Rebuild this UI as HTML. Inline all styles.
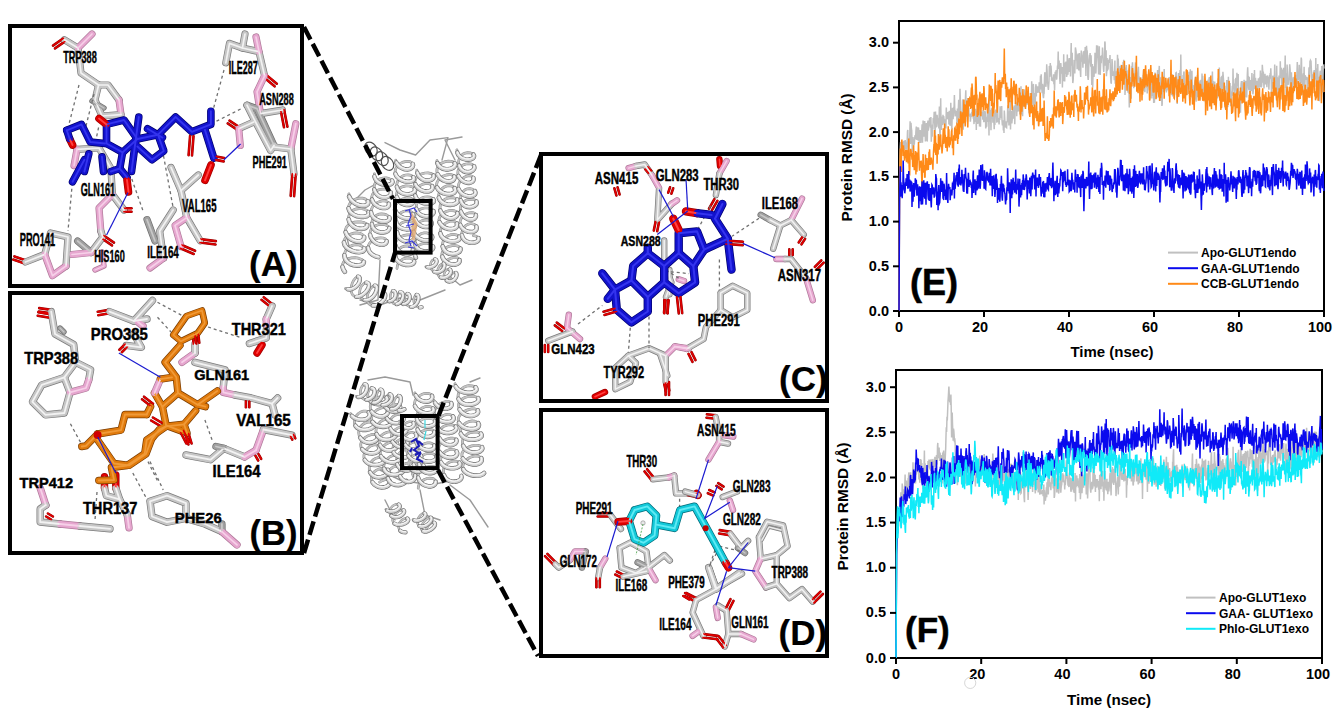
<!DOCTYPE html>
<html><head><meta charset="utf-8"><style>
html,body{margin:0;padding:0;background:#fff;width:1333px;height:714px;overflow:hidden}
svg{display:block}
</style></head><body>
<svg width="1333" height="714" viewBox="0 0 1333 714">
<rect width="1333" height="714" fill="#fff"/>
<rect x="899" y="21" width="425" height="290" fill="none" stroke="#000" stroke-width="2"/>
<polyline fill="none" stroke="#c0c0c0" stroke-width="1.5" stroke-linejoin="miter" points="899.0,311.0 899.6,179.9 900.3,147.1 900.6,142.1 900.9,144.6 901.3,158.5 901.6,143.3 901.9,143.0 902.2,150.8 902.6,143.2 902.9,142.8 903.2,142.9 903.5,144.9 903.9,140.8 904.2,150.1 904.5,147.4 904.8,149.0 905.2,140.1 905.5,142.3 905.8,145.3 906.1,149.8 906.5,146.2 906.8,142.9 907.1,144.1 907.5,131.0 907.8,130.0 908.1,160.5 908.4,161.1 908.8,146.8 909.1,145.1 909.4,139.3 909.7,137.6 910.1,121.2 910.4,143.8 910.7,143.1 911.0,122.7 911.4,129.0 911.7,130.3 912.0,140.2 912.3,152.0 912.7,139.6 913.0,136.9 913.3,147.1 913.6,145.0 914.0,139.2 914.3,144.8 914.6,139.0 915.0,135.8 915.3,135.3 915.6,139.5 915.9,131.3 916.3,126.6 916.6,129.9 916.9,140.1 917.2,129.6 917.6,137.0 917.9,127.2 918.2,140.8 918.5,127.5 918.9,131.8 919.2,142.9 919.5,137.8 919.8,133.2 920.2,130.1 920.5,139.6 920.8,142.9 921.2,132.7 921.5,135.5 921.8,130.2 922.1,124.4 922.5,142.8 922.8,131.4 923.1,120.4 923.4,130.1 923.8,136.7 924.1,125.1 924.4,126.3 924.7,121.0 925.1,129.9 925.4,141.4 925.7,132.7 926.0,133.2 926.4,123.0 926.7,125.1 927.0,140.7 927.3,140.8 927.7,123.4 928.0,120.6 928.3,130.7 928.7,127.8 929.0,123.1 929.3,121.7 929.6,117.7 930.0,121.8 930.3,125.5 930.6,127.7 930.9,117.1 931.3,141.8 931.6,130.3 931.9,125.8 932.2,136.7 932.6,124.6 932.9,129.6 933.2,118.1 933.5,123.3 933.9,117.9 934.2,111.8 934.5,117.1 934.9,128.7 935.2,136.7 935.5,111.4 935.8,120.5 936.2,127.4 936.5,122.0 936.8,123.3 937.1,114.8 937.5,119.3 937.8,120.5 938.1,126.6 938.4,118.2 938.8,128.4 939.1,116.7 939.4,106.5 939.7,129.1 940.1,142.4 940.4,120.0 940.7,98.2 941.0,122.1 941.4,130.0 941.7,116.5 942.0,125.0 942.4,124.2 942.7,122.6 943.0,114.7 943.3,120.5 943.7,116.1 944.0,118.7 944.3,124.8 944.6,121.9 945.0,126.3 945.3,119.3 945.6,126.9 945.9,128.4 946.3,107.5 946.6,114.7 946.9,116.4 947.2,112.0 947.6,118.6 947.9,118.5 948.2,113.0 948.6,112.7 948.9,124.5 949.2,110.8 949.5,119.1 949.9,124.9 950.2,125.0 950.5,120.7 950.8,102.7 951.2,121.4 951.5,114.9 951.8,132.2 952.1,118.7 952.5,107.7 952.8,114.3 953.1,119.2 953.4,113.1 953.8,107.6 954.1,106.4 954.4,95.1 954.7,106.9 955.1,116.4 955.4,114.8 955.7,113.8 956.1,112.0 956.4,112.5 956.7,110.9 957.0,125.7 957.4,108.5 957.7,115.8 958.0,122.5 958.3,109.0 958.7,99.9 959.0,104.4 959.3,108.1 959.6,118.1 960.0,88.8 960.3,98.0 960.6,116.9 960.9,118.6 961.3,111.7 961.6,123.5 961.9,112.0 962.3,114.3 962.6,100.7 962.9,99.5 963.2,129.8 963.6,114.6 963.9,124.6 964.2,104.5 964.5,107.4 964.9,105.0 965.2,117.8 965.5,97.0 965.8,90.3 966.2,114.3 966.5,108.4 966.8,115.7 967.1,112.2 967.5,121.7 967.8,98.0 968.1,115.8 968.4,114.6 968.8,107.8 969.1,115.7 969.4,114.3 969.8,116.7 970.1,113.8 970.4,121.7 970.7,117.7 971.1,114.8 971.4,115.2 971.7,112.1 972.0,114.3 972.4,106.2 972.7,113.1 973.0,113.4 973.3,117.9 973.7,117.9 974.0,124.1 974.3,110.9 974.6,121.4 975.0,120.8 975.3,111.6 975.6,108.9 976.0,115.0 976.3,130.0 976.6,113.5 976.9,110.8 977.3,124.1 977.6,109.3 977.9,117.9 978.2,123.6 978.6,115.0 978.9,115.1 979.2,112.0 979.5,126.4 979.9,101.6 980.2,115.5 980.5,126.8 980.8,111.8 981.2,116.1 981.5,111.6 981.8,116.1 982.1,114.9 982.5,112.2 982.8,119.8 983.1,109.9 983.5,117.0 983.8,122.1 984.1,115.6 984.4,111.0 984.8,115.5 985.1,121.9 985.4,111.3 985.7,128.4 986.1,126.7 986.4,117.4 986.7,126.8 987.0,117.6 987.4,116.1 987.7,107.8 988.0,120.9 988.3,121.8 988.7,114.1 989.0,135.4 989.3,94.6 989.7,116.1 990.0,121.7 990.3,110.0 990.6,114.6 991.0,130.2 991.3,114.2 991.6,108.3 991.9,117.8 992.3,118.8 992.6,112.7 992.9,122.8 993.2,114.2 993.6,114.1 993.9,121.4 994.2,129.2 994.5,121.6 994.9,125.1 995.2,110.4 995.5,113.9 995.8,109.6 996.2,113.9 996.5,114.0 996.8,122.7 997.2,112.9 997.5,101.2 997.8,115.8 998.1,121.8 998.5,119.7 998.8,122.0 999.1,124.4 999.4,118.1 999.8,120.1 1000.1,106.3 1000.4,114.9 1000.7,114.4 1001.1,109.1 1001.4,118.2 1001.7,106.1 1002.0,120.3 1002.4,125.4 1002.7,123.0 1003.0,120.4 1003.4,130.5 1003.7,121.7 1004.0,133.1 1004.3,110.6 1004.7,117.3 1005.0,123.7 1005.3,127.5 1005.6,123.8 1006.0,121.3 1006.3,127.3 1006.6,127.6 1006.9,121.4 1007.3,122.4 1007.6,110.3 1007.9,105.4 1008.2,113.3 1008.6,111.3 1008.9,125.6 1009.2,112.6 1009.5,114.6 1009.9,110.7 1010.2,100.2 1010.5,129.6 1010.9,115.7 1011.2,123.3 1011.5,110.9 1011.8,123.5 1012.2,119.6 1012.5,112.6 1012.8,107.3 1013.1,110.2 1013.5,117.9 1013.8,117.7 1014.1,105.4 1014.4,109.6 1014.8,124.3 1015.1,106.8 1015.4,105.8 1015.7,101.5 1016.1,110.3 1016.4,102.6 1016.7,116.2 1017.1,105.8 1017.4,111.8 1017.7,103.5 1018.0,98.4 1018.4,111.4 1018.7,108.8 1019.0,107.2 1019.3,97.0 1019.7,98.2 1020.0,114.4 1020.3,104.2 1020.6,99.1 1021.0,86.2 1021.3,114.3 1021.6,111.7 1021.9,95.3 1022.3,113.3 1022.6,116.3 1022.9,102.6 1023.2,94.8 1023.6,106.7 1023.9,99.4 1024.2,100.9 1024.6,89.4 1024.9,98.9 1025.2,92.9 1025.5,106.9 1025.9,104.2 1026.2,102.6 1026.5,91.7 1026.8,93.5 1027.2,104.7 1027.5,95.4 1027.8,92.2 1028.1,98.5 1028.5,101.1 1028.8,101.0 1029.1,113.2 1029.4,100.4 1029.8,96.6 1030.1,104.6 1030.4,93.1 1030.8,107.5 1031.1,104.1 1031.4,102.4 1031.7,81.3 1032.1,105.7 1032.4,93.6 1032.7,87.2 1033.0,90.1 1033.4,83.9 1033.7,100.3 1034.0,114.8 1034.3,92.9 1034.7,103.6 1035.0,98.8 1035.3,104.5 1035.6,87.2 1036.0,84.2 1036.3,96.4 1036.6,85.8 1036.9,89.4 1037.3,92.3 1037.6,91.1 1037.9,92.8 1038.3,86.2 1038.6,86.9 1038.9,92.4 1039.2,82.2 1039.6,93.0 1039.9,88.0 1040.2,85.4 1040.5,75.7 1040.9,89.6 1041.2,74.2 1041.5,83.2 1041.8,88.3 1042.2,93.3 1042.5,83.9 1042.8,85.8 1043.1,95.7 1043.5,98.1 1043.8,93.8 1044.1,93.5 1044.5,78.5 1044.8,72.2 1045.1,74.6 1045.4,79.3 1045.8,86.8 1046.1,84.4 1046.4,76.7 1046.7,64.3 1047.1,71.1 1047.4,82.5 1047.7,82.5 1048.0,86.6 1048.4,89.9 1048.7,85.6 1049.0,81.1 1049.3,66.1 1049.7,77.0 1050.0,68.7 1050.3,63.0 1050.7,75.4 1051.0,65.6 1051.3,70.4 1051.6,80.8 1052.0,77.5 1052.3,78.5 1052.6,80.6 1052.9,80.7 1053.3,77.6 1053.6,74.3 1053.9,84.2 1054.2,79.2 1054.6,90.3 1054.9,78.0 1055.2,71.8 1055.5,73.8 1055.9,73.1 1056.2,70.2 1056.5,79.7 1056.8,78.3 1057.2,71.5 1057.5,65.5 1057.8,68.9 1058.2,51.6 1058.5,69.0 1058.8,64.1 1059.1,60.5 1059.5,71.0 1059.8,79.1 1060.1,83.9 1060.4,73.8 1060.8,63.1 1061.1,67.2 1061.4,68.9 1061.7,73.7 1062.1,66.9 1062.4,87.4 1062.7,72.6 1063.0,70.4 1063.4,81.3 1063.7,54.3 1064.0,77.0 1064.4,79.9 1064.7,81.4 1065.0,62.4 1065.3,74.0 1065.7,63.8 1066.0,61.7 1066.3,63.7 1066.6,77.0 1067.0,74.4 1067.3,54.5 1067.6,74.0 1067.9,74.8 1068.3,69.2 1068.6,59.6 1068.9,61.6 1069.2,58.0 1069.6,72.0 1069.9,58.8 1070.2,58.6 1070.5,76.4 1070.9,54.8 1071.2,43.1 1071.5,65.5 1071.9,64.2 1072.2,52.7 1072.5,73.7 1072.8,83.1 1073.2,79.7 1073.5,72.7 1073.8,71.0 1074.1,60.7 1074.5,60.8 1074.8,73.4 1075.1,61.5 1075.4,47.5 1075.8,49.6 1076.1,51.8 1076.4,60.4 1076.7,54.5 1077.1,69.2 1077.4,58.5 1077.7,62.7 1078.1,53.6 1078.4,56.8 1078.7,70.5 1079.0,63.8 1079.4,53.0 1079.7,69.7 1080.0,69.1 1080.3,70.7 1080.7,77.0 1081.0,58.2 1081.3,50.5 1081.6,52.8 1082.0,57.9 1082.3,61.6 1082.6,60.0 1082.9,67.7 1083.3,56.0 1083.6,51.8 1083.9,51.6 1084.2,63.7 1084.6,61.6 1084.9,63.0 1085.2,47.1 1085.6,56.4 1085.9,75.9 1086.2,61.7 1086.5,45.8 1086.9,51.7 1087.2,51.5 1087.5,58.4 1087.8,76.8 1088.2,80.0 1088.5,76.1 1088.8,65.7 1089.1,59.5 1089.5,54.7 1089.8,62.0 1090.1,53.0 1090.4,61.0 1090.8,66.7 1091.1,55.2 1091.4,67.0 1091.8,85.1 1092.1,75.8 1092.4,64.0 1092.7,87.4 1093.1,70.7 1093.4,66.4 1093.7,74.5 1094.0,77.0 1094.4,69.2 1094.7,68.0 1095.0,52.7 1095.3,56.3 1095.7,73.5 1096.0,71.8 1096.3,58.5 1096.6,45.3 1097.0,54.6 1097.3,57.6 1097.6,45.6 1097.9,58.3 1098.3,63.9 1098.6,74.5 1098.9,69.7 1099.3,46.2 1099.6,70.3 1099.9,64.5 1100.2,74.9 1100.6,64.7 1100.9,55.9 1101.2,63.2 1101.5,57.0 1101.9,55.5 1102.2,57.5 1102.5,47.5 1102.8,52.8 1103.2,63.2 1103.5,69.0 1103.8,71.9 1104.1,61.7 1104.5,65.8 1104.8,41.5 1105.1,42.9 1105.5,60.4 1105.8,65.7 1106.1,50.3 1106.4,76.2 1106.8,70.9 1107.1,57.9 1107.4,70.2 1107.7,69.7 1108.1,68.6 1108.4,60.0 1108.7,62.2 1109.0,60.6 1109.4,58.7 1109.7,62.9 1110.0,55.1 1110.3,68.5 1110.7,77.7 1111.0,82.9 1111.3,83.0 1111.6,74.2 1112.0,59.1 1112.3,62.5 1112.6,70.0 1113.0,75.9 1113.3,73.1 1113.6,71.5 1113.9,72.6 1114.3,80.2 1114.6,74.3 1114.9,60.6 1115.2,83.8 1115.6,73.7 1115.9,87.0 1116.2,71.3 1116.5,75.3 1116.9,87.5 1117.2,72.6 1117.5,54.7 1117.8,64.6 1118.2,58.5 1118.5,67.4 1118.8,87.1 1119.2,70.2 1119.5,73.6 1119.8,83.3 1120.1,67.2 1120.5,67.5 1120.8,74.5 1121.1,64.8 1121.4,77.0 1121.8,67.6 1122.1,78.6 1122.4,69.2 1122.7,80.6 1123.1,62.1 1123.4,67.9 1123.7,59.7 1124.0,76.5 1124.4,78.0 1124.7,67.6 1125.0,95.0 1125.3,88.0 1125.7,69.0 1126.0,69.1 1126.3,65.0 1126.7,74.8 1127.0,70.2 1127.3,80.0 1127.6,87.9 1128.0,92.7 1128.3,84.6 1128.6,82.6 1128.9,83.0 1129.3,107.5 1129.6,100.9 1129.9,87.2 1130.2,77.1 1130.6,82.0 1130.9,85.8 1131.2,98.8 1131.5,66.2 1131.9,84.2 1132.2,65.7 1132.5,62.3 1132.9,72.2 1133.2,81.7 1133.5,78.3 1133.8,88.2 1134.2,79.0 1134.5,78.9 1134.8,74.5 1135.1,70.0 1135.5,62.4 1135.8,78.2 1136.1,70.3 1136.4,83.6 1136.8,87.8 1137.1,86.7 1137.4,89.4 1137.7,73.9 1138.1,70.5 1138.4,66.8 1138.7,76.7 1139.0,76.8 1139.4,83.9 1139.7,90.5 1140.0,78.9 1140.4,77.6 1140.7,88.7 1141.0,77.5 1141.3,94.1 1141.7,85.3 1142.0,86.9 1142.3,86.5 1142.6,91.1 1143.0,75.3 1143.3,74.7 1143.6,69.4 1143.9,76.9 1144.3,90.7 1144.6,86.6 1144.9,92.3 1145.2,80.2 1145.6,71.0 1145.9,76.1 1146.2,85.1 1146.6,85.5 1146.9,80.9 1147.2,93.5 1147.5,83.5 1147.9,80.6 1148.2,86.1 1148.5,86.5 1148.8,81.8 1149.2,88.9 1149.5,90.7 1149.8,77.9 1150.1,79.4 1150.5,67.7 1150.8,87.0 1151.1,98.5 1151.4,78.8 1151.8,73.8 1152.1,86.7 1152.4,96.1 1152.7,86.6 1153.1,98.5 1153.4,89.8 1153.7,103.0 1154.1,90.2 1154.4,102.7 1154.7,90.2 1155.0,72.5 1155.4,82.9 1155.7,77.0 1156.0,87.2 1156.3,91.9 1156.7,98.2 1157.0,78.7 1157.3,83.0 1157.6,70.1 1158.0,90.2 1158.3,87.3 1158.6,84.1 1158.9,72.3 1159.3,65.9 1159.6,84.9 1159.9,93.7 1160.3,101.0 1160.6,77.3 1160.9,83.2 1161.2,89.4 1161.6,86.0 1161.9,106.0 1162.2,104.1 1162.5,81.6 1162.9,80.5 1163.2,82.2 1163.5,92.3 1163.8,81.6 1164.2,69.1 1164.5,90.9 1164.8,86.1 1165.1,88.7 1165.5,82.7 1165.8,84.2 1166.1,85.9 1166.4,92.4 1166.8,86.9 1167.1,90.5 1167.4,87.6 1167.8,86.2 1168.1,79.9 1168.4,88.6 1168.7,88.7 1169.1,77.1 1169.4,85.0 1169.7,87.3 1170.0,78.6 1170.4,81.3 1170.7,83.6 1171.0,83.1 1171.3,95.1 1171.7,84.0 1172.0,74.0 1172.3,77.8 1172.6,96.5 1173.0,85.9 1173.3,93.1 1173.6,89.3 1174.0,85.4 1174.3,95.5 1174.6,77.0 1174.9,84.0 1175.3,78.7 1175.6,78.7 1175.9,72.8 1176.2,72.6 1176.6,94.7 1176.9,87.7 1177.2,104.0 1177.5,94.1 1177.9,82.0 1178.2,77.3 1178.5,73.1 1178.8,85.9 1179.2,83.3 1179.5,84.5 1179.8,75.1 1180.1,70.1 1180.5,85.1 1180.8,54.4 1181.1,78.3 1181.5,87.3 1181.8,81.5 1182.1,78.8 1182.4,79.9 1182.8,90.1 1183.1,75.0 1183.4,83.1 1183.7,72.8 1184.1,71.4 1184.4,93.3 1184.7,96.3 1185.0,97.3 1185.4,87.1 1185.7,86.2 1186.0,84.2 1186.3,92.8 1186.7,84.6 1187.0,74.5 1187.3,94.7 1187.7,90.3 1188.0,85.6 1188.3,87.5 1188.6,88.6 1189.0,72.6 1189.3,72.6 1189.6,76.3 1189.9,90.6 1190.3,69.2 1190.6,79.5 1190.9,89.9 1191.2,90.6 1191.6,92.0 1191.9,70.7 1192.2,81.3 1192.5,85.2 1192.9,104.6 1193.2,85.4 1193.5,95.6 1193.8,98.8 1194.2,85.1 1194.5,94.0 1194.8,82.1 1195.2,76.8 1195.5,99.7 1195.8,91.7 1196.1,101.6 1196.5,91.6 1196.8,81.0 1197.1,97.3 1197.4,75.0 1197.8,87.0 1198.1,97.3 1198.4,91.0 1198.7,81.9 1199.1,97.6 1199.4,90.1 1199.7,99.6 1200.0,80.6 1200.4,84.6 1200.7,90.4 1201.0,79.7 1201.4,96.3 1201.7,93.1 1202.0,73.6 1202.3,85.2 1202.7,75.7 1203.0,83.0 1203.3,92.3 1203.6,90.9 1204.0,87.8 1204.3,91.1 1204.6,95.4 1204.9,96.1 1205.3,102.1 1205.6,90.3 1205.9,85.1 1206.2,80.8 1206.6,100.9 1206.9,84.3 1207.2,87.0 1207.5,99.4 1207.9,89.8 1208.2,81.4 1208.5,81.8 1208.9,80.2 1209.2,77.9 1209.5,77.8 1209.8,85.5 1210.2,104.4 1210.5,98.2 1210.8,87.3 1211.1,91.5 1211.5,82.9 1211.8,79.8 1212.1,85.3 1212.4,71.4 1212.8,91.7 1213.1,80.9 1213.4,89.9 1213.7,94.7 1214.1,84.5 1214.4,92.0 1214.7,81.6 1215.1,95.8 1215.4,89.4 1215.7,95.1 1216.0,91.4 1216.4,91.7 1216.7,98.0 1217.0,84.8 1217.3,97.3 1217.7,98.2 1218.0,82.9 1218.3,78.3 1218.6,79.8 1219.0,82.8 1219.3,67.5 1219.6,92.6 1219.9,95.0 1220.3,97.7 1220.6,82.7 1220.9,84.0 1221.2,77.5 1221.6,77.0 1221.9,86.8 1222.2,94.2 1222.6,97.5 1222.9,71.7 1223.2,75.6 1223.5,79.7 1223.9,88.4 1224.2,89.4 1224.5,90.9 1224.8,91.1 1225.2,108.4 1225.5,93.3 1225.8,92.2 1226.1,86.3 1226.5,85.5 1226.8,80.0 1227.1,85.8 1227.4,80.5 1227.8,107.1 1228.1,101.6 1228.4,76.7 1228.8,95.0 1229.1,91.8 1229.4,82.7 1229.7,93.7 1230.1,83.1 1230.4,98.3 1230.7,106.2 1231.0,103.3 1231.4,105.2 1231.7,92.1 1232.0,91.4 1232.3,85.8 1232.7,95.7 1233.0,68.5 1233.3,83.6 1233.6,87.0 1234.0,83.6 1234.3,88.6 1234.6,93.1 1234.9,88.2 1235.3,80.1 1235.6,80.2 1235.9,77.9 1236.3,89.8 1236.6,94.6 1236.9,72.7 1237.2,85.8 1237.6,83.1 1237.9,80.3 1238.2,73.9 1238.5,95.4 1238.9,93.5 1239.2,92.6 1239.5,91.2 1239.8,108.4 1240.2,93.3 1240.5,112.8 1240.8,91.1 1241.1,83.6 1241.5,81.2 1241.8,95.5 1242.1,81.1 1242.5,92.5 1242.8,98.4 1243.1,97.7 1243.4,96.4 1243.8,87.5 1244.1,79.8 1244.4,102.2 1244.7,94.8 1245.1,80.8 1245.4,83.1 1245.7,81.1 1246.0,97.2 1246.4,80.8 1246.7,97.6 1247.0,87.1 1247.3,74.7 1247.7,67.2 1248.0,76.7 1248.3,75.9 1248.6,88.0 1249.0,90.0 1249.3,76.7 1249.6,83.0 1250.0,85.6 1250.3,96.9 1250.6,86.7 1250.9,80.0 1251.3,90.2 1251.6,90.3 1251.9,73.0 1252.2,80.2 1252.6,85.9 1252.9,94.3 1253.2,92.0 1253.5,88.3 1253.9,73.9 1254.2,86.7 1254.5,69.9 1254.8,88.2 1255.2,88.0 1255.5,77.9 1255.8,84.4 1256.2,90.8 1256.5,86.6 1256.8,80.7 1257.1,97.1 1257.5,89.0 1257.8,85.7 1258.1,87.3 1258.4,78.2 1258.8,86.7 1259.1,87.1 1259.4,83.8 1259.7,77.2 1260.1,83.3 1260.4,70.4 1260.7,87.3 1261.0,73.2 1261.4,87.4 1261.7,85.2 1262.0,80.2 1262.3,64.8 1262.7,70.6 1263.0,82.8 1263.3,71.6 1263.7,81.3 1264.0,88.5 1264.3,80.0 1264.6,80.7 1265.0,73.7 1265.3,84.4 1265.6,79.3 1265.9,75.8 1266.3,77.9 1266.6,80.9 1266.9,87.2 1267.2,75.4 1267.6,78.7 1267.9,76.5 1268.2,83.0 1268.5,81.5 1268.9,89.8 1269.2,82.5 1269.5,75.0 1269.9,78.7 1270.2,73.1 1270.5,76.3 1270.8,68.3 1271.2,79.1 1271.5,93.8 1271.8,80.2 1272.1,81.7 1272.5,88.8 1272.8,77.0 1273.1,77.2 1273.4,75.7 1273.8,81.7 1274.1,78.8 1274.4,77.5 1274.7,64.5 1275.1,81.7 1275.4,80.3 1275.7,76.8 1276.0,93.2 1276.4,96.3 1276.7,65.7 1277.0,90.6 1277.4,77.4 1277.7,85.8 1278.0,87.2 1278.3,97.6 1278.7,91.2 1279.0,75.5 1279.3,89.6 1279.6,76.6 1280.0,75.6 1280.3,61.2 1280.6,78.2 1280.9,68.0 1281.3,68.5 1281.6,78.3 1281.9,92.3 1282.2,69.4 1282.6,87.5 1282.9,84.7 1283.2,72.7 1283.6,67.8 1283.9,82.8 1284.2,79.8 1284.5,81.0 1284.9,69.3 1285.2,55.4 1285.5,87.9 1285.8,73.2 1286.2,100.9 1286.5,84.0 1286.8,89.1 1287.1,64.6 1287.5,73.6 1287.8,83.4 1288.1,83.9 1288.4,84.6 1288.8,78.4 1289.1,79.8 1289.4,73.3 1289.7,64.4 1290.1,69.1 1290.4,86.3 1290.7,93.9 1291.1,88.6 1291.4,72.3 1291.7,79.7 1292.0,84.3 1292.4,78.8 1292.7,90.3 1293.0,90.9 1293.3,77.3 1293.7,80.7 1294.0,82.8 1294.3,76.9 1294.6,82.9 1295.0,85.3 1295.3,84.0 1295.6,74.8 1295.9,77.1 1296.3,88.1 1296.6,83.4 1296.9,74.3 1297.3,61.9 1297.6,83.8 1297.9,77.0 1298.2,80.3 1298.6,72.1 1298.9,73.1 1299.2,64.9 1299.5,70.8 1299.9,81.1 1300.2,83.6 1300.5,76.4 1300.8,74.7 1301.2,57.6 1301.5,59.3 1301.8,83.4 1302.1,76.8 1302.5,89.1 1302.8,94.9 1303.1,76.4 1303.4,73.4 1303.8,85.8 1304.1,66.7 1304.4,83.6 1304.8,89.5 1305.1,75.8 1305.4,76.0 1305.7,79.2 1306.1,79.2 1306.4,76.8 1306.7,79.2 1307.0,80.1 1307.4,94.6 1307.7,93.7 1308.0,77.2 1308.3,84.0 1308.7,75.3 1309.0,67.4 1309.3,78.7 1309.6,76.2 1310.0,60.6 1310.3,68.2 1310.6,60.6 1311.0,61.3 1311.3,67.9 1311.6,76.8 1311.9,85.0 1312.3,89.4 1312.6,77.2 1312.9,74.3 1313.2,78.9 1313.6,71.5 1313.9,81.8 1314.2,70.1 1314.5,76.0 1314.9,78.2 1315.2,78.4 1315.5,79.3 1315.8,58.0 1316.2,86.7 1316.5,79.1 1316.8,68.3 1317.1,70.0 1317.5,78.9 1317.8,64.1 1318.1,83.8 1318.5,90.7 1318.8,76.8 1319.1,90.1 1319.4,101.2 1319.8,76.8 1320.1,71.7 1320.4,70.7 1320.7,80.6 1321.1,77.5 1321.4,86.2 1321.7,66.0 1322.0,68.8 1322.4,69.9 1322.7,92.5 1323.0,75.3 1323.3,65.3 1323.7,65.1 1324.0,68.6"/>
<polyline fill="none" stroke="#ff8a18" stroke-width="1.5" stroke-linejoin="miter" points="899.0,311.0 899.6,181.0 900.3,148.5 900.6,154.2 900.9,154.9 901.3,171.9 901.6,141.5 901.9,139.5 902.2,151.3 902.6,145.4 902.9,148.1 903.2,155.9 903.5,145.4 903.9,153.6 904.2,156.0 904.5,160.6 904.8,151.7 905.2,154.2 905.5,149.7 905.8,158.2 906.1,154.5 906.5,162.2 906.8,150.0 907.1,152.5 907.5,152.2 907.8,151.6 908.1,163.4 908.4,151.8 908.8,138.6 909.1,165.8 909.4,173.6 909.7,173.9 910.1,154.9 910.4,156.1 910.7,148.9 911.0,150.2 911.4,154.9 911.7,155.6 912.0,159.7 912.3,152.4 912.7,167.1 913.0,165.2 913.3,159.4 913.6,145.3 914.0,163.1 914.3,170.2 914.6,168.0 915.0,155.0 915.3,161.8 915.6,150.9 915.9,174.6 916.3,156.0 916.6,152.3 916.9,171.7 917.2,163.8 917.6,153.3 917.9,160.1 918.2,154.5 918.5,142.0 918.9,156.3 919.2,164.6 919.5,170.8 919.8,160.9 920.2,165.6 920.5,166.7 920.8,166.6 921.2,160.5 921.5,173.3 921.8,180.5 922.1,189.8 922.5,162.5 922.8,165.1 923.1,154.1 923.4,164.0 923.8,172.7 924.1,165.0 924.4,167.8 924.7,177.8 925.1,176.9 925.4,154.5 925.7,160.1 926.0,160.6 926.4,166.0 926.7,170.4 927.0,158.1 927.3,162.8 927.7,169.0 928.0,165.0 928.3,170.0 928.7,161.8 929.0,151.7 929.3,164.9 929.6,149.2 930.0,162.1 930.3,158.2 930.6,165.0 930.9,161.3 931.3,157.7 931.6,160.4 931.9,162.9 932.2,162.9 932.6,163.7 932.9,169.7 933.2,160.1 933.5,151.8 933.9,145.2 934.2,145.3 934.5,130.1 934.9,143.5 935.2,152.8 935.5,135.6 935.8,154.9 936.2,142.8 936.5,155.2 936.8,147.1 937.1,163.8 937.5,144.0 937.8,147.4 938.1,154.5 938.4,134.1 938.8,136.2 939.1,142.2 939.4,149.8 939.7,145.6 940.1,145.1 940.4,137.3 940.7,134.4 941.0,145.3 941.4,146.7 941.7,146.7 942.0,153.4 942.4,148.8 942.7,143.4 943.0,135.6 943.3,128.3 943.7,143.9 944.0,136.6 944.3,142.8 944.6,123.6 945.0,136.2 945.3,134.7 945.6,146.1 945.9,147.8 946.3,139.8 946.6,142.5 946.9,137.1 947.2,151.4 947.6,136.6 947.9,145.6 948.2,126.3 948.6,137.9 948.9,129.3 949.2,147.5 949.5,137.0 949.9,145.1 950.2,143.8 950.5,139.2 950.8,140.7 951.2,136.2 951.5,131.1 951.8,130.5 952.1,136.3 952.5,148.2 952.8,146.5 953.1,140.9 953.4,155.3 953.8,135.2 954.1,138.2 954.4,138.7 954.7,128.4 955.1,127.6 955.4,130.5 955.7,140.8 956.1,132.1 956.4,129.1 956.7,137.9 957.0,123.8 957.4,124.2 957.7,144.1 958.0,131.4 958.3,139.1 958.7,120.8 959.0,118.4 959.3,132.9 959.6,134.3 960.0,126.0 960.3,126.2 960.6,111.3 960.9,113.4 961.3,121.9 961.6,116.4 961.9,136.0 962.3,121.1 962.6,112.3 962.9,118.2 963.2,123.5 963.6,113.8 963.9,99.5 964.2,109.7 964.5,122.7 964.9,104.3 965.2,126.5 965.5,112.0 965.8,116.8 966.2,105.0 966.5,116.2 966.8,100.6 967.1,104.6 967.5,121.8 967.8,127.5 968.1,114.9 968.4,98.0 968.8,102.8 969.1,104.0 969.4,106.3 969.8,98.3 970.1,98.8 970.4,99.2 970.7,109.1 971.1,93.3 971.4,87.6 971.7,108.1 972.0,83.6 972.4,90.4 972.7,102.0 973.0,116.5 973.3,99.0 973.7,95.4 974.0,103.9 974.3,115.8 974.6,94.8 975.0,103.5 975.3,104.7 975.6,77.7 976.0,76.8 976.3,86.2 976.6,100.0 976.9,94.4 977.3,117.0 977.6,103.0 977.9,106.5 978.2,111.7 978.6,115.4 978.9,98.9 979.2,98.3 979.5,97.6 979.9,91.7 980.2,104.1 980.5,110.3 980.8,116.3 981.2,105.9 981.5,94.2 981.8,98.7 982.1,93.3 982.5,106.9 982.8,104.3 983.1,106.1 983.5,110.5 983.8,86.0 984.1,88.1 984.4,101.8 984.8,105.2 985.1,100.2 985.4,110.3 985.7,97.3 986.1,108.2 986.4,103.3 986.7,107.4 987.0,103.9 987.4,110.0 987.7,113.4 988.0,109.2 988.3,105.8 988.7,101.7 989.0,97.7 989.3,84.6 989.7,87.2 990.0,96.5 990.3,90.8 990.6,100.9 991.0,85.8 991.3,89.4 991.6,105.9 991.9,92.6 992.3,88.7 992.6,116.5 992.9,107.4 993.2,102.8 993.6,113.5 993.9,109.0 994.2,106.8 994.5,94.2 994.9,92.7 995.2,73.1 995.5,93.0 995.8,85.1 996.2,91.9 996.5,91.9 996.8,103.6 997.2,112.6 997.5,105.4 997.8,90.9 998.1,80.5 998.5,85.8 998.8,88.0 999.1,99.4 999.4,82.6 999.8,79.9 1000.1,94.4 1000.4,93.9 1000.7,101.1 1001.1,81.9 1001.4,84.7 1001.7,87.8 1002.0,82.1 1002.4,77.4 1002.7,79.8 1003.0,83.8 1003.4,82.3 1003.7,84.0 1004.0,66.1 1004.3,48.5 1004.7,78.7 1005.0,74.3 1005.3,74.4 1005.6,89.0 1006.0,85.5 1006.3,97.2 1006.6,82.5 1006.9,94.3 1007.3,92.0 1007.6,86.9 1007.9,95.0 1008.2,108.3 1008.6,101.4 1008.9,89.2 1009.2,93.2 1009.5,91.7 1009.9,102.2 1010.2,94.9 1010.5,88.4 1010.9,92.5 1011.2,78.3 1011.5,92.2 1011.8,102.6 1012.2,110.1 1012.5,89.3 1012.8,94.1 1013.1,86.7 1013.5,89.5 1013.8,80.7 1014.1,81.5 1014.4,95.3 1014.8,93.5 1015.1,86.5 1015.4,103.9 1015.7,86.3 1016.1,84.0 1016.4,85.4 1016.7,95.6 1017.1,94.1 1017.4,105.5 1017.7,98.8 1018.0,102.5 1018.4,98.0 1018.7,101.8 1019.0,96.4 1019.3,87.8 1019.7,106.2 1020.0,92.6 1020.3,113.2 1020.6,119.9 1021.0,104.9 1021.3,100.2 1021.6,95.5 1021.9,111.6 1022.3,102.7 1022.6,99.1 1022.9,89.0 1023.2,97.7 1023.6,94.8 1023.9,106.6 1024.2,103.1 1024.6,104.5 1024.9,95.5 1025.2,107.2 1025.5,109.0 1025.9,98.0 1026.2,85.4 1026.5,93.9 1026.8,97.0 1027.2,103.3 1027.5,93.4 1027.8,95.7 1028.1,86.7 1028.5,96.2 1028.8,109.4 1029.1,109.8 1029.4,113.6 1029.8,117.0 1030.1,97.4 1030.4,96.5 1030.8,113.4 1031.1,93.0 1031.4,100.8 1031.7,112.9 1032.1,105.1 1032.4,107.2 1032.7,113.8 1033.0,125.3 1033.4,112.1 1033.7,107.0 1034.0,129.6 1034.3,109.7 1034.7,104.5 1035.0,112.4 1035.3,109.8 1035.6,112.7 1036.0,118.2 1036.3,116.0 1036.6,101.6 1036.9,121.3 1037.3,112.6 1037.6,111.1 1037.9,118.3 1038.3,118.2 1038.6,126.3 1038.9,124.1 1039.2,116.7 1039.6,112.7 1039.9,122.1 1040.2,92.4 1040.5,115.1 1040.9,115.5 1041.2,118.9 1041.5,121.5 1041.8,108.6 1042.2,120.3 1042.5,108.8 1042.8,107.9 1043.1,126.0 1043.5,113.8 1043.8,125.0 1044.1,100.4 1044.5,120.2 1044.8,130.1 1045.1,141.0 1045.4,139.0 1045.8,133.0 1046.1,135.4 1046.4,138.2 1046.7,134.9 1047.1,130.5 1047.4,116.2 1047.7,138.9 1048.0,134.5 1048.4,136.2 1048.7,140.9 1049.0,139.5 1049.3,135.8 1049.7,121.1 1050.0,124.5 1050.3,127.8 1050.7,118.7 1051.0,118.7 1051.3,122.4 1051.6,118.0 1052.0,126.4 1052.3,116.1 1052.6,114.4 1052.9,120.8 1053.3,128.6 1053.6,107.6 1053.9,113.6 1054.2,90.4 1054.6,114.6 1054.9,107.9 1055.2,116.3 1055.5,112.3 1055.9,106.2 1056.2,117.6 1056.5,114.3 1056.8,110.9 1057.2,110.0 1057.5,105.4 1057.8,100.3 1058.2,100.1 1058.5,104.4 1058.8,110.0 1059.1,117.4 1059.5,115.6 1059.8,113.0 1060.1,102.0 1060.4,107.4 1060.8,116.0 1061.1,102.7 1061.4,111.1 1061.7,112.9 1062.1,108.9 1062.4,102.1 1062.7,124.1 1063.0,118.9 1063.4,106.9 1063.7,108.3 1064.0,112.7 1064.4,111.2 1064.7,94.9 1065.0,105.9 1065.3,99.1 1065.7,96.6 1066.0,106.2 1066.3,101.2 1066.6,107.3 1067.0,110.1 1067.3,115.0 1067.6,99.7 1067.9,106.3 1068.3,109.2 1068.6,114.6 1068.9,91.8 1069.2,94.8 1069.6,102.7 1069.9,109.3 1070.2,117.8 1070.5,104.9 1070.9,101.6 1071.2,114.7 1071.5,96.9 1071.9,95.5 1072.2,109.4 1072.5,109.5 1072.8,108.5 1073.2,103.3 1073.5,104.5 1073.8,117.1 1074.1,94.6 1074.5,98.4 1074.8,91.6 1075.1,89.9 1075.4,101.5 1075.8,99.8 1076.1,96.1 1076.4,94.9 1076.7,102.2 1077.1,107.7 1077.4,103.7 1077.7,109.5 1078.1,108.9 1078.4,120.9 1078.7,106.4 1079.0,111.9 1079.4,109.4 1079.7,104.6 1080.0,100.3 1080.3,86.3 1080.7,96.6 1081.0,112.4 1081.3,103.6 1081.6,107.4 1082.0,100.1 1082.3,107.2 1082.6,109.1 1082.9,107.9 1083.3,108.5 1083.6,118.5 1083.9,111.4 1084.2,104.3 1084.6,92.5 1084.9,101.7 1085.2,104.7 1085.6,97.5 1085.9,96.1 1086.2,86.9 1086.5,93.0 1086.9,99.4 1087.2,89.8 1087.5,85.8 1087.8,101.2 1088.2,99.9 1088.5,114.6 1088.8,107.4 1089.1,109.8 1089.5,104.9 1089.8,105.8 1090.1,103.5 1090.4,102.3 1090.8,97.2 1091.1,98.0 1091.4,104.7 1091.8,112.4 1092.1,93.6 1092.4,87.4 1092.7,101.2 1093.1,96.3 1093.4,112.2 1093.7,116.5 1094.0,107.0 1094.4,90.3 1094.7,106.8 1095.0,109.2 1095.3,89.7 1095.7,113.6 1096.0,98.7 1096.3,96.3 1096.6,101.4 1097.0,99.4 1097.3,79.0 1097.6,104.6 1097.9,104.4 1098.3,103.7 1098.6,107.2 1098.9,113.4 1099.3,90.9 1099.6,96.5 1099.9,114.2 1100.2,109.9 1100.6,99.8 1100.9,97.3 1101.2,111.8 1101.5,104.3 1101.9,99.6 1102.2,97.3 1102.5,96.7 1102.8,114.8 1103.2,89.2 1103.5,96.2 1103.8,84.8 1104.1,73.3 1104.5,95.3 1104.8,109.6 1105.1,95.9 1105.5,101.1 1105.8,104.6 1106.1,110.3 1106.4,89.3 1106.8,101.6 1107.1,112.5 1107.4,107.4 1107.7,112.0 1108.1,102.3 1108.4,104.6 1108.7,110.5 1109.0,98.3 1109.4,105.5 1109.7,96.1 1110.0,89.3 1110.3,100.9 1110.7,106.2 1111.0,100.5 1111.3,93.4 1111.6,98.6 1112.0,98.0 1112.3,98.5 1112.6,95.3 1113.0,91.2 1113.3,100.5 1113.6,100.3 1113.9,95.3 1114.3,99.3 1114.6,93.0 1114.9,87.5 1115.2,90.1 1115.6,94.9 1115.9,96.9 1116.2,75.9 1116.5,77.2 1116.9,93.3 1117.2,94.4 1117.5,71.8 1117.8,68.4 1118.2,78.3 1118.5,71.7 1118.8,91.1 1119.2,83.1 1119.5,74.4 1119.8,92.9 1120.1,88.4 1120.5,74.6 1120.8,68.3 1121.1,80.9 1121.4,76.9 1121.8,65.1 1122.1,78.5 1122.4,89.7 1122.7,82.1 1123.1,82.9 1123.4,69.2 1123.7,75.2 1124.0,84.7 1124.4,60.8 1124.7,78.6 1125.0,75.1 1125.3,72.6 1125.7,71.1 1126.0,75.8 1126.3,73.6 1126.7,78.5 1127.0,90.8 1127.3,84.1 1127.6,82.3 1128.0,81.7 1128.3,79.0 1128.6,84.6 1128.9,70.0 1129.3,64.4 1129.6,94.0 1129.9,83.3 1130.2,86.5 1130.6,102.9 1130.9,82.3 1131.2,85.6 1131.5,84.5 1131.9,86.5 1132.2,72.8 1132.5,68.1 1132.9,74.9 1133.2,73.2 1133.5,79.4 1133.8,78.9 1134.2,86.1 1134.5,81.5 1134.8,86.6 1135.1,78.9 1135.5,73.3 1135.8,76.2 1136.1,69.8 1136.4,55.8 1136.8,91.8 1137.1,83.4 1137.4,86.1 1137.7,85.9 1138.1,93.3 1138.4,83.6 1138.7,83.7 1139.0,86.9 1139.4,84.6 1139.7,86.8 1140.0,101.8 1140.4,77.5 1140.7,82.8 1141.0,89.4 1141.3,80.8 1141.7,86.6 1142.0,100.5 1142.3,78.9 1142.6,94.6 1143.0,86.6 1143.3,81.8 1143.6,70.6 1143.9,69.1 1144.3,77.2 1144.6,86.9 1144.9,86.5 1145.2,74.0 1145.6,65.2 1145.9,73.3 1146.2,85.1 1146.6,74.3 1146.9,83.2 1147.2,85.7 1147.5,85.3 1147.9,78.1 1148.2,78.9 1148.5,73.3 1148.8,69.4 1149.2,74.9 1149.5,99.6 1149.8,100.6 1150.1,85.7 1150.5,83.8 1150.8,65.1 1151.1,78.5 1151.4,82.8 1151.8,75.0 1152.1,72.0 1152.4,82.0 1152.7,78.7 1153.1,91.1 1153.4,92.7 1153.7,75.2 1154.1,92.6 1154.4,77.9 1154.7,76.2 1155.0,75.1 1155.4,73.7 1155.7,76.3 1156.0,99.2 1156.3,95.6 1156.7,91.5 1157.0,78.1 1157.3,91.5 1157.6,91.5 1158.0,88.7 1158.3,74.3 1158.6,93.4 1158.9,97.5 1159.3,82.3 1159.6,101.1 1159.9,85.7 1160.3,88.4 1160.6,98.3 1160.9,91.3 1161.2,94.4 1161.6,85.6 1161.9,81.9 1162.2,71.8 1162.5,81.6 1162.9,83.2 1163.2,89.2 1163.5,86.2 1163.8,76.7 1164.2,98.8 1164.5,83.2 1164.8,89.1 1165.1,85.7 1165.5,82.8 1165.8,77.8 1166.1,81.6 1166.4,87.8 1166.8,83.6 1167.1,85.1 1167.4,87.3 1167.8,84.5 1168.1,78.4 1168.4,83.0 1168.7,84.0 1169.1,96.2 1169.4,89.7 1169.7,102.4 1170.0,84.4 1170.4,93.6 1170.7,77.6 1171.0,59.7 1171.3,83.2 1171.7,74.9 1172.0,80.5 1172.3,89.8 1172.6,94.5 1173.0,84.2 1173.3,74.9 1173.6,81.1 1174.0,98.1 1174.3,98.5 1174.6,92.0 1174.9,77.4 1175.3,82.6 1175.6,83.6 1175.9,76.6 1176.2,86.6 1176.6,88.2 1176.9,89.4 1177.2,102.8 1177.5,87.8 1177.9,84.6 1178.2,79.2 1178.5,95.7 1178.8,96.8 1179.2,82.7 1179.5,84.3 1179.8,76.1 1180.1,92.5 1180.5,87.9 1180.8,94.0 1181.1,87.5 1181.5,92.4 1181.8,85.3 1182.1,79.1 1182.4,80.9 1182.8,101.8 1183.1,84.6 1183.4,84.3 1183.7,96.6 1184.1,98.4 1184.4,91.6 1184.7,85.3 1185.0,92.1 1185.4,103.5 1185.7,90.8 1186.0,88.6 1186.3,69.4 1186.7,95.3 1187.0,70.5 1187.3,70.8 1187.7,82.7 1188.0,74.7 1188.3,85.5 1188.6,81.0 1189.0,94.0 1189.3,90.6 1189.6,98.8 1189.9,105.5 1190.3,96.6 1190.6,97.6 1190.9,87.7 1191.2,79.6 1191.6,89.4 1191.9,90.1 1192.2,89.2 1192.5,104.4 1192.9,92.3 1193.2,91.4 1193.5,91.7 1193.8,100.5 1194.2,110.0 1194.5,98.2 1194.8,90.6 1195.2,80.4 1195.5,79.6 1195.8,76.8 1196.1,85.0 1196.5,80.7 1196.8,90.8 1197.1,86.6 1197.4,83.1 1197.8,67.8 1198.1,84.1 1198.4,100.7 1198.7,83.2 1199.1,96.6 1199.4,94.0 1199.7,95.4 1200.0,100.8 1200.4,83.8 1200.7,85.6 1201.0,96.1 1201.4,93.2 1201.7,96.6 1202.0,88.9 1202.3,95.2 1202.7,100.0 1203.0,100.2 1203.3,98.7 1203.6,92.3 1204.0,100.7 1204.3,96.1 1204.6,90.6 1204.9,73.7 1205.3,81.7 1205.6,115.3 1205.9,103.4 1206.2,99.6 1206.6,92.8 1206.9,80.9 1207.2,84.8 1207.5,110.8 1207.9,95.9 1208.2,93.9 1208.5,90.9 1208.9,82.5 1209.2,100.5 1209.5,87.1 1209.8,106.4 1210.2,97.3 1210.5,92.3 1210.8,75.5 1211.1,95.9 1211.5,109.2 1211.8,93.0 1212.1,100.1 1212.4,83.6 1212.8,98.2 1213.1,103.3 1213.4,87.2 1213.7,92.8 1214.1,86.7 1214.4,105.2 1214.7,84.5 1215.1,97.8 1215.4,89.6 1215.7,102.6 1216.0,110.4 1216.4,101.8 1216.7,96.1 1217.0,83.3 1217.3,90.2 1217.7,88.9 1218.0,89.1 1218.3,69.1 1218.6,96.4 1219.0,86.3 1219.3,95.3 1219.6,94.3 1219.9,100.7 1220.3,88.3 1220.6,105.1 1220.9,109.9 1221.2,102.0 1221.6,107.9 1221.9,94.1 1222.2,89.0 1222.6,101.5 1222.9,92.0 1223.2,101.6 1223.5,99.0 1223.9,97.9 1224.2,82.4 1224.5,94.0 1224.8,104.4 1225.2,107.1 1225.5,90.4 1225.8,109.9 1226.1,104.9 1226.5,103.0 1226.8,119.6 1227.1,107.5 1227.4,92.5 1227.8,95.1 1228.1,105.1 1228.4,94.6 1228.8,93.4 1229.1,80.8 1229.4,100.4 1229.7,102.5 1230.1,99.5 1230.4,100.3 1230.7,98.7 1231.0,99.9 1231.4,105.1 1231.7,113.9 1232.0,107.6 1232.3,112.9 1232.7,111.5 1233.0,107.1 1233.3,97.4 1233.6,92.2 1234.0,106.5 1234.3,99.1 1234.6,93.2 1234.9,98.8 1235.3,113.3 1235.6,121.3 1235.9,99.1 1236.3,92.6 1236.6,96.3 1236.9,108.2 1237.2,90.7 1237.6,88.3 1237.9,98.1 1238.2,102.1 1238.5,117.4 1238.9,99.0 1239.2,113.8 1239.5,98.7 1239.8,94.5 1240.2,98.7 1240.5,87.5 1240.8,100.4 1241.1,96.1 1241.5,93.3 1241.8,97.1 1242.1,103.5 1242.5,91.6 1242.8,95.3 1243.1,101.2 1243.4,102.5 1243.8,100.4 1244.1,82.2 1244.4,95.5 1244.7,101.7 1245.1,110.0 1245.4,113.3 1245.7,119.7 1246.0,103.8 1246.4,101.6 1246.7,109.7 1247.0,115.5 1247.3,107.4 1247.7,107.0 1248.0,113.6 1248.3,101.8 1248.6,100.1 1249.0,101.3 1249.3,94.8 1249.6,104.9 1250.0,90.9 1250.3,106.9 1250.6,98.4 1250.9,95.2 1251.3,101.8 1251.6,98.4 1251.9,111.0 1252.2,116.0 1252.6,106.5 1252.9,108.5 1253.2,98.1 1253.5,100.2 1253.9,95.9 1254.2,97.2 1254.5,98.5 1254.8,99.7 1255.2,103.9 1255.5,105.7 1255.8,85.6 1256.2,111.7 1256.5,105.4 1256.8,94.0 1257.1,95.9 1257.5,88.3 1257.8,93.5 1258.1,109.6 1258.4,106.0 1258.8,113.9 1259.1,96.3 1259.4,88.1 1259.7,101.6 1260.1,96.9 1260.4,103.5 1260.7,113.4 1261.0,107.7 1261.4,115.5 1261.7,109.0 1262.0,100.9 1262.3,94.5 1262.7,88.2 1263.0,99.8 1263.3,98.0 1263.7,95.9 1264.0,94.2 1264.3,121.6 1264.6,111.4 1265.0,95.8 1265.3,107.5 1265.6,99.1 1265.9,92.1 1266.3,112.7 1266.6,103.7 1266.9,97.9 1267.2,98.2 1267.6,110.8 1267.9,98.5 1268.2,102.7 1268.5,92.4 1268.9,92.9 1269.2,101.0 1269.5,96.9 1269.9,103.0 1270.2,104.4 1270.5,112.0 1270.8,102.7 1271.2,91.8 1271.5,94.6 1271.8,96.4 1272.1,101.7 1272.5,102.1 1272.8,91.7 1273.1,107.4 1273.4,82.0 1273.8,93.1 1274.1,77.4 1274.4,81.6 1274.7,95.6 1275.1,89.5 1275.4,91.9 1275.7,90.7 1276.0,87.6 1276.4,97.7 1276.7,100.8 1277.0,99.8 1277.4,107.2 1277.7,99.9 1278.0,94.0 1278.3,92.2 1278.7,92.2 1279.0,96.9 1279.3,88.3 1279.6,109.4 1280.0,101.0 1280.3,98.2 1280.6,87.4 1280.9,86.5 1281.3,85.1 1281.6,91.1 1281.9,85.0 1282.2,99.5 1282.6,94.2 1282.9,110.9 1283.2,83.6 1283.6,77.8 1283.9,94.3 1284.2,100.4 1284.5,112.2 1284.9,110.5 1285.2,96.5 1285.5,95.2 1285.8,105.7 1286.2,100.3 1286.5,100.3 1286.8,90.9 1287.1,86.6 1287.5,93.1 1287.8,92.0 1288.1,92.6 1288.4,109.9 1288.8,95.5 1289.1,93.9 1289.4,86.8 1289.7,106.2 1290.1,89.7 1290.4,97.1 1290.7,91.4 1291.1,82.3 1291.4,102.0 1291.7,105.5 1292.0,87.5 1292.4,100.5 1292.7,102.2 1293.0,89.8 1293.3,93.2 1293.7,86.0 1294.0,88.1 1294.3,91.3 1294.6,83.8 1295.0,72.0 1295.3,87.8 1295.6,78.7 1295.9,79.3 1296.3,87.8 1296.6,87.0 1296.9,98.3 1297.3,98.4 1297.6,91.1 1297.9,91.9 1298.2,81.0 1298.6,99.6 1298.9,96.0 1299.2,97.9 1299.5,94.3 1299.9,82.6 1300.2,99.1 1300.5,86.3 1300.8,94.9 1301.2,94.8 1301.5,83.9 1301.8,91.7 1302.1,85.8 1302.5,88.9 1302.8,91.9 1303.1,94.2 1303.4,106.0 1303.8,100.9 1304.1,92.0 1304.4,89.5 1304.8,102.7 1305.1,85.5 1305.4,84.7 1305.7,99.9 1306.1,101.5 1306.4,89.2 1306.7,104.7 1307.0,100.2 1307.4,93.3 1307.7,92.2 1308.0,91.3 1308.3,87.4 1308.7,96.1 1309.0,95.7 1309.3,74.7 1309.6,97.8 1310.0,95.7 1310.3,90.6 1310.6,95.5 1311.0,81.3 1311.3,87.2 1311.6,83.0 1311.9,109.6 1312.3,85.0 1312.6,79.1 1312.9,93.3 1313.2,79.9 1313.6,85.0 1313.9,80.8 1314.2,72.5 1314.5,84.4 1314.9,96.5 1315.2,91.3 1315.5,100.3 1315.8,98.7 1316.2,97.9 1316.5,97.2 1316.8,81.6 1317.1,80.4 1317.5,94.3 1317.8,81.0 1318.1,100.8 1318.5,97.3 1318.8,92.1 1319.1,79.9 1319.4,80.6 1319.8,83.0 1320.1,76.5 1320.4,79.7 1320.7,75.1 1321.1,91.6 1321.4,103.2 1321.7,95.5 1322.0,83.4 1322.4,85.0 1322.7,80.2 1323.0,80.4 1323.3,82.0 1323.7,79.9 1324.0,92.0"/>
<polyline fill="none" stroke="#0a0aee" stroke-width="1.5" stroke-linejoin="miter" points="899.0,311.0 899.6,195.2 900.3,166.2 900.6,196.7 900.9,182.4 901.3,186.3 901.6,186.6 901.9,185.0 902.2,198.2 902.6,188.4 902.9,190.7 903.2,160.5 903.5,176.0 903.9,184.3 904.2,186.0 904.5,189.5 904.8,193.3 905.2,189.5 905.5,182.3 905.8,186.0 906.1,178.2 906.5,184.9 906.8,185.1 907.1,174.1 907.5,178.9 907.8,187.9 908.1,187.9 908.4,182.6 908.8,171.0 909.1,184.5 909.4,187.8 909.7,179.5 910.1,191.5 910.4,190.2 910.7,181.2 911.0,181.3 911.4,185.0 911.7,181.8 912.0,206.9 912.3,184.8 912.7,194.0 913.0,201.7 913.3,189.3 913.6,183.1 914.0,190.2 914.3,196.7 914.6,190.2 915.0,189.3 915.3,178.3 915.6,180.6 915.9,185.3 916.3,179.8 916.6,188.2 916.9,195.8 917.2,186.6 917.6,184.3 917.9,189.8 918.2,195.4 918.5,189.4 918.9,208.2 919.2,189.4 919.5,186.2 919.8,201.3 920.2,192.6 920.5,198.0 920.8,186.7 921.2,204.6 921.5,200.8 921.8,187.9 922.1,181.4 922.5,204.4 922.8,197.9 923.1,190.2 923.4,195.3 923.8,180.3 924.1,197.2 924.4,190.1 924.7,198.7 925.1,182.7 925.4,189.4 925.7,193.7 926.0,204.8 926.4,182.4 926.7,183.8 927.0,184.1 927.3,181.4 927.7,186.7 928.0,195.3 928.3,198.8 928.7,199.7 929.0,183.9 929.3,200.9 929.6,198.8 930.0,196.3 930.3,191.7 930.6,188.0 930.9,200.7 931.3,207.4 931.6,196.4 931.9,184.7 932.2,185.2 932.6,189.4 932.9,194.4 933.2,191.2 933.5,194.4 933.9,187.4 934.2,197.7 934.5,193.4 934.9,194.2 935.2,189.6 935.5,190.9 935.8,174.0 936.2,177.6 936.5,178.6 936.8,205.1 937.1,199.2 937.5,199.7 937.8,191.5 938.1,210.3 938.4,189.5 938.8,185.1 939.1,201.6 939.4,203.4 939.7,202.6 940.1,196.2 940.4,190.2 940.7,178.3 941.0,192.0 941.4,188.4 941.7,191.9 942.0,180.7 942.4,185.3 942.7,181.6 943.0,198.7 943.3,196.2 943.7,200.1 944.0,183.7 944.3,185.7 944.6,193.2 945.0,196.0 945.3,189.6 945.6,196.7 945.9,200.0 946.3,190.2 946.6,172.9 946.9,188.5 947.2,194.5 947.6,200.4 947.9,203.0 948.2,189.7 948.6,183.8 948.9,188.4 949.2,187.0 949.5,188.1 949.9,188.0 950.2,200.2 950.5,195.2 950.8,189.6 951.2,194.6 951.5,193.5 951.8,195.5 952.1,192.3 952.5,182.6 952.8,189.3 953.1,189.0 953.4,181.6 953.8,180.8 954.1,172.7 954.4,198.5 954.7,183.0 955.1,188.9 955.4,185.6 955.7,179.5 956.1,176.0 956.4,175.2 956.7,181.5 957.0,172.1 957.4,183.6 957.7,185.3 958.0,178.6 958.3,186.8 958.7,168.6 959.0,172.3 959.3,164.5 959.6,178.7 960.0,184.8 960.3,182.1 960.6,177.0 960.9,185.4 961.3,180.2 961.6,181.7 961.9,169.8 962.3,183.5 962.6,174.2 962.9,184.3 963.2,189.2 963.6,188.5 963.9,191.9 964.2,182.9 964.5,174.1 964.9,178.3 965.2,175.9 965.5,167.9 965.8,176.0 966.2,178.5 966.5,182.7 966.8,193.6 967.1,178.8 967.5,193.7 967.8,179.6 968.1,181.0 968.4,172.9 968.8,179.7 969.1,187.0 969.4,180.1 969.8,185.2 970.1,183.6 970.4,181.6 970.7,182.4 971.1,183.0 971.4,187.9 971.7,184.4 972.0,197.9 972.4,186.6 972.7,191.5 973.0,175.6 973.3,170.5 973.7,193.1 974.0,183.2 974.3,182.7 974.6,189.4 975.0,179.4 975.3,184.3 975.6,195.1 976.0,186.8 976.3,183.8 976.6,181.1 976.9,190.4 977.3,179.0 977.6,175.3 977.9,188.3 978.2,187.9 978.6,183.6 978.9,186.1 979.2,169.6 979.5,176.8 979.9,187.7 980.2,188.7 980.5,183.6 980.8,164.9 981.2,178.5 981.5,179.7 981.8,177.1 982.1,180.6 982.5,164.2 982.8,181.0 983.1,175.7 983.5,178.7 983.8,176.1 984.1,188.8 984.4,170.3 984.8,179.7 985.1,181.0 985.4,188.7 985.7,189.1 986.1,179.8 986.4,174.4 986.7,174.9 987.0,171.8 987.4,174.7 987.7,180.7 988.0,176.3 988.3,177.1 988.7,182.5 989.0,177.9 989.3,172.7 989.7,179.2 990.0,185.4 990.3,179.0 990.6,168.8 991.0,182.0 991.3,184.5 991.6,185.6 991.9,175.9 992.3,196.2 992.6,185.1 992.9,176.3 993.2,189.0 993.6,175.3 993.9,179.0 994.2,188.1 994.5,184.9 994.9,197.0 995.2,193.0 995.5,174.4 995.8,190.0 996.2,173.7 996.5,184.0 996.8,178.7 997.2,184.5 997.5,203.0 997.8,195.4 998.1,187.9 998.5,196.1 998.8,199.7 999.1,188.0 999.4,192.7 999.8,201.7 1000.1,196.6 1000.4,184.0 1000.7,190.8 1001.1,182.2 1001.4,175.8 1001.7,185.3 1002.0,196.4 1002.4,200.6 1002.7,192.3 1003.0,183.6 1003.4,186.0 1003.7,184.7 1004.0,191.8 1004.3,188.2 1004.7,193.1 1005.0,193.3 1005.3,200.6 1005.6,204.4 1006.0,197.2 1006.3,200.0 1006.6,199.6 1006.9,187.3 1007.3,190.0 1007.6,168.2 1007.9,177.5 1008.2,191.3 1008.6,184.2 1008.9,185.5 1009.2,193.5 1009.5,182.2 1009.9,193.2 1010.2,212.9 1010.5,189.2 1010.9,193.7 1011.2,179.2 1011.5,191.3 1011.8,198.2 1012.2,179.7 1012.5,194.4 1012.8,188.6 1013.1,177.8 1013.5,185.0 1013.8,188.2 1014.1,187.6 1014.4,181.9 1014.8,192.6 1015.1,184.8 1015.4,183.0 1015.7,169.5 1016.1,185.8 1016.4,194.2 1016.7,184.0 1017.1,189.8 1017.4,186.1 1017.7,186.3 1018.0,178.6 1018.4,190.1 1018.7,188.8 1019.0,206.6 1019.3,198.7 1019.7,178.7 1020.0,190.1 1020.3,193.0 1020.6,197.5 1021.0,185.3 1021.3,185.2 1021.6,195.2 1021.9,183.9 1022.3,184.0 1022.6,180.4 1022.9,189.7 1023.2,174.4 1023.6,180.4 1023.9,185.7 1024.2,190.0 1024.6,188.9 1024.9,180.5 1025.2,186.6 1025.5,178.2 1025.9,179.7 1026.2,174.3 1026.5,176.9 1026.8,184.0 1027.2,199.5 1027.5,187.0 1027.8,180.2 1028.1,183.1 1028.5,180.9 1028.8,188.0 1029.1,189.1 1029.4,193.5 1029.8,177.5 1030.1,182.4 1030.4,188.5 1030.8,196.2 1031.1,189.4 1031.4,175.8 1031.7,179.7 1032.1,189.5 1032.4,175.9 1032.7,172.6 1033.0,175.0 1033.4,177.0 1033.7,174.8 1034.0,178.8 1034.3,178.1 1034.7,189.4 1035.0,175.3 1035.3,181.2 1035.6,169.4 1036.0,196.5 1036.3,182.9 1036.6,177.5 1036.9,185.9 1037.3,182.1 1037.6,179.0 1037.9,179.5 1038.3,187.8 1038.6,187.0 1038.9,178.1 1039.2,174.0 1039.6,181.7 1039.9,183.8 1040.2,183.4 1040.5,177.1 1040.9,191.0 1041.2,196.5 1041.5,187.1 1041.8,193.8 1042.2,191.6 1042.5,186.1 1042.8,181.8 1043.1,192.2 1043.5,180.9 1043.8,197.2 1044.1,184.0 1044.5,196.5 1044.8,197.3 1045.1,183.3 1045.4,187.6 1045.8,191.5 1046.1,189.9 1046.4,182.7 1046.7,184.8 1047.1,185.1 1047.4,177.1 1047.7,188.3 1048.0,189.2 1048.4,189.8 1048.7,177.4 1049.0,175.7 1049.3,173.0 1049.7,182.1 1050.0,185.3 1050.3,178.6 1050.7,186.1 1051.0,179.0 1051.3,177.9 1051.6,188.2 1052.0,186.2 1052.3,186.0 1052.6,172.2 1052.9,162.4 1053.3,179.8 1053.6,183.3 1053.9,201.2 1054.2,187.2 1054.6,185.3 1054.9,192.7 1055.2,180.8 1055.5,195.2 1055.9,188.8 1056.2,184.6 1056.5,193.8 1056.8,180.5 1057.2,175.7 1057.5,192.5 1057.8,196.9 1058.2,183.1 1058.5,184.3 1058.8,193.4 1059.1,188.8 1059.5,186.3 1059.8,185.9 1060.1,178.6 1060.4,180.1 1060.8,170.2 1061.1,170.6 1061.4,175.9 1061.7,174.2 1062.1,172.0 1062.4,176.0 1062.7,191.3 1063.0,179.6 1063.4,182.6 1063.7,171.8 1064.0,180.4 1064.4,179.4 1064.7,180.5 1065.0,170.8 1065.3,179.5 1065.7,185.0 1066.0,182.1 1066.3,186.9 1066.6,183.6 1067.0,184.0 1067.3,182.0 1067.6,169.3 1067.9,183.4 1068.3,183.6 1068.6,185.4 1068.9,179.4 1069.2,191.6 1069.6,191.0 1069.9,186.0 1070.2,180.4 1070.5,183.4 1070.9,187.5 1071.2,191.2 1071.5,181.9 1071.9,172.7 1072.2,178.6 1072.5,181.1 1072.8,179.8 1073.2,189.7 1073.5,187.5 1073.8,186.6 1074.1,182.2 1074.5,183.5 1074.8,192.6 1075.1,177.5 1075.4,169.5 1075.8,182.0 1076.1,180.2 1076.4,180.7 1076.7,177.0 1077.1,192.8 1077.4,173.9 1077.7,184.5 1078.1,174.3 1078.4,180.5 1078.7,185.6 1079.0,185.0 1079.4,177.1 1079.7,188.2 1080.0,187.3 1080.3,187.9 1080.7,197.1 1081.0,177.1 1081.3,177.4 1081.6,181.9 1082.0,174.2 1082.3,188.0 1082.6,184.9 1082.9,170.8 1083.3,172.8 1083.6,197.0 1083.9,211.2 1084.2,197.8 1084.6,178.8 1084.9,185.5 1085.2,185.2 1085.6,179.0 1085.9,188.5 1086.2,182.7 1086.5,177.0 1086.9,177.9 1087.2,178.7 1087.5,186.3 1087.8,179.9 1088.2,185.2 1088.5,173.7 1088.8,161.5 1089.1,182.9 1089.5,198.9 1089.8,189.9 1090.1,181.7 1090.4,174.6 1090.8,172.6 1091.1,185.9 1091.4,189.3 1091.8,174.9 1092.1,188.7 1092.4,176.0 1092.7,182.6 1093.1,176.8 1093.4,175.8 1093.7,175.0 1094.0,174.5 1094.4,187.7 1094.7,181.5 1095.0,182.0 1095.3,180.0 1095.7,172.6 1096.0,181.9 1096.3,187.4 1096.6,188.9 1097.0,186.2 1097.3,177.6 1097.6,187.1 1097.9,174.8 1098.3,178.2 1098.6,182.8 1098.9,192.1 1099.3,182.8 1099.6,177.1 1099.9,193.9 1100.2,176.2 1100.6,168.3 1100.9,176.1 1101.2,176.8 1101.5,162.8 1101.9,168.0 1102.2,185.1 1102.5,182.8 1102.8,183.3 1103.2,183.3 1103.5,199.7 1103.8,180.7 1104.1,186.2 1104.5,181.7 1104.8,182.7 1105.1,175.5 1105.5,182.3 1105.8,187.7 1106.1,179.2 1106.4,170.6 1106.8,181.2 1107.1,171.4 1107.4,177.1 1107.7,184.4 1108.1,171.0 1108.4,184.9 1108.7,174.8 1109.0,183.5 1109.4,178.6 1109.7,189.9 1110.0,189.7 1110.3,175.6 1110.7,178.5 1111.0,180.4 1111.3,184.3 1111.6,178.8 1112.0,191.0 1112.3,192.0 1112.6,185.1 1113.0,188.3 1113.3,188.1 1113.6,183.4 1113.9,182.7 1114.3,183.1 1114.6,169.2 1114.9,170.5 1115.2,169.2 1115.6,178.2 1115.9,183.9 1116.2,192.4 1116.5,186.3 1116.9,197.6 1117.2,189.2 1117.5,177.2 1117.8,167.8 1118.2,170.2 1118.5,184.4 1118.8,177.9 1119.2,185.7 1119.5,175.7 1119.8,180.1 1120.1,174.0 1120.5,159.7 1120.8,168.3 1121.1,160.0 1121.4,173.9 1121.8,181.1 1122.1,170.5 1122.4,165.0 1122.7,180.5 1123.1,179.6 1123.4,190.6 1123.7,184.1 1124.0,174.5 1124.4,179.2 1124.7,184.0 1125.0,191.3 1125.3,180.0 1125.7,174.0 1126.0,173.9 1126.3,176.4 1126.7,188.3 1127.0,168.8 1127.3,177.4 1127.6,180.1 1128.0,174.3 1128.3,194.2 1128.6,183.7 1128.9,181.5 1129.3,177.2 1129.6,168.9 1129.9,173.3 1130.2,191.4 1130.6,184.8 1130.9,179.1 1131.2,178.1 1131.5,188.4 1131.9,193.8 1132.2,178.7 1132.5,176.5 1132.9,178.6 1133.2,191.7 1133.5,169.0 1133.8,198.0 1134.2,186.4 1134.5,165.3 1134.8,176.6 1135.1,176.6 1135.5,187.0 1135.8,170.7 1136.1,186.3 1136.4,178.7 1136.8,177.7 1137.1,186.2 1137.4,173.9 1137.7,187.9 1138.1,185.9 1138.4,180.6 1138.7,182.0 1139.0,175.9 1139.4,170.9 1139.7,178.7 1140.0,182.4 1140.4,183.1 1140.7,182.2 1141.0,173.2 1141.3,178.5 1141.7,175.2 1142.0,178.1 1142.3,184.3 1142.6,173.2 1143.0,184.5 1143.3,179.6 1143.6,167.3 1143.9,183.3 1144.3,179.6 1144.6,190.0 1144.9,184.6 1145.2,190.5 1145.6,183.6 1145.9,183.2 1146.2,178.1 1146.6,166.0 1146.9,172.6 1147.2,171.4 1147.5,176.4 1147.9,179.0 1148.2,184.0 1148.5,192.4 1148.8,180.6 1149.2,166.1 1149.5,171.0 1149.8,179.7 1150.1,165.6 1150.5,177.5 1150.8,181.8 1151.1,187.3 1151.4,186.8 1151.8,181.3 1152.1,163.3 1152.4,175.1 1152.7,184.1 1153.1,183.2 1153.4,180.1 1153.7,190.4 1154.1,179.3 1154.4,172.3 1154.7,173.3 1155.0,171.5 1155.4,185.1 1155.7,191.5 1156.0,171.0 1156.3,167.3 1156.7,185.9 1157.0,177.6 1157.3,176.8 1157.6,172.8 1158.0,174.3 1158.3,179.9 1158.6,176.2 1158.9,175.5 1159.3,176.9 1159.6,190.6 1159.9,202.5 1160.3,189.1 1160.6,192.0 1160.9,178.8 1161.2,172.0 1161.6,173.7 1161.9,178.8 1162.2,176.8 1162.5,168.2 1162.9,180.1 1163.2,170.8 1163.5,170.1 1163.8,173.2 1164.2,165.2 1164.5,179.3 1164.8,170.5 1165.1,182.1 1165.5,183.9 1165.8,186.4 1166.1,175.9 1166.4,183.6 1166.8,178.1 1167.1,185.6 1167.4,171.1 1167.8,161.8 1168.1,171.4 1168.4,163.3 1168.7,169.3 1169.1,158.9 1169.4,171.6 1169.7,187.2 1170.0,168.4 1170.4,175.7 1170.7,184.2 1171.0,183.6 1171.3,190.6 1171.7,181.5 1172.0,186.0 1172.3,168.1 1172.6,169.8 1173.0,187.4 1173.3,190.7 1173.6,184.5 1174.0,193.0 1174.3,181.7 1174.6,178.4 1174.9,183.0 1175.3,182.4 1175.6,174.7 1175.9,166.0 1176.2,163.4 1176.6,173.7 1176.9,170.3 1177.2,181.3 1177.5,175.7 1177.9,184.5 1178.2,174.3 1178.5,186.5 1178.8,187.6 1179.2,180.9 1179.5,175.1 1179.8,188.5 1180.1,185.3 1180.5,179.7 1180.8,177.6 1181.1,185.1 1181.5,180.2 1181.8,181.8 1182.1,169.9 1182.4,173.3 1182.8,188.2 1183.1,198.5 1183.4,184.1 1183.7,172.6 1184.1,177.3 1184.4,173.4 1184.7,182.6 1185.0,191.5 1185.4,178.2 1185.7,179.8 1186.0,176.0 1186.3,190.4 1186.7,182.5 1187.0,186.6 1187.3,177.2 1187.7,185.2 1188.0,187.5 1188.3,188.0 1188.6,174.5 1189.0,180.4 1189.3,187.8 1189.6,191.7 1189.9,193.0 1190.3,174.8 1190.6,194.7 1190.9,192.6 1191.2,181.1 1191.6,174.4 1191.9,182.6 1192.2,177.9 1192.5,177.0 1192.9,175.2 1193.2,181.8 1193.5,171.6 1193.8,179.9 1194.2,172.1 1194.5,189.8 1194.8,179.2 1195.2,192.9 1195.5,198.2 1195.8,184.8 1196.1,191.4 1196.5,183.7 1196.8,192.9 1197.1,175.4 1197.4,182.8 1197.8,193.0 1198.1,185.9 1198.4,178.8 1198.7,189.2 1199.1,182.3 1199.4,169.2 1199.7,174.6 1200.0,182.4 1200.4,188.5 1200.7,181.5 1201.0,195.2 1201.4,209.9 1201.7,195.9 1202.0,195.5 1202.3,174.4 1202.7,181.0 1203.0,191.0 1203.3,194.7 1203.6,183.3 1204.0,190.3 1204.3,190.2 1204.6,186.5 1204.9,184.2 1205.3,183.5 1205.6,183.2 1205.9,174.3 1206.2,169.0 1206.6,192.5 1206.9,167.1 1207.2,178.8 1207.5,173.4 1207.9,186.7 1208.2,182.2 1208.5,181.8 1208.9,182.4 1209.2,177.1 1209.5,177.4 1209.8,189.5 1210.2,186.0 1210.5,178.8 1210.8,177.3 1211.1,184.4 1211.5,185.8 1211.8,185.2 1212.1,192.0 1212.4,195.1 1212.8,174.6 1213.1,184.1 1213.4,182.8 1213.7,188.6 1214.1,174.9 1214.4,168.1 1214.7,181.0 1215.1,178.8 1215.4,187.6 1215.7,171.1 1216.0,173.2 1216.4,186.7 1216.7,174.6 1217.0,178.2 1217.3,178.6 1217.7,179.1 1218.0,186.8 1218.3,187.8 1218.6,179.4 1219.0,182.2 1219.3,189.6 1219.6,169.3 1219.9,180.8 1220.3,186.3 1220.6,188.7 1220.9,178.9 1221.2,174.4 1221.6,178.6 1221.9,175.0 1222.2,191.7 1222.6,187.4 1222.9,187.1 1223.2,183.5 1223.5,179.0 1223.9,196.5 1224.2,162.7 1224.5,183.7 1224.8,180.0 1225.2,175.5 1225.5,174.2 1225.8,178.3 1226.1,202.7 1226.5,195.3 1226.8,179.7 1227.1,188.3 1227.4,191.4 1227.8,201.8 1228.1,177.9 1228.4,177.2 1228.8,187.4 1229.1,184.3 1229.4,183.3 1229.7,190.5 1230.1,186.1 1230.4,181.1 1230.7,177.6 1231.0,171.4 1231.4,179.0 1231.7,184.5 1232.0,179.5 1232.3,185.9 1232.7,192.0 1233.0,175.8 1233.3,183.1 1233.6,181.1 1234.0,176.7 1234.3,188.6 1234.6,178.6 1234.9,177.5 1235.3,181.2 1235.6,178.5 1235.9,186.3 1236.3,199.0 1236.6,187.9 1236.9,189.7 1237.2,177.0 1237.6,178.2 1237.9,184.4 1238.2,181.7 1238.5,171.3 1238.9,170.3 1239.2,175.7 1239.5,176.5 1239.8,182.0 1240.2,182.2 1240.5,176.9 1240.8,180.8 1241.1,178.7 1241.5,188.6 1241.8,195.1 1242.1,197.0 1242.5,188.1 1242.8,172.7 1243.1,170.0 1243.4,185.4 1243.8,193.4 1244.1,177.9 1244.4,176.5 1244.7,189.7 1245.1,175.0 1245.4,177.8 1245.7,170.0 1246.0,175.3 1246.4,172.5 1246.7,176.0 1247.0,186.3 1247.3,183.5 1247.7,186.1 1248.0,175.5 1248.3,186.4 1248.6,193.1 1249.0,178.3 1249.3,171.1 1249.6,167.1 1250.0,168.7 1250.3,188.3 1250.6,187.2 1250.9,185.8 1251.3,181.5 1251.6,196.2 1251.9,184.0 1252.2,178.8 1252.6,186.6 1252.9,180.6 1253.2,171.1 1253.5,177.2 1253.9,171.2 1254.2,170.0 1254.5,174.1 1254.8,175.3 1255.2,181.2 1255.5,170.7 1255.8,180.7 1256.2,184.9 1256.5,175.5 1256.8,183.7 1257.1,177.3 1257.5,170.9 1257.8,176.5 1258.1,177.7 1258.4,172.0 1258.8,171.7 1259.1,188.6 1259.4,191.1 1259.7,172.2 1260.1,174.4 1260.4,193.2 1260.7,192.4 1261.0,182.1 1261.4,186.9 1261.7,177.3 1262.0,177.8 1262.3,174.8 1262.7,186.3 1263.0,175.9 1263.3,163.4 1263.7,180.6 1264.0,169.3 1264.3,168.9 1264.6,171.3 1265.0,177.1 1265.3,186.6 1265.6,186.9 1265.9,174.8 1266.3,170.1 1266.6,167.1 1266.9,168.3 1267.2,169.0 1267.6,179.0 1267.9,187.2 1268.2,178.8 1268.5,174.5 1268.9,176.4 1269.2,188.8 1269.5,184.4 1269.9,190.4 1270.2,179.9 1270.5,186.1 1270.8,181.0 1271.2,176.1 1271.5,176.3 1271.8,167.1 1272.1,183.1 1272.5,195.1 1272.8,174.9 1273.1,166.4 1273.4,164.1 1273.8,171.9 1274.1,172.0 1274.4,175.1 1274.7,186.3 1275.1,183.7 1275.4,175.2 1275.7,180.9 1276.0,163.9 1276.4,185.2 1276.7,182.3 1277.0,170.1 1277.4,179.8 1277.7,186.0 1278.0,189.3 1278.3,185.3 1278.7,167.8 1279.0,171.5 1279.3,171.6 1279.6,179.3 1280.0,171.1 1280.3,174.5 1280.6,182.9 1280.9,181.5 1281.3,176.3 1281.6,167.8 1281.9,174.8 1282.2,172.5 1282.6,160.6 1282.9,178.6 1283.2,186.4 1283.6,171.9 1283.9,172.3 1284.2,176.4 1284.5,174.8 1284.9,178.8 1285.2,173.6 1285.5,178.6 1285.8,171.5 1286.2,184.3 1286.5,184.9 1286.8,178.2 1287.1,180.9 1287.5,172.9 1287.8,176.4 1288.1,181.0 1288.4,176.6 1288.8,181.0 1289.1,189.8 1289.4,188.8 1289.7,186.2 1290.1,183.1 1290.4,178.1 1290.7,170.9 1291.1,171.7 1291.4,162.9 1291.7,164.4 1292.0,175.7 1292.4,164.9 1292.7,165.7 1293.0,178.0 1293.3,175.5 1293.7,169.0 1294.0,173.8 1294.3,169.2 1294.6,172.7 1295.0,171.3 1295.3,178.6 1295.6,175.3 1295.9,180.0 1296.3,173.4 1296.6,189.4 1296.9,178.4 1297.3,168.9 1297.6,171.5 1297.9,176.7 1298.2,173.8 1298.6,183.4 1298.9,185.7 1299.2,182.8 1299.5,180.5 1299.9,171.7 1300.2,183.3 1300.5,172.2 1300.8,188.5 1301.2,186.8 1301.5,180.9 1301.8,170.5 1302.1,181.1 1302.5,195.1 1302.8,179.6 1303.1,179.1 1303.4,186.8 1303.8,188.5 1304.1,186.4 1304.4,180.0 1304.8,174.2 1305.1,188.7 1305.4,164.4 1305.7,175.6 1306.1,180.9 1306.4,174.5 1306.7,177.1 1307.0,161.3 1307.4,166.6 1307.7,178.7 1308.0,182.0 1308.3,183.6 1308.7,182.9 1309.0,175.2 1309.3,183.1 1309.6,168.4 1310.0,177.3 1310.3,180.0 1310.6,172.6 1311.0,192.5 1311.3,189.7 1311.6,177.7 1311.9,179.1 1312.3,179.6 1312.6,176.7 1312.9,183.4 1313.2,182.0 1313.6,190.4 1313.9,196.4 1314.2,174.6 1314.5,185.5 1314.9,186.7 1315.2,171.3 1315.5,170.0 1315.8,181.5 1316.2,184.4 1316.5,181.8 1316.8,187.7 1317.1,178.0 1317.5,178.6 1317.8,178.9 1318.1,174.4 1318.5,173.5 1318.8,165.0 1319.1,165.4 1319.4,189.4 1319.8,176.1 1320.1,187.7 1320.4,192.9 1320.7,178.4 1321.1,185.3 1321.4,184.2 1321.7,173.7 1322.0,183.9 1322.4,188.2 1322.7,180.2 1323.0,171.6 1323.3,174.7 1323.7,190.9 1324.0,188.3"/>
<line x1="893" y1="311.0" x2="899" y2="311.0" stroke="#000" stroke-width="2"/>
<text x="889" y="315.5" font-size="14.5" font-weight="bold" text-anchor="end" font-family='"Liberation Sans", sans-serif'>0.0</text>
<line x1="893" y1="266.3" x2="899" y2="266.3" stroke="#000" stroke-width="2"/>
<text x="889" y="270.8" font-size="14.5" font-weight="bold" text-anchor="end" font-family='"Liberation Sans", sans-serif'>0.5</text>
<line x1="893" y1="221.6" x2="899" y2="221.6" stroke="#000" stroke-width="2"/>
<text x="889" y="226.1" font-size="14.5" font-weight="bold" text-anchor="end" font-family='"Liberation Sans", sans-serif'>1.0</text>
<line x1="893" y1="176.8" x2="899" y2="176.8" stroke="#000" stroke-width="2"/>
<text x="889" y="181.3" font-size="14.5" font-weight="bold" text-anchor="end" font-family='"Liberation Sans", sans-serif'>1.5</text>
<line x1="893" y1="132.1" x2="899" y2="132.1" stroke="#000" stroke-width="2"/>
<text x="889" y="136.6" font-size="14.5" font-weight="bold" text-anchor="end" font-family='"Liberation Sans", sans-serif'>2.0</text>
<line x1="893" y1="87.4" x2="899" y2="87.4" stroke="#000" stroke-width="2"/>
<text x="889" y="91.9" font-size="14.5" font-weight="bold" text-anchor="end" font-family='"Liberation Sans", sans-serif'>2.5</text>
<line x1="893" y1="42.7" x2="899" y2="42.7" stroke="#000" stroke-width="2"/>
<text x="889" y="47.2" font-size="14.5" font-weight="bold" text-anchor="end" font-family='"Liberation Sans", sans-serif'>3.0</text>
<line x1="899.0" y1="311" x2="899.0" y2="317" stroke="#000" stroke-width="2"/>
<text x="899.0" y="332" font-size="14.5" font-weight="bold" text-anchor="middle" font-family='"Liberation Sans", sans-serif'>0</text>
<line x1="984.0" y1="311" x2="984.0" y2="317" stroke="#000" stroke-width="2"/>
<text x="980.0" y="332" font-size="14.5" font-weight="bold" text-anchor="middle" font-family='"Liberation Sans", sans-serif'>20</text>
<line x1="1069.0" y1="311" x2="1069.0" y2="317" stroke="#000" stroke-width="2"/>
<text x="1065.0" y="332" font-size="14.5" font-weight="bold" text-anchor="middle" font-family='"Liberation Sans", sans-serif'>40</text>
<line x1="1154.0" y1="311" x2="1154.0" y2="317" stroke="#000" stroke-width="2"/>
<text x="1150.0" y="332" font-size="14.5" font-weight="bold" text-anchor="middle" font-family='"Liberation Sans", sans-serif'>60</text>
<line x1="1239.0" y1="311" x2="1239.0" y2="317" stroke="#000" stroke-width="2"/>
<text x="1235.0" y="332" font-size="14.5" font-weight="bold" text-anchor="middle" font-family='"Liberation Sans", sans-serif'>80</text>
<line x1="1324.0" y1="311" x2="1324.0" y2="317" stroke="#000" stroke-width="2"/>
<text x="1320.0" y="332" font-size="14.5" font-weight="bold" text-anchor="middle" font-family='"Liberation Sans", sans-serif'>100</text>
<text x="0" y="0" transform="translate(852,157.4) rotate(-90)" font-size="15.4" font-weight="bold" text-anchor="middle" font-family='"Liberation Sans", sans-serif'>Protein RMSD (Å)</text>
<text x="1112" y="357.3" font-size="15" font-weight="bold" text-anchor="middle" font-family='"Liberation Sans", sans-serif'>Time (nsec)</text>
<text x="910" y="295" font-size="36" font-weight="bold" stroke="#000" stroke-width="0.5" font-family='"Liberation Sans", sans-serif'>(E)</text>
<line x1="1168" y1="252.6" x2="1198" y2="252.6" stroke="#c0c0c0" stroke-width="2"/>
<text x="1201" y="257.1" font-size="12" font-weight="bold" font-family='"Liberation Sans", sans-serif'>Apo-GLUT1endo</text>
<line x1="1168" y1="268.2" x2="1198" y2="268.2" stroke="#0a0aee" stroke-width="2"/>
<text x="1201" y="272.7" font-size="12" font-weight="bold" font-family='"Liberation Sans", sans-serif'>GAA-GLUT1endo</text>
<line x1="1168" y1="283.8" x2="1198" y2="283.8" stroke="#ff8a18" stroke-width="2"/>
<text x="1201" y="288.3" font-size="12" font-weight="bold" font-family='"Liberation Sans", sans-serif'>CCB-GLUT1endo</text>
<rect x="896" y="370" width="426" height="288" fill="none" stroke="#000" stroke-width="2"/>
<polyline fill="none" stroke="#c0c0c0" stroke-width="1.5" stroke-linejoin="miter" points="896.0,658.0 896.6,553.7 897.3,527.6 897.6,523.6 897.9,507.2 898.3,509.6 898.6,526.6 898.9,517.1 899.2,518.3 899.6,511.4 899.9,521.9 900.2,509.2 900.5,504.8 900.9,492.2 901.2,497.5 901.5,496.1 901.9,509.9 902.2,483.4 902.5,507.5 902.8,489.2 903.2,494.4 903.5,498.6 903.8,496.8 904.1,495.2 904.5,485.5 904.8,486.7 905.1,474.6 905.5,496.7 905.8,488.0 906.1,492.4 906.4,480.4 906.8,499.3 907.1,490.2 907.4,483.4 907.7,494.4 908.1,478.0 908.4,479.8 908.7,473.7 909.0,472.3 909.4,486.5 909.7,488.4 910.0,484.1 910.4,475.4 910.7,472.2 911.0,483.1 911.3,484.8 911.7,486.4 912.0,484.9 912.3,481.6 912.6,479.7 913.0,462.2 913.3,477.2 913.6,479.1 914.0,473.5 914.3,482.7 914.6,480.3 914.9,476.5 915.3,469.4 915.6,483.4 915.9,466.1 916.2,474.7 916.6,472.6 916.9,466.6 917.2,466.3 917.5,463.1 917.9,469.0 918.2,471.8 918.5,469.9 918.9,479.4 919.2,464.7 919.5,476.2 919.8,482.7 920.2,458.9 920.5,469.6 920.8,480.2 921.1,459.5 921.5,471.0 921.8,463.1 922.1,475.5 922.5,474.1 922.8,484.7 923.1,488.9 923.4,482.8 923.8,474.3 924.1,465.3 924.4,450.6 924.7,473.3 925.1,463.2 925.4,473.0 925.7,471.9 926.1,481.7 926.4,484.0 926.7,479.2 927.0,481.0 927.4,472.3 927.7,475.4 928.0,461.1 928.3,465.9 928.7,466.9 929.0,459.6 929.3,462.4 929.6,467.3 930.0,468.9 930.3,469.3 930.6,460.1 931.0,459.9 931.3,462.9 931.6,460.2 931.9,469.7 932.3,463.8 932.6,476.9 932.9,458.9 933.2,463.9 933.6,464.3 933.9,461.0 934.2,464.7 934.6,467.4 934.9,456.8 935.2,462.3 935.5,471.4 935.9,463.1 936.2,477.4 936.5,455.0 936.8,463.3 937.2,463.5 937.5,446.5 937.8,442.9 938.1,457.5 938.5,457.0 938.8,453.2 939.1,447.6 939.5,459.9 939.8,460.8 940.1,452.6 940.4,457.7 940.8,455.1 941.1,455.4 941.4,468.7 941.7,469.7 942.1,483.5 942.4,468.6 942.7,452.4 943.1,467.0 943.4,452.5 943.7,450.6 944.0,458.0 944.4,459.4 944.7,458.9 945.0,465.4 945.3,456.6 945.7,447.9 946.0,436.1 946.3,427.2 946.6,432.1 947.0,416.7 947.3,420.5 947.6,412.1 948.0,401.3 948.3,397.0 948.6,392.1 948.9,386.6 949.3,395.6 949.6,401.3 949.9,401.8 950.2,395.7 950.6,404.9 950.9,394.4 951.2,407.3 951.6,437.6 951.9,428.3 952.2,412.5 952.5,423.8 952.9,432.7 953.2,440.8 953.5,428.6 953.8,430.6 954.2,436.2 954.5,442.1 954.8,438.4 955.2,444.9 955.5,464.8 955.8,455.6 956.1,458.1 956.5,461.4 956.8,456.1 957.1,460.9 957.4,485.3 957.8,457.5 958.1,455.1 958.4,463.9 958.7,468.5 959.1,465.6 959.4,476.9 959.7,468.1 960.1,470.2 960.4,471.7 960.7,476.5 961.0,475.8 961.4,462.1 961.7,456.9 962.0,462.1 962.3,467.6 962.7,475.4 963.0,465.2 963.3,455.9 963.7,478.3 964.0,462.6 964.3,484.3 964.6,475.8 965.0,468.1 965.3,479.7 965.6,483.8 965.9,471.8 966.3,463.6 966.6,472.0 966.9,460.2 967.2,473.5 967.6,457.5 967.9,466.1 968.2,467.4 968.6,464.9 968.9,466.5 969.2,455.3 969.5,449.8 969.9,461.2 970.2,469.6 970.5,479.4 970.8,478.7 971.2,472.7 971.5,472.2 971.8,471.6 972.2,471.2 972.5,467.3 972.8,480.6 973.1,481.4 973.5,465.3 973.8,463.5 974.1,473.6 974.4,462.1 974.8,474.4 975.1,474.3 975.4,486.4 975.7,469.0 976.1,471.2 976.4,463.6 976.7,464.5 977.1,469.4 977.4,470.2 977.7,462.5 978.0,471.0 978.4,473.1 978.7,472.0 979.0,466.1 979.3,463.8 979.7,455.6 980.0,468.9 980.3,462.0 980.7,474.9 981.0,468.6 981.3,470.7 981.6,458.9 982.0,464.6 982.3,474.2 982.6,468.8 982.9,469.2 983.3,474.4 983.6,475.6 983.9,480.9 984.2,454.0 984.6,467.4 984.9,464.3 985.2,480.0 985.6,483.4 985.9,477.1 986.2,475.6 986.5,467.9 986.9,479.9 987.2,471.1 987.5,461.5 987.8,477.8 988.2,467.9 988.5,479.8 988.8,472.9 989.2,471.0 989.5,460.1 989.8,476.0 990.1,473.5 990.5,466.2 990.8,481.4 991.1,476.3 991.4,481.7 991.8,481.8 992.1,471.3 992.4,468.6 992.8,453.6 993.1,459.1 993.4,461.2 993.7,472.9 994.1,476.9 994.4,474.6 994.7,492.6 995.0,467.0 995.4,478.5 995.7,484.4 996.0,481.4 996.3,470.5 996.7,465.0 997.0,476.1 997.3,472.7 997.7,475.7 998.0,483.7 998.3,476.8 998.6,476.3 999.0,488.2 999.3,471.0 999.6,487.2 999.9,477.5 1000.3,485.0 1000.6,485.1 1000.9,484.3 1001.3,473.4 1001.6,485.7 1001.9,480.7 1002.2,466.2 1002.6,479.8 1002.9,478.1 1003.2,472.4 1003.5,480.5 1003.9,474.4 1004.2,481.6 1004.5,473.0 1004.8,475.7 1005.2,484.1 1005.5,468.2 1005.8,475.8 1006.2,479.1 1006.5,484.8 1006.8,482.8 1007.1,479.4 1007.5,476.5 1007.8,468.7 1008.1,485.3 1008.4,482.0 1008.8,469.3 1009.1,473.9 1009.4,473.4 1009.8,464.1 1010.1,471.4 1010.4,472.3 1010.7,476.4 1011.1,463.6 1011.4,465.9 1011.7,480.0 1012.0,473.8 1012.4,485.3 1012.7,471.0 1013.0,470.6 1013.3,476.9 1013.7,480.3 1014.0,491.9 1014.3,475.2 1014.7,477.7 1015.0,479.9 1015.3,472.5 1015.6,481.3 1016.0,482.9 1016.3,484.1 1016.6,489.5 1016.9,462.0 1017.3,475.1 1017.6,479.6 1017.9,471.1 1018.3,500.0 1018.6,483.4 1018.9,478.9 1019.2,485.3 1019.6,476.0 1019.9,492.7 1020.2,481.3 1020.5,471.8 1020.9,493.3 1021.2,492.9 1021.5,482.9 1021.9,479.5 1022.2,483.6 1022.5,476.9 1022.8,476.3 1023.2,488.4 1023.5,481.9 1023.8,489.4 1024.1,497.6 1024.5,502.3 1024.8,477.3 1025.1,480.1 1025.4,465.0 1025.8,487.5 1026.1,484.8 1026.4,478.9 1026.8,481.2 1027.1,477.0 1027.4,478.7 1027.7,485.1 1028.1,499.9 1028.4,493.1 1028.7,471.0 1029.0,472.9 1029.4,468.8 1029.7,482.8 1030.0,483.4 1030.4,488.9 1030.7,480.6 1031.0,481.1 1031.3,478.4 1031.7,467.7 1032.0,485.1 1032.3,477.4 1032.6,492.0 1033.0,476.5 1033.3,484.6 1033.6,483.9 1033.9,482.2 1034.3,470.3 1034.6,480.3 1034.9,486.5 1035.3,493.4 1035.6,484.0 1035.9,490.5 1036.2,489.5 1036.6,485.7 1036.9,479.5 1037.2,488.7 1037.5,480.5 1037.9,470.1 1038.2,492.6 1038.5,476.5 1038.9,466.5 1039.2,485.1 1039.5,480.6 1039.8,494.8 1040.2,485.4 1040.5,488.2 1040.8,484.2 1041.1,492.6 1041.5,494.1 1041.8,491.8 1042.1,493.3 1042.4,493.1 1042.8,490.0 1043.1,496.3 1043.4,490.6 1043.8,484.5 1044.1,504.5 1044.4,490.4 1044.7,494.2 1045.1,498.2 1045.4,500.8 1045.7,497.7 1046.0,496.0 1046.4,487.3 1046.7,497.3 1047.0,482.2 1047.4,492.6 1047.7,483.6 1048.0,478.2 1048.3,494.5 1048.7,480.9 1049.0,468.8 1049.3,485.8 1049.6,482.0 1050.0,486.4 1050.3,485.7 1050.6,487.5 1050.9,490.2 1051.3,481.4 1051.6,477.9 1051.9,483.7 1052.3,473.4 1052.6,474.0 1052.9,477.0 1053.2,488.6 1053.6,471.3 1053.9,471.4 1054.2,497.9 1054.5,496.5 1054.9,491.2 1055.2,479.0 1055.5,473.5 1055.9,483.8 1056.2,482.3 1056.5,478.3 1056.8,492.4 1057.2,481.6 1057.5,485.7 1057.8,482.9 1058.1,483.9 1058.5,492.8 1058.8,493.5 1059.1,485.7 1059.5,483.0 1059.8,485.3 1060.1,475.7 1060.4,484.1 1060.8,492.7 1061.1,488.1 1061.4,485.6 1061.7,484.6 1062.1,474.4 1062.4,476.8 1062.7,473.2 1063.0,475.5 1063.4,482.1 1063.7,474.5 1064.0,482.4 1064.4,480.5 1064.7,489.5 1065.0,483.3 1065.3,484.9 1065.7,479.9 1066.0,467.6 1066.3,460.2 1066.6,468.7 1067.0,478.8 1067.3,474.8 1067.6,478.4 1068.0,485.7 1068.3,483.3 1068.6,484.2 1068.9,487.1 1069.3,472.6 1069.6,483.7 1069.9,486.1 1070.2,477.6 1070.6,486.1 1070.9,491.7 1071.2,490.9 1071.5,480.4 1071.9,478.6 1072.2,478.8 1072.5,484.7 1072.9,489.6 1073.2,476.8 1073.5,491.7 1073.8,485.9 1074.2,493.0 1074.5,487.8 1074.8,484.5 1075.1,473.1 1075.5,501.6 1075.8,476.3 1076.1,487.2 1076.5,480.9 1076.8,475.4 1077.1,486.0 1077.4,483.5 1077.8,478.4 1078.1,481.9 1078.4,487.4 1078.7,481.7 1079.1,480.9 1079.4,493.0 1079.7,474.1 1080.0,478.1 1080.4,499.3 1080.7,492.4 1081.0,471.2 1081.4,466.9 1081.7,475.9 1082.0,493.1 1082.3,486.3 1082.7,474.7 1083.0,476.9 1083.3,483.0 1083.6,487.6 1084.0,476.8 1084.3,482.0 1084.6,479.2 1085.0,477.2 1085.3,467.9 1085.6,476.7 1085.9,478.4 1086.3,494.5 1086.6,476.3 1086.9,473.4 1087.2,479.6 1087.6,498.5 1087.9,490.1 1088.2,483.1 1088.6,465.9 1088.9,473.1 1089.2,473.4 1089.5,473.2 1089.9,469.2 1090.2,487.2 1090.5,489.5 1090.8,492.6 1091.2,486.5 1091.5,485.6 1091.8,481.8 1092.1,489.5 1092.5,482.9 1092.8,488.5 1093.1,467.1 1093.5,482.1 1093.8,462.2 1094.1,464.3 1094.4,486.5 1094.8,475.5 1095.1,475.5 1095.4,491.9 1095.7,479.6 1096.1,481.8 1096.4,479.0 1096.7,487.6 1097.1,483.6 1097.4,479.0 1097.7,482.4 1098.0,486.5 1098.4,484.1 1098.7,489.8 1099.0,481.1 1099.3,501.2 1099.7,475.0 1100.0,479.5 1100.3,477.5 1100.6,474.1 1101.0,489.3 1101.3,466.1 1101.6,486.4 1102.0,479.3 1102.3,478.6 1102.6,470.9 1102.9,479.1 1103.3,491.9 1103.6,481.8 1103.9,500.7 1104.2,488.0 1104.6,486.9 1104.9,471.1 1105.2,481.3 1105.6,485.1 1105.9,488.4 1106.2,490.0 1106.5,488.1 1106.9,478.8 1107.2,491.2 1107.5,485.8 1107.8,494.1 1108.2,486.2 1108.5,481.7 1108.8,491.3 1109.1,488.6 1109.5,482.6 1109.8,475.9 1110.1,472.7 1110.5,480.0 1110.8,488.5 1111.1,495.4 1111.4,478.5 1111.8,469.5 1112.1,475.0 1112.4,467.1 1112.7,480.5 1113.1,483.3 1113.4,468.8 1113.7,484.9 1114.1,476.4 1114.4,475.9 1114.7,477.4 1115.0,465.6 1115.4,482.6 1115.7,483.3 1116.0,496.1 1116.3,491.2 1116.7,485.8 1117.0,483.3 1117.3,481.2 1117.6,476.7 1118.0,482.9 1118.3,494.5 1118.6,480.8 1119.0,475.3 1119.3,485.9 1119.6,485.6 1119.9,465.8 1120.3,466.4 1120.6,466.0 1120.9,469.0 1121.2,473.7 1121.6,479.8 1121.9,472.9 1122.2,477.0 1122.6,479.8 1122.9,477.1 1123.2,476.8 1123.5,469.2 1123.9,481.4 1124.2,457.8 1124.5,478.7 1124.8,479.4 1125.2,468.9 1125.5,479.9 1125.8,479.8 1126.2,475.7 1126.5,497.7 1126.8,484.1 1127.1,484.2 1127.5,478.5 1127.8,471.3 1128.1,468.3 1128.4,460.8 1128.8,459.2 1129.1,461.9 1129.4,470.7 1129.7,464.5 1130.1,478.5 1130.4,475.1 1130.7,462.4 1131.1,464.2 1131.4,481.5 1131.7,479.6 1132.0,467.6 1132.4,466.8 1132.7,463.1 1133.0,484.1 1133.3,485.5 1133.7,478.0 1134.0,481.7 1134.3,475.3 1134.7,473.4 1135.0,470.3 1135.3,473.2 1135.6,468.6 1136.0,465.7 1136.3,469.8 1136.6,481.5 1136.9,465.0 1137.3,469.1 1137.6,468.6 1137.9,470.4 1138.2,484.6 1138.6,471.2 1138.9,477.4 1139.2,483.3 1139.6,465.5 1139.9,473.3 1140.2,470.7 1140.5,465.4 1140.9,458.4 1141.2,483.2 1141.5,481.1 1141.8,469.6 1142.2,477.1 1142.5,499.0 1142.8,478.2 1143.2,472.4 1143.5,466.6 1143.8,469.4 1144.1,475.3 1144.5,471.8 1144.8,472.8 1145.1,476.7 1145.4,471.8 1145.8,469.8 1146.1,479.8 1146.4,466.6 1146.7,464.8 1147.1,464.7 1147.4,491.9 1147.7,476.7 1148.1,474.7 1148.4,481.0 1148.7,470.4 1149.0,483.8 1149.4,466.0 1149.7,468.1 1150.0,475.5 1150.3,462.5 1150.7,466.7 1151.0,468.7 1151.3,481.8 1151.7,471.0 1152.0,461.5 1152.3,461.5 1152.6,479.9 1153.0,463.9 1153.3,458.2 1153.6,462.7 1153.9,473.3 1154.3,484.6 1154.6,482.8 1154.9,479.9 1155.3,472.6 1155.6,468.6 1155.9,477.6 1156.2,486.8 1156.6,479.7 1156.9,485.0 1157.2,465.8 1157.5,480.8 1157.9,471.4 1158.2,466.4 1158.5,479.1 1158.8,467.0 1159.2,472.8 1159.5,479.3 1159.8,482.1 1160.2,474.7 1160.5,465.4 1160.8,486.1 1161.1,471.8 1161.5,474.2 1161.8,479.5 1162.1,475.8 1162.4,474.1 1162.8,474.1 1163.1,467.3 1163.4,478.9 1163.8,459.6 1164.1,463.1 1164.4,475.4 1164.7,488.8 1165.1,477.4 1165.4,477.5 1165.7,468.6 1166.0,466.6 1166.4,456.8 1166.7,470.2 1167.0,466.4 1167.3,474.8 1167.7,476.5 1168.0,462.2 1168.3,471.5 1168.7,473.6 1169.0,476.0 1169.3,471.3 1169.6,468.0 1170.0,472.7 1170.3,481.8 1170.6,472.6 1170.9,479.3 1171.3,477.3 1171.6,472.4 1171.9,470.9 1172.3,490.4 1172.6,464.1 1172.9,464.6 1173.2,455.9 1173.6,449.2 1173.9,474.3 1174.2,477.7 1174.5,472.3 1174.9,465.6 1175.2,475.1 1175.5,476.0 1175.8,465.5 1176.2,478.1 1176.5,472.7 1176.8,464.7 1177.2,473.1 1177.5,467.2 1177.8,472.7 1178.1,485.4 1178.5,480.6 1178.8,476.8 1179.1,476.9 1179.4,474.2 1179.8,470.6 1180.1,470.6 1180.4,471.5 1180.8,476.5 1181.1,476.1 1181.4,477.3 1181.7,479.2 1182.1,464.6 1182.4,486.2 1182.7,475.2 1183.0,486.9 1183.4,481.9 1183.7,469.9 1184.0,475.3 1184.3,463.7 1184.7,479.0 1185.0,477.8 1185.3,480.1 1185.7,475.8 1186.0,477.3 1186.3,478.2 1186.6,474.9 1187.0,466.2 1187.3,471.5 1187.6,473.6 1187.9,476.8 1188.3,480.9 1188.6,487.6 1188.9,486.3 1189.3,477.7 1189.6,490.6 1189.9,474.1 1190.2,478.2 1190.6,483.3 1190.9,481.6 1191.2,471.9 1191.5,471.7 1191.9,472.4 1192.2,461.0 1192.5,453.6 1192.9,479.5 1193.2,469.3 1193.5,479.3 1193.8,486.4 1194.2,481.5 1194.5,468.3 1194.8,475.0 1195.1,477.8 1195.5,463.9 1195.8,467.1 1196.1,472.3 1196.4,458.9 1196.8,465.6 1197.1,476.5 1197.4,481.9 1197.8,478.0 1198.1,472.4 1198.4,464.9 1198.7,463.7 1199.1,468.9 1199.4,480.1 1199.7,466.6 1200.0,469.7 1200.4,479.5 1200.7,483.0 1201.0,472.7 1201.4,469.1 1201.7,464.6 1202.0,479.1 1202.3,458.5 1202.7,482.1 1203.0,474.3 1203.3,461.6 1203.6,460.7 1204.0,475.9 1204.3,467.6 1204.6,460.6 1204.9,462.7 1205.3,476.4 1205.6,459.4 1205.9,480.5 1206.3,472.9 1206.6,479.6 1206.9,476.2 1207.2,474.6 1207.6,467.8 1207.9,479.7 1208.2,471.2 1208.5,460.7 1208.9,467.4 1209.2,465.5 1209.5,465.8 1209.9,474.9 1210.2,474.3 1210.5,470.8 1210.8,466.6 1211.2,453.5 1211.5,453.2 1211.8,469.3 1212.1,473.0 1212.5,478.4 1212.8,489.8 1213.1,464.5 1213.4,464.2 1213.8,483.2 1214.1,472.8 1214.4,452.0 1214.8,461.2 1215.1,463.3 1215.4,466.0 1215.7,474.2 1216.1,479.3 1216.4,477.9 1216.7,469.9 1217.0,470.8 1217.4,463.7 1217.7,453.7 1218.0,460.1 1218.4,459.7 1218.7,468.8 1219.0,478.3 1219.3,453.8 1219.7,458.8 1220.0,456.4 1220.3,467.8 1220.6,480.9 1221.0,460.7 1221.3,482.5 1221.6,472.5 1222.0,472.8 1222.3,467.0 1222.6,460.9 1222.9,459.2 1223.3,481.5 1223.6,463.0 1223.9,480.8 1224.2,465.2 1224.6,469.8 1224.9,476.4 1225.2,473.3 1225.5,478.6 1225.9,469.7 1226.2,460.0 1226.5,458.6 1226.9,464.1 1227.2,457.2 1227.5,460.0 1227.8,447.8 1228.2,457.5 1228.5,468.5 1228.8,468.8 1229.1,472.5 1229.5,469.7 1229.8,467.8 1230.1,460.9 1230.5,458.3 1230.8,463.3 1231.1,461.6 1231.4,470.2 1231.8,470.8 1232.1,485.8 1232.4,476.4 1232.7,471.8 1233.1,446.7 1233.4,471.0 1233.7,465.9 1234.0,467.7 1234.4,477.8 1234.7,465.9 1235.0,464.9 1235.4,476.0 1235.7,485.5 1236.0,470.2 1236.3,477.0 1236.7,462.2 1237.0,465.8 1237.3,460.4 1237.6,465.5 1238.0,452.3 1238.3,455.6 1238.6,449.8 1239.0,459.3 1239.3,470.4 1239.6,476.3 1239.9,470.5 1240.3,462.8 1240.6,468.0 1240.9,445.2 1241.2,459.1 1241.6,458.4 1241.9,461.0 1242.2,472.1 1242.5,456.7 1242.9,456.0 1243.2,454.1 1243.5,467.6 1243.9,463.4 1244.2,462.8 1244.5,453.1 1244.8,470.6 1245.2,458.8 1245.5,451.1 1245.8,462.3 1246.1,468.1 1246.5,452.8 1246.8,457.4 1247.1,451.5 1247.5,452.9 1247.8,450.7 1248.1,459.9 1248.4,477.3 1248.8,460.3 1249.1,466.0 1249.4,457.2 1249.7,463.9 1250.1,448.7 1250.4,459.5 1250.7,453.7 1251.0,450.0 1251.4,458.3 1251.7,457.2 1252.0,459.5 1252.4,467.2 1252.7,450.2 1253.0,464.7 1253.3,473.4 1253.7,467.2 1254.0,460.6 1254.3,459.4 1254.6,462.3 1255.0,463.8 1255.3,477.4 1255.6,459.1 1256.0,445.7 1256.3,461.7 1256.6,474.1 1256.9,457.1 1257.3,460.0 1257.6,490.7 1257.9,472.9 1258.2,473.9 1258.6,471.9 1258.9,446.5 1259.2,447.9 1259.6,457.2 1259.9,458.1 1260.2,446.0 1260.5,463.9 1260.9,453.9 1261.2,462.2 1261.5,452.5 1261.8,454.9 1262.2,463.1 1262.5,450.8 1262.8,451.8 1263.1,441.7 1263.5,456.9 1263.8,456.3 1264.1,462.7 1264.5,449.1 1264.8,461.3 1265.1,458.5 1265.4,447.2 1265.8,450.5 1266.1,453.2 1266.4,454.0 1266.7,453.6 1267.1,451.0 1267.4,457.8 1267.7,472.8 1268.1,450.2 1268.4,463.5 1268.7,443.8 1269.0,451.1 1269.4,430.0 1269.7,440.5 1270.0,449.1 1270.3,447.2 1270.7,465.1 1271.0,457.0 1271.3,459.3 1271.6,456.8 1272.0,472.5 1272.3,477.6 1272.6,455.7 1273.0,455.5 1273.3,459.4 1273.6,457.5 1273.9,461.4 1274.3,461.0 1274.6,451.6 1274.9,456.6 1275.2,450.3 1275.6,459.9 1275.9,471.0 1276.2,464.6 1276.6,458.9 1276.9,465.2 1277.2,460.9 1277.5,460.7 1277.9,449.3 1278.2,447.0 1278.5,444.4 1278.8,458.5 1279.2,453.2 1279.5,444.3 1279.8,450.8 1280.1,454.4 1280.5,460.8 1280.8,449.6 1281.1,452.0 1281.5,446.0 1281.8,453.6 1282.1,437.8 1282.4,450.4 1282.8,463.1 1283.1,454.8 1283.4,450.5 1283.7,443.0 1284.1,455.0 1284.4,458.5 1284.7,457.2 1285.1,457.8 1285.4,471.6 1285.7,452.5 1286.0,443.4 1286.4,457.1 1286.7,462.2 1287.0,456.7 1287.3,460.6 1287.7,448.8 1288.0,457.0 1288.3,449.2 1288.7,461.9 1289.0,466.4 1289.3,468.5 1289.6,468.0 1290.0,453.1 1290.3,446.0 1290.6,449.8 1290.9,450.1 1291.3,469.3 1291.6,447.7 1291.9,460.9 1292.2,444.0 1292.6,430.9 1292.9,446.3 1293.2,445.6 1293.6,445.4 1293.9,460.6 1294.2,462.9 1294.5,459.9 1294.9,452.5 1295.2,445.1 1295.5,449.0 1295.8,442.1 1296.2,453.0 1296.5,462.9 1296.8,453.9 1297.2,452.2 1297.5,462.6 1297.8,445.7 1298.1,457.2 1298.5,458.1 1298.8,450.8 1299.1,459.2 1299.4,447.9 1299.8,446.8 1300.1,445.9 1300.4,449.3 1300.7,453.8 1301.1,457.1 1301.4,449.5 1301.7,439.1 1302.1,441.0 1302.4,444.7 1302.7,440.6 1303.0,436.9 1303.4,456.3 1303.7,451.5 1304.0,440.3 1304.3,452.2 1304.7,453.6 1305.0,445.4 1305.3,449.9 1305.7,439.7 1306.0,449.0 1306.3,444.1 1306.6,427.8 1307.0,434.3 1307.3,455.7 1307.6,458.5 1307.9,458.8 1308.3,451.3 1308.6,460.1 1308.9,446.8 1309.2,434.2 1309.6,432.3 1309.9,450.1 1310.2,450.7 1310.6,451.0 1310.9,455.1 1311.2,436.3 1311.5,450.3 1311.9,457.1 1312.2,447.2 1312.5,444.9 1312.8,434.9 1313.2,432.3 1313.5,445.1 1313.8,463.3 1314.2,446.0 1314.5,440.6 1314.8,431.5 1315.1,455.6 1315.5,458.4 1315.8,437.7 1316.1,431.9 1316.4,433.0 1316.8,443.6 1317.1,435.9 1317.4,448.5 1317.7,457.0 1318.1,449.8 1318.4,446.7 1318.7,440.3 1319.1,436.5 1319.4,457.9 1319.7,447.1 1320.0,442.8 1320.4,455.4 1320.7,450.7 1321.0,447.0 1321.3,442.9 1321.7,452.1 1322.0,452.4"/>
<polyline fill="none" stroke="#0a0aee" stroke-width="1.5" stroke-linejoin="miter" points="896.0,658.0 896.6,554.8 897.3,529.0 897.6,533.5 897.9,525.2 898.3,516.8 898.6,508.2 898.9,513.2 899.2,518.8 899.6,521.2 899.9,508.6 900.2,497.6 900.5,504.7 900.9,517.5 901.2,517.6 901.5,496.4 901.9,501.3 902.2,517.0 902.5,506.9 902.8,512.0 903.2,508.2 903.5,505.1 903.8,505.3 904.1,494.3 904.5,495.5 904.8,499.6 905.1,492.1 905.5,486.4 905.8,504.1 906.1,497.0 906.4,500.5 906.8,494.4 907.1,501.2 907.4,492.0 907.7,489.7 908.1,490.7 908.4,496.3 908.7,492.0 909.0,496.0 909.4,498.5 909.7,486.1 910.0,493.1 910.4,476.1 910.7,475.0 911.0,495.8 911.3,482.4 911.7,489.5 912.0,481.7 912.3,479.2 912.6,494.2 913.0,483.4 913.3,480.4 913.6,469.4 914.0,483.2 914.3,470.9 914.6,481.9 914.9,478.0 915.3,480.6 915.6,462.5 915.9,464.5 916.2,449.6 916.6,459.6 916.9,460.0 917.2,459.6 917.5,471.2 917.9,470.0 918.2,458.6 918.5,469.9 918.9,468.2 919.2,469.6 919.5,465.1 919.8,471.9 920.2,472.1 920.5,469.2 920.8,469.7 921.1,477.7 921.5,465.9 921.8,480.6 922.1,483.6 922.5,485.2 922.8,467.9 923.1,474.3 923.4,480.9 923.8,484.1 924.1,472.7 924.4,481.7 924.7,485.9 925.1,472.1 925.4,483.2 925.7,479.2 926.1,475.9 926.4,478.7 926.7,476.5 927.0,465.0 927.4,477.1 927.7,486.2 928.0,493.2 928.3,482.2 928.7,480.8 929.0,475.7 929.3,480.4 929.6,481.8 930.0,484.3 930.3,483.3 930.6,477.5 931.0,480.3 931.3,477.1 931.6,461.9 931.9,469.4 932.3,487.5 932.6,465.7 932.9,471.2 933.2,482.7 933.6,470.9 933.9,474.9 934.2,480.9 934.6,482.4 934.9,485.6 935.2,478.1 935.5,468.0 935.9,476.5 936.2,472.6 936.5,460.0 936.8,481.4 937.2,475.0 937.5,477.8 937.8,484.4 938.1,485.7 938.5,478.0 938.8,472.4 939.1,478.6 939.5,475.4 939.8,469.3 940.1,471.0 940.4,466.9 940.8,469.0 941.1,469.3 941.4,458.6 941.7,465.5 942.1,471.0 942.4,467.7 942.7,479.8 943.1,478.1 943.4,468.7 943.7,467.5 944.0,459.9 944.4,470.1 944.7,484.3 945.0,460.7 945.3,461.5 945.7,478.8 946.0,463.7 946.3,470.5 946.6,486.8 947.0,479.8 947.3,478.6 947.6,461.4 948.0,475.9 948.3,475.0 948.6,474.8 948.9,475.4 949.3,479.6 949.6,471.5 949.9,462.5 950.2,463.7 950.6,476.1 950.9,480.8 951.2,471.7 951.6,475.9 951.9,476.1 952.2,484.3 952.5,457.4 952.9,458.7 953.2,473.9 953.5,462.5 953.8,456.0 954.2,483.9 954.5,476.1 954.8,472.7 955.2,463.4 955.5,467.1 955.8,468.7 956.1,467.5 956.5,451.8 956.8,445.3 957.1,464.9 957.4,472.8 957.8,445.8 958.1,468.1 958.4,470.3 958.7,465.8 959.1,460.9 959.4,455.2 959.7,458.7 960.1,469.6 960.4,461.4 960.7,461.5 961.0,448.6 961.4,460.5 961.7,474.0 962.0,475.1 962.3,455.6 962.7,466.6 963.0,481.8 963.3,473.6 963.7,467.0 964.0,455.9 964.3,470.7 964.6,461.1 965.0,457.7 965.3,468.8 965.6,467.6 965.9,451.7 966.3,448.2 966.6,454.3 966.9,460.0 967.2,455.1 967.6,464.1 967.9,466.0 968.2,472.6 968.6,467.5 968.9,466.9 969.2,444.1 969.5,462.1 969.9,455.0 970.2,452.8 970.5,464.3 970.8,456.5 971.2,481.2 971.5,469.3 971.8,460.4 972.2,484.1 972.5,480.2 972.8,461.7 973.1,467.5 973.5,475.7 973.8,472.1 974.1,472.6 974.4,462.7 974.8,462.4 975.1,468.2 975.4,472.8 975.7,469.1 976.1,457.3 976.4,462.1 976.7,461.1 977.1,467.2 977.4,477.8 977.7,475.9 978.0,464.6 978.4,466.2 978.7,474.7 979.0,482.5 979.3,470.8 979.7,471.5 980.0,471.8 980.3,471.8 980.7,466.9 981.0,465.7 981.3,460.1 981.6,458.9 982.0,455.3 982.3,458.6 982.6,468.4 982.9,468.6 983.3,464.2 983.6,469.4 983.9,463.9 984.2,457.6 984.6,471.6 984.9,482.7 985.2,461.9 985.6,465.9 985.9,461.4 986.2,476.5 986.5,455.8 986.9,458.5 987.2,466.0 987.5,469.6 987.8,466.8 988.2,468.2 988.5,469.4 988.8,476.4 989.2,459.1 989.5,465.1 989.8,465.6 990.1,465.6 990.5,485.0 990.8,466.8 991.1,469.1 991.4,469.3 991.8,466.4 992.1,473.9 992.4,461.3 992.8,470.3 993.1,474.2 993.4,474.8 993.7,466.8 994.1,460.0 994.4,469.0 994.7,478.4 995.0,460.3 995.4,472.6 995.7,457.7 996.0,463.8 996.3,470.4 996.7,471.5 997.0,463.0 997.3,457.4 997.7,464.6 998.0,457.3 998.3,446.3 998.6,461.8 999.0,473.1 999.3,475.1 999.6,478.2 999.9,473.0 1000.3,472.3 1000.6,476.8 1000.9,463.2 1001.3,484.7 1001.6,479.7 1001.9,451.9 1002.2,452.7 1002.6,456.9 1002.9,458.5 1003.2,448.5 1003.5,455.8 1003.9,461.3 1004.2,473.0 1004.5,466.8 1004.8,470.5 1005.2,471.2 1005.5,471.4 1005.8,466.2 1006.2,467.1 1006.5,457.8 1006.8,472.9 1007.1,467.5 1007.5,450.0 1007.8,460.1 1008.1,453.4 1008.4,452.3 1008.8,450.5 1009.1,454.7 1009.4,472.6 1009.8,468.2 1010.1,468.0 1010.4,477.3 1010.7,471.0 1011.1,475.6 1011.4,480.1 1011.7,466.3 1012.0,464.9 1012.4,469.6 1012.7,472.9 1013.0,470.5 1013.3,468.7 1013.7,468.4 1014.0,465.5 1014.3,467.8 1014.7,461.8 1015.0,459.2 1015.3,459.9 1015.6,468.2 1016.0,469.9 1016.3,462.0 1016.6,465.0 1016.9,464.5 1017.3,483.9 1017.6,490.4 1017.9,467.9 1018.3,462.3 1018.6,452.4 1018.9,455.3 1019.2,460.0 1019.6,462.8 1019.9,475.0 1020.2,459.7 1020.5,467.7 1020.9,460.9 1021.2,461.6 1021.5,461.2 1021.9,456.1 1022.2,465.9 1022.5,467.5 1022.8,471.6 1023.2,468.9 1023.5,451.9 1023.8,463.8 1024.1,454.5 1024.5,455.1 1024.8,456.1 1025.1,455.8 1025.4,470.2 1025.8,462.9 1026.1,451.4 1026.4,466.8 1026.8,465.5 1027.1,470.3 1027.4,463.6 1027.7,473.1 1028.1,454.1 1028.4,465.2 1028.7,477.3 1029.0,453.9 1029.4,454.6 1029.7,458.4 1030.0,459.3 1030.4,466.7 1030.7,467.5 1031.0,460.2 1031.3,456.9 1031.7,456.0 1032.0,461.6 1032.3,468.4 1032.6,468.0 1033.0,457.6 1033.3,452.4 1033.6,465.3 1033.9,469.7 1034.3,457.1 1034.6,458.2 1034.9,458.7 1035.3,474.9 1035.6,471.5 1035.9,471.9 1036.2,466.3 1036.6,480.0 1036.9,459.9 1037.2,462.7 1037.5,462.4 1037.9,475.2 1038.2,469.3 1038.5,457.0 1038.9,477.1 1039.2,467.2 1039.5,461.7 1039.8,471.4 1040.2,461.9 1040.5,468.7 1040.8,458.1 1041.1,461.0 1041.5,464.2 1041.8,450.9 1042.1,457.0 1042.4,454.8 1042.8,474.1 1043.1,474.7 1043.4,463.1 1043.8,459.7 1044.1,466.6 1044.4,461.7 1044.7,475.1 1045.1,468.4 1045.4,477.4 1045.7,467.6 1046.0,471.5 1046.4,473.6 1046.7,468.4 1047.0,452.9 1047.4,471.3 1047.7,472.5 1048.0,459.4 1048.3,467.8 1048.7,452.3 1049.0,460.5 1049.3,463.4 1049.6,461.9 1050.0,450.3 1050.3,455.9 1050.6,458.2 1050.9,460.7 1051.3,475.6 1051.6,473.8 1051.9,454.3 1052.3,454.5 1052.6,456.9 1052.9,456.3 1053.2,465.4 1053.6,460.4 1053.9,468.9 1054.2,460.6 1054.5,467.1 1054.9,464.6 1055.2,458.5 1055.5,463.0 1055.9,456.2 1056.2,455.8 1056.5,456.3 1056.8,448.6 1057.2,468.8 1057.5,474.6 1057.8,458.3 1058.1,450.4 1058.5,438.7 1058.8,444.6 1059.1,444.4 1059.5,456.8 1059.8,445.8 1060.1,442.5 1060.4,454.3 1060.8,454.8 1061.1,447.6 1061.4,441.4 1061.7,464.5 1062.1,445.1 1062.4,439.1 1062.7,441.1 1063.0,438.1 1063.4,436.0 1063.7,447.2 1064.0,438.8 1064.4,442.1 1064.7,448.6 1065.0,441.1 1065.3,429.2 1065.7,449.7 1066.0,456.5 1066.3,458.3 1066.6,430.0 1067.0,440.7 1067.3,442.0 1067.6,448.2 1068.0,451.1 1068.3,460.5 1068.6,445.5 1068.9,441.2 1069.3,458.0 1069.6,454.9 1069.9,451.8 1070.2,445.4 1070.6,441.8 1070.9,434.0 1071.2,430.2 1071.5,431.8 1071.9,430.1 1072.2,449.7 1072.5,449.8 1072.9,436.5 1073.2,440.0 1073.5,443.2 1073.8,459.9 1074.2,463.3 1074.5,443.6 1074.8,441.9 1075.1,446.7 1075.5,448.9 1075.8,460.0 1076.1,446.2 1076.5,437.6 1076.8,430.7 1077.1,441.7 1077.4,446.6 1077.8,455.0 1078.1,438.8 1078.4,431.0 1078.7,447.6 1079.1,444.7 1079.4,445.6 1079.7,451.3 1080.0,468.1 1080.4,455.4 1080.7,444.6 1081.0,458.3 1081.4,457.1 1081.7,476.3 1082.0,444.9 1082.3,443.4 1082.7,446.7 1083.0,450.2 1083.3,454.0 1083.6,450.7 1084.0,451.8 1084.3,451.7 1084.6,450.0 1085.0,448.5 1085.3,436.9 1085.6,457.9 1085.9,449.7 1086.3,454.7 1086.6,460.2 1086.9,471.5 1087.2,450.7 1087.6,458.3 1087.9,458.3 1088.2,448.5 1088.6,458.3 1088.9,451.8 1089.2,450.9 1089.5,443.6 1089.9,440.0 1090.2,453.9 1090.5,443.1 1090.8,448.4 1091.2,447.9 1091.5,450.3 1091.8,442.9 1092.1,456.8 1092.5,448.4 1092.8,439.0 1093.1,448.1 1093.5,431.9 1093.8,449.7 1094.1,446.5 1094.4,451.2 1094.8,453.3 1095.1,457.7 1095.4,454.1 1095.7,449.2 1096.1,453.9 1096.4,441.5 1096.7,433.3 1097.1,455.3 1097.4,442.0 1097.7,443.6 1098.0,443.5 1098.4,425.8 1098.7,431.2 1099.0,439.4 1099.3,442.5 1099.7,461.8 1100.0,443.2 1100.3,450.5 1100.6,444.9 1101.0,444.0 1101.3,436.8 1101.6,426.4 1102.0,432.0 1102.3,431.0 1102.6,442.6 1102.9,439.9 1103.3,436.7 1103.6,453.3 1103.9,429.7 1104.2,445.6 1104.6,454.0 1104.9,432.8 1105.2,423.5 1105.6,443.6 1105.9,447.7 1106.2,419.1 1106.5,435.6 1106.9,456.4 1107.2,450.5 1107.5,428.2 1107.8,433.2 1108.2,433.6 1108.5,429.8 1108.8,433.1 1109.1,441.9 1109.5,454.2 1109.8,441.0 1110.1,450.1 1110.5,444.0 1110.8,428.0 1111.1,433.7 1111.4,439.0 1111.8,440.2 1112.1,435.3 1112.4,432.5 1112.7,449.6 1113.1,441.9 1113.4,427.9 1113.7,432.0 1114.1,445.1 1114.4,447.7 1114.7,459.3 1115.0,452.2 1115.4,431.3 1115.7,439.4 1116.0,447.7 1116.3,447.5 1116.7,443.8 1117.0,442.8 1117.3,444.5 1117.6,448.3 1118.0,438.0 1118.3,428.3 1118.6,442.6 1119.0,446.0 1119.3,433.1 1119.6,450.9 1119.9,448.5 1120.3,446.1 1120.6,441.2 1120.9,443.5 1121.2,448.9 1121.6,440.8 1121.9,450.7 1122.2,457.5 1122.6,461.5 1122.9,440.4 1123.2,454.9 1123.5,441.2 1123.9,436.0 1124.2,433.6 1124.5,440.8 1124.8,445.6 1125.2,441.7 1125.5,446.2 1125.8,452.8 1126.2,434.2 1126.5,446.7 1126.8,428.4 1127.1,434.0 1127.5,443.1 1127.8,438.3 1128.1,430.8 1128.4,449.7 1128.8,450.8 1129.1,452.1 1129.4,442.7 1129.7,438.5 1130.1,440.4 1130.4,446.9 1130.7,446.9 1131.1,433.2 1131.4,430.2 1131.7,437.3 1132.0,450.5 1132.4,438.3 1132.7,437.9 1133.0,438.0 1133.3,426.3 1133.7,430.5 1134.0,445.8 1134.3,449.5 1134.7,431.7 1135.0,436.5 1135.3,432.3 1135.6,439.1 1136.0,447.4 1136.3,439.3 1136.6,427.0 1136.9,433.5 1137.3,446.7 1137.6,443.5 1137.9,444.1 1138.2,438.8 1138.6,430.7 1138.9,421.0 1139.2,432.3 1139.6,440.3 1139.9,438.2 1140.2,438.1 1140.5,441.5 1140.9,438.8 1141.2,438.2 1141.5,447.4 1141.8,435.9 1142.2,440.2 1142.5,446.2 1142.8,435.9 1143.2,441.0 1143.5,424.6 1143.8,430.5 1144.1,435.1 1144.5,442.8 1144.8,441.9 1145.1,431.7 1145.4,441.3 1145.8,432.2 1146.1,452.6 1146.4,439.4 1146.7,431.1 1147.1,432.8 1147.4,435.9 1147.7,428.6 1148.1,441.5 1148.4,445.7 1148.7,438.1 1149.0,427.4 1149.4,430.8 1149.7,436.6 1150.0,434.0 1150.3,432.2 1150.7,445.1 1151.0,460.8 1151.3,450.4 1151.7,451.5 1152.0,444.4 1152.3,447.6 1152.6,445.6 1153.0,434.8 1153.3,434.7 1153.6,435.5 1153.9,422.3 1154.3,435.8 1154.6,438.4 1154.9,426.0 1155.3,441.7 1155.6,449.7 1155.9,428.2 1156.2,430.5 1156.6,428.9 1156.9,428.2 1157.2,425.8 1157.5,436.1 1157.9,435.4 1158.2,443.5 1158.5,435.5 1158.8,432.6 1159.2,437.3 1159.5,429.5 1159.8,409.3 1160.2,436.9 1160.5,427.9 1160.8,424.7 1161.1,422.8 1161.5,437.2 1161.8,424.8 1162.1,425.9 1162.4,432.3 1162.8,435.6 1163.1,431.7 1163.4,425.1 1163.8,423.8 1164.1,412.2 1164.4,430.3 1164.7,427.0 1165.1,434.4 1165.4,426.6 1165.7,429.7 1166.0,436.3 1166.4,443.7 1166.7,441.0 1167.0,432.3 1167.3,420.2 1167.7,422.7 1168.0,439.0 1168.3,437.4 1168.7,432.8 1169.0,433.0 1169.3,431.5 1169.6,425.5 1170.0,428.6 1170.3,436.6 1170.6,448.4 1170.9,438.8 1171.3,447.0 1171.6,437.0 1171.9,430.8 1172.3,442.4 1172.6,435.8 1172.9,435.8 1173.2,418.0 1173.6,425.2 1173.9,445.7 1174.2,432.3 1174.5,429.3 1174.9,433.4 1175.2,435.9 1175.5,428.8 1175.8,426.6 1176.2,427.9 1176.5,439.6 1176.8,436.6 1177.2,446.3 1177.5,448.3 1177.8,441.4 1178.1,443.6 1178.5,439.1 1178.8,415.0 1179.1,424.8 1179.4,438.2 1179.8,451.8 1180.1,444.7 1180.4,447.7 1180.8,454.6 1181.1,433.1 1181.4,437.3 1181.7,431.1 1182.1,408.4 1182.4,425.2 1182.7,430.6 1183.0,430.1 1183.4,434.9 1183.7,440.5 1184.0,437.1 1184.3,425.4 1184.7,433.7 1185.0,444.5 1185.3,446.3 1185.7,445.0 1186.0,436.3 1186.3,430.4 1186.6,428.9 1187.0,422.9 1187.3,432.4 1187.6,426.5 1187.9,429.0 1188.3,426.5 1188.6,446.1 1188.9,426.4 1189.3,443.6 1189.6,444.5 1189.9,429.6 1190.2,435.1 1190.6,419.3 1190.9,428.1 1191.2,439.7 1191.5,433.1 1191.9,435.9 1192.2,421.1 1192.5,416.7 1192.9,422.7 1193.2,433.3 1193.5,432.0 1193.8,424.0 1194.2,436.7 1194.5,440.0 1194.8,427.9 1195.1,426.0 1195.5,433.3 1195.8,435.6 1196.1,449.7 1196.4,428.5 1196.8,433.6 1197.1,445.5 1197.4,446.2 1197.8,444.7 1198.1,423.8 1198.4,426.8 1198.7,443.8 1199.1,422.9 1199.4,421.9 1199.7,440.8 1200.0,458.5 1200.4,434.2 1200.7,440.7 1201.0,438.8 1201.4,441.6 1201.7,428.3 1202.0,423.3 1202.3,427.6 1202.7,436.4 1203.0,435.5 1203.3,432.6 1203.6,449.5 1204.0,431.4 1204.3,439.5 1204.6,437.1 1204.9,437.6 1205.3,431.8 1205.6,429.2 1205.9,419.6 1206.3,437.7 1206.6,446.8 1206.9,440.9 1207.2,445.8 1207.6,435.2 1207.9,445.9 1208.2,441.3 1208.5,433.8 1208.9,431.5 1209.2,437.5 1209.5,429.6 1209.9,428.7 1210.2,452.4 1210.5,442.1 1210.8,441.1 1211.2,444.8 1211.5,448.6 1211.8,444.2 1212.1,440.6 1212.5,440.7 1212.8,432.2 1213.1,433.2 1213.4,446.2 1213.8,450.9 1214.1,439.5 1214.4,449.1 1214.8,444.7 1215.1,441.4 1215.4,436.3 1215.7,438.9 1216.1,432.0 1216.4,445.3 1216.7,439.4 1217.0,448.4 1217.4,443.8 1217.7,442.9 1218.0,450.9 1218.4,466.1 1218.7,441.4 1219.0,439.8 1219.3,441.0 1219.7,447.9 1220.0,446.5 1220.3,439.7 1220.6,441.3 1221.0,432.5 1221.3,438.5 1221.6,447.3 1222.0,437.9 1222.3,445.3 1222.6,440.3 1222.9,455.0 1223.3,446.9 1223.6,437.5 1223.9,444.6 1224.2,441.3 1224.6,435.4 1224.9,437.9 1225.2,424.8 1225.5,437.6 1225.9,440.0 1226.2,440.3 1226.5,454.7 1226.9,454.6 1227.2,438.0 1227.5,440.5 1227.8,427.3 1228.2,435.6 1228.5,438.2 1228.8,429.2 1229.1,432.7 1229.5,422.9 1229.8,441.5 1230.1,434.0 1230.5,430.1 1230.8,429.9 1231.1,425.0 1231.4,424.6 1231.8,432.2 1232.1,438.6 1232.4,427.8 1232.7,432.4 1233.1,426.1 1233.4,421.2 1233.7,428.9 1234.0,439.4 1234.4,436.7 1234.7,427.6 1235.0,433.2 1235.4,423.2 1235.7,429.6 1236.0,430.2 1236.3,436.2 1236.7,433.4 1237.0,423.2 1237.3,432.2 1237.6,434.5 1238.0,438.8 1238.3,427.6 1238.6,443.2 1239.0,440.3 1239.3,427.3 1239.6,420.1 1239.9,431.5 1240.3,425.0 1240.6,447.0 1240.9,430.8 1241.2,430.6 1241.6,442.7 1241.9,450.2 1242.2,442.1 1242.5,434.1 1242.9,431.3 1243.2,432.8 1243.5,428.0 1243.9,427.5 1244.2,444.0 1244.5,440.3 1244.8,440.5 1245.2,428.5 1245.5,437.6 1245.8,428.1 1246.1,433.1 1246.5,416.5 1246.8,431.6 1247.1,435.0 1247.5,436.9 1247.8,435.4 1248.1,417.0 1248.4,435.8 1248.8,443.5 1249.1,440.2 1249.4,432.6 1249.7,444.0 1250.1,432.8 1250.4,430.3 1250.7,437.2 1251.0,439.7 1251.4,444.8 1251.7,442.0 1252.0,445.6 1252.4,430.4 1252.7,423.7 1253.0,437.3 1253.3,438.9 1253.7,454.1 1254.0,447.2 1254.3,438.6 1254.6,437.2 1255.0,438.1 1255.3,432.7 1255.6,437.4 1256.0,442.5 1256.3,428.1 1256.6,452.6 1256.9,452.8 1257.3,449.6 1257.6,448.8 1257.9,449.1 1258.2,444.9 1258.6,447.6 1258.9,443.1 1259.2,436.7 1259.6,439.6 1259.9,439.4 1260.2,447.8 1260.5,451.5 1260.9,445.6 1261.2,434.5 1261.5,436.0 1261.8,430.7 1262.2,430.1 1262.5,428.8 1262.8,443.8 1263.1,431.2 1263.5,431.9 1263.8,421.5 1264.1,430.7 1264.5,435.0 1264.8,439.6 1265.1,438.4 1265.4,452.4 1265.8,444.8 1266.1,441.1 1266.4,432.0 1266.7,442.7 1267.1,439.1 1267.4,424.8 1267.7,439.8 1268.1,432.6 1268.4,441.6 1268.7,440.4 1269.0,435.6 1269.4,431.1 1269.7,440.7 1270.0,447.3 1270.3,428.8 1270.7,434.6 1271.0,431.2 1271.3,429.4 1271.6,430.1 1272.0,438.3 1272.3,439.3 1272.6,450.7 1273.0,439.8 1273.3,442.1 1273.6,439.1 1273.9,423.5 1274.3,428.8 1274.6,435.1 1274.9,447.7 1275.2,434.4 1275.6,424.7 1275.9,440.7 1276.2,434.9 1276.6,440.7 1276.9,439.3 1277.2,440.6 1277.5,450.6 1277.9,444.4 1278.2,451.5 1278.5,429.7 1278.8,426.9 1279.2,433.9 1279.5,433.8 1279.8,435.6 1280.1,435.0 1280.5,435.0 1280.8,438.4 1281.1,438.7 1281.5,448.1 1281.8,447.8 1282.1,444.7 1282.4,437.6 1282.8,440.4 1283.1,423.3 1283.4,435.5 1283.7,439.9 1284.1,434.9 1284.4,429.0 1284.7,421.2 1285.1,426.1 1285.4,439.6 1285.7,439.8 1286.0,430.3 1286.4,434.2 1286.7,431.0 1287.0,437.1 1287.3,425.5 1287.7,423.9 1288.0,426.1 1288.3,434.2 1288.7,450.1 1289.0,452.0 1289.3,439.5 1289.6,433.9 1290.0,460.3 1290.3,447.9 1290.6,432.3 1290.9,429.9 1291.3,440.7 1291.6,434.6 1291.9,437.8 1292.2,440.6 1292.6,431.0 1292.9,428.4 1293.2,440.8 1293.6,447.2 1293.9,451.7 1294.2,453.7 1294.5,432.9 1294.9,423.5 1295.2,434.1 1295.5,430.3 1295.8,442.9 1296.2,441.3 1296.5,433.3 1296.8,436.0 1297.2,439.5 1297.5,453.0 1297.8,454.8 1298.1,447.2 1298.5,446.5 1298.8,442.6 1299.1,446.1 1299.4,443.7 1299.8,441.0 1300.1,436.9 1300.4,439.4 1300.7,444.8 1301.1,444.0 1301.4,434.6 1301.7,440.8 1302.1,448.2 1302.4,450.3 1302.7,440.8 1303.0,436.2 1303.4,429.9 1303.7,440.2 1304.0,429.6 1304.3,440.3 1304.7,442.0 1305.0,445.0 1305.3,437.2 1305.7,431.2 1306.0,437.9 1306.3,443.2 1306.6,452.6 1307.0,441.8 1307.3,442.8 1307.6,442.0 1307.9,445.0 1308.3,447.6 1308.6,444.8 1308.9,437.2 1309.2,431.4 1309.6,437.3 1309.9,436.2 1310.2,439.9 1310.6,440.2 1310.9,449.8 1311.2,434.8 1311.5,433.2 1311.9,426.1 1312.2,440.3 1312.5,438.0 1312.8,445.5 1313.2,438.4 1313.5,439.4 1313.8,433.4 1314.2,438.2 1314.5,433.2 1314.8,440.7 1315.1,434.1 1315.5,439.3 1315.8,441.6 1316.1,438.1 1316.4,435.0 1316.8,447.9 1317.1,451.9 1317.4,439.7 1317.7,438.5 1318.1,453.3 1318.4,454.5 1318.7,447.5 1319.1,437.3 1319.4,435.6 1319.7,428.9 1320.0,425.9 1320.4,415.9 1320.7,442.7 1321.0,438.6 1321.3,429.0 1321.7,444.4 1322.0,449.4"/>
<polyline fill="none" stroke="#10eaf8" stroke-width="1.5" stroke-linejoin="miter" points="896.0,658.0 896.6,543.0 897.3,514.3 897.6,506.2 897.9,538.3 898.3,527.0 898.6,514.8 898.9,508.9 899.2,512.8 899.6,506.9 899.9,514.8 900.2,514.5 900.5,517.2 900.9,527.6 901.2,528.2 901.5,518.4 901.9,523.4 902.2,509.8 902.5,506.0 902.8,500.9 903.2,513.9 903.5,505.7 903.8,521.6 904.1,524.7 904.5,518.2 904.8,514.8 905.1,528.6 905.5,532.9 905.8,517.3 906.1,522.8 906.4,507.6 906.8,510.1 907.1,511.2 907.4,512.1 907.7,506.7 908.1,513.4 908.4,505.1 908.7,515.6 909.0,515.5 909.4,518.7 909.7,509.0 910.0,510.7 910.4,517.9 910.7,496.7 911.0,509.8 911.3,510.7 911.7,506.6 912.0,494.5 912.3,506.1 912.6,501.9 913.0,505.3 913.3,518.2 913.6,503.2 914.0,497.3 914.3,505.5 914.6,505.4 914.9,516.8 915.3,519.4 915.6,510.8 915.9,500.3 916.2,505.9 916.6,501.0 916.9,494.1 917.2,498.9 917.5,495.9 917.9,488.0 918.2,506.9 918.5,495.6 918.9,513.2 919.2,498.9 919.5,496.8 919.8,501.9 920.2,507.0 920.5,499.9 920.8,500.5 921.1,496.3 921.5,502.9 921.8,492.8 922.1,502.6 922.5,499.1 922.8,498.7 923.1,485.3 923.4,503.6 923.8,499.4 924.1,485.6 924.4,496.5 924.7,503.6 925.1,493.1 925.4,494.9 925.7,486.2 926.1,497.7 926.4,491.6 926.7,486.1 927.0,481.7 927.4,497.3 927.7,481.0 928.0,495.1 928.3,503.3 928.7,500.7 929.0,491.1 929.3,492.3 929.6,486.3 930.0,484.2 930.3,484.9 930.6,489.4 931.0,474.0 931.3,501.8 931.6,504.8 931.9,495.6 932.3,499.0 932.6,510.0 932.9,498.6 933.2,495.2 933.6,507.6 933.9,484.3 934.2,474.8 934.6,472.8 934.9,485.9 935.2,483.7 935.5,493.0 935.9,484.7 936.2,489.4 936.5,481.8 936.8,485.6 937.2,475.5 937.5,474.4 937.8,470.7 938.1,492.1 938.5,498.9 938.8,482.9 939.1,486.7 939.5,479.9 939.8,478.9 940.1,479.5 940.4,473.8 940.8,475.2 941.1,476.1 941.4,487.1 941.7,469.1 942.1,477.2 942.4,471.4 942.7,476.1 943.1,469.7 943.4,476.9 943.7,478.2 944.0,479.1 944.4,485.9 944.7,486.5 945.0,483.2 945.3,482.1 945.7,488.7 946.0,463.8 946.3,484.0 946.6,483.6 947.0,461.7 947.3,480.7 947.6,474.2 948.0,473.3 948.3,479.9 948.6,491.2 948.9,494.9 949.3,483.6 949.6,477.3 949.9,496.0 950.2,482.4 950.6,485.3 950.9,473.8 951.2,476.5 951.6,484.9 951.9,483.9 952.2,479.9 952.5,468.6 952.9,452.2 953.2,469.3 953.5,475.4 953.8,472.3 954.2,476.7 954.5,472.5 954.8,473.3 955.2,476.5 955.5,483.5 955.8,477.6 956.1,470.2 956.5,474.9 956.8,464.6 957.1,466.5 957.4,475.4 957.8,462.7 958.1,482.2 958.4,468.8 958.7,460.0 959.1,474.4 959.4,476.7 959.7,469.0 960.1,463.1 960.4,469.4 960.7,472.5 961.0,467.8 961.4,471.8 961.7,484.4 962.0,479.4 962.3,476.7 962.7,487.7 963.0,475.4 963.3,481.3 963.7,471.0 964.0,486.0 964.3,485.2 964.6,489.2 965.0,468.5 965.3,463.3 965.6,460.5 965.9,459.6 966.3,463.9 966.6,465.0 966.9,485.7 967.2,474.8 967.6,478.6 967.9,478.1 968.2,485.1 968.6,466.6 968.9,471.1 969.2,485.2 969.5,472.9 969.9,474.5 970.2,482.5 970.5,478.7 970.8,481.6 971.2,494.3 971.5,491.4 971.8,474.6 972.2,471.5 972.5,470.8 972.8,480.9 973.1,476.6 973.5,466.9 973.8,455.1 974.1,459.7 974.4,459.2 974.8,440.7 975.1,446.3 975.4,455.1 975.7,464.8 976.1,470.7 976.4,457.4 976.7,460.7 977.1,473.3 977.4,483.4 977.7,462.8 978.0,458.5 978.4,460.2 978.7,463.5 979.0,485.8 979.3,486.7 979.7,472.1 980.0,475.2 980.3,471.6 980.7,476.8 981.0,479.1 981.3,470.2 981.6,475.7 982.0,474.1 982.3,471.8 982.6,471.6 982.9,464.3 983.3,461.0 983.6,482.0 983.9,478.7 984.2,481.0 984.6,470.7 984.9,482.7 985.2,471.2 985.6,469.1 985.9,469.7 986.2,482.3 986.5,479.6 986.9,485.9 987.2,476.0 987.5,469.2 987.8,487.3 988.2,486.5 988.5,481.2 988.8,482.9 989.2,467.5 989.5,476.8 989.8,476.1 990.1,486.9 990.5,468.7 990.8,475.2 991.1,472.2 991.4,477.0 991.8,495.9 992.1,496.6 992.4,494.5 992.8,480.2 993.1,484.5 993.4,478.3 993.7,478.1 994.1,478.5 994.4,473.4 994.7,478.1 995.0,493.9 995.4,490.4 995.7,471.1 996.0,488.1 996.3,473.2 996.7,467.4 997.0,483.9 997.3,480.7 997.7,493.9 998.0,480.1 998.3,489.1 998.6,495.7 999.0,490.3 999.3,489.6 999.6,490.6 999.9,484.8 1000.3,486.4 1000.6,490.9 1000.9,479.4 1001.3,465.0 1001.6,480.2 1001.9,490.3 1002.2,495.2 1002.6,484.0 1002.9,487.7 1003.2,486.4 1003.5,501.9 1003.9,498.8 1004.2,498.2 1004.5,481.3 1004.8,486.5 1005.2,505.3 1005.5,486.4 1005.8,476.4 1006.2,472.5 1006.5,503.8 1006.8,488.2 1007.1,479.0 1007.5,478.2 1007.8,484.6 1008.1,498.4 1008.4,491.0 1008.8,488.1 1009.1,480.2 1009.4,477.6 1009.8,483.9 1010.1,476.7 1010.4,489.9 1010.7,490.1 1011.1,484.9 1011.4,478.7 1011.7,484.1 1012.0,473.1 1012.4,476.7 1012.7,488.3 1013.0,482.9 1013.3,489.1 1013.7,491.2 1014.0,495.3 1014.3,473.8 1014.7,472.2 1015.0,491.6 1015.3,474.9 1015.6,471.8 1016.0,481.4 1016.3,476.8 1016.6,461.8 1016.9,473.4 1017.3,475.2 1017.6,469.9 1017.9,485.6 1018.3,491.2 1018.6,493.7 1018.9,483.7 1019.2,473.5 1019.6,484.6 1019.9,491.3 1020.2,480.3 1020.5,481.9 1020.9,474.5 1021.2,478.3 1021.5,479.5 1021.9,478.9 1022.2,477.7 1022.5,485.2 1022.8,488.2 1023.2,467.4 1023.5,450.2 1023.8,461.4 1024.1,485.9 1024.5,478.8 1024.8,467.8 1025.1,487.3 1025.4,483.1 1025.8,481.4 1026.1,484.9 1026.4,485.1 1026.8,470.4 1027.1,478.3 1027.4,478.5 1027.7,463.0 1028.1,479.4 1028.4,491.9 1028.7,474.7 1029.0,459.5 1029.4,470.0 1029.7,471.8 1030.0,484.8 1030.4,485.2 1030.7,466.3 1031.0,463.1 1031.3,467.6 1031.7,478.4 1032.0,485.4 1032.3,486.0 1032.6,487.1 1033.0,473.2 1033.3,480.8 1033.6,480.4 1033.9,470.8 1034.3,468.6 1034.6,472.9 1034.9,470.6 1035.3,473.8 1035.6,489.9 1035.9,479.2 1036.2,479.2 1036.6,478.6 1036.9,473.7 1037.2,478.8 1037.5,465.9 1037.9,473.7 1038.2,472.9 1038.5,471.3 1038.9,474.9 1039.2,469.2 1039.5,466.9 1039.8,467.2 1040.2,477.9 1040.5,482.1 1040.8,480.8 1041.1,475.6 1041.5,489.1 1041.8,484.3 1042.1,485.5 1042.4,482.0 1042.8,483.1 1043.1,469.5 1043.4,469.0 1043.8,464.8 1044.1,479.1 1044.4,480.9 1044.7,477.5 1045.1,461.1 1045.4,456.7 1045.7,473.7 1046.0,468.0 1046.4,454.4 1046.7,476.0 1047.0,474.7 1047.4,462.4 1047.7,463.8 1048.0,477.7 1048.3,461.1 1048.7,461.1 1049.0,463.3 1049.3,479.0 1049.6,474.3 1050.0,461.3 1050.3,464.5 1050.6,462.8 1050.9,470.7 1051.3,458.4 1051.6,469.2 1051.9,462.5 1052.3,465.5 1052.6,476.3 1052.9,459.5 1053.2,477.0 1053.6,477.1 1053.9,470.1 1054.2,480.5 1054.5,486.1 1054.9,474.1 1055.2,473.4 1055.5,472.0 1055.9,465.3 1056.2,449.7 1056.5,466.9 1056.8,448.4 1057.2,461.1 1057.5,466.9 1057.8,488.9 1058.1,485.0 1058.5,469.8 1058.8,463.5 1059.1,472.9 1059.5,466.2 1059.8,459.7 1060.1,469.6 1060.4,480.3 1060.8,477.8 1061.1,471.7 1061.4,465.5 1061.7,459.9 1062.1,471.9 1062.4,467.2 1062.7,468.2 1063.0,466.1 1063.4,457.0 1063.7,453.1 1064.0,466.0 1064.4,470.2 1064.7,471.8 1065.0,470.8 1065.3,469.5 1065.7,467.2 1066.0,469.1 1066.3,474.0 1066.6,475.9 1067.0,466.6 1067.3,445.4 1067.6,454.9 1068.0,456.5 1068.3,459.3 1068.6,463.9 1068.9,447.9 1069.3,462.2 1069.6,470.9 1069.9,475.1 1070.2,464.9 1070.6,471.6 1070.9,472.3 1071.2,472.4 1071.5,475.9 1071.9,465.0 1072.2,476.8 1072.5,448.3 1072.9,481.1 1073.2,478.4 1073.5,466.1 1073.8,460.2 1074.2,464.7 1074.5,460.7 1074.8,460.6 1075.1,460.8 1075.5,457.2 1075.8,458.9 1076.1,462.0 1076.5,463.0 1076.8,455.1 1077.1,461.5 1077.4,457.0 1077.8,447.9 1078.1,455.0 1078.4,450.2 1078.7,461.9 1079.1,459.2 1079.4,456.6 1079.7,458.1 1080.0,456.4 1080.4,448.6 1080.7,460.2 1081.0,465.9 1081.4,459.4 1081.7,471.8 1082.0,463.5 1082.3,451.8 1082.7,458.4 1083.0,455.6 1083.3,456.1 1083.6,449.7 1084.0,453.6 1084.3,456.9 1084.6,485.6 1085.0,470.5 1085.3,457.0 1085.6,460.3 1085.9,465.9 1086.3,454.2 1086.6,465.4 1086.9,463.9 1087.2,455.4 1087.6,462.7 1087.9,459.1 1088.2,459.7 1088.6,469.3 1088.9,466.4 1089.2,464.4 1089.5,466.2 1089.9,452.9 1090.2,458.4 1090.5,464.7 1090.8,472.2 1091.2,465.6 1091.5,451.1 1091.8,460.3 1092.1,454.2 1092.5,455.1 1092.8,463.0 1093.1,468.4 1093.5,457.9 1093.8,472.9 1094.1,458.8 1094.4,469.2 1094.8,455.6 1095.1,462.1 1095.4,461.3 1095.7,452.0 1096.1,465.9 1096.4,461.1 1096.7,462.8 1097.1,456.7 1097.4,453.5 1097.7,456.1 1098.0,457.3 1098.4,462.5 1098.7,455.8 1099.0,460.7 1099.3,459.1 1099.7,458.2 1100.0,470.2 1100.3,471.4 1100.6,461.0 1101.0,460.3 1101.3,450.0 1101.6,476.6 1102.0,462.3 1102.3,451.8 1102.6,457.1 1102.9,452.9 1103.3,457.9 1103.6,459.7 1103.9,452.6 1104.2,468.2 1104.6,479.5 1104.9,460.9 1105.2,459.1 1105.6,458.7 1105.9,457.2 1106.2,454.2 1106.5,462.0 1106.9,456.6 1107.2,456.5 1107.5,467.9 1107.8,462.9 1108.2,458.4 1108.5,465.6 1108.8,453.0 1109.1,460.4 1109.5,453.6 1109.8,446.8 1110.1,468.3 1110.5,472.5 1110.8,458.5 1111.1,461.2 1111.4,456.3 1111.8,445.6 1112.1,460.4 1112.4,453.5 1112.7,460.7 1113.1,465.6 1113.4,458.0 1113.7,457.9 1114.1,451.4 1114.4,455.9 1114.7,452.6 1115.0,454.6 1115.4,472.7 1115.7,466.7 1116.0,464.9 1116.3,455.0 1116.7,467.8 1117.0,461.3 1117.3,464.5 1117.6,476.4 1118.0,466.3 1118.3,457.6 1118.6,463.4 1119.0,454.7 1119.3,456.8 1119.6,458.0 1119.9,464.8 1120.3,463.8 1120.6,458.7 1120.9,460.9 1121.2,471.4 1121.6,465.8 1121.9,459.9 1122.2,452.8 1122.6,453.3 1122.9,467.8 1123.2,458.3 1123.5,474.1 1123.9,470.6 1124.2,471.0 1124.5,452.8 1124.8,454.9 1125.2,458.5 1125.5,466.7 1125.8,454.1 1126.2,462.7 1126.5,459.3 1126.8,453.5 1127.1,463.1 1127.5,459.0 1127.8,477.9 1128.1,462.4 1128.4,476.6 1128.8,463.5 1129.1,461.3 1129.4,459.3 1129.7,444.3 1130.1,478.6 1130.4,463.9 1130.7,467.1 1131.1,458.9 1131.4,460.4 1131.7,462.6 1132.0,468.0 1132.4,471.1 1132.7,463.6 1133.0,476.5 1133.3,459.4 1133.7,468.3 1134.0,462.4 1134.3,474.1 1134.7,464.1 1135.0,467.1 1135.3,460.1 1135.6,454.8 1136.0,467.6 1136.3,465.7 1136.6,464.3 1136.9,454.5 1137.3,473.8 1137.6,463.8 1137.9,466.3 1138.2,476.3 1138.6,472.1 1138.9,473.8 1139.2,460.3 1139.6,473.2 1139.9,461.0 1140.2,469.7 1140.5,463.0 1140.9,480.3 1141.2,477.3 1141.5,469.3 1141.8,475.9 1142.2,482.7 1142.5,472.1 1142.8,463.5 1143.2,467.6 1143.5,470.4 1143.8,466.4 1144.1,472.0 1144.5,462.9 1144.8,459.3 1145.1,477.3 1145.4,463.5 1145.8,463.1 1146.1,466.2 1146.4,463.9 1146.7,457.5 1147.1,452.1 1147.4,453.3 1147.7,468.4 1148.1,459.7 1148.4,481.5 1148.7,466.7 1149.0,464.6 1149.4,462.0 1149.7,476.3 1150.0,461.5 1150.3,459.1 1150.7,467.1 1151.0,482.1 1151.3,472.1 1151.7,479.0 1152.0,486.4 1152.3,481.7 1152.6,456.3 1153.0,480.3 1153.3,477.4 1153.6,472.6 1153.9,465.5 1154.3,479.2 1154.6,482.6 1154.9,468.7 1155.3,470.2 1155.6,463.1 1155.9,480.3 1156.2,476.3 1156.6,467.3 1156.9,471.4 1157.2,482.4 1157.5,475.3 1157.9,489.5 1158.2,484.3 1158.5,470.9 1158.8,466.6 1159.2,469.5 1159.5,468.0 1159.8,485.0 1160.2,482.6 1160.5,468.7 1160.8,455.4 1161.1,466.6 1161.5,480.3 1161.8,484.1 1162.1,468.0 1162.4,465.0 1162.8,482.4 1163.1,476.2 1163.4,464.8 1163.8,461.9 1164.1,476.4 1164.4,477.3 1164.7,472.6 1165.1,483.7 1165.4,490.8 1165.7,485.1 1166.0,468.9 1166.4,465.8 1166.7,469.9 1167.0,484.0 1167.3,493.9 1167.7,489.2 1168.0,479.6 1168.3,469.5 1168.7,482.2 1169.0,477.9 1169.3,491.6 1169.6,497.7 1170.0,482.7 1170.3,488.3 1170.6,488.7 1170.9,498.6 1171.3,476.8 1171.6,492.1 1171.9,481.7 1172.3,491.2 1172.6,484.9 1172.9,469.8 1173.2,474.7 1173.6,476.9 1173.9,471.3 1174.2,472.8 1174.5,466.3 1174.9,487.2 1175.2,470.2 1175.5,476.1 1175.8,486.3 1176.2,475.9 1176.5,473.7 1176.8,477.5 1177.2,471.6 1177.5,487.2 1177.8,493.9 1178.1,487.1 1178.5,472.1 1178.8,472.7 1179.1,477.0 1179.4,483.1 1179.8,479.6 1180.1,469.5 1180.4,480.5 1180.8,483.5 1181.1,476.1 1181.4,472.6 1181.7,475.7 1182.1,466.2 1182.4,473.5 1182.7,484.6 1183.0,497.0 1183.4,473.4 1183.7,478.1 1184.0,475.3 1184.3,473.6 1184.7,466.0 1185.0,466.5 1185.3,467.0 1185.7,472.6 1186.0,478.0 1186.3,475.4 1186.6,483.3 1187.0,475.9 1187.3,468.5 1187.6,469.4 1187.9,474.1 1188.3,483.4 1188.6,485.8 1188.9,485.1 1189.3,482.4 1189.6,475.1 1189.9,472.9 1190.2,471.6 1190.6,467.9 1190.9,482.6 1191.2,480.3 1191.5,473.9 1191.9,470.2 1192.2,480.9 1192.5,483.7 1192.9,469.9 1193.2,470.1 1193.5,472.1 1193.8,478.3 1194.2,485.2 1194.5,479.8 1194.8,475.9 1195.1,473.5 1195.5,470.3 1195.8,475.5 1196.1,468.1 1196.4,479.0 1196.8,476.7 1197.1,478.6 1197.4,494.1 1197.8,494.6 1198.1,489.0 1198.4,482.8 1198.7,480.4 1199.1,472.9 1199.4,481.8 1199.7,487.1 1200.0,483.9 1200.4,495.8 1200.7,491.2 1201.0,497.0 1201.4,490.5 1201.7,495.2 1202.0,494.5 1202.3,476.2 1202.7,478.0 1203.0,467.6 1203.3,483.0 1203.6,489.5 1204.0,495.7 1204.3,491.0 1204.6,502.9 1204.9,491.0 1205.3,492.7 1205.6,498.7 1205.9,503.4 1206.3,497.1 1206.6,491.1 1206.9,486.3 1207.2,497.3 1207.6,487.2 1207.9,481.6 1208.2,465.0 1208.5,475.1 1208.9,473.1 1209.2,485.3 1209.5,482.6 1209.9,487.6 1210.2,489.6 1210.5,479.6 1210.8,482.8 1211.2,470.3 1211.5,478.9 1211.8,477.5 1212.1,490.0 1212.5,491.5 1212.8,478.8 1213.1,486.3 1213.4,472.8 1213.8,486.0 1214.1,489.8 1214.4,468.7 1214.8,492.0 1215.1,488.5 1215.4,479.6 1215.7,476.7 1216.1,489.5 1216.4,466.8 1216.7,481.6 1217.0,496.8 1217.4,478.2 1217.7,484.5 1218.0,481.7 1218.4,475.4 1218.7,487.0 1219.0,488.3 1219.3,483.8 1219.7,475.2 1220.0,489.9 1220.3,471.8 1220.6,475.8 1221.0,488.4 1221.3,482.4 1221.6,476.6 1222.0,469.9 1222.3,471.1 1222.6,469.3 1222.9,478.7 1223.3,474.2 1223.6,499.7 1223.9,477.1 1224.2,479.7 1224.6,467.4 1224.9,481.5 1225.2,484.1 1225.5,480.5 1225.9,473.5 1226.2,475.5 1226.5,470.4 1226.9,476.8 1227.2,470.5 1227.5,455.0 1227.8,463.4 1228.2,470.3 1228.5,488.4 1228.8,476.4 1229.1,469.7 1229.5,478.0 1229.8,470.3 1230.1,493.9 1230.5,487.8 1230.8,488.2 1231.1,476.7 1231.4,484.4 1231.8,487.4 1232.1,468.9 1232.4,487.3 1232.7,476.4 1233.1,469.0 1233.4,477.9 1233.7,485.1 1234.0,481.2 1234.4,483.2 1234.7,485.4 1235.0,477.8 1235.4,478.0 1235.7,453.0 1236.0,461.1 1236.3,471.8 1236.7,471.5 1237.0,462.5 1237.3,464.3 1237.6,473.6 1238.0,482.5 1238.3,464.5 1238.6,474.1 1239.0,474.5 1239.3,465.7 1239.6,472.8 1239.9,465.8 1240.3,476.6 1240.6,475.5 1240.9,478.3 1241.2,460.9 1241.6,484.6 1241.9,480.6 1242.2,485.1 1242.5,485.0 1242.9,489.4 1243.2,486.9 1243.5,470.2 1243.9,464.2 1244.2,479.3 1244.5,487.6 1244.8,483.9 1245.2,466.2 1245.5,475.3 1245.8,493.9 1246.1,475.0 1246.5,477.9 1246.8,472.8 1247.1,473.2 1247.5,486.8 1247.8,471.8 1248.1,470.9 1248.4,481.3 1248.8,496.6 1249.1,491.6 1249.4,490.2 1249.7,475.4 1250.1,481.8 1250.4,482.2 1250.7,478.6 1251.0,481.5 1251.4,475.6 1251.7,474.7 1252.0,469.5 1252.4,485.4 1252.7,476.9 1253.0,479.7 1253.3,461.5 1253.7,462.0 1254.0,477.0 1254.3,469.9 1254.6,489.6 1255.0,489.0 1255.3,482.6 1255.6,476.8 1256.0,486.2 1256.3,479.5 1256.6,468.2 1256.9,488.0 1257.3,490.9 1257.6,496.1 1257.9,473.2 1258.2,485.1 1258.6,482.5 1258.9,485.8 1259.2,480.3 1259.6,480.8 1259.9,476.8 1260.2,475.8 1260.5,464.3 1260.9,481.4 1261.2,476.8 1261.5,477.7 1261.8,484.4 1262.2,472.2 1262.5,461.4 1262.8,481.8 1263.1,458.8 1263.5,473.5 1263.8,476.6 1264.1,497.3 1264.5,481.3 1264.8,478.8 1265.1,479.1 1265.4,471.9 1265.8,476.6 1266.1,473.5 1266.4,480.8 1266.7,486.3 1267.1,477.8 1267.4,471.9 1267.7,469.5 1268.1,473.4 1268.4,481.1 1268.7,476.7 1269.0,478.0 1269.4,486.1 1269.7,475.6 1270.0,476.9 1270.3,484.5 1270.7,480.0 1271.0,471.7 1271.3,462.4 1271.6,486.3 1272.0,480.7 1272.3,472.0 1272.6,465.0 1273.0,469.3 1273.3,481.5 1273.6,480.3 1273.9,476.3 1274.3,481.2 1274.6,484.6 1274.9,487.1 1275.2,457.3 1275.6,469.8 1275.9,475.0 1276.2,468.8 1276.6,472.3 1276.9,474.7 1277.2,472.2 1277.5,479.4 1277.9,478.3 1278.2,467.5 1278.5,467.1 1278.8,480.4 1279.2,463.2 1279.5,473.8 1279.8,485.8 1280.1,470.4 1280.5,466.9 1280.8,468.6 1281.1,479.1 1281.5,464.4 1281.8,466.0 1282.1,467.5 1282.4,468.8 1282.8,467.9 1283.1,452.9 1283.4,470.5 1283.7,468.5 1284.1,461.3 1284.4,462.0 1284.7,474.4 1285.1,472.2 1285.4,473.6 1285.7,482.3 1286.0,474.4 1286.4,463.2 1286.7,465.7 1287.0,459.6 1287.3,463.3 1287.7,473.2 1288.0,465.8 1288.3,481.8 1288.7,462.1 1289.0,470.0 1289.3,455.8 1289.6,476.1 1290.0,477.9 1290.3,474.1 1290.6,471.7 1290.9,481.5 1291.3,481.4 1291.6,467.4 1291.9,474.1 1292.2,462.3 1292.6,453.2 1292.9,475.5 1293.2,472.3 1293.6,454.6 1293.9,455.2 1294.2,474.5 1294.5,465.6 1294.9,453.0 1295.2,480.0 1295.5,466.7 1295.8,457.5 1296.2,467.6 1296.5,471.2 1296.8,460.9 1297.2,476.9 1297.5,463.7 1297.8,454.9 1298.1,461.6 1298.5,476.4 1298.8,455.0 1299.1,462.3 1299.4,459.3 1299.8,470.0 1300.1,466.2 1300.4,455.8 1300.7,473.8 1301.1,476.7 1301.4,483.3 1301.7,464.7 1302.1,459.9 1302.4,469.0 1302.7,461.6 1303.0,462.1 1303.4,446.8 1303.7,467.8 1304.0,461.4 1304.3,465.1 1304.7,447.8 1305.0,454.3 1305.3,468.9 1305.7,459.4 1306.0,461.6 1306.3,468.3 1306.6,459.1 1307.0,458.8 1307.3,469.0 1307.6,465.7 1307.9,451.9 1308.3,449.5 1308.6,457.8 1308.9,461.4 1309.2,457.2 1309.6,459.1 1309.9,468.1 1310.2,455.6 1310.6,463.7 1310.9,447.6 1311.2,450.3 1311.5,449.8 1311.9,457.7 1312.2,455.7 1312.5,461.0 1312.8,460.7 1313.2,465.5 1313.5,447.0 1313.8,462.5 1314.2,443.8 1314.5,446.5 1314.8,460.1 1315.1,445.7 1315.5,449.0 1315.8,459.3 1316.1,453.4 1316.4,456.4 1316.8,460.4 1317.1,455.7 1317.4,451.7 1317.7,455.3 1318.1,453.7 1318.4,446.6 1318.7,451.9 1319.1,455.1 1319.4,463.0 1319.7,455.1 1320.0,456.2 1320.4,454.3 1320.7,445.6 1321.0,442.7 1321.3,448.4 1321.7,454.5 1322.0,450.2"/>
<line x1="890" y1="658.0" x2="896" y2="658.0" stroke="#000" stroke-width="2"/>
<text x="886" y="662.5" font-size="14.5" font-weight="bold" text-anchor="end" font-family='"Liberation Sans", sans-serif'>0.0</text>
<line x1="890" y1="612.9" x2="896" y2="612.9" stroke="#000" stroke-width="2"/>
<text x="886" y="617.4" font-size="14.5" font-weight="bold" text-anchor="end" font-family='"Liberation Sans", sans-serif'>0.5</text>
<line x1="890" y1="567.7" x2="896" y2="567.7" stroke="#000" stroke-width="2"/>
<text x="886" y="572.2" font-size="14.5" font-weight="bold" text-anchor="end" font-family='"Liberation Sans", sans-serif'>1.0</text>
<line x1="890" y1="522.6" x2="896" y2="522.6" stroke="#000" stroke-width="2"/>
<text x="886" y="527.1" font-size="14.5" font-weight="bold" text-anchor="end" font-family='"Liberation Sans", sans-serif'>1.5</text>
<line x1="890" y1="477.5" x2="896" y2="477.5" stroke="#000" stroke-width="2"/>
<text x="886" y="482.0" font-size="14.5" font-weight="bold" text-anchor="end" font-family='"Liberation Sans", sans-serif'>2.0</text>
<line x1="890" y1="432.3" x2="896" y2="432.3" stroke="#000" stroke-width="2"/>
<text x="886" y="436.8" font-size="14.5" font-weight="bold" text-anchor="end" font-family='"Liberation Sans", sans-serif'>2.5</text>
<line x1="890" y1="387.2" x2="896" y2="387.2" stroke="#000" stroke-width="2"/>
<text x="886" y="391.7" font-size="14.5" font-weight="bold" text-anchor="end" font-family='"Liberation Sans", sans-serif'>3.0</text>
<line x1="896.0" y1="658" x2="896.0" y2="664" stroke="#000" stroke-width="2"/>
<text x="896.0" y="679" font-size="14.5" font-weight="bold" text-anchor="middle" font-family='"Liberation Sans", sans-serif'>0</text>
<line x1="981.2" y1="658" x2="981.2" y2="664" stroke="#000" stroke-width="2"/>
<text x="977.2" y="679" font-size="14.5" font-weight="bold" text-anchor="middle" font-family='"Liberation Sans", sans-serif'>20</text>
<line x1="1066.4" y1="658" x2="1066.4" y2="664" stroke="#000" stroke-width="2"/>
<text x="1062.4" y="679" font-size="14.5" font-weight="bold" text-anchor="middle" font-family='"Liberation Sans", sans-serif'>40</text>
<line x1="1151.6" y1="658" x2="1151.6" y2="664" stroke="#000" stroke-width="2"/>
<text x="1147.6" y="679" font-size="14.5" font-weight="bold" text-anchor="middle" font-family='"Liberation Sans", sans-serif'>60</text>
<line x1="1236.8" y1="658" x2="1236.8" y2="664" stroke="#000" stroke-width="2"/>
<text x="1232.8" y="679" font-size="14.5" font-weight="bold" text-anchor="middle" font-family='"Liberation Sans", sans-serif'>80</text>
<line x1="1322.0" y1="658" x2="1322.0" y2="664" stroke="#000" stroke-width="2"/>
<text x="1318.0" y="679" font-size="14.5" font-weight="bold" text-anchor="middle" font-family='"Liberation Sans", sans-serif'>100</text>
<text x="0" y="0" transform="translate(848,506.4) rotate(-90)" font-size="15.4" font-weight="bold" text-anchor="middle" font-family='"Liberation Sans", sans-serif'>Protein RMSD (Å)</text>
<text x="1109" y="704.8" font-size="15.2" font-weight="bold" text-anchor="middle" font-family='"Liberation Sans", sans-serif'>Time (nsec)</text>
<text x="905" y="642" font-size="35" font-weight="bold" stroke="#000" stroke-width="0.5" font-family='"Liberation Sans", sans-serif'>(F)</text>
<line x1="1186" y1="597.6" x2="1215.5" y2="597.6" stroke="#c0c0c0" stroke-width="2"/>
<text x="1219" y="602.1" font-size="12" font-weight="bold" font-family='"Liberation Sans", sans-serif'>Apo-GLUT1exo</text>
<line x1="1186" y1="613.2" x2="1215.5" y2="613.2" stroke="#0a0aee" stroke-width="2"/>
<text x="1219" y="617.7" font-size="12" font-weight="bold" font-family='"Liberation Sans", sans-serif'>GAA- GLUT1exo</text>
<line x1="1186" y1="628.8" x2="1215.5" y2="628.8" stroke="#10eaf8" stroke-width="2"/>
<text x="1219" y="633.3" font-size="12" font-weight="bold" font-family='"Liberation Sans", sans-serif'>Phlo-GLUT1exo</text>
<circle cx="970.2" cy="682.9" r="5.6" fill="none" stroke="#d8d8d8" stroke-width="1"/>
<g fill="none" stroke-linecap="round" stroke-linejoin="round"><path d="M385.0,142.6 L400.0,150.0 L415.6,155.0 L430.0,140.0 L448.0,137.6 L442.0,160.0" stroke="#9a9a9a" stroke-width="1.4"/><path d="M350.0,205.0 L365.0,190.0 L383.0,180.0" stroke="#9a9a9a" stroke-width="1.4"/><path d="M360.0,300.0 L380.0,305.0 L400.0,298.0 L420.0,300.0 L445.0,290.0" stroke="#9a9a9a" stroke-width="1.4"/><path d="M455.0,160.0 L445.0,140.0 L462.0,137.0" stroke="#9a9a9a" stroke-width="1.4"/><path d="M380.0,260.0 L378.0,300.0 L360.0,305.0" stroke="#9a9a9a" stroke-width="1.4"/><path d="M448.0,275.0 L460.0,285.0 L472.0,280.0" stroke="#9a9a9a" stroke-width="1.4"/><path d="M345.0,230.0 L350.0,250.0" stroke="#9a9a9a" stroke-width="1.4"/><path d="M348.9,194.0 L349.2,196.7 M367.9,201.3 L366.7,199.9 L364.9,198.8 L362.6,198.2 L359.9,198.1 L357.0,198.6 L354.2,199.7 L351.7,201.4 L349.9,203.5 L348.8,205.9 L348.6,208.4 M368.6,212.2 L367.2,210.7 L364.9,209.4 L362.1,208.7 L359.1,208.5 L356.0,209.0 L353.3,210.1 L351.1,211.9 L349.5,214.1 L348.7,216.7 L348.7,219.4 M367.1,225.1 L366.2,223.8 L364.2,222.7 L361.4,222.0 L358.0,221.8 L354.5,222.2 L351.1,223.3 L348.4,224.9 L346.4,227.1 L345.5,229.6 L345.7,232.3 M364.1,237.0 L363.4,235.5 L361.9,234.2 L359.7,233.3 L356.9,233.0 L353.9,233.2 L350.8,234.1 L348.0,235.6 L345.7,237.6 L344.3,239.9 L344.0,242.5 M364.1,248.3 L363.0,246.9 L361.1,245.7 L358.7,244.9 L355.9,244.7 L353.0,245.1 L350.3,246.2 L347.9,247.8 L346.1,250.0 L344.9,252.5 L344.4,255.3 M363.8,261.9 L362.9,260.5 L361.1,259.2 L358.3,258.2 L355.1,257.7 L351.6,257.8 L348.4,258.6 L345.7,260.0 L343.7,261.9 L342.6,264.3 L342.5,266.9" stroke="#8a8a8a" stroke-width="2.8"/><path d="M374.4,173.8 L374.4,176.5 M392.1,180.6 L390.7,179.4 L388.6,178.4 L385.9,177.9 L383.0,178.0 L380.2,178.7 L377.8,180.1 L375.9,182.0 L374.6,184.3 L374.1,186.9 L374.3,189.6 M390.8,192.5 L390.0,191.1 L388.2,189.9 L385.7,189.2 L382.7,189.1 L379.5,189.5 L376.6,190.7 L374.1,192.4 L372.4,194.5 L371.7,197.0 L372.0,199.6 M388.8,203.8 L388.0,202.5 L386.6,201.5 L384.5,201.0 L382.1,201.0 L379.4,201.6 L376.8,202.9 L374.3,204.7 L372.5,207.0 L371.3,209.6 L371.1,212.4 M389.4,217.4 L388.3,216.0 L386.5,214.8 L384.1,214.1 L381.5,213.8 L378.9,214.2 L376.5,215.3 L374.5,216.9 L372.9,219.0 L372.0,221.4 L371.9,224.0 M389.3,228.1 L388.5,226.7 L386.8,225.5 L384.4,224.6 L381.4,224.4 L378.3,224.7 L375.3,225.8 L372.8,227.4 L371.0,229.6 L370.1,232.1 L370.1,234.8 M386.7,241.2 L386.3,239.9 L385.1,238.7 L383.1,238.0 L380.7,237.8 L377.8,238.1 L374.9,239.1 L372.2,240.7 L370.0,242.7 L368.6,245.2 L368.1,247.8" stroke="#8a8a8a" stroke-width="2.7"/><path d="M395.7,160.2 L396.4,162.7 M412.8,163.9 L411.8,162.6 L410.1,161.7 L407.9,161.3 L405.2,161.6 L402.4,162.4 L399.7,163.9 L397.4,166.0 L395.8,168.4 L395.1,171.1 L395.4,173.8 M413.4,177.2 L412.1,176.0 L410.2,175.1 L408.0,174.8 L405.5,175.0 L403.0,175.8 L400.8,177.3 L398.9,179.2 L397.5,181.6 L396.8,184.2 L396.9,186.8 M414.8,189.0 L413.6,187.6 L411.6,186.6 L408.9,186.0 L405.9,185.9 L403.0,186.6 L400.3,187.8 L398.3,189.7 L397.0,191.9 L396.5,194.4 L396.8,197.0 M413.5,200.6 L412.8,199.3 L411.3,198.4 L409.0,197.9 L406.2,198.0 L403.2,198.8 L400.3,200.1 L397.8,202.1 L395.9,204.5 L395.0,207.1 L395.1,209.9 M413.0,214.1 L412.1,212.7 L410.6,211.6 L408.6,210.9 L406.3,210.8 L403.8,211.3 L401.4,212.4 L399.2,214.1 L397.4,216.3 L396.3,218.7 L396.0,221.3 M414.8,224.7 L413.8,223.3 L412.0,222.2 L409.5,221.5 L406.8,221.4 L404.0,221.9 L401.5,223.0 L399.4,224.8 L397.9,227.0 L397.1,229.6 L397.1,232.3 M414.4,238.0 L413.9,236.7 L412.4,235.6 L410.2,234.9 L407.3,234.8 L404.2,235.3 L401.2,236.4 L398.5,238.1 L396.6,240.3 L395.5,242.7 L395.5,245.4 M412.9,249.9 L412.4,248.4 L411.3,247.1 L409.5,246.2 L407.2,245.8 L404.6,246.1 L401.9,247.0 L399.4,248.6 L397.3,250.6 L395.8,253.0 L395.3,255.6 M414.2,261.4 L413.5,260.0 L412.0,258.9 L409.9,258.1 L407.5,257.9 L404.9,258.3 L402.5,259.3 L400.3,261.0 L398.6,263.1 L397.4,265.6 L397.0,268.4" stroke="#8a8a8a" stroke-width="2.7"/><path d="M416.8,170.1 L417.3,172.8 M433.6,175.6 L432.6,174.3 L430.6,173.3 L428.0,172.9 L425.0,173.0 L421.9,173.8 L419.0,175.1 L416.8,177.0 L415.3,179.3 L414.8,181.9 L415.4,184.4 M432.2,186.1 L431.2,184.8 L429.5,183.8 L427.4,183.4 L424.9,183.6 L422.2,184.4 L419.7,185.8 L417.5,187.8 L415.9,190.3 L415.1,192.9 L415.2,195.6 M433.3,199.3 L431.9,198.1 L429.9,197.2 L427.3,196.8 L424.7,197.0 L422.1,197.8 L419.8,199.3 L418.0,201.3 L416.8,203.7 L416.2,206.3 L416.4,208.9 M433.5,211.1 L432.4,209.7 L430.4,208.6 L427.7,208.0 L424.6,208.0 L421.5,208.7 L418.7,210.0 L416.5,211.8 L415.1,214.1 L414.7,216.7 L415.1,219.3 M431.6,222.4 L430.8,221.2 L429.2,220.3 L427.0,219.9 L424.4,220.1 L421.5,220.9 L418.7,222.4 L416.3,224.4 L414.6,226.8 L413.7,229.5 L413.8,232.2 M431.8,235.8 L430.6,234.5 L428.8,233.5 L426.6,232.9 L424.1,232.9 L421.6,233.5 L419.3,234.8 L417.4,236.6 L415.9,238.8 L415.1,241.3 L415.1,243.9 M433.0,246.4 L431.8,245.1 L429.8,244.0 L427.1,243.4 L424.1,243.5 L421.1,244.1 L418.5,245.5 L416.4,247.4 L415.1,249.7 L414.6,252.4 L414.9,255.1" stroke="#8a8a8a" stroke-width="2.7"/><path d="M437.0,160.7 L437.4,163.2 M454.8,163.3 L453.4,162.1 L451.1,161.3 L448.3,161.1 L445.3,161.6 L442.3,162.7 L439.8,164.3 L438.0,166.5 L437.0,169.1 L436.9,171.8 L437.7,174.4 M454.2,176.6 L453.2,175.4 L451.5,174.7 L449.1,174.5 L446.3,175.0 L443.4,176.0 L440.7,177.7 L438.5,179.9 L437.0,182.4 L436.5,185.0 L437.1,187.6 M454.8,188.3 L453.6,187.0 L451.8,186.1 L449.6,185.7 L447.2,185.9 L444.7,186.8 L442.5,188.2 L440.6,190.3 L439.3,192.7 L438.7,195.2 L438.9,197.8 M457.3,199.7 L455.9,198.5 L453.7,197.8 L451.1,197.6 L448.2,198.0 L445.5,199.0 L443.1,200.6 L441.3,202.8 L440.2,205.3 L440.0,208.0 L440.4,210.7 M457.4,213.1 L456.5,211.8 L454.7,210.9 L452.2,210.5 L449.3,210.7 L446.2,211.5 L443.4,213.0 L441.1,214.9 L439.6,217.2 L439.0,219.8 L439.5,222.3 M456.9,223.7 L456.0,222.4 L454.4,221.5 L452.4,221.0 L450.0,221.2 L447.4,222.1 L445.0,223.6 L442.8,225.6 L441.2,228.0 L440.3,230.7 L440.4,233.5 M459.3,236.8 L458.0,235.6 L456.1,234.8 L453.7,234.4 L451.1,234.6 L448.5,235.5 L446.2,236.9 L444.4,238.9 L443.2,241.2 L442.6,243.8 L442.7,246.5 M460.5,248.6 L459.6,247.2 L457.8,246.1 L455.2,245.5 L452.2,245.6 L449.1,246.3 L446.3,247.6 L444.0,249.4 L442.5,251.7 L441.9,254.2 L442.3,256.8 M459.5,260.1 L458.9,258.9 L457.5,257.9 L455.5,257.5 L453.0,257.7 L450.2,258.5 L447.5,259.9 L445.1,261.9 L443.2,264.4 L442.2,267.1 L442.1,269.8" stroke="#8a8a8a" stroke-width="2.8"/><path d="M456.9,149.9 L457.3,152.6 M473.5,154.6 L472.1,153.5 L470.1,152.8 L467.7,152.6 L465.3,153.1 L463.0,154.1 L461.0,155.8 L459.6,157.9 L458.8,160.4 L458.6,163.0 L459.1,165.6 M474.1,166.2 L473.0,164.9 L471.2,164.0 L468.8,163.7 L466.0,164.0 L463.3,164.9 L460.9,166.4 L459.1,168.4 L458.0,170.8 L457.8,173.4 L458.4,176.0 M473.4,177.9 L472.5,176.7 L471.0,175.9 L469.1,175.7 L466.8,176.1 L464.4,177.2 L462.1,178.8 L460.2,181.0 L458.9,183.6 L458.3,186.3 L458.6,189.0 M474.9,191.1 L473.7,189.9 L471.9,189.0 L469.8,188.6 L467.6,188.8 L465.4,189.6 L463.5,191.0 L461.9,193.0 L460.9,195.3 L460.5,197.8 L460.7,200.4 M476.5,201.6 L475.4,200.3 L473.5,199.5 L471.1,199.1 L468.4,199.4 L465.8,200.3 L463.5,201.8 L461.7,203.9 L460.7,206.3 L460.4,209.0 L460.9,211.7 M475.9,215.0 L475.1,213.7 L473.7,212.9 L471.7,212.6 L469.3,212.8 L466.7,213.7 L464.2,215.2 L462.1,217.2 L460.6,219.6 L460.0,222.3 L460.3,224.9 M476.4,226.6 L475.4,225.2 L473.9,224.2 L472.0,223.7 L469.9,223.7 L467.7,224.4 L465.6,225.7 L463.9,227.6 L462.6,229.9 L461.9,232.5 L461.9,235.1 M478.5,238.1 L477.4,236.9 L475.6,236.0 L473.3,235.6" stroke="#8a8a8a" stroke-width="2.7"/><path d="M345.4,288.6 L347.6,289.3 M358.0,276.6 L356.6,277.1 L355.1,278.5 L353.5,280.6 L352.2,283.3 L351.3,286.4 L351.0,289.5 L351.4,292.3 L352.4,294.6 L354.1,296.1 L356.2,296.8 M366.3,282.6 L364.7,283.1 L363.1,284.3 L361.6,286.0 L360.4,288.2 L359.8,290.7 L359.6,293.2 L360.1,295.6 L361.1,297.7 L362.7,299.2 L364.6,300.1 M374.7,285.6 L373.1,286.3 L371.3,287.8 L369.6,290.1 L368.2,292.9 L367.3,295.9 L367.1,298.9 L367.5,301.5 L368.7,303.6 L370.5,305.0 L372.7,305.7" stroke="#8a8a8a" stroke-width="2.6"/><path d="M387.5,301.3 L389.3,301.4 M392.9,291.0 L392.0,291.6 L391.1,292.7 L390.5,294.3 L390.3,296.2 L390.5,298.3 L391.0,300.3 L392.0,302.0 L393.3,303.4 L394.9,304.1 L396.6,304.2 M400.0,292.2 L399.0,292.9 L398.1,294.0 L397.4,295.5 L397.1,297.2 L397.2,299.0 L397.7,300.7 L398.7,302.2 L400.0,303.3 L401.6,304.0 L403.3,304.1 M407.3,293.9 L406.4,294.2 L405.5,295.2 L404.9,296.5 L404.7,298.3 L404.8,300.3 L405.3,302.3 L406.2,304.2 L407.6,305.6 L409.2,306.6 L411.0,307.0 M416.5,294.9 L415.5,295.4 L414.7,296.5 L414.0,298.0 L413.7,299.8 L413.8,301.6 L414.3,303.5 L415.2,305.1 L416.5,306.3 L418.1,307.1 L419.9,307.5" stroke="#8a8a8a" stroke-width="2.4"/><path d="M425.7,266.7 L427.3,267.3 M435.0,259.3 L434.0,259.4 L432.9,260.0 L431.8,261.0 L431.0,262.4 L430.5,264.0 L430.5,265.8 L430.8,267.7 L431.6,269.4 L432.7,270.8 L434.2,271.8 M443.5,263.7 L442.4,263.7 L441.2,264.4 L439.9,265.5 L438.8,267.2 L437.9,269.1 L437.5,271.2 L437.5,273.2 L438.1,275.1 L439.1,276.5 L440.6,277.5 M449.6,269.4 L448.5,269.2 L447.3,269.5 L446.1,270.3 L445.1,271.5 L444.4,272.9 L444.0,274.6 L444.0,276.4 L444.5,278.0 L445.4,279.5 L446.6,280.6 M455.9,272.8 L454.9,272.4 L453.7,272.7 L452.4,273.5 L451.2,274.8 L450.1,276.6 L449.4,278.6 L449.2,280.7" stroke="#8a8a8a" stroke-width="2.4"/><path d="M348.9,194.0 L349.2,196.7 M367.9,201.3 L366.7,199.9 L364.9,198.8 L362.6,198.2 L359.9,198.1 L357.0,198.6 L354.2,199.7 L351.7,201.4 L349.9,203.5 L348.8,205.9 L348.6,208.4 M368.6,212.2 L367.2,210.7 L364.9,209.4 L362.1,208.7 L359.1,208.5 L356.0,209.0 L353.3,210.1 L351.1,211.9 L349.5,214.1 L348.7,216.7 L348.7,219.4 M367.1,225.1 L366.2,223.8 L364.2,222.7 L361.4,222.0 L358.0,221.8 L354.5,222.2 L351.1,223.3 L348.4,224.9 L346.4,227.1 L345.5,229.6 L345.7,232.3 M364.1,237.0 L363.4,235.5 L361.9,234.2 L359.7,233.3 L356.9,233.0 L353.9,233.2 L350.8,234.1 L348.0,235.6 L345.7,237.6 L344.3,239.9 L344.0,242.5 M364.1,248.3 L363.0,246.9 L361.1,245.7 L358.7,244.9 L355.9,244.7 L353.0,245.1 L350.3,246.2 L347.9,247.8 L346.1,250.0 L344.9,252.5 L344.4,255.3 M363.8,261.9 L362.9,260.5 L361.1,259.2 L358.3,258.2 L355.1,257.7 L351.6,257.8 L348.4,258.6 L345.7,260.0 L343.7,261.9 L342.6,264.3 L342.5,266.9" stroke="#c4c4c4" stroke-width="1.9"/><path d="M374.4,173.8 L374.4,176.5 M392.1,180.6 L390.7,179.4 L388.6,178.4 L385.9,177.9 L383.0,178.0 L380.2,178.7 L377.8,180.1 L375.9,182.0 L374.6,184.3 L374.1,186.9 L374.3,189.6 M390.8,192.5 L390.0,191.1 L388.2,189.9 L385.7,189.2 L382.7,189.1 L379.5,189.5 L376.6,190.7 L374.1,192.4 L372.4,194.5 L371.7,197.0 L372.0,199.6 M388.8,203.8 L388.0,202.5 L386.6,201.5 L384.5,201.0 L382.1,201.0 L379.4,201.6 L376.8,202.9 L374.3,204.7 L372.5,207.0 L371.3,209.6 L371.1,212.4 M389.4,217.4 L388.3,216.0 L386.5,214.8 L384.1,214.1 L381.5,213.8 L378.9,214.2 L376.5,215.3 L374.5,216.9 L372.9,219.0 L372.0,221.4 L371.9,224.0 M389.3,228.1 L388.5,226.7 L386.8,225.5 L384.4,224.6 L381.4,224.4 L378.3,224.7 L375.3,225.8 L372.8,227.4 L371.0,229.6 L370.1,232.1 L370.1,234.8 M386.7,241.2 L386.3,239.9 L385.1,238.7 L383.1,238.0 L380.7,237.8 L377.8,238.1 L374.9,239.1 L372.2,240.7 L370.0,242.7 L368.6,245.2 L368.1,247.8" stroke="#c4c4c4" stroke-width="1.8"/><path d="M395.7,160.2 L396.4,162.7 M412.8,163.9 L411.8,162.6 L410.1,161.7 L407.9,161.3 L405.2,161.6 L402.4,162.4 L399.7,163.9 L397.4,166.0 L395.8,168.4 L395.1,171.1 L395.4,173.8 M413.4,177.2 L412.1,176.0 L410.2,175.1 L408.0,174.8 L405.5,175.0 L403.0,175.8 L400.8,177.3 L398.9,179.2 L397.5,181.6 L396.8,184.2 L396.9,186.8 M414.8,189.0 L413.6,187.6 L411.6,186.6 L408.9,186.0 L405.9,185.9 L403.0,186.6 L400.3,187.8 L398.3,189.7 L397.0,191.9 L396.5,194.4 L396.8,197.0 M413.5,200.6 L412.8,199.3 L411.3,198.4 L409.0,197.9 L406.2,198.0 L403.2,198.8 L400.3,200.1 L397.8,202.1 L395.9,204.5 L395.0,207.1 L395.1,209.9 M413.0,214.1 L412.1,212.7 L410.6,211.6 L408.6,210.9 L406.3,210.8 L403.8,211.3 L401.4,212.4 L399.2,214.1 L397.4,216.3 L396.3,218.7 L396.0,221.3 M414.8,224.7 L413.8,223.3 L412.0,222.2 L409.5,221.5 L406.8,221.4 L404.0,221.9 L401.5,223.0 L399.4,224.8 L397.9,227.0 L397.1,229.6 L397.1,232.3 M414.4,238.0 L413.9,236.7 L412.4,235.6 L410.2,234.9 L407.3,234.8 L404.2,235.3 L401.2,236.4 L398.5,238.1 L396.6,240.3 L395.5,242.7 L395.5,245.4 M412.9,249.9 L412.4,248.4 L411.3,247.1 L409.5,246.2 L407.2,245.8 L404.6,246.1 L401.9,247.0 L399.4,248.6 L397.3,250.6 L395.8,253.0 L395.3,255.6 M414.2,261.4 L413.5,260.0 L412.0,258.9 L409.9,258.1 L407.5,257.9 L404.9,258.3 L402.5,259.3 L400.3,261.0 L398.6,263.1 L397.4,265.6 L397.0,268.4" stroke="#c4c4c4" stroke-width="1.8"/><path d="M416.8,170.1 L417.3,172.8 M433.6,175.6 L432.6,174.3 L430.6,173.3 L428.0,172.9 L425.0,173.0 L421.9,173.8 L419.0,175.1 L416.8,177.0 L415.3,179.3 L414.8,181.9 L415.4,184.4 M432.2,186.1 L431.2,184.8 L429.5,183.8 L427.4,183.4 L424.9,183.6 L422.2,184.4 L419.7,185.8 L417.5,187.8 L415.9,190.3 L415.1,192.9 L415.2,195.6 M433.3,199.3 L431.9,198.1 L429.9,197.2 L427.3,196.8 L424.7,197.0 L422.1,197.8 L419.8,199.3 L418.0,201.3 L416.8,203.7 L416.2,206.3 L416.4,208.9 M433.5,211.1 L432.4,209.7 L430.4,208.6 L427.7,208.0 L424.6,208.0 L421.5,208.7 L418.7,210.0 L416.5,211.8 L415.1,214.1 L414.7,216.7 L415.1,219.3 M431.6,222.4 L430.8,221.2 L429.2,220.3 L427.0,219.9 L424.4,220.1 L421.5,220.9 L418.7,222.4 L416.3,224.4 L414.6,226.8 L413.7,229.5 L413.8,232.2 M431.8,235.8 L430.6,234.5 L428.8,233.5 L426.6,232.9 L424.1,232.9 L421.6,233.5 L419.3,234.8 L417.4,236.6 L415.9,238.8 L415.1,241.3 L415.1,243.9 M433.0,246.4 L431.8,245.1 L429.8,244.0 L427.1,243.4 L424.1,243.5 L421.1,244.1 L418.5,245.5 L416.4,247.4 L415.1,249.7 L414.6,252.4 L414.9,255.1" stroke="#c4c4c4" stroke-width="1.8"/><path d="M437.0,160.7 L437.4,163.2 M454.8,163.3 L453.4,162.1 L451.1,161.3 L448.3,161.1 L445.3,161.6 L442.3,162.7 L439.8,164.3 L438.0,166.5 L437.0,169.1 L436.9,171.8 L437.7,174.4 M454.2,176.6 L453.2,175.4 L451.5,174.7 L449.1,174.5 L446.3,175.0 L443.4,176.0 L440.7,177.7 L438.5,179.9 L437.0,182.4 L436.5,185.0 L437.1,187.6 M454.8,188.3 L453.6,187.0 L451.8,186.1 L449.6,185.7 L447.2,185.9 L444.7,186.8 L442.5,188.2 L440.6,190.3 L439.3,192.7 L438.7,195.2 L438.9,197.8 M457.3,199.7 L455.9,198.5 L453.7,197.8 L451.1,197.6 L448.2,198.0 L445.5,199.0 L443.1,200.6 L441.3,202.8 L440.2,205.3 L440.0,208.0 L440.4,210.7 M457.4,213.1 L456.5,211.8 L454.7,210.9 L452.2,210.5 L449.3,210.7 L446.2,211.5 L443.4,213.0 L441.1,214.9 L439.6,217.2 L439.0,219.8 L439.5,222.3 M456.9,223.7 L456.0,222.4 L454.4,221.5 L452.4,221.0 L450.0,221.2 L447.4,222.1 L445.0,223.6 L442.8,225.6 L441.2,228.0 L440.3,230.7 L440.4,233.5 M459.3,236.8 L458.0,235.6 L456.1,234.8 L453.7,234.4 L451.1,234.6 L448.5,235.5 L446.2,236.9 L444.4,238.9 L443.2,241.2 L442.6,243.8 L442.7,246.5 M460.5,248.6 L459.6,247.2 L457.8,246.1 L455.2,245.5 L452.2,245.6 L449.1,246.3 L446.3,247.6 L444.0,249.4 L442.5,251.7 L441.9,254.2 L442.3,256.8 M459.5,260.1 L458.9,258.9 L457.5,257.9 L455.5,257.5 L453.0,257.7 L450.2,258.5 L447.5,259.9 L445.1,261.9 L443.2,264.4 L442.2,267.1 L442.1,269.8" stroke="#c4c4c4" stroke-width="1.9"/><path d="M456.9,149.9 L457.3,152.6 M473.5,154.6 L472.1,153.5 L470.1,152.8 L467.7,152.6 L465.3,153.1 L463.0,154.1 L461.0,155.8 L459.6,157.9 L458.8,160.4 L458.6,163.0 L459.1,165.6 M474.1,166.2 L473.0,164.9 L471.2,164.0 L468.8,163.7 L466.0,164.0 L463.3,164.9 L460.9,166.4 L459.1,168.4 L458.0,170.8 L457.8,173.4 L458.4,176.0 M473.4,177.9 L472.5,176.7 L471.0,175.9 L469.1,175.7 L466.8,176.1 L464.4,177.2 L462.1,178.8 L460.2,181.0 L458.9,183.6 L458.3,186.3 L458.6,189.0 M474.9,191.1 L473.7,189.9 L471.9,189.0 L469.8,188.6 L467.6,188.8 L465.4,189.6 L463.5,191.0 L461.9,193.0 L460.9,195.3 L460.5,197.8 L460.7,200.4 M476.5,201.6 L475.4,200.3 L473.5,199.5 L471.1,199.1 L468.4,199.4 L465.8,200.3 L463.5,201.8 L461.7,203.9 L460.7,206.3 L460.4,209.0 L460.9,211.7 M475.9,215.0 L475.1,213.7 L473.7,212.9 L471.7,212.6 L469.3,212.8 L466.7,213.7 L464.2,215.2 L462.1,217.2 L460.6,219.6 L460.0,222.3 L460.3,224.9 M476.4,226.6 L475.4,225.2 L473.9,224.2 L472.0,223.7 L469.9,223.7 L467.7,224.4 L465.6,225.7 L463.9,227.6 L462.6,229.9 L461.9,232.5 L461.9,235.1 M478.5,238.1 L477.4,236.9 L475.6,236.0 L473.3,235.6" stroke="#c4c4c4" stroke-width="1.8"/><path d="M345.4,288.6 L347.6,289.3 M358.0,276.6 L356.6,277.1 L355.1,278.5 L353.5,280.6 L352.2,283.3 L351.3,286.4 L351.0,289.5 L351.4,292.3 L352.4,294.6 L354.1,296.1 L356.2,296.8 M366.3,282.6 L364.7,283.1 L363.1,284.3 L361.6,286.0 L360.4,288.2 L359.8,290.7 L359.6,293.2 L360.1,295.6 L361.1,297.7 L362.7,299.2 L364.6,300.1 M374.7,285.6 L373.1,286.3 L371.3,287.8 L369.6,290.1 L368.2,292.9 L367.3,295.9 L367.1,298.9 L367.5,301.5 L368.7,303.6 L370.5,305.0 L372.7,305.7" stroke="#c4c4c4" stroke-width="1.7"/><path d="M387.5,301.3 L389.3,301.4 M392.9,291.0 L392.0,291.6 L391.1,292.7 L390.5,294.3 L390.3,296.2 L390.5,298.3 L391.0,300.3 L392.0,302.0 L393.3,303.4 L394.9,304.1 L396.6,304.2 M400.0,292.2 L399.0,292.9 L398.1,294.0 L397.4,295.5 L397.1,297.2 L397.2,299.0 L397.7,300.7 L398.7,302.2 L400.0,303.3 L401.6,304.0 L403.3,304.1 M407.3,293.9 L406.4,294.2 L405.5,295.2 L404.9,296.5 L404.7,298.3 L404.8,300.3 L405.3,302.3 L406.2,304.2 L407.6,305.6 L409.2,306.6 L411.0,307.0 M416.5,294.9 L415.5,295.4 L414.7,296.5 L414.0,298.0 L413.7,299.8 L413.8,301.6 L414.3,303.5 L415.2,305.1 L416.5,306.3 L418.1,307.1 L419.9,307.5" stroke="#c4c4c4" stroke-width="1.5"/><path d="M425.7,266.7 L427.3,267.3 M435.0,259.3 L434.0,259.4 L432.9,260.0 L431.8,261.0 L431.0,262.4 L430.5,264.0 L430.5,265.8 L430.8,267.7 L431.6,269.4 L432.7,270.8 L434.2,271.8 M443.5,263.7 L442.4,263.7 L441.2,264.4 L439.9,265.5 L438.8,267.2 L437.9,269.1 L437.5,271.2 L437.5,273.2 L438.1,275.1 L439.1,276.5 L440.6,277.5 M449.6,269.4 L448.5,269.2 L447.3,269.5 L446.1,270.3 L445.1,271.5 L444.4,272.9 L444.0,274.6 L444.0,276.4 L444.5,278.0 L445.4,279.5 L446.6,280.6 M455.9,272.8 L454.9,272.4 L453.7,272.7 L452.4,273.5 L451.2,274.8 L450.1,276.6 L449.4,278.6 L449.2,280.7" stroke="#c4c4c4" stroke-width="1.5"/><path d="M349.2,196.7 L350.6,199.4 L352.9,201.8 L355.7,203.8 L358.8,205.1 L361.8,205.8 L364.5,205.8 L366.5,205.2 L367.8,204.2 L368.2,202.8 L367.9,201.3 M348.6,208.4 L349.5,210.9 L351.4,213.1 L354.0,214.9 L357.2,216.2 L360.6,216.8 L363.8,216.8 L366.5,216.2 L368.2,215.1 L369.0,213.7 L368.6,212.2 M348.7,219.4 L349.5,222.1 L351.1,224.4 L353.2,226.4 L355.8,227.9 L358.6,228.7 L361.4,228.9 L363.9,228.5 L365.9,227.7 L367.0,226.5 L367.1,225.1 M345.7,232.3 L346.8,235.0 L348.7,237.3 L351.2,239.3 L354.0,240.7 L356.9,241.4 L359.5,241.5 L361.6,241.0 L363.2,239.9 L364.0,238.5 L364.1,237.0 M344.0,242.5 L344.7,245.1 L346.5,247.5 L349.2,249.5 L352.4,251.0 L355.8,251.9 L359.0,252.2 L361.6,251.8 L363.4,251.0 L364.3,249.7 L364.1,248.3 M344.4,255.3 L344.9,258.0 L346.1,260.5 L348.2,262.6 L350.8,264.2 L353.8,265.2 L356.9,265.6 L359.8,265.3 L362.1,264.6 L363.4,263.4 L363.8,261.9 M342.5,266.9 L343.3,269.4 L344.8,271.8" stroke="#707070" stroke-width="4.7"/><path d="M349.2,196.7 L350.6,199.4 L352.9,201.8 L355.7,203.8 L358.8,205.1 L361.8,205.8 L364.5,205.8 L366.5,205.2 L367.8,204.2 L368.2,202.8 L367.9,201.3 M348.6,208.4 L349.5,210.9 L351.4,213.1 L354.0,214.9 L357.2,216.2 L360.6,216.8 L363.8,216.8 L366.5,216.2 L368.2,215.1 L369.0,213.7 L368.6,212.2 M348.7,219.4 L349.5,222.1 L351.1,224.4 L353.2,226.4 L355.8,227.9 L358.6,228.7 L361.4,228.9 L363.9,228.5 L365.9,227.7 L367.0,226.5 L367.1,225.1 M345.7,232.3 L346.8,235.0 L348.7,237.3 L351.2,239.3 L354.0,240.7 L356.9,241.4 L359.5,241.5 L361.6,241.0 L363.2,239.9 L364.0,238.5 L364.1,237.0 M344.0,242.5 L344.7,245.1 L346.5,247.5 L349.2,249.5 L352.4,251.0 L355.8,251.9 L359.0,252.2 L361.6,251.8 L363.4,251.0 L364.3,249.7 L364.1,248.3 M344.4,255.3 L344.9,258.0 L346.1,260.5 L348.2,262.6 L350.8,264.2 L353.8,265.2 L356.9,265.6 L359.8,265.3 L362.1,264.6 L363.4,263.4 L363.8,261.9 M342.5,266.9 L343.3,269.4 L344.8,271.8" stroke="#d0d0d0" stroke-width="3.4"/><path d="M349.2,196.7 L350.6,199.4 L352.9,201.8 L355.7,203.8 L358.8,205.1 L361.8,205.8 L364.5,205.8 L366.5,205.2 L367.8,204.2 L368.2,202.8 L367.9,201.3 M348.6,208.4 L349.5,210.9 L351.4,213.1 L354.0,214.9 L357.2,216.2 L360.6,216.8 L363.8,216.8 L366.5,216.2 L368.2,215.1 L369.0,213.7 L368.6,212.2 M348.7,219.4 L349.5,222.1 L351.1,224.4 L353.2,226.4 L355.8,227.9 L358.6,228.7 L361.4,228.9 L363.9,228.5 L365.9,227.7 L367.0,226.5 L367.1,225.1 M345.7,232.3 L346.8,235.0 L348.7,237.3 L351.2,239.3 L354.0,240.7 L356.9,241.4 L359.5,241.5 L361.6,241.0 L363.2,239.9 L364.0,238.5 L364.1,237.0 M344.0,242.5 L344.7,245.1 L346.5,247.5 L349.2,249.5 L352.4,251.0 L355.8,251.9 L359.0,252.2 L361.6,251.8 L363.4,251.0 L364.3,249.7 L364.1,248.3 M344.4,255.3 L344.9,258.0 L346.1,260.5 L348.2,262.6 L350.8,264.2 L353.8,265.2 L356.9,265.6 L359.8,265.3 L362.1,264.6 L363.4,263.4 L363.8,261.9 M342.5,266.9 L343.3,269.4 L344.8,271.8" stroke="#f4f4f4" stroke-width="1.5" transform="translate(0,-0.7)"/><path d="M374.4,176.5 L375.3,179.0 L377.0,181.3 L379.4,183.1 L382.3,184.3 L385.3,184.9 L388.1,184.9 L390.5,184.3 L392.0,183.3 L392.6,182.0 L392.1,180.6 M374.3,189.6 L375.3,192.1 L376.8,194.3 L378.8,196.0 L381.2,197.1 L383.7,197.6 L386.1,197.4 L388.3,196.7 L389.9,195.5 L390.8,194.1 L390.8,192.5 M372.0,199.6 L373.1,202.2 L375.0,204.4 L377.5,206.3 L380.1,207.5 L382.8,208.1 L385.1,208.1 L387.0,207.6 L388.3,206.5 L388.9,205.2 L388.8,203.8 M371.1,212.4 L371.8,215.0 L373.4,217.4 L375.9,219.4 L378.8,220.8 L381.9,221.6 L384.8,221.7 L387.2,221.2 L388.8,220.2 L389.6,218.9 L389.4,217.4 M371.9,224.0 L372.4,226.4 L373.6,228.7 L375.5,230.5 L377.9,231.8 L380.6,232.5 L383.3,232.5 L385.8,232.0 L387.8,231.0 L389.0,229.6 L389.3,228.1 M370.1,234.8 L370.9,237.5 L372.5,240.0 L374.5,242.1 L376.9,243.6 L379.4,244.5 L381.7,244.8 L383.8,244.5 L385.4,243.7 L386.4,242.5 L386.7,241.2 M368.1,247.8 L368.7,250.4 L370.2,252.8 L372.5,254.8 L375.4,256.3 L378.4,257.2" stroke="#707070" stroke-width="4.5"/><path d="M374.4,176.5 L375.3,179.0 L377.0,181.3 L379.4,183.1 L382.3,184.3 L385.3,184.9 L388.1,184.9 L390.5,184.3 L392.0,183.3 L392.6,182.0 L392.1,180.6 M374.3,189.6 L375.3,192.1 L376.8,194.3 L378.8,196.0 L381.2,197.1 L383.7,197.6 L386.1,197.4 L388.3,196.7 L389.9,195.5 L390.8,194.1 L390.8,192.5 M372.0,199.6 L373.1,202.2 L375.0,204.4 L377.5,206.3 L380.1,207.5 L382.8,208.1 L385.1,208.1 L387.0,207.6 L388.3,206.5 L388.9,205.2 L388.8,203.8 M371.1,212.4 L371.8,215.0 L373.4,217.4 L375.9,219.4 L378.8,220.8 L381.9,221.6 L384.8,221.7 L387.2,221.2 L388.8,220.2 L389.6,218.9 L389.4,217.4 M371.9,224.0 L372.4,226.4 L373.6,228.7 L375.5,230.5 L377.9,231.8 L380.6,232.5 L383.3,232.5 L385.8,232.0 L387.8,231.0 L389.0,229.6 L389.3,228.1 M370.1,234.8 L370.9,237.5 L372.5,240.0 L374.5,242.1 L376.9,243.6 L379.4,244.5 L381.7,244.8 L383.8,244.5 L385.4,243.7 L386.4,242.5 L386.7,241.2 M368.1,247.8 L368.7,250.4 L370.2,252.8 L372.5,254.8 L375.4,256.3 L378.4,257.2" stroke="#d0d0d0" stroke-width="3.2"/><path d="M374.4,176.5 L375.3,179.0 L377.0,181.3 L379.4,183.1 L382.3,184.3 L385.3,184.9 L388.1,184.9 L390.5,184.3 L392.0,183.3 L392.6,182.0 L392.1,180.6 M374.3,189.6 L375.3,192.1 L376.8,194.3 L378.8,196.0 L381.2,197.1 L383.7,197.6 L386.1,197.4 L388.3,196.7 L389.9,195.5 L390.8,194.1 L390.8,192.5 M372.0,199.6 L373.1,202.2 L375.0,204.4 L377.5,206.3 L380.1,207.5 L382.8,208.1 L385.1,208.1 L387.0,207.6 L388.3,206.5 L388.9,205.2 L388.8,203.8 M371.1,212.4 L371.8,215.0 L373.4,217.4 L375.9,219.4 L378.8,220.8 L381.9,221.6 L384.8,221.7 L387.2,221.2 L388.8,220.2 L389.6,218.9 L389.4,217.4 M371.9,224.0 L372.4,226.4 L373.6,228.7 L375.5,230.5 L377.9,231.8 L380.6,232.5 L383.3,232.5 L385.8,232.0 L387.8,231.0 L389.0,229.6 L389.3,228.1 M370.1,234.8 L370.9,237.5 L372.5,240.0 L374.5,242.1 L376.9,243.6 L379.4,244.5 L381.7,244.8 L383.8,244.5 L385.4,243.7 L386.4,242.5 L386.7,241.2 M368.1,247.8 L368.7,250.4 L370.2,252.8 L372.5,254.8 L375.4,256.3 L378.4,257.2" stroke="#f4f4f4" stroke-width="1.4" transform="translate(0,-0.7)"/><path d="M396.4,162.7 L397.9,165.0 L399.9,167.0 L402.4,168.4 L404.9,169.3 L407.4,169.5 L409.6,169.1 L411.3,168.2 L412.5,166.9 L413.0,165.4 L412.8,163.9 M395.4,173.8 L396.6,176.3 L398.8,178.5 L401.5,180.2 L404.6,181.3 L407.6,181.8 L410.3,181.6 L412.3,181.0 L413.6,179.9 L413.9,178.6 L413.4,177.2 M396.9,186.8 L397.7,189.3 L399.3,191.4 L401.6,193.0 L404.3,194.0 L407.2,194.4 L410.0,194.1 L412.5,193.3 L414.2,192.1 L415.0,190.6 L414.8,189.0 M396.8,197.0 L397.9,199.5 L399.6,201.7 L401.7,203.4 L404.1,204.5 L406.6,205.1 L408.9,205.0 L411.0,204.3 L412.5,203.3 L413.4,202.0 L413.5,200.6 M395.1,209.9 L396.2,212.5 L398.2,214.8 L400.7,216.7 L403.6,217.9 L406.5,218.5 L409.1,218.5 L411.2,217.9 L412.5,216.9 L413.2,215.5 L413.0,214.1 M396.0,221.3 L396.6,223.7 L398.1,225.9 L400.4,227.7 L403.2,228.9 L406.3,229.4 L409.3,229.3 L411.9,228.7 L413.8,227.6 L414.8,226.2 L414.8,224.7 M397.1,232.3 L397.8,235.0 L399.1,237.4 L401.0,239.4 L403.3,240.8 L405.8,241.6 L408.4,241.8 L410.7,241.4 L412.7,240.5 L413.9,239.3 L414.4,238.0 M395.5,245.4 L396.3,248.0 L398.0,250.3 L400.3,252.2 L402.8,253.5 L405.5,254.3 L408.0,254.3 L410.1,253.8 L411.7,252.8 L412.7,251.4 L412.9,249.9 M395.3,255.6 L395.7,258.2 L397.1,260.5 L399.3,262.5 L402.2,264.0 L405.3,264.9 L408.3,265.1 L411.0,264.8 L412.9,263.9 L414.0,262.7 L414.2,261.4" stroke="#707070" stroke-width="4.5"/><path d="M396.4,162.7 L397.9,165.0 L399.9,167.0 L402.4,168.4 L404.9,169.3 L407.4,169.5 L409.6,169.1 L411.3,168.2 L412.5,166.9 L413.0,165.4 L412.8,163.9 M395.4,173.8 L396.6,176.3 L398.8,178.5 L401.5,180.2 L404.6,181.3 L407.6,181.8 L410.3,181.6 L412.3,181.0 L413.6,179.9 L413.9,178.6 L413.4,177.2 M396.9,186.8 L397.7,189.3 L399.3,191.4 L401.6,193.0 L404.3,194.0 L407.2,194.4 L410.0,194.1 L412.5,193.3 L414.2,192.1 L415.0,190.6 L414.8,189.0 M396.8,197.0 L397.9,199.5 L399.6,201.7 L401.7,203.4 L404.1,204.5 L406.6,205.1 L408.9,205.0 L411.0,204.3 L412.5,203.3 L413.4,202.0 L413.5,200.6 M395.1,209.9 L396.2,212.5 L398.2,214.8 L400.7,216.7 L403.6,217.9 L406.5,218.5 L409.1,218.5 L411.2,217.9 L412.5,216.9 L413.2,215.5 L413.0,214.1 M396.0,221.3 L396.6,223.7 L398.1,225.9 L400.4,227.7 L403.2,228.9 L406.3,229.4 L409.3,229.3 L411.9,228.7 L413.8,227.6 L414.8,226.2 L414.8,224.7 M397.1,232.3 L397.8,235.0 L399.1,237.4 L401.0,239.4 L403.3,240.8 L405.8,241.6 L408.4,241.8 L410.7,241.4 L412.7,240.5 L413.9,239.3 L414.4,238.0 M395.5,245.4 L396.3,248.0 L398.0,250.3 L400.3,252.2 L402.8,253.5 L405.5,254.3 L408.0,254.3 L410.1,253.8 L411.7,252.8 L412.7,251.4 L412.9,249.9 M395.3,255.6 L395.7,258.2 L397.1,260.5 L399.3,262.5 L402.2,264.0 L405.3,264.9 L408.3,265.1 L411.0,264.8 L412.9,263.9 L414.0,262.7 L414.2,261.4" stroke="#d0d0d0" stroke-width="3.2"/><path d="M396.4,162.7 L397.9,165.0 L399.9,167.0 L402.4,168.4 L404.9,169.3 L407.4,169.5 L409.6,169.1 L411.3,168.2 L412.5,166.9 L413.0,165.4 L412.8,163.9 M395.4,173.8 L396.6,176.3 L398.8,178.5 L401.5,180.2 L404.6,181.3 L407.6,181.8 L410.3,181.6 L412.3,181.0 L413.6,179.9 L413.9,178.6 L413.4,177.2 M396.9,186.8 L397.7,189.3 L399.3,191.4 L401.6,193.0 L404.3,194.0 L407.2,194.4 L410.0,194.1 L412.5,193.3 L414.2,192.1 L415.0,190.6 L414.8,189.0 M396.8,197.0 L397.9,199.5 L399.6,201.7 L401.7,203.4 L404.1,204.5 L406.6,205.1 L408.9,205.0 L411.0,204.3 L412.5,203.3 L413.4,202.0 L413.5,200.6 M395.1,209.9 L396.2,212.5 L398.2,214.8 L400.7,216.7 L403.6,217.9 L406.5,218.5 L409.1,218.5 L411.2,217.9 L412.5,216.9 L413.2,215.5 L413.0,214.1 M396.0,221.3 L396.6,223.7 L398.1,225.9 L400.4,227.7 L403.2,228.9 L406.3,229.4 L409.3,229.3 L411.9,228.7 L413.8,227.6 L414.8,226.2 L414.8,224.7 M397.1,232.3 L397.8,235.0 L399.1,237.4 L401.0,239.4 L403.3,240.8 L405.8,241.6 L408.4,241.8 L410.7,241.4 L412.7,240.5 L413.9,239.3 L414.4,238.0 M395.5,245.4 L396.3,248.0 L398.0,250.3 L400.3,252.2 L402.8,253.5 L405.5,254.3 L408.0,254.3 L410.1,253.8 L411.7,252.8 L412.7,251.4 L412.9,249.9 M395.3,255.6 L395.7,258.2 L397.1,260.5 L399.3,262.5 L402.2,264.0 L405.3,264.9 L408.3,265.1 L411.0,264.8 L412.9,263.9 L414.0,262.7 L414.2,261.4" stroke="#f4f4f4" stroke-width="1.4" transform="translate(0,-0.7)"/><path d="M417.3,172.8 L418.4,175.4 L420.2,177.6 L422.3,179.2 L424.7,180.3 L427.2,180.6 L429.6,180.4 L431.6,179.6 L433.1,178.5 L433.8,177.0 L433.6,175.6 M415.4,184.4 L416.8,186.8 L419.0,188.8 L421.6,190.4 L424.4,191.3 L427.0,191.6 L429.3,191.2 L431.1,190.4 L432.2,189.1 L432.6,187.6 L432.2,186.1 M415.2,195.6 L416.3,198.2 L418.2,200.4 L420.9,202.2 L423.9,203.3 L427.0,203.8 L429.9,203.7 L432.1,203.0 L433.5,202.0 L433.9,200.7 L433.3,199.3 M416.4,208.9 L417.3,211.4 L418.9,213.5 L421.0,215.1 L423.6,216.1 L426.3,216.5 L428.9,216.2 L431.2,215.4 L432.8,214.1 L433.7,212.6 L433.5,211.1 M415.1,219.3 L416.4,221.7 L418.3,223.9 L420.7,225.6 L423.2,226.7 L425.7,227.1 L428.0,227.0 L429.8,226.3 L431.1,225.2 L431.7,223.8 L431.6,222.4 M413.8,232.2 L414.9,234.8 L417.0,237.1 L419.6,238.9 L422.7,240.1 L425.7,240.6 L428.4,240.5 L430.5,239.8 L431.8,238.7 L432.3,237.3 L431.8,235.8 M415.1,243.9 L415.9,246.3 L417.4,248.4 L419.6,250.0 L422.3,251.1 L425.3,251.5 L428.1,251.3 L430.6,250.6 L432.4,249.4 L433.2,247.9 L433.0,246.4 M414.9,255.1 L415.9,257.7" stroke="#707070" stroke-width="4.5"/><path d="M417.3,172.8 L418.4,175.4 L420.2,177.6 L422.3,179.2 L424.7,180.3 L427.2,180.6 L429.6,180.4 L431.6,179.6 L433.1,178.5 L433.8,177.0 L433.6,175.6 M415.4,184.4 L416.8,186.8 L419.0,188.8 L421.6,190.4 L424.4,191.3 L427.0,191.6 L429.3,191.2 L431.1,190.4 L432.2,189.1 L432.6,187.6 L432.2,186.1 M415.2,195.6 L416.3,198.2 L418.2,200.4 L420.9,202.2 L423.9,203.3 L427.0,203.8 L429.9,203.7 L432.1,203.0 L433.5,202.0 L433.9,200.7 L433.3,199.3 M416.4,208.9 L417.3,211.4 L418.9,213.5 L421.0,215.1 L423.6,216.1 L426.3,216.5 L428.9,216.2 L431.2,215.4 L432.8,214.1 L433.7,212.6 L433.5,211.1 M415.1,219.3 L416.4,221.7 L418.3,223.9 L420.7,225.6 L423.2,226.7 L425.7,227.1 L428.0,227.0 L429.8,226.3 L431.1,225.2 L431.7,223.8 L431.6,222.4 M413.8,232.2 L414.9,234.8 L417.0,237.1 L419.6,238.9 L422.7,240.1 L425.7,240.6 L428.4,240.5 L430.5,239.8 L431.8,238.7 L432.3,237.3 L431.8,235.8 M415.1,243.9 L415.9,246.3 L417.4,248.4 L419.6,250.0 L422.3,251.1 L425.3,251.5 L428.1,251.3 L430.6,250.6 L432.4,249.4 L433.2,247.9 L433.0,246.4 M414.9,255.1 L415.9,257.7" stroke="#d0d0d0" stroke-width="3.2"/><path d="M417.3,172.8 L418.4,175.4 L420.2,177.6 L422.3,179.2 L424.7,180.3 L427.2,180.6 L429.6,180.4 L431.6,179.6 L433.1,178.5 L433.8,177.0 L433.6,175.6 M415.4,184.4 L416.8,186.8 L419.0,188.8 L421.6,190.4 L424.4,191.3 L427.0,191.6 L429.3,191.2 L431.1,190.4 L432.2,189.1 L432.6,187.6 L432.2,186.1 M415.2,195.6 L416.3,198.2 L418.2,200.4 L420.9,202.2 L423.9,203.3 L427.0,203.8 L429.9,203.7 L432.1,203.0 L433.5,202.0 L433.9,200.7 L433.3,199.3 M416.4,208.9 L417.3,211.4 L418.9,213.5 L421.0,215.1 L423.6,216.1 L426.3,216.5 L428.9,216.2 L431.2,215.4 L432.8,214.1 L433.7,212.6 L433.5,211.1 M415.1,219.3 L416.4,221.7 L418.3,223.9 L420.7,225.6 L423.2,226.7 L425.7,227.1 L428.0,227.0 L429.8,226.3 L431.1,225.2 L431.7,223.8 L431.6,222.4 M413.8,232.2 L414.9,234.8 L417.0,237.1 L419.6,238.9 L422.7,240.1 L425.7,240.6 L428.4,240.5 L430.5,239.8 L431.8,238.7 L432.3,237.3 L431.8,235.8 M415.1,243.9 L415.9,246.3 L417.4,248.4 L419.6,250.0 L422.3,251.1 L425.3,251.5 L428.1,251.3 L430.6,250.6 L432.4,249.4 L433.2,247.9 L433.0,246.4 M414.9,255.1 L415.9,257.7" stroke="#f4f4f4" stroke-width="1.4" transform="translate(0,-0.7)"/><path d="M437.4,163.2 L438.6,165.5 L440.4,167.3 L442.8,168.6 L445.6,169.3 L448.4,169.3 L451.1,168.7 L453.3,167.6 L454.7,166.2 L455.3,164.7 L454.8,163.3 M437.7,174.4 L439.2,176.9 L441.2,178.9 L443.6,180.4 L446.2,181.3 L448.6,181.6 L450.9,181.3 L452.7,180.5 L453.9,179.3 L454.4,177.9 L454.2,176.6 M437.1,187.6 L438.6,190.0 L440.9,191.9 L443.7,193.3 L446.7,194.1 L449.7,194.2 L452.2,193.7 L454.1,192.7 L455.1,191.4 L455.4,189.8 L454.8,188.3 M438.9,197.8 L439.9,200.2 L441.8,202.2 L444.3,203.7 L447.2,204.6 L450.3,204.8 L453.2,204.5 L455.5,203.6 L457.1,202.4 L457.7,201.0 L457.3,199.7 M440.4,210.7 L441.6,213.2 L443.4,215.4 L445.6,217.0 L448.0,218.0 L450.6,218.4 L453.0,218.1 L455.1,217.2 L456.6,216.0 L457.5,214.6 L457.4,213.1 M439.5,222.3 L440.9,224.6 L443.0,226.6 L445.6,228.1 L448.5,229.0 L451.2,229.2 L453.6,228.8 L455.5,228.0 L456.7,226.7 L457.2,225.2 L456.9,223.7 M440.4,233.5 L441.3,236.0 L443.2,238.2 L445.8,239.9 L448.9,241.0 L452.1,241.5 L455.0,241.3 L457.4,240.6 L459.0,239.5 L459.6,238.2 L459.3,236.8 M442.7,246.5 L443.6,249.0 L445.1,251.1 L447.2,252.7 L449.7,253.7 L452.5,254.1 L455.2,253.8 L457.6,252.9 L459.4,251.7 L460.4,250.1 L460.5,248.6 M442.3,256.8 L443.5,259.3 L445.4,261.4 L447.7,263.1 L450.3,264.2 L452.9,264.7 L455.2,264.6 L457.2,263.9 L458.7,262.9 L459.5,261.5 L459.5,260.1" stroke="#707070" stroke-width="4.7"/><path d="M437.4,163.2 L438.6,165.5 L440.4,167.3 L442.8,168.6 L445.6,169.3 L448.4,169.3 L451.1,168.7 L453.3,167.6 L454.7,166.2 L455.3,164.7 L454.8,163.3 M437.7,174.4 L439.2,176.9 L441.2,178.9 L443.6,180.4 L446.2,181.3 L448.6,181.6 L450.9,181.3 L452.7,180.5 L453.9,179.3 L454.4,177.9 L454.2,176.6 M437.1,187.6 L438.6,190.0 L440.9,191.9 L443.7,193.3 L446.7,194.1 L449.7,194.2 L452.2,193.7 L454.1,192.7 L455.1,191.4 L455.4,189.8 L454.8,188.3 M438.9,197.8 L439.9,200.2 L441.8,202.2 L444.3,203.7 L447.2,204.6 L450.3,204.8 L453.2,204.5 L455.5,203.6 L457.1,202.4 L457.7,201.0 L457.3,199.7 M440.4,210.7 L441.6,213.2 L443.4,215.4 L445.6,217.0 L448.0,218.0 L450.6,218.4 L453.0,218.1 L455.1,217.2 L456.6,216.0 L457.5,214.6 L457.4,213.1 M439.5,222.3 L440.9,224.6 L443.0,226.6 L445.6,228.1 L448.5,229.0 L451.2,229.2 L453.6,228.8 L455.5,228.0 L456.7,226.7 L457.2,225.2 L456.9,223.7 M440.4,233.5 L441.3,236.0 L443.2,238.2 L445.8,239.9 L448.9,241.0 L452.1,241.5 L455.0,241.3 L457.4,240.6 L459.0,239.5 L459.6,238.2 L459.3,236.8 M442.7,246.5 L443.6,249.0 L445.1,251.1 L447.2,252.7 L449.7,253.7 L452.5,254.1 L455.2,253.8 L457.6,252.9 L459.4,251.7 L460.4,250.1 L460.5,248.6 M442.3,256.8 L443.5,259.3 L445.4,261.4 L447.7,263.1 L450.3,264.2 L452.9,264.7 L455.2,264.6 L457.2,263.9 L458.7,262.9 L459.5,261.5 L459.5,260.1" stroke="#d0d0d0" stroke-width="3.4"/><path d="M437.4,163.2 L438.6,165.5 L440.4,167.3 L442.8,168.6 L445.6,169.3 L448.4,169.3 L451.1,168.7 L453.3,167.6 L454.7,166.2 L455.3,164.7 L454.8,163.3 M437.7,174.4 L439.2,176.9 L441.2,178.9 L443.6,180.4 L446.2,181.3 L448.6,181.6 L450.9,181.3 L452.7,180.5 L453.9,179.3 L454.4,177.9 L454.2,176.6 M437.1,187.6 L438.6,190.0 L440.9,191.9 L443.7,193.3 L446.7,194.1 L449.7,194.2 L452.2,193.7 L454.1,192.7 L455.1,191.4 L455.4,189.8 L454.8,188.3 M438.9,197.8 L439.9,200.2 L441.8,202.2 L444.3,203.7 L447.2,204.6 L450.3,204.8 L453.2,204.5 L455.5,203.6 L457.1,202.4 L457.7,201.0 L457.3,199.7 M440.4,210.7 L441.6,213.2 L443.4,215.4 L445.6,217.0 L448.0,218.0 L450.6,218.4 L453.0,218.1 L455.1,217.2 L456.6,216.0 L457.5,214.6 L457.4,213.1 M439.5,222.3 L440.9,224.6 L443.0,226.6 L445.6,228.1 L448.5,229.0 L451.2,229.2 L453.6,228.8 L455.5,228.0 L456.7,226.7 L457.2,225.2 L456.9,223.7 M440.4,233.5 L441.3,236.0 L443.2,238.2 L445.8,239.9 L448.9,241.0 L452.1,241.5 L455.0,241.3 L457.4,240.6 L459.0,239.5 L459.6,238.2 L459.3,236.8 M442.7,246.5 L443.6,249.0 L445.1,251.1 L447.2,252.7 L449.7,253.7 L452.5,254.1 L455.2,253.8 L457.6,252.9 L459.4,251.7 L460.4,250.1 L460.5,248.6 M442.3,256.8 L443.5,259.3 L445.4,261.4 L447.7,263.1 L450.3,264.2 L452.9,264.7 L455.2,264.6 L457.2,263.9 L458.7,262.9 L459.5,261.5 L459.5,260.1" stroke="#f4f4f4" stroke-width="1.5" transform="translate(0,-0.7)"/><path d="M457.3,152.6 L458.4,155.0 L460.3,157.1 L462.7,158.6 L465.5,159.4 L468.2,159.7 L470.7,159.3 L472.7,158.5 L473.8,157.3 L474.1,155.9 L473.5,154.6 M459.1,165.6 L460.2,168.0 L461.8,169.9 L463.8,171.3 L466.0,172.1 L468.4,172.2 L470.6,171.7 L472.5,170.7 L473.8,169.3 L474.4,167.8 L474.1,166.2 M458.4,176.0 L459.8,178.3 L461.8,180.3 L464.1,181.8 L466.5,182.7 L468.8,183.0 L470.7,182.6 L472.3,181.8 L473.3,180.6 L473.6,179.2 L473.4,177.9 M458.6,189.0 L459.8,191.5 L461.7,193.6 L464.2,195.2 L467.0,196.1 L469.8,196.4 L472.2,196.1 L474.1,195.3 L475.2,194.0 L475.5,192.6 L474.9,191.1 M460.7,200.4 L461.6,202.7 L463.1,204.7 L465.1,206.2 L467.5,207.0 L470.0,207.2 L472.5,206.8 L474.6,205.9 L476.1,204.6 L476.7,203.1 L476.5,201.6 M460.9,211.7 L462.1,214.2 L463.8,216.4 L465.9,218.1 L468.1,219.2 L470.3,219.6 L472.4,219.5 L474.1,218.8 L475.3,217.7 L475.9,216.3 L475.9,215.0 M460.3,224.9 L461.5,227.3 L463.4,229.4 L465.8,230.9 L468.5,231.8 L471.1,232.1 L473.4,231.8 L475.2,230.9 L476.3,229.7 L476.7,228.2 L476.4,226.6 M461.9,235.1 L462.7,237.6 L464.2,239.7 L466.3,241.4 L468.9,242.4 L471.6,242.8 L474.3,242.6 L476.5,241.9 L478.0,240.8 L478.7,239.4 L478.5,238.1" stroke="#707070" stroke-width="4.5"/><path d="M457.3,152.6 L458.4,155.0 L460.3,157.1 L462.7,158.6 L465.5,159.4 L468.2,159.7 L470.7,159.3 L472.7,158.5 L473.8,157.3 L474.1,155.9 L473.5,154.6 M459.1,165.6 L460.2,168.0 L461.8,169.9 L463.8,171.3 L466.0,172.1 L468.4,172.2 L470.6,171.7 L472.5,170.7 L473.8,169.3 L474.4,167.8 L474.1,166.2 M458.4,176.0 L459.8,178.3 L461.8,180.3 L464.1,181.8 L466.5,182.7 L468.8,183.0 L470.7,182.6 L472.3,181.8 L473.3,180.6 L473.6,179.2 L473.4,177.9 M458.6,189.0 L459.8,191.5 L461.7,193.6 L464.2,195.2 L467.0,196.1 L469.8,196.4 L472.2,196.1 L474.1,195.3 L475.2,194.0 L475.5,192.6 L474.9,191.1 M460.7,200.4 L461.6,202.7 L463.1,204.7 L465.1,206.2 L467.5,207.0 L470.0,207.2 L472.5,206.8 L474.6,205.9 L476.1,204.6 L476.7,203.1 L476.5,201.6 M460.9,211.7 L462.1,214.2 L463.8,216.4 L465.9,218.1 L468.1,219.2 L470.3,219.6 L472.4,219.5 L474.1,218.8 L475.3,217.7 L475.9,216.3 L475.9,215.0 M460.3,224.9 L461.5,227.3 L463.4,229.4 L465.8,230.9 L468.5,231.8 L471.1,232.1 L473.4,231.8 L475.2,230.9 L476.3,229.7 L476.7,228.2 L476.4,226.6 M461.9,235.1 L462.7,237.6 L464.2,239.7 L466.3,241.4 L468.9,242.4 L471.6,242.8 L474.3,242.6 L476.5,241.9 L478.0,240.8 L478.7,239.4 L478.5,238.1" stroke="#d0d0d0" stroke-width="3.2"/><path d="M457.3,152.6 L458.4,155.0 L460.3,157.1 L462.7,158.6 L465.5,159.4 L468.2,159.7 L470.7,159.3 L472.7,158.5 L473.8,157.3 L474.1,155.9 L473.5,154.6 M459.1,165.6 L460.2,168.0 L461.8,169.9 L463.8,171.3 L466.0,172.1 L468.4,172.2 L470.6,171.7 L472.5,170.7 L473.8,169.3 L474.4,167.8 L474.1,166.2 M458.4,176.0 L459.8,178.3 L461.8,180.3 L464.1,181.8 L466.5,182.7 L468.8,183.0 L470.7,182.6 L472.3,181.8 L473.3,180.6 L473.6,179.2 L473.4,177.9 M458.6,189.0 L459.8,191.5 L461.7,193.6 L464.2,195.2 L467.0,196.1 L469.8,196.4 L472.2,196.1 L474.1,195.3 L475.2,194.0 L475.5,192.6 L474.9,191.1 M460.7,200.4 L461.6,202.7 L463.1,204.7 L465.1,206.2 L467.5,207.0 L470.0,207.2 L472.5,206.8 L474.6,205.9 L476.1,204.6 L476.7,203.1 L476.5,201.6 M460.9,211.7 L462.1,214.2 L463.8,216.4 L465.9,218.1 L468.1,219.2 L470.3,219.6 L472.4,219.5 L474.1,218.8 L475.3,217.7 L475.9,216.3 L475.9,215.0 M460.3,224.9 L461.5,227.3 L463.4,229.4 L465.8,230.9 L468.5,231.8 L471.1,232.1 L473.4,231.8 L475.2,230.9 L476.3,229.7 L476.7,228.2 L476.4,226.6 M461.9,235.1 L462.7,237.6 L464.2,239.7 L466.3,241.4 L468.9,242.4 L471.6,242.8 L474.3,242.6 L476.5,241.9 L478.0,240.8 L478.7,239.4 L478.5,238.1" stroke="#f4f4f4" stroke-width="1.4" transform="translate(0,-0.7)"/><path d="M347.6,289.3 L350.0,289.5 L352.4,288.9 L354.7,287.7 L356.7,286.0 L358.3,284.0 L359.4,281.8 L359.8,279.8 L359.8,278.1 L359.1,277.0 L358.0,276.6 M356.2,296.8 L358.8,296.6 L361.4,295.5 L363.9,293.8 L366.1,291.7 L367.7,289.3 L368.7,287.1 L369.0,285.1 L368.6,283.6 L367.7,282.8 L366.3,282.6 M364.6,300.1 L366.8,300.2 L369.1,299.6 L371.4,298.1 L373.5,296.1 L375.1,293.8 L376.2,291.2 L376.8,288.9 L376.6,287.1 L375.9,285.9 L374.7,285.6 M372.7,305.7 L375.3,305.5 L377.9,304.7 L380.3,303.3 L382.4,301.5 L384.0,299.5 L385.0,297.5 L385.3,295.7 L385.1,294.3 L384.3,293.4" stroke="#707070" stroke-width="4.3"/><path d="M347.6,289.3 L350.0,289.5 L352.4,288.9 L354.7,287.7 L356.7,286.0 L358.3,284.0 L359.4,281.8 L359.8,279.8 L359.8,278.1 L359.1,277.0 L358.0,276.6 M356.2,296.8 L358.8,296.6 L361.4,295.5 L363.9,293.8 L366.1,291.7 L367.7,289.3 L368.7,287.1 L369.0,285.1 L368.6,283.6 L367.7,282.8 L366.3,282.6 M364.6,300.1 L366.8,300.2 L369.1,299.6 L371.4,298.1 L373.5,296.1 L375.1,293.8 L376.2,291.2 L376.8,288.9 L376.6,287.1 L375.9,285.9 L374.7,285.6 M372.7,305.7 L375.3,305.5 L377.9,304.7 L380.3,303.3 L382.4,301.5 L384.0,299.5 L385.0,297.5 L385.3,295.7 L385.1,294.3 L384.3,293.4" stroke="#d0d0d0" stroke-width="3.0"/><path d="M347.6,289.3 L350.0,289.5 L352.4,288.9 L354.7,287.7 L356.7,286.0 L358.3,284.0 L359.4,281.8 L359.8,279.8 L359.8,278.1 L359.1,277.0 L358.0,276.6 M356.2,296.8 L358.8,296.6 L361.4,295.5 L363.9,293.8 L366.1,291.7 L367.7,289.3 L368.7,287.1 L369.0,285.1 L368.6,283.6 L367.7,282.8 L366.3,282.6 M364.6,300.1 L366.8,300.2 L369.1,299.6 L371.4,298.1 L373.5,296.1 L375.1,293.8 L376.2,291.2 L376.8,288.9 L376.6,287.1 L375.9,285.9 L374.7,285.6 M372.7,305.7 L375.3,305.5 L377.9,304.7 L380.3,303.3 L382.4,301.5 L384.0,299.5 L385.0,297.5 L385.3,295.7 L385.1,294.3 L384.3,293.4" stroke="#f4f4f4" stroke-width="1.4" transform="translate(0,-0.7)"/><path d="M389.3,301.4 L391.1,301.0 L392.7,300.1 L394.0,298.9 L395.0,297.4 L395.5,295.7 L395.6,294.1 L395.3,292.7 L394.7,291.7 L393.9,291.1 L392.9,291.0 M396.6,304.2 L398.4,303.7 L400.0,302.5 L401.3,300.9 L402.3,299.1 L402.9,297.1 L403.0,295.3 L402.7,293.7 L402.0,292.7 L401.1,292.2 L400.0,292.2 M403.3,304.1 L405.1,303.8 L406.6,303.1 L408.0,301.9 L409.0,300.5 L409.6,298.9 L409.8,297.4 L409.6,295.9 L409.1,294.8 L408.3,294.1 L407.3,293.9 M411.0,307.0 L412.8,306.7 L414.5,305.8 L416.1,304.3 L417.3,302.5 L418.2,300.6 L418.5,298.6 L418.5,297.0 L418.1,295.7 L417.4,295.0 L416.5,294.9 M419.9,307.5 L421.7,307.3" stroke="#707070" stroke-width="4.1"/><path d="M389.3,301.4 L391.1,301.0 L392.7,300.1 L394.0,298.9 L395.0,297.4 L395.5,295.7 L395.6,294.1 L395.3,292.7 L394.7,291.7 L393.9,291.1 L392.9,291.0 M396.6,304.2 L398.4,303.7 L400.0,302.5 L401.3,300.9 L402.3,299.1 L402.9,297.1 L403.0,295.3 L402.7,293.7 L402.0,292.7 L401.1,292.2 L400.0,292.2 M403.3,304.1 L405.1,303.8 L406.6,303.1 L408.0,301.9 L409.0,300.5 L409.6,298.9 L409.8,297.4 L409.6,295.9 L409.1,294.8 L408.3,294.1 L407.3,293.9 M411.0,307.0 L412.8,306.7 L414.5,305.8 L416.1,304.3 L417.3,302.5 L418.2,300.6 L418.5,298.6 L418.5,297.0 L418.1,295.7 L417.4,295.0 L416.5,294.9 M419.9,307.5 L421.7,307.3" stroke="#d0d0d0" stroke-width="2.8"/><path d="M389.3,301.4 L391.1,301.0 L392.7,300.1 L394.0,298.9 L395.0,297.4 L395.5,295.7 L395.6,294.1 L395.3,292.7 L394.7,291.7 L393.9,291.1 L392.9,291.0 M396.6,304.2 L398.4,303.7 L400.0,302.5 L401.3,300.9 L402.3,299.1 L402.9,297.1 L403.0,295.3 L402.7,293.7 L402.0,292.7 L401.1,292.2 L400.0,292.2 M403.3,304.1 L405.1,303.8 L406.6,303.1 L408.0,301.9 L409.0,300.5 L409.6,298.9 L409.8,297.4 L409.6,295.9 L409.1,294.8 L408.3,294.1 L407.3,293.9 M411.0,307.0 L412.8,306.7 L414.5,305.8 L416.1,304.3 L417.3,302.5 L418.2,300.6 L418.5,298.6 L418.5,297.0 L418.1,295.7 L417.4,295.0 L416.5,294.9 M419.9,307.5 L421.7,307.3" stroke="#f4f4f4" stroke-width="1.3" transform="translate(0,-0.7)"/><path d="M427.3,267.3 L429.2,267.5 L431.1,267.2 L432.9,266.4 L434.5,265.4 L435.7,264.1 L436.4,262.7 L436.7,261.5 L436.5,260.4 L435.9,259.6 L435.0,259.3 M434.2,271.8 L436.0,272.4 L437.8,272.4 L439.6,271.9 L441.3,270.9 L442.8,269.6 L443.8,268.1 L444.4,266.6 L444.5,265.2 L444.2,264.2 L443.5,263.7 M440.6,277.5 L442.4,277.9 L444.3,277.8 L446.2,277.2 L447.9,276.2 L449.4,275.0 L450.3,273.6 L450.9,272.2 L450.9,270.9 L450.4,270.0 L449.6,269.4 M446.6,280.6 L448.2,281.4 L449.8,281.6 L451.6,281.3 L453.2,280.5 L454.6,279.4 L455.7,277.9 L456.4,276.4 L456.7,274.9 L456.5,273.6 L455.9,272.8" stroke="#707070" stroke-width="4.1"/><path d="M427.3,267.3 L429.2,267.5 L431.1,267.2 L432.9,266.4 L434.5,265.4 L435.7,264.1 L436.4,262.7 L436.7,261.5 L436.5,260.4 L435.9,259.6 L435.0,259.3 M434.2,271.8 L436.0,272.4 L437.8,272.4 L439.6,271.9 L441.3,270.9 L442.8,269.6 L443.8,268.1 L444.4,266.6 L444.5,265.2 L444.2,264.2 L443.5,263.7 M440.6,277.5 L442.4,277.9 L444.3,277.8 L446.2,277.2 L447.9,276.2 L449.4,275.0 L450.3,273.6 L450.9,272.2 L450.9,270.9 L450.4,270.0 L449.6,269.4 M446.6,280.6 L448.2,281.4 L449.8,281.6 L451.6,281.3 L453.2,280.5 L454.6,279.4 L455.7,277.9 L456.4,276.4 L456.7,274.9 L456.5,273.6 L455.9,272.8" stroke="#d0d0d0" stroke-width="2.8"/><path d="M427.3,267.3 L429.2,267.5 L431.1,267.2 L432.9,266.4 L434.5,265.4 L435.7,264.1 L436.4,262.7 L436.7,261.5 L436.5,260.4 L435.9,259.6 L435.0,259.3 M434.2,271.8 L436.0,272.4 L437.8,272.4 L439.6,271.9 L441.3,270.9 L442.8,269.6 L443.8,268.1 L444.4,266.6 L444.5,265.2 L444.2,264.2 L443.5,263.7 M440.6,277.5 L442.4,277.9 L444.3,277.8 L446.2,277.2 L447.9,276.2 L449.4,275.0 L450.3,273.6 L450.9,272.2 L450.9,270.9 L450.4,270.0 L449.6,269.4 M446.6,280.6 L448.2,281.4 L449.8,281.6 L451.6,281.3 L453.2,280.5 L454.6,279.4 L455.7,277.9 L456.4,276.4 L456.7,274.9 L456.5,273.6 L455.9,272.8" stroke="#f4f4f4" stroke-width="1.3" transform="translate(0,-0.7)"/></g><g fill="none" stroke="#505050" stroke-width="1.2"><ellipse cx="371.0" cy="149.0" rx="5.5" ry="7.5" transform="rotate(-35 371.0 149.0)"/><ellipse cx="376.5" cy="153.8" rx="5.5" ry="7.5" transform="rotate(-35 376.5 153.8)"/><ellipse cx="382.0" cy="158.6" rx="5.5" ry="7.5" transform="rotate(-35 382.0 158.6)"/><ellipse cx="387.5" cy="163.4" rx="5.5" ry="7.5" transform="rotate(-35 387.5 163.4)"/></g><g fill="none" stroke-linecap="round" stroke-linejoin="round"><path d="M450.0,485.0 L470.0,500.0 L488.0,527.0" stroke="#9a9a9a" stroke-width="1.4"/><path d="M380.0,470.0 L400.0,480.0 L430.0,485.0 L455.0,480.0" stroke="#9a9a9a" stroke-width="1.4"/><path d="M420.0,490.0 L425.0,515.0 L440.0,520.0" stroke="#9a9a9a" stroke-width="1.4"/><path d="M470.0,382.0 L480.0,378.0" stroke="#9a9a9a" stroke-width="1.4"/><path d="M385.0,500.0 L395.0,520.0" stroke="#9a9a9a" stroke-width="1.4"/><path d="M368.0,380.0 L385.0,377.0 L410.0,382.0 L413.0,395.0" stroke="#9a9a9a" stroke-width="1.4"/><path d="M350.6,413.6 L351.9,416.0 M368.7,412.4 L367.2,411.4 L365.2,411.0 L363.0,411.2 L360.7,412.0 L358.5,413.5 L356.6,415.5 L355.2,417.9 L354.5,420.6 L354.5,423.2 L355.4,425.7 M373.5,422.8 L371.8,422.1 L369.5,421.9 L366.9,422.4 L364.3,423.4 L362.0,425.1 L360.2,427.2 L359.1,429.7 L358.7,432.5 L359.1,435.2 L360.2,437.7 M377.3,435.8 L375.9,434.8 L373.7,434.4 L371.1,434.7 L368.2,435.7 L365.4,437.3 L363.0,439.4 L361.4,441.8 L360.7,444.4 L360.9,446.9 L362.1,449.2 M378.8,446.4 L377.6,445.3 L375.8,444.8 L373.6,444.9 L371.3,445.7 L368.9,447.2 L366.7,449.3 L365.0,451.9 L364.0,454.7 L363.9,457.5 L364.7,460.0 M383.5,458.7 L382.0,457.8 L379.9,457.5 L377.6,457.7 L375.2,458.6 L373.0,460.0 L371.2,462.0 L369.9,464.4 L369.3,467.0 L369.3,469.7 L370.0,472.2 M387.9,469.8 L386.5,468.7 L384.3,468.2 L381.6,468.3 L378.7,469.1 L375.9,470.5 L373.6,472.4 L372.0,474.8 L371.3,477.3 L371.4,479.9 L372.5,482.3 M389.6,481.1 L388.6,480.1 L387.0,479.6 L384.8,479.7 L382.2,480.6 L379.6,482.1" stroke="#8a8a8a" stroke-width="2.7"/><path d="M368.0,396.3 L368.9,398.9 M386.6,397.7 L385.0,396.8 L382.6,396.6 L379.9,396.9 L377.0,397.9 L374.3,399.5 L372.1,401.5 L370.7,404.0 L370.2,406.6 L370.5,409.2 L371.6,411.6 M388.0,409.5 L386.8,408.3 L384.9,407.7 L382.5,407.7 L379.8,408.5 L377.1,409.8 L374.6,411.8 L372.8,414.2 L371.7,416.8 L371.6,419.4 L372.4,421.9 M390.4,420.8 L389.1,419.8 L387.3,419.3 L385.1,419.4 L382.9,420.2 L380.6,421.5 L378.7,423.5 L377.1,425.9 L376.2,428.6 L375.9,431.4 L376.5,434.1 M395.3,433.4 L393.8,432.4 L391.7,431.8 L389.0,431.8 L386.3,432.5 L383.7,433.7 L381.5,435.4 L380.0,437.6 L379.2,440.0 L379.2,442.6 L380.0,445.0 M397.2,443.9 L396.2,442.7 L394.4,442.0 L392.0,442.0 L389.2,442.6 L386.3,443.9 L383.7,445.8 L381.6,448.2 L380.4,450.8 L380.2,453.6 L380.9,456.2 M399.1,457.1 L398.1,456.0 L396.6,455.3 L394.6,455.2 L392.3,455.7 L390.0,456.8 L387.7,458.6 L385.7,460.9 L384.4,463.5 L383.7,466.2 L384.0,468.8 M403.3,468.4 L402.1,467.1 L400.1,466.3 L397.8,466.0 L395.2,466.3 L392.8,467.3 L390.7,468.8 L389.0,470.8 L388.0,473.2 L387.6,475.8 L387.9,478.4" stroke="#8a8a8a" stroke-width="2.7"/><path d="M383.5,403.6 L384.7,406.2 M399.7,405.9 L398.5,404.9 L396.9,404.3 L394.9,404.4 L392.7,405.1 L390.6,406.4 L388.6,408.3 L387.1,410.7 L386.2,413.3 L386.1,415.9 L386.9,418.4 M402.9,416.3 L401.3,415.2 L399.4,414.7 L397.1,414.7 L394.9,415.3 L392.9,416.6 L391.3,418.4 L390.1,420.7 L389.6,423.3 L389.7,425.9 L390.4,428.5 M406.1,428.4 L404.8,427.5 L402.8,427.1 L400.3,427.3 L397.7,428.1 L395.2,429.6 L393.2,431.5 L391.8,433.9 L391.3,436.6 L391.5,439.2 L392.5,441.8 M407.3,441.0 L406.2,439.8 L404.6,439.1 L402.5,439.0 L400.1,439.5 L397.7,440.8 L395.6,442.6 L393.9,444.8 L392.9,447.4 L392.7,450.0 L393.5,452.4 M409.5,451.6 L408.2,450.6 L406.5,450.0 L404.5,450.0 L402.4,450.6 L400.5,451.9 L398.8,453.8 L397.5,456.2 L396.7,458.8 L396.6,461.6 L397.2,464.3 M413.7,464.6 L412.3,463.6 L410.3,463.0 L407.8,463.0 L405.3,463.6 L403.0,464.9 L401.1,466.6 L399.7,468.8 L399.1,471.3 L399.3,473.8 L400.1,476.3 M415.1,475.4 L414.0,474.1 L412.3,473.4" stroke="#8a8a8a" stroke-width="2.6"/><path d="M399.6,420.9 L400.6,423.2 M413.4,422.8 L412.3,421.9 L410.7,421.6 L408.8,421.8 L406.6,422.7 L404.6,424.1 L402.8,426.0 L401.5,428.3 L400.9,430.8 L401.1,433.3 L402.1,435.6 M415.6,433.7 L414.3,432.8 L412.7,432.3 L410.9,432.3 L409.1,432.9 L407.4,434.1 L406.0,435.8 L405.0,437.8 L404.6,440.2 L404.7,442.5 L405.4,444.8 M419.2,443.0 L417.8,442.1 L415.9,441.8 L413.8,442.1 L411.5,442.9 L409.5,444.3 L408.0,446.2 L407.0,448.5 L406.7,450.9 L407.2,453.4 L408.2,455.7 M420.9,455.3 L419.9,454.5 L418.4,454.0 L416.5,454.2 L414.4,455.0 L412.4,456.3 L410.7,458.2 L409.4,460.4 L408.7,462.9 L408.9,465.3 L409.8,467.5 M423.4,465.3 L422.1,464.3 L420.4,463.8 L418.6,463.9 L416.7,464.5 L415.1,465.7 L413.7,467.4 L412.8,469.5 L412.4,471.8 L412.5,474.2 L413.3,476.5" stroke="#8a8a8a" stroke-width="2.4"/><path d="M414.9,392.9 L415.7,395.4 M432.0,395.8 L431.0,394.5 L429.3,393.6 L427.0,393.3 L424.3,393.6 L421.5,394.6 L418.8,396.1 L416.6,398.2 L415.1,400.7 L414.5,403.3 L414.9,406.0 M432.9,408.5 L431.6,407.3 L429.8,406.6 L427.5,406.3 L425.1,406.7 L422.7,407.7 L420.5,409.2 L418.6,411.3 L417.3,413.8 L416.7,416.5 L416.9,419.2 M435.0,421.0 L433.7,419.6 L431.6,418.6 L428.9,418.1 L426.0,418.3 L423.1,419.0 L420.6,420.4 L418.6,422.3 L417.4,424.5 L417.1,427.1 L417.5,429.6 M434.3,431.9 L433.6,430.7 L431.9,429.8 L429.6,429.4 L426.8,429.6 L423.8,430.5 L420.9,432.0 L418.4,434.0 L416.8,436.5 L416.0,439.2 L416.3,441.9 M434.2,445.6 L433.3,444.3 L431.7,443.4 L429.7,442.8 L427.4,442.9 L424.9,443.5 L422.5,444.8 L420.3,446.7 L418.6,448.9 L417.6,451.4 L417.5,454.0 M436.3,456.5 L435.3,455.1 L433.4,454.0 L431.0,453.3 L428.3,453.3 L425.6,453.9 L423.1,455.1 L421.1,456.9 L419.8,459.2 L419.1,461.8 L419.1,464.4 M436.7,469.1 L436.1,467.8 L434.6,466.9 L432.2,466.3 L429.4,466.4 L426.3,467.0 L423.3,468.3 L420.8,470.2 L419.0,472.5 L418.1,475.1 L418.2,477.7 M435.7,481.8 L435.2,480.3 L434.0,479.1 L432.1,478.3 L429.8,478.1 L427.1,478.5 L424.4,479.5 L421.9,481.1 L419.9,483.2 L418.6,485.7 L418.2,488.2" stroke="#8a8a8a" stroke-width="2.7"/><path d="M434.0,400.4 L435.0,402.8 M451.3,403.1 L450.2,402.1 L448.4,401.5 L446.0,401.5 L443.3,402.2 L440.5,403.5 L438.0,405.5 L435.9,407.9 L434.7,410.5 L434.4,413.3 L435.2,416.0 M452.9,416.4 L451.5,415.2 L449.5,414.5 L447.2,414.4 L444.8,414.9 L442.5,416.0 L440.4,417.7 L438.7,419.8 L437.7,422.3 L437.4,424.9 L437.8,427.4 M455.7,426.6 L454.1,425.5 L451.8,424.9 L449.0,424.8 L446.1,425.4 L443.4,426.6 L441.2,428.4 L439.6,430.7 L438.8,433.2 L438.8,435.9 L439.7,438.6 M456.3,439.8 L455.2,438.7 L453.2,438.2 L450.7,438.1 L447.7,438.8 L444.7,440.0 L442.1,441.9 L440.0,444.2 L438.9,446.7 L438.7,449.4 L439.5,451.9 M456.6,451.5 L455.4,450.3 L453.6,449.5 L451.4,449.3 L449.0,449.7 L446.5,450.7 L444.2,452.4 L442.3,454.6 L441.1,457.1 L440.6,459.7 L441.0,462.3 M459.4,462.7 L457.9,461.7 L455.7,461.1 L453.1,461.1 L450.4,461.7 L448.0,463.0 L445.9,464.8 L444.4,467.1 L443.5,469.7 L443.4,472.4 L444.0,475.1" stroke="#8a8a8a" stroke-width="2.7"/><path d="M455.0,383.8 L455.7,386.5 M475.6,387.4 L473.9,386.4 L471.7,385.8 L469.0,385.7 L466.3,386.2 L463.7,387.3 L461.4,389.1 L459.6,391.2 L458.4,393.7 L458.0,396.4 L458.5,398.9 M478.1,398.2 L476.3,397.0 L473.8,396.3 L470.6,396.2 L467.3,396.7 L464.1,397.8 L461.5,399.5 L459.6,401.7 L458.7,404.3 L458.7,406.9 L459.6,409.5 M477.8,410.5 L476.6,409.5 L474.5,408.9 L471.7,408.9 L468.5,409.6 L465.2,410.9 L462.2,412.7 L459.9,415.1 L458.5,417.7 L458.2,420.5 L459.0,423.1 M478.2,423.2 L476.7,422.0 L474.7,421.2 L472.2,421.0 L469.6,421.4 L466.8,422.5 L464.3,424.1 L462.3,426.2 L460.9,428.7 L460.4,431.3 L460.8,433.8 M480.9,433.7 L479.2,432.6 L476.6,432.0 L473.7,432.0 L470.6,432.5 L467.7,433.8 L465.3,435.6 L463.6,437.9 L462.6,440.5 L462.5,443.2 L463.2,445.9 M482.0,447.2 L480.6,446.1 L478.2,445.4 L475.2,445.3 L471.8,445.9 L468.5,447.1 L465.5,448.8 L463.3,451.0 L462.0,453.5 L461.9,456.1 L462.8,458.6 M481.3,458.2 L480.0,457.0 L478.1,456.2 L475.6,455.9 L472.8,456.4 L469.8,457.5 L467.1,459.2 L464.8,461.4 L463.3,464.0 L462.7,466.7 L463.2,469.3" stroke="#8a8a8a" stroke-width="2.8"/><path d="M356.1,396.6 L358.1,397.1 M364.5,384.3 L363.3,385.0 L362.1,386.4 L361.1,388.3 L360.5,390.6 L360.3,393.0 L360.7,395.3 L361.5,397.2 L362.9,398.7 L364.6,399.6 L366.5,399.9 M371.7,388.3 L370.5,388.7 L369.4,389.6 L368.5,391.0 L367.9,392.9 L367.7,395.0 L368.0,397.1 L368.8,399.2 L370.0,400.9 L371.6,402.2 L373.4,402.8 M380.4,389.6 L379.2,390.2 L378.0,391.4 L377.1,393.2 L376.4,395.4 L376.2,397.7 L376.5,400.0 L377.4,402.0 L378.7,403.6 L380.5,404.7 L382.5,405.2 M389.8,394.3 L388.7,394.5 L387.7,395.3 L386.8,396.6 L386.2,398.5 L385.9,400.6 L386.1,402.9 L386.8,405.1 L387.9,407.0 L389.5,408.5 L391.3,409.2 M398.7,395.9 L397.4,396.2 L396.1,397.3 L395.0,398.8 L394.1,400.8 L393.7,403.0 L393.8,405.2 L394.4,407.2 L395.5,408.8 L397.0,410.0 L398.8,410.6" stroke="#8a8a8a" stroke-width="2.6"/><path d="M385.8,509.3 L387.1,510.6 M398.7,504.5 L397.4,504.2 L395.9,504.3 L394.3,505.0 L392.7,506.0 L391.3,507.5 L390.3,509.2 L389.8,511.0 L389.7,512.9 L390.3,514.5 L391.3,515.9 M403.5,510.2 L402.2,510.0 L400.5,510.3 L398.6,511.2 L396.7,512.6 L394.9,514.4 L393.5,516.4 L392.7,518.5 L392.6,520.5 L393.2,522.2 L394.4,523.6 M407.3,518.5 L406.1,518.3 L404.5,518.6 L402.9,519.3 L401.4,520.5 L400.0,522.0 L399.0,523.7 L398.5,525.6 L398.6,527.5 L399.1,529.3 L400.2,530.7" stroke="#8a8a8a" stroke-width="2.4"/><path d="M412.9,519.6 L414.3,520.4 M424.5,513.3 L423.4,513.3 L422.1,513.9 L420.8,514.9 L419.5,516.3 L418.4,518.0 L417.7,519.9 L417.4,521.8 L417.6,523.6 L418.3,525.1 L419.4,526.1 M430.6,517.6 L429.5,517.7 L427.9,518.3 L426.2,519.5 L424.5,521.1 L423.0,523.1 L421.9,525.2 L421.3,527.2 L421.3,529.0 L421.9,530.4 L423.1,531.3 M434.1,522.7 L432.9,522.7 L431.5,523.1 L430.0,524.1 L428.6,525.4 L427.4,526.9 L426.6,528.7 L426.2,530.5 L426.4,532.2" stroke="#8a8a8a" stroke-width="2.4"/><path d="M350.6,413.6 L351.9,416.0 M368.7,412.4 L367.2,411.4 L365.2,411.0 L363.0,411.2 L360.7,412.0 L358.5,413.5 L356.6,415.5 L355.2,417.9 L354.5,420.6 L354.5,423.2 L355.4,425.7 M373.5,422.8 L371.8,422.1 L369.5,421.9 L366.9,422.4 L364.3,423.4 L362.0,425.1 L360.2,427.2 L359.1,429.7 L358.7,432.5 L359.1,435.2 L360.2,437.7 M377.3,435.8 L375.9,434.8 L373.7,434.4 L371.1,434.7 L368.2,435.7 L365.4,437.3 L363.0,439.4 L361.4,441.8 L360.7,444.4 L360.9,446.9 L362.1,449.2 M378.8,446.4 L377.6,445.3 L375.8,444.8 L373.6,444.9 L371.3,445.7 L368.9,447.2 L366.7,449.3 L365.0,451.9 L364.0,454.7 L363.9,457.5 L364.7,460.0 M383.5,458.7 L382.0,457.8 L379.9,457.5 L377.6,457.7 L375.2,458.6 L373.0,460.0 L371.2,462.0 L369.9,464.4 L369.3,467.0 L369.3,469.7 L370.0,472.2 M387.9,469.8 L386.5,468.7 L384.3,468.2 L381.6,468.3 L378.7,469.1 L375.9,470.5 L373.6,472.4 L372.0,474.8 L371.3,477.3 L371.4,479.9 L372.5,482.3 M389.6,481.1 L388.6,480.1 L387.0,479.6 L384.8,479.7 L382.2,480.6 L379.6,482.1" stroke="#c4c4c4" stroke-width="1.8"/><path d="M368.0,396.3 L368.9,398.9 M386.6,397.7 L385.0,396.8 L382.6,396.6 L379.9,396.9 L377.0,397.9 L374.3,399.5 L372.1,401.5 L370.7,404.0 L370.2,406.6 L370.5,409.2 L371.6,411.6 M388.0,409.5 L386.8,408.3 L384.9,407.7 L382.5,407.7 L379.8,408.5 L377.1,409.8 L374.6,411.8 L372.8,414.2 L371.7,416.8 L371.6,419.4 L372.4,421.9 M390.4,420.8 L389.1,419.8 L387.3,419.3 L385.1,419.4 L382.9,420.2 L380.6,421.5 L378.7,423.5 L377.1,425.9 L376.2,428.6 L375.9,431.4 L376.5,434.1 M395.3,433.4 L393.8,432.4 L391.7,431.8 L389.0,431.8 L386.3,432.5 L383.7,433.7 L381.5,435.4 L380.0,437.6 L379.2,440.0 L379.2,442.6 L380.0,445.0 M397.2,443.9 L396.2,442.7 L394.4,442.0 L392.0,442.0 L389.2,442.6 L386.3,443.9 L383.7,445.8 L381.6,448.2 L380.4,450.8 L380.2,453.6 L380.9,456.2 M399.1,457.1 L398.1,456.0 L396.6,455.3 L394.6,455.2 L392.3,455.7 L390.0,456.8 L387.7,458.6 L385.7,460.9 L384.4,463.5 L383.7,466.2 L384.0,468.8 M403.3,468.4 L402.1,467.1 L400.1,466.3 L397.8,466.0 L395.2,466.3 L392.8,467.3 L390.7,468.8 L389.0,470.8 L388.0,473.2 L387.6,475.8 L387.9,478.4" stroke="#c4c4c4" stroke-width="1.8"/><path d="M383.5,403.6 L384.7,406.2 M399.7,405.9 L398.5,404.9 L396.9,404.3 L394.9,404.4 L392.7,405.1 L390.6,406.4 L388.6,408.3 L387.1,410.7 L386.2,413.3 L386.1,415.9 L386.9,418.4 M402.9,416.3 L401.3,415.2 L399.4,414.7 L397.1,414.7 L394.9,415.3 L392.9,416.6 L391.3,418.4 L390.1,420.7 L389.6,423.3 L389.7,425.9 L390.4,428.5 M406.1,428.4 L404.8,427.5 L402.8,427.1 L400.3,427.3 L397.7,428.1 L395.2,429.6 L393.2,431.5 L391.8,433.9 L391.3,436.6 L391.5,439.2 L392.5,441.8 M407.3,441.0 L406.2,439.8 L404.6,439.1 L402.5,439.0 L400.1,439.5 L397.7,440.8 L395.6,442.6 L393.9,444.8 L392.9,447.4 L392.7,450.0 L393.5,452.4 M409.5,451.6 L408.2,450.6 L406.5,450.0 L404.5,450.0 L402.4,450.6 L400.5,451.9 L398.8,453.8 L397.5,456.2 L396.7,458.8 L396.6,461.6 L397.2,464.3 M413.7,464.6 L412.3,463.6 L410.3,463.0 L407.8,463.0 L405.3,463.6 L403.0,464.9 L401.1,466.6 L399.7,468.8 L399.1,471.3 L399.3,473.8 L400.1,476.3 M415.1,475.4 L414.0,474.1 L412.3,473.4" stroke="#c4c4c4" stroke-width="1.7"/><path d="M399.6,420.9 L400.6,423.2 M413.4,422.8 L412.3,421.9 L410.7,421.6 L408.8,421.8 L406.6,422.7 L404.6,424.1 L402.8,426.0 L401.5,428.3 L400.9,430.8 L401.1,433.3 L402.1,435.6 M415.6,433.7 L414.3,432.8 L412.7,432.3 L410.9,432.3 L409.1,432.9 L407.4,434.1 L406.0,435.8 L405.0,437.8 L404.6,440.2 L404.7,442.5 L405.4,444.8 M419.2,443.0 L417.8,442.1 L415.9,441.8 L413.8,442.1 L411.5,442.9 L409.5,444.3 L408.0,446.2 L407.0,448.5 L406.7,450.9 L407.2,453.4 L408.2,455.7 M420.9,455.3 L419.9,454.5 L418.4,454.0 L416.5,454.2 L414.4,455.0 L412.4,456.3 L410.7,458.2 L409.4,460.4 L408.7,462.9 L408.9,465.3 L409.8,467.5 M423.4,465.3 L422.1,464.3 L420.4,463.8 L418.6,463.9 L416.7,464.5 L415.1,465.7 L413.7,467.4 L412.8,469.5 L412.4,471.8 L412.5,474.2 L413.3,476.5" stroke="#c4c4c4" stroke-width="1.5"/><path d="M414.9,392.9 L415.7,395.4 M432.0,395.8 L431.0,394.5 L429.3,393.6 L427.0,393.3 L424.3,393.6 L421.5,394.6 L418.8,396.1 L416.6,398.2 L415.1,400.7 L414.5,403.3 L414.9,406.0 M432.9,408.5 L431.6,407.3 L429.8,406.6 L427.5,406.3 L425.1,406.7 L422.7,407.7 L420.5,409.2 L418.6,411.3 L417.3,413.8 L416.7,416.5 L416.9,419.2 M435.0,421.0 L433.7,419.6 L431.6,418.6 L428.9,418.1 L426.0,418.3 L423.1,419.0 L420.6,420.4 L418.6,422.3 L417.4,424.5 L417.1,427.1 L417.5,429.6 M434.3,431.9 L433.6,430.7 L431.9,429.8 L429.6,429.4 L426.8,429.6 L423.8,430.5 L420.9,432.0 L418.4,434.0 L416.8,436.5 L416.0,439.2 L416.3,441.9 M434.2,445.6 L433.3,444.3 L431.7,443.4 L429.7,442.8 L427.4,442.9 L424.9,443.5 L422.5,444.8 L420.3,446.7 L418.6,448.9 L417.6,451.4 L417.5,454.0 M436.3,456.5 L435.3,455.1 L433.4,454.0 L431.0,453.3 L428.3,453.3 L425.6,453.9 L423.1,455.1 L421.1,456.9 L419.8,459.2 L419.1,461.8 L419.1,464.4 M436.7,469.1 L436.1,467.8 L434.6,466.9 L432.2,466.3 L429.4,466.4 L426.3,467.0 L423.3,468.3 L420.8,470.2 L419.0,472.5 L418.1,475.1 L418.2,477.7 M435.7,481.8 L435.2,480.3 L434.0,479.1 L432.1,478.3 L429.8,478.1 L427.1,478.5 L424.4,479.5 L421.9,481.1 L419.9,483.2 L418.6,485.7 L418.2,488.2" stroke="#c4c4c4" stroke-width="1.8"/><path d="M434.0,400.4 L435.0,402.8 M451.3,403.1 L450.2,402.1 L448.4,401.5 L446.0,401.5 L443.3,402.2 L440.5,403.5 L438.0,405.5 L435.9,407.9 L434.7,410.5 L434.4,413.3 L435.2,416.0 M452.9,416.4 L451.5,415.2 L449.5,414.5 L447.2,414.4 L444.8,414.9 L442.5,416.0 L440.4,417.7 L438.7,419.8 L437.7,422.3 L437.4,424.9 L437.8,427.4 M455.7,426.6 L454.1,425.5 L451.8,424.9 L449.0,424.8 L446.1,425.4 L443.4,426.6 L441.2,428.4 L439.6,430.7 L438.8,433.2 L438.8,435.9 L439.7,438.6 M456.3,439.8 L455.2,438.7 L453.2,438.2 L450.7,438.1 L447.7,438.8 L444.7,440.0 L442.1,441.9 L440.0,444.2 L438.9,446.7 L438.7,449.4 L439.5,451.9 M456.6,451.5 L455.4,450.3 L453.6,449.5 L451.4,449.3 L449.0,449.7 L446.5,450.7 L444.2,452.4 L442.3,454.6 L441.1,457.1 L440.6,459.7 L441.0,462.3 M459.4,462.7 L457.9,461.7 L455.7,461.1 L453.1,461.1 L450.4,461.7 L448.0,463.0 L445.9,464.8 L444.4,467.1 L443.5,469.7 L443.4,472.4 L444.0,475.1" stroke="#c4c4c4" stroke-width="1.8"/><path d="M455.0,383.8 L455.7,386.5 M475.6,387.4 L473.9,386.4 L471.7,385.8 L469.0,385.7 L466.3,386.2 L463.7,387.3 L461.4,389.1 L459.6,391.2 L458.4,393.7 L458.0,396.4 L458.5,398.9 M478.1,398.2 L476.3,397.0 L473.8,396.3 L470.6,396.2 L467.3,396.7 L464.1,397.8 L461.5,399.5 L459.6,401.7 L458.7,404.3 L458.7,406.9 L459.6,409.5 M477.8,410.5 L476.6,409.5 L474.5,408.9 L471.7,408.9 L468.5,409.6 L465.2,410.9 L462.2,412.7 L459.9,415.1 L458.5,417.7 L458.2,420.5 L459.0,423.1 M478.2,423.2 L476.7,422.0 L474.7,421.2 L472.2,421.0 L469.6,421.4 L466.8,422.5 L464.3,424.1 L462.3,426.2 L460.9,428.7 L460.4,431.3 L460.8,433.8 M480.9,433.7 L479.2,432.6 L476.6,432.0 L473.7,432.0 L470.6,432.5 L467.7,433.8 L465.3,435.6 L463.6,437.9 L462.6,440.5 L462.5,443.2 L463.2,445.9 M482.0,447.2 L480.6,446.1 L478.2,445.4 L475.2,445.3 L471.8,445.9 L468.5,447.1 L465.5,448.8 L463.3,451.0 L462.0,453.5 L461.9,456.1 L462.8,458.6 M481.3,458.2 L480.0,457.0 L478.1,456.2 L475.6,455.9 L472.8,456.4 L469.8,457.5 L467.1,459.2 L464.8,461.4 L463.3,464.0 L462.7,466.7 L463.2,469.3" stroke="#c4c4c4" stroke-width="1.9"/><path d="M356.1,396.6 L358.1,397.1 M364.5,384.3 L363.3,385.0 L362.1,386.4 L361.1,388.3 L360.5,390.6 L360.3,393.0 L360.7,395.3 L361.5,397.2 L362.9,398.7 L364.6,399.6 L366.5,399.9 M371.7,388.3 L370.5,388.7 L369.4,389.6 L368.5,391.0 L367.9,392.9 L367.7,395.0 L368.0,397.1 L368.8,399.2 L370.0,400.9 L371.6,402.2 L373.4,402.8 M380.4,389.6 L379.2,390.2 L378.0,391.4 L377.1,393.2 L376.4,395.4 L376.2,397.7 L376.5,400.0 L377.4,402.0 L378.7,403.6 L380.5,404.7 L382.5,405.2 M389.8,394.3 L388.7,394.5 L387.7,395.3 L386.8,396.6 L386.2,398.5 L385.9,400.6 L386.1,402.9 L386.8,405.1 L387.9,407.0 L389.5,408.5 L391.3,409.2 M398.7,395.9 L397.4,396.2 L396.1,397.3 L395.0,398.8 L394.1,400.8 L393.7,403.0 L393.8,405.2 L394.4,407.2 L395.5,408.8 L397.0,410.0 L398.8,410.6" stroke="#c4c4c4" stroke-width="1.7"/><path d="M385.8,509.3 L387.1,510.6 M398.7,504.5 L397.4,504.2 L395.9,504.3 L394.3,505.0 L392.7,506.0 L391.3,507.5 L390.3,509.2 L389.8,511.0 L389.7,512.9 L390.3,514.5 L391.3,515.9 M403.5,510.2 L402.2,510.0 L400.5,510.3 L398.6,511.2 L396.7,512.6 L394.9,514.4 L393.5,516.4 L392.7,518.5 L392.6,520.5 L393.2,522.2 L394.4,523.6 M407.3,518.5 L406.1,518.3 L404.5,518.6 L402.9,519.3 L401.4,520.5 L400.0,522.0 L399.0,523.7 L398.5,525.6 L398.6,527.5 L399.1,529.3 L400.2,530.7" stroke="#c4c4c4" stroke-width="1.5"/><path d="M412.9,519.6 L414.3,520.4 M424.5,513.3 L423.4,513.3 L422.1,513.9 L420.8,514.9 L419.5,516.3 L418.4,518.0 L417.7,519.9 L417.4,521.8 L417.6,523.6 L418.3,525.1 L419.4,526.1 M430.6,517.6 L429.5,517.7 L427.9,518.3 L426.2,519.5 L424.5,521.1 L423.0,523.1 L421.9,525.2 L421.3,527.2 L421.3,529.0 L421.9,530.4 L423.1,531.3 M434.1,522.7 L432.9,522.7 L431.5,523.1 L430.0,524.1 L428.6,525.4 L427.4,526.9 L426.6,528.7 L426.2,530.5 L426.4,532.2" stroke="#c4c4c4" stroke-width="1.5"/><path d="M351.9,416.0 L354.0,417.8 L356.8,419.1 L359.8,419.8 L362.8,419.8 L365.6,419.3 L367.7,418.2 L369.1,416.8 L369.8,415.3 L369.6,413.7 L368.7,412.4 M355.4,425.7 L357.1,427.7 L359.5,429.1 L362.4,429.9 L365.6,430.0 L368.7,429.4 L371.3,428.4 L373.3,427.0 L374.4,425.5 L374.4,424.0 L373.5,422.8 M360.2,437.7 L361.9,439.9 L364.1,441.5 L366.6,442.5 L369.3,442.9 L371.9,442.5 L374.3,441.6 L376.2,440.3 L377.4,438.7 L377.8,437.1 L377.3,435.8 M362.1,449.2 L364.1,451.2 L366.6,452.5 L369.4,453.3 L372.2,453.5 L374.8,453.1 L376.9,452.2 L378.4,450.9 L379.3,449.3 L379.4,447.8 L378.8,446.4 M364.7,460.0 L366.5,462.2 L369.0,463.8 L372.0,464.8 L375.3,465.1 L378.4,464.7 L381.1,463.9 L383.1,462.7 L384.2,461.3 L384.3,459.9 L383.5,458.7 M370.0,472.2 L371.5,474.4 L373.5,476.1 L376.0,477.1 L378.8,477.4 L381.7,477.0 L384.3,476.1 L386.4,474.6 L387.9,473.0 L388.4,471.3 L387.9,469.8 M372.5,482.3 L374.2,484.4 L376.5,486.0 L379.1,487.1 L381.7,487.5 L384.3,487.3 L386.5,486.6 L388.2,485.5 L389.4,484.0 L389.9,482.5 L389.6,481.1" stroke="#707070" stroke-width="4.5"/><path d="M351.9,416.0 L354.0,417.8 L356.8,419.1 L359.8,419.8 L362.8,419.8 L365.6,419.3 L367.7,418.2 L369.1,416.8 L369.8,415.3 L369.6,413.7 L368.7,412.4 M355.4,425.7 L357.1,427.7 L359.5,429.1 L362.4,429.9 L365.6,430.0 L368.7,429.4 L371.3,428.4 L373.3,427.0 L374.4,425.5 L374.4,424.0 L373.5,422.8 M360.2,437.7 L361.9,439.9 L364.1,441.5 L366.6,442.5 L369.3,442.9 L371.9,442.5 L374.3,441.6 L376.2,440.3 L377.4,438.7 L377.8,437.1 L377.3,435.8 M362.1,449.2 L364.1,451.2 L366.6,452.5 L369.4,453.3 L372.2,453.5 L374.8,453.1 L376.9,452.2 L378.4,450.9 L379.3,449.3 L379.4,447.8 L378.8,446.4 M364.7,460.0 L366.5,462.2 L369.0,463.8 L372.0,464.8 L375.3,465.1 L378.4,464.7 L381.1,463.9 L383.1,462.7 L384.2,461.3 L384.3,459.9 L383.5,458.7 M370.0,472.2 L371.5,474.4 L373.5,476.1 L376.0,477.1 L378.8,477.4 L381.7,477.0 L384.3,476.1 L386.4,474.6 L387.9,473.0 L388.4,471.3 L387.9,469.8 M372.5,482.3 L374.2,484.4 L376.5,486.0 L379.1,487.1 L381.7,487.5 L384.3,487.3 L386.5,486.6 L388.2,485.5 L389.4,484.0 L389.9,482.5 L389.6,481.1" stroke="#d0d0d0" stroke-width="3.2"/><path d="M351.9,416.0 L354.0,417.8 L356.8,419.1 L359.8,419.8 L362.8,419.8 L365.6,419.3 L367.7,418.2 L369.1,416.8 L369.8,415.3 L369.6,413.7 L368.7,412.4 M355.4,425.7 L357.1,427.7 L359.5,429.1 L362.4,429.9 L365.6,430.0 L368.7,429.4 L371.3,428.4 L373.3,427.0 L374.4,425.5 L374.4,424.0 L373.5,422.8 M360.2,437.7 L361.9,439.9 L364.1,441.5 L366.6,442.5 L369.3,442.9 L371.9,442.5 L374.3,441.6 L376.2,440.3 L377.4,438.7 L377.8,437.1 L377.3,435.8 M362.1,449.2 L364.1,451.2 L366.6,452.5 L369.4,453.3 L372.2,453.5 L374.8,453.1 L376.9,452.2 L378.4,450.9 L379.3,449.3 L379.4,447.8 L378.8,446.4 M364.7,460.0 L366.5,462.2 L369.0,463.8 L372.0,464.8 L375.3,465.1 L378.4,464.7 L381.1,463.9 L383.1,462.7 L384.2,461.3 L384.3,459.9 L383.5,458.7 M370.0,472.2 L371.5,474.4 L373.5,476.1 L376.0,477.1 L378.8,477.4 L381.7,477.0 L384.3,476.1 L386.4,474.6 L387.9,473.0 L388.4,471.3 L387.9,469.8 M372.5,482.3 L374.2,484.4 L376.5,486.0 L379.1,487.1 L381.7,487.5 L384.3,487.3 L386.5,486.6 L388.2,485.5 L389.4,484.0 L389.9,482.5 L389.6,481.1" stroke="#f4f4f4" stroke-width="1.4" transform="translate(0,-0.7)"/><path d="M368.9,398.9 L370.4,401.1 L372.6,402.8 L375.2,403.8 L378.1,404.2 L381.0,403.9 L383.6,403.0 L385.7,401.8 L386.9,400.3 L387.2,398.9 L386.6,397.7 M371.6,411.6 L373.4,413.7 L375.7,415.2 L378.3,416.2 L380.9,416.6 L383.3,416.3 L385.4,415.4 L387.1,414.1 L388.1,412.6 L388.4,411.0 L388.0,409.5 M372.4,421.9 L374.3,424.0 L376.8,425.6 L379.8,426.5 L382.9,426.9 L385.9,426.7 L388.3,425.9 L390.0,424.8 L391.0,423.4 L391.1,422.0 L390.4,420.8 M376.5,434.1 L377.9,436.5 L380.0,438.3 L382.7,439.5 L385.7,440.0 L388.8,439.8 L391.7,439.0 L393.9,437.8 L395.4,436.4 L395.8,434.8 L395.3,433.4 M380.0,445.0 L381.4,447.2 L383.3,448.9 L385.7,450.1 L388.2,450.6 L390.8,450.5 L393.2,449.8 L395.2,448.6 L396.6,447.1 L397.4,445.5 L397.2,443.9 M380.9,456.2 L382.5,458.5 L384.9,460.4 L387.7,461.7 L390.6,462.4 L393.4,462.5 L395.8,462.0 L397.7,461.1 L398.9,459.9 L399.4,458.5 L399.1,457.1 M384.0,468.8 L385.2,471.2 L387.2,473.1 L389.9,474.3 L393.0,474.9 L396.2,474.8 L399.2,474.1 L401.5,472.9 L403.1,471.4 L403.7,469.9 L403.3,468.4 M387.9,478.4 L389.0,480.8 L390.7,482.8 L392.9,484.2 L395.5,485.0 L398.3,485.2 L401.0,484.7 L403.4,483.7 L405.3,482.4 L406.4,480.9" stroke="#707070" stroke-width="4.5"/><path d="M368.9,398.9 L370.4,401.1 L372.6,402.8 L375.2,403.8 L378.1,404.2 L381.0,403.9 L383.6,403.0 L385.7,401.8 L386.9,400.3 L387.2,398.9 L386.6,397.7 M371.6,411.6 L373.4,413.7 L375.7,415.2 L378.3,416.2 L380.9,416.6 L383.3,416.3 L385.4,415.4 L387.1,414.1 L388.1,412.6 L388.4,411.0 L388.0,409.5 M372.4,421.9 L374.3,424.0 L376.8,425.6 L379.8,426.5 L382.9,426.9 L385.9,426.7 L388.3,425.9 L390.0,424.8 L391.0,423.4 L391.1,422.0 L390.4,420.8 M376.5,434.1 L377.9,436.5 L380.0,438.3 L382.7,439.5 L385.7,440.0 L388.8,439.8 L391.7,439.0 L393.9,437.8 L395.4,436.4 L395.8,434.8 L395.3,433.4 M380.0,445.0 L381.4,447.2 L383.3,448.9 L385.7,450.1 L388.2,450.6 L390.8,450.5 L393.2,449.8 L395.2,448.6 L396.6,447.1 L397.4,445.5 L397.2,443.9 M380.9,456.2 L382.5,458.5 L384.9,460.4 L387.7,461.7 L390.6,462.4 L393.4,462.5 L395.8,462.0 L397.7,461.1 L398.9,459.9 L399.4,458.5 L399.1,457.1 M384.0,468.8 L385.2,471.2 L387.2,473.1 L389.9,474.3 L393.0,474.9 L396.2,474.8 L399.2,474.1 L401.5,472.9 L403.1,471.4 L403.7,469.9 L403.3,468.4 M387.9,478.4 L389.0,480.8 L390.7,482.8 L392.9,484.2 L395.5,485.0 L398.3,485.2 L401.0,484.7 L403.4,483.7 L405.3,482.4 L406.4,480.9" stroke="#d0d0d0" stroke-width="3.2"/><path d="M368.9,398.9 L370.4,401.1 L372.6,402.8 L375.2,403.8 L378.1,404.2 L381.0,403.9 L383.6,403.0 L385.7,401.8 L386.9,400.3 L387.2,398.9 L386.6,397.7 M371.6,411.6 L373.4,413.7 L375.7,415.2 L378.3,416.2 L380.9,416.6 L383.3,416.3 L385.4,415.4 L387.1,414.1 L388.1,412.6 L388.4,411.0 L388.0,409.5 M372.4,421.9 L374.3,424.0 L376.8,425.6 L379.8,426.5 L382.9,426.9 L385.9,426.7 L388.3,425.9 L390.0,424.8 L391.0,423.4 L391.1,422.0 L390.4,420.8 M376.5,434.1 L377.9,436.5 L380.0,438.3 L382.7,439.5 L385.7,440.0 L388.8,439.8 L391.7,439.0 L393.9,437.8 L395.4,436.4 L395.8,434.8 L395.3,433.4 M380.0,445.0 L381.4,447.2 L383.3,448.9 L385.7,450.1 L388.2,450.6 L390.8,450.5 L393.2,449.8 L395.2,448.6 L396.6,447.1 L397.4,445.5 L397.2,443.9 M380.9,456.2 L382.5,458.5 L384.9,460.4 L387.7,461.7 L390.6,462.4 L393.4,462.5 L395.8,462.0 L397.7,461.1 L398.9,459.9 L399.4,458.5 L399.1,457.1 M384.0,468.8 L385.2,471.2 L387.2,473.1 L389.9,474.3 L393.0,474.9 L396.2,474.8 L399.2,474.1 L401.5,472.9 L403.1,471.4 L403.7,469.9 L403.3,468.4 M387.9,478.4 L389.0,480.8 L390.7,482.8 L392.9,484.2 L395.5,485.0 L398.3,485.2 L401.0,484.7 L403.4,483.7 L405.3,482.4 L406.4,480.9" stroke="#f4f4f4" stroke-width="1.4" transform="translate(0,-0.7)"/><path d="M384.7,406.2 L386.5,408.4 L388.8,410.1 L391.4,411.3 L394.0,411.8 L396.3,411.7 L398.2,411.0 L399.5,410.0 L400.2,408.6 L400.3,407.2 L399.7,405.9 M386.9,418.4 L388.4,420.4 L390.6,422.0 L393.3,423.0 L396.2,423.3 L398.9,422.9 L401.3,422.0 L402.9,420.7 L403.7,419.2 L403.7,417.7 L402.9,416.3 M390.4,428.5 L391.8,430.8 L393.6,432.6 L395.9,433.8 L398.4,434.4 L400.9,434.3 L403.2,433.6 L405.1,432.5 L406.3,431.1 L406.6,429.7 L406.1,428.4 M392.5,441.8 L394.2,444.0 L396.3,445.7 L398.6,446.9 L401.0,447.4 L403.2,447.3 L405.1,446.6 L406.5,445.5 L407.4,444.0 L407.7,442.4 L407.3,441.0 M393.5,452.4 L395.1,454.6 L397.4,456.2 L400.1,457.3 L402.9,457.7 L405.6,457.5 L407.8,456.8 L409.4,455.7 L410.2,454.3 L410.2,452.9 L409.5,451.6 M397.2,464.3 L398.4,466.7 L400.3,468.6 L402.7,469.9 L405.4,470.5 L408.2,470.5 L410.7,469.9 L412.6,468.8 L413.9,467.4 L414.2,465.9 L413.7,464.6 M400.1,476.3 L401.5,478.5 L403.3,480.2 L405.5,481.4 L407.8,482.0 L410.0,481.9 L412.1,481.2 L413.7,480.0 L414.9,478.5 L415.3,476.9 L415.1,475.4" stroke="#707070" stroke-width="4.3"/><path d="M384.7,406.2 L386.5,408.4 L388.8,410.1 L391.4,411.3 L394.0,411.8 L396.3,411.7 L398.2,411.0 L399.5,410.0 L400.2,408.6 L400.3,407.2 L399.7,405.9 M386.9,418.4 L388.4,420.4 L390.6,422.0 L393.3,423.0 L396.2,423.3 L398.9,422.9 L401.3,422.0 L402.9,420.7 L403.7,419.2 L403.7,417.7 L402.9,416.3 M390.4,428.5 L391.8,430.8 L393.6,432.6 L395.9,433.8 L398.4,434.4 L400.9,434.3 L403.2,433.6 L405.1,432.5 L406.3,431.1 L406.6,429.7 L406.1,428.4 M392.5,441.8 L394.2,444.0 L396.3,445.7 L398.6,446.9 L401.0,447.4 L403.2,447.3 L405.1,446.6 L406.5,445.5 L407.4,444.0 L407.7,442.4 L407.3,441.0 M393.5,452.4 L395.1,454.6 L397.4,456.2 L400.1,457.3 L402.9,457.7 L405.6,457.5 L407.8,456.8 L409.4,455.7 L410.2,454.3 L410.2,452.9 L409.5,451.6 M397.2,464.3 L398.4,466.7 L400.3,468.6 L402.7,469.9 L405.4,470.5 L408.2,470.5 L410.7,469.9 L412.6,468.8 L413.9,467.4 L414.2,465.9 L413.7,464.6 M400.1,476.3 L401.5,478.5 L403.3,480.2 L405.5,481.4 L407.8,482.0 L410.0,481.9 L412.1,481.2 L413.7,480.0 L414.9,478.5 L415.3,476.9 L415.1,475.4" stroke="#d0d0d0" stroke-width="3.0"/><path d="M384.7,406.2 L386.5,408.4 L388.8,410.1 L391.4,411.3 L394.0,411.8 L396.3,411.7 L398.2,411.0 L399.5,410.0 L400.2,408.6 L400.3,407.2 L399.7,405.9 M386.9,418.4 L388.4,420.4 L390.6,422.0 L393.3,423.0 L396.2,423.3 L398.9,422.9 L401.3,422.0 L402.9,420.7 L403.7,419.2 L403.7,417.7 L402.9,416.3 M390.4,428.5 L391.8,430.8 L393.6,432.6 L395.9,433.8 L398.4,434.4 L400.9,434.3 L403.2,433.6 L405.1,432.5 L406.3,431.1 L406.6,429.7 L406.1,428.4 M392.5,441.8 L394.2,444.0 L396.3,445.7 L398.6,446.9 L401.0,447.4 L403.2,447.3 L405.1,446.6 L406.5,445.5 L407.4,444.0 L407.7,442.4 L407.3,441.0 M393.5,452.4 L395.1,454.6 L397.4,456.2 L400.1,457.3 L402.9,457.7 L405.6,457.5 L407.8,456.8 L409.4,455.7 L410.2,454.3 L410.2,452.9 L409.5,451.6 M397.2,464.3 L398.4,466.7 L400.3,468.6 L402.7,469.9 L405.4,470.5 L408.2,470.5 L410.7,469.9 L412.6,468.8 L413.9,467.4 L414.2,465.9 L413.7,464.6 M400.1,476.3 L401.5,478.5 L403.3,480.2 L405.5,481.4 L407.8,482.0 L410.0,481.9 L412.1,481.2 L413.7,480.0 L414.9,478.5 L415.3,476.9 L415.1,475.4" stroke="#f4f4f4" stroke-width="1.4" transform="translate(0,-0.7)"/><path d="M400.6,423.2 L402.1,425.2 L403.9,426.8 L405.9,427.8 L408.0,428.3 L409.9,428.1 L411.6,427.5 L412.9,426.5 L413.7,425.2 L413.8,423.9 L413.4,422.8 M402.1,435.6 L403.8,437.5 L405.9,438.9 L408.4,439.7 L410.8,440.0 L413.0,439.7 L414.8,438.9 L416.0,437.7 L416.5,436.4 L416.4,435.0 L415.6,433.7 M405.4,444.8 L406.7,446.7 L408.5,448.1 L410.7,449.0 L413.0,449.3 L415.3,448.9 L417.4,448.1 L418.9,446.9 L419.8,445.5 L419.9,444.1 L419.2,443.0 M408.2,455.7 L409.7,457.7 L411.6,459.3 L413.7,460.4 L415.8,460.8 L417.7,460.7 L419.4,460.1 L420.6,459.1 L421.3,457.8 L421.4,456.5 L420.9,455.3 M409.8,467.5 L411.4,469.4 L413.5,470.8 L415.9,471.6 L418.4,471.8 L420.7,471.4 L422.6,470.5 L423.8,469.4 L424.4,468.0 L424.2,466.5 L423.4,465.3" stroke="#707070" stroke-width="4.1"/><path d="M400.6,423.2 L402.1,425.2 L403.9,426.8 L405.9,427.8 L408.0,428.3 L409.9,428.1 L411.6,427.5 L412.9,426.5 L413.7,425.2 L413.8,423.9 L413.4,422.8 M402.1,435.6 L403.8,437.5 L405.9,438.9 L408.4,439.7 L410.8,440.0 L413.0,439.7 L414.8,438.9 L416.0,437.7 L416.5,436.4 L416.4,435.0 L415.6,433.7 M405.4,444.8 L406.7,446.7 L408.5,448.1 L410.7,449.0 L413.0,449.3 L415.3,448.9 L417.4,448.1 L418.9,446.9 L419.8,445.5 L419.9,444.1 L419.2,443.0 M408.2,455.7 L409.7,457.7 L411.6,459.3 L413.7,460.4 L415.8,460.8 L417.7,460.7 L419.4,460.1 L420.6,459.1 L421.3,457.8 L421.4,456.5 L420.9,455.3 M409.8,467.5 L411.4,469.4 L413.5,470.8 L415.9,471.6 L418.4,471.8 L420.7,471.4 L422.6,470.5 L423.8,469.4 L424.4,468.0 L424.2,466.5 L423.4,465.3" stroke="#d0d0d0" stroke-width="2.8"/><path d="M400.6,423.2 L402.1,425.2 L403.9,426.8 L405.9,427.8 L408.0,428.3 L409.9,428.1 L411.6,427.5 L412.9,426.5 L413.7,425.2 L413.8,423.9 L413.4,422.8 M402.1,435.6 L403.8,437.5 L405.9,438.9 L408.4,439.7 L410.8,440.0 L413.0,439.7 L414.8,438.9 L416.0,437.7 L416.5,436.4 L416.4,435.0 L415.6,433.7 M405.4,444.8 L406.7,446.7 L408.5,448.1 L410.7,449.0 L413.0,449.3 L415.3,448.9 L417.4,448.1 L418.9,446.9 L419.8,445.5 L419.9,444.1 L419.2,443.0 M408.2,455.7 L409.7,457.7 L411.6,459.3 L413.7,460.4 L415.8,460.8 L417.7,460.7 L419.4,460.1 L420.6,459.1 L421.3,457.8 L421.4,456.5 L420.9,455.3 M409.8,467.5 L411.4,469.4 L413.5,470.8 L415.9,471.6 L418.4,471.8 L420.7,471.4 L422.6,470.5 L423.8,469.4 L424.4,468.0 L424.2,466.5 L423.4,465.3" stroke="#f4f4f4" stroke-width="1.3" transform="translate(0,-0.7)"/><path d="M415.7,395.4 L417.2,397.7 L419.3,399.6 L421.8,400.9 L424.3,401.6 L426.8,401.7 L429.0,401.2 L430.7,400.2 L431.8,398.9 L432.3,397.3 L432.0,395.8 M414.9,406.0 L416.3,408.4 L418.6,410.5 L421.4,412.0 L424.5,413.0 L427.5,413.3 L430.1,413.0 L432.1,412.3 L433.2,411.1 L433.5,409.8 L432.9,408.5 M416.9,419.2 L417.8,421.6 L419.5,423.7 L421.9,425.3 L424.7,426.2 L427.7,426.5 L430.5,426.1 L432.9,425.3 L434.6,424.0 L435.3,422.5 L435.0,421.0 M417.5,429.6 L418.7,432.0 L420.4,434.1 L422.6,435.6 L425.0,436.6 L427.5,437.0 L429.8,436.7 L431.9,436.0 L433.4,434.8 L434.3,433.4 L434.3,431.9 M416.3,441.9 L417.5,444.5 L419.6,446.7 L422.2,448.5 L425.1,449.7 L427.9,450.2 L430.5,450.1 L432.5,449.5 L433.8,448.4 L434.4,447.1 L434.2,445.6 M417.5,454.0 L418.2,456.5 L419.8,458.6 L422.2,460.2 L425.1,461.3 L428.3,461.7 L431.3,461.4 L433.8,460.7 L435.6,459.5 L436.5,458.0 L436.3,456.5 M419.1,464.4 L419.9,467.0 L421.3,469.3 L423.3,471.2 L425.6,472.5 L428.2,473.2 L430.9,473.2 L433.3,472.7 L435.2,471.7 L436.4,470.5 L436.7,469.1 M418.2,477.7 L419.2,480.3 L420.9,482.6 L423.2,484.5 L425.9,485.7 L428.5,486.4 L431.0,486.4 L433.0,485.8 L434.6,484.7 L435.5,483.3 L435.7,481.8" stroke="#707070" stroke-width="4.5"/><path d="M415.7,395.4 L417.2,397.7 L419.3,399.6 L421.8,400.9 L424.3,401.6 L426.8,401.7 L429.0,401.2 L430.7,400.2 L431.8,398.9 L432.3,397.3 L432.0,395.8 M414.9,406.0 L416.3,408.4 L418.6,410.5 L421.4,412.0 L424.5,413.0 L427.5,413.3 L430.1,413.0 L432.1,412.3 L433.2,411.1 L433.5,409.8 L432.9,408.5 M416.9,419.2 L417.8,421.6 L419.5,423.7 L421.9,425.3 L424.7,426.2 L427.7,426.5 L430.5,426.1 L432.9,425.3 L434.6,424.0 L435.3,422.5 L435.0,421.0 M417.5,429.6 L418.7,432.0 L420.4,434.1 L422.6,435.6 L425.0,436.6 L427.5,437.0 L429.8,436.7 L431.9,436.0 L433.4,434.8 L434.3,433.4 L434.3,431.9 M416.3,441.9 L417.5,444.5 L419.6,446.7 L422.2,448.5 L425.1,449.7 L427.9,450.2 L430.5,450.1 L432.5,449.5 L433.8,448.4 L434.4,447.1 L434.2,445.6 M417.5,454.0 L418.2,456.5 L419.8,458.6 L422.2,460.2 L425.1,461.3 L428.3,461.7 L431.3,461.4 L433.8,460.7 L435.6,459.5 L436.5,458.0 L436.3,456.5 M419.1,464.4 L419.9,467.0 L421.3,469.3 L423.3,471.2 L425.6,472.5 L428.2,473.2 L430.9,473.2 L433.3,472.7 L435.2,471.7 L436.4,470.5 L436.7,469.1 M418.2,477.7 L419.2,480.3 L420.9,482.6 L423.2,484.5 L425.9,485.7 L428.5,486.4 L431.0,486.4 L433.0,485.8 L434.6,484.7 L435.5,483.3 L435.7,481.8" stroke="#d0d0d0" stroke-width="3.2"/><path d="M415.7,395.4 L417.2,397.7 L419.3,399.6 L421.8,400.9 L424.3,401.6 L426.8,401.7 L429.0,401.2 L430.7,400.2 L431.8,398.9 L432.3,397.3 L432.0,395.8 M414.9,406.0 L416.3,408.4 L418.6,410.5 L421.4,412.0 L424.5,413.0 L427.5,413.3 L430.1,413.0 L432.1,412.3 L433.2,411.1 L433.5,409.8 L432.9,408.5 M416.9,419.2 L417.8,421.6 L419.5,423.7 L421.9,425.3 L424.7,426.2 L427.7,426.5 L430.5,426.1 L432.9,425.3 L434.6,424.0 L435.3,422.5 L435.0,421.0 M417.5,429.6 L418.7,432.0 L420.4,434.1 L422.6,435.6 L425.0,436.6 L427.5,437.0 L429.8,436.7 L431.9,436.0 L433.4,434.8 L434.3,433.4 L434.3,431.9 M416.3,441.9 L417.5,444.5 L419.6,446.7 L422.2,448.5 L425.1,449.7 L427.9,450.2 L430.5,450.1 L432.5,449.5 L433.8,448.4 L434.4,447.1 L434.2,445.6 M417.5,454.0 L418.2,456.5 L419.8,458.6 L422.2,460.2 L425.1,461.3 L428.3,461.7 L431.3,461.4 L433.8,460.7 L435.6,459.5 L436.5,458.0 L436.3,456.5 M419.1,464.4 L419.9,467.0 L421.3,469.3 L423.3,471.2 L425.6,472.5 L428.2,473.2 L430.9,473.2 L433.3,472.7 L435.2,471.7 L436.4,470.5 L436.7,469.1 M418.2,477.7 L419.2,480.3 L420.9,482.6 L423.2,484.5 L425.9,485.7 L428.5,486.4 L431.0,486.4 L433.0,485.8 L434.6,484.7 L435.5,483.3 L435.7,481.8" stroke="#f4f4f4" stroke-width="1.4" transform="translate(0,-0.7)"/><path d="M435.0,402.8 L436.7,405.1 L438.9,406.9 L441.4,408.1 L444.0,408.7 L446.5,408.8 L448.6,408.2 L450.3,407.2 L451.4,405.9 L451.7,404.4 L451.3,403.1 M435.2,416.0 L436.9,418.3 L439.4,420.2 L442.3,421.5 L445.5,422.1 L448.4,422.1 L450.9,421.6 L452.7,420.5 L453.6,419.2 L453.7,417.7 L452.9,416.4 M437.8,427.4 L439.1,429.6 L441.1,431.4 L443.7,432.5 L446.7,433.1 L449.7,432.9 L452.5,432.2 L454.7,431.0 L456.0,429.6 L456.4,428.0 L455.7,426.6 M439.7,438.6 L441.1,441.0 L443.1,442.9 L445.5,444.3 L448.0,445.1 L450.6,445.2 L452.9,444.8 L454.8,443.8 L456.1,442.5 L456.6,441.1 L456.3,439.8 M439.5,451.9 L441.3,454.2 L443.7,456.0 L446.5,457.2 L449.4,457.8 L452.1,457.7 L454.4,457.1 L456.1,456.0 L457.0,454.6 L457.2,453.0 L456.6,451.5 M441.0,462.3 L442.4,464.6 L444.6,466.4 L447.4,467.7 L450.5,468.3 L453.7,468.3 L456.5,467.8 L458.6,466.7 L459.9,465.4 L460.1,464.0 L459.4,462.7 M444.0,475.1 L445.2,477.5 L447.1,479.5 L449.4,480.9 L452.1,481.7 L454.8,481.8 L457.3,481.3 L459.5,480.3 L461.0,478.9 L461.6,477.4 L461.3,475.9" stroke="#707070" stroke-width="4.5"/><path d="M435.0,402.8 L436.7,405.1 L438.9,406.9 L441.4,408.1 L444.0,408.7 L446.5,408.8 L448.6,408.2 L450.3,407.2 L451.4,405.9 L451.7,404.4 L451.3,403.1 M435.2,416.0 L436.9,418.3 L439.4,420.2 L442.3,421.5 L445.5,422.1 L448.4,422.1 L450.9,421.6 L452.7,420.5 L453.6,419.2 L453.7,417.7 L452.9,416.4 M437.8,427.4 L439.1,429.6 L441.1,431.4 L443.7,432.5 L446.7,433.1 L449.7,432.9 L452.5,432.2 L454.7,431.0 L456.0,429.6 L456.4,428.0 L455.7,426.6 M439.7,438.6 L441.1,441.0 L443.1,442.9 L445.5,444.3 L448.0,445.1 L450.6,445.2 L452.9,444.8 L454.8,443.8 L456.1,442.5 L456.6,441.1 L456.3,439.8 M439.5,451.9 L441.3,454.2 L443.7,456.0 L446.5,457.2 L449.4,457.8 L452.1,457.7 L454.4,457.1 L456.1,456.0 L457.0,454.6 L457.2,453.0 L456.6,451.5 M441.0,462.3 L442.4,464.6 L444.6,466.4 L447.4,467.7 L450.5,468.3 L453.7,468.3 L456.5,467.8 L458.6,466.7 L459.9,465.4 L460.1,464.0 L459.4,462.7 M444.0,475.1 L445.2,477.5 L447.1,479.5 L449.4,480.9 L452.1,481.7 L454.8,481.8 L457.3,481.3 L459.5,480.3 L461.0,478.9 L461.6,477.4 L461.3,475.9" stroke="#d0d0d0" stroke-width="3.2"/><path d="M435.0,402.8 L436.7,405.1 L438.9,406.9 L441.4,408.1 L444.0,408.7 L446.5,408.8 L448.6,408.2 L450.3,407.2 L451.4,405.9 L451.7,404.4 L451.3,403.1 M435.2,416.0 L436.9,418.3 L439.4,420.2 L442.3,421.5 L445.5,422.1 L448.4,422.1 L450.9,421.6 L452.7,420.5 L453.6,419.2 L453.7,417.7 L452.9,416.4 M437.8,427.4 L439.1,429.6 L441.1,431.4 L443.7,432.5 L446.7,433.1 L449.7,432.9 L452.5,432.2 L454.7,431.0 L456.0,429.6 L456.4,428.0 L455.7,426.6 M439.7,438.6 L441.1,441.0 L443.1,442.9 L445.5,444.3 L448.0,445.1 L450.6,445.2 L452.9,444.8 L454.8,443.8 L456.1,442.5 L456.6,441.1 L456.3,439.8 M439.5,451.9 L441.3,454.2 L443.7,456.0 L446.5,457.2 L449.4,457.8 L452.1,457.7 L454.4,457.1 L456.1,456.0 L457.0,454.6 L457.2,453.0 L456.6,451.5 M441.0,462.3 L442.4,464.6 L444.6,466.4 L447.4,467.7 L450.5,468.3 L453.7,468.3 L456.5,467.8 L458.6,466.7 L459.9,465.4 L460.1,464.0 L459.4,462.7 M444.0,475.1 L445.2,477.5 L447.1,479.5 L449.4,480.9 L452.1,481.7 L454.8,481.8 L457.3,481.3 L459.5,480.3 L461.0,478.9 L461.6,477.4 L461.3,475.9" stroke="#f4f4f4" stroke-width="1.4" transform="translate(0,-0.7)"/><path d="M455.7,386.5 L457.4,388.9 L460.1,390.8 L463.4,392.1 L466.9,392.8 L470.2,392.9 L473.1,392.4 L475.2,391.4 L476.3,390.2 L476.4,388.8 L475.6,387.4 M458.5,398.9 L459.8,401.2 L462.0,403.0 L464.7,404.2 L467.9,404.7 L471.2,404.6 L474.2,403.9 L476.7,402.7 L478.2,401.2 L478.7,399.7 L478.1,398.2 M459.6,409.5 L461.2,411.8 L463.5,413.7 L466.1,415.1 L468.9,415.8 L471.6,416.0 L474.1,415.5 L476.2,414.5 L477.6,413.3 L478.1,411.9 L477.8,410.5 M459.0,423.1 L460.9,425.4 L463.6,427.3 L466.7,428.6 L470.1,429.2 L473.2,429.2 L475.8,428.6 L477.7,427.6 L478.7,426.2 L478.9,424.7 L478.2,423.2 M460.8,433.8 L462.2,436.1 L464.5,437.9 L467.5,439.1 L471.0,439.7 L474.4,439.6 L477.5,439.0 L479.9,437.9 L481.4,436.5 L481.7,435.1 L480.9,433.7 M463.2,445.9 L464.6,448.4 L466.7,450.4 L469.3,451.8 L472.1,452.6 L475.0,452.7 L477.8,452.3 L480.1,451.3 L481.6,450.0 L482.3,448.6 L482.0,447.2 M462.8,458.6 L464.6,460.9 L467.2,462.6 L470.1,463.8 L473.1,464.4 L476.0,464.4 L478.5,463.8 L480.3,462.7 L481.4,461.2 L481.7,459.7 L481.3,458.2 M463.2,469.3 L464.8,471.6 L467.4,473.5 L470.6,474.9 L474.1,475.6 L477.5,475.7 L480.6,475.2 L482.8,474.2 L484.1,473.0" stroke="#707070" stroke-width="4.7"/><path d="M455.7,386.5 L457.4,388.9 L460.1,390.8 L463.4,392.1 L466.9,392.8 L470.2,392.9 L473.1,392.4 L475.2,391.4 L476.3,390.2 L476.4,388.8 L475.6,387.4 M458.5,398.9 L459.8,401.2 L462.0,403.0 L464.7,404.2 L467.9,404.7 L471.2,404.6 L474.2,403.9 L476.7,402.7 L478.2,401.2 L478.7,399.7 L478.1,398.2 M459.6,409.5 L461.2,411.8 L463.5,413.7 L466.1,415.1 L468.9,415.8 L471.6,416.0 L474.1,415.5 L476.2,414.5 L477.6,413.3 L478.1,411.9 L477.8,410.5 M459.0,423.1 L460.9,425.4 L463.6,427.3 L466.7,428.6 L470.1,429.2 L473.2,429.2 L475.8,428.6 L477.7,427.6 L478.7,426.2 L478.9,424.7 L478.2,423.2 M460.8,433.8 L462.2,436.1 L464.5,437.9 L467.5,439.1 L471.0,439.7 L474.4,439.6 L477.5,439.0 L479.9,437.9 L481.4,436.5 L481.7,435.1 L480.9,433.7 M463.2,445.9 L464.6,448.4 L466.7,450.4 L469.3,451.8 L472.1,452.6 L475.0,452.7 L477.8,452.3 L480.1,451.3 L481.6,450.0 L482.3,448.6 L482.0,447.2 M462.8,458.6 L464.6,460.9 L467.2,462.6 L470.1,463.8 L473.1,464.4 L476.0,464.4 L478.5,463.8 L480.3,462.7 L481.4,461.2 L481.7,459.7 L481.3,458.2 M463.2,469.3 L464.8,471.6 L467.4,473.5 L470.6,474.9 L474.1,475.6 L477.5,475.7 L480.6,475.2 L482.8,474.2 L484.1,473.0" stroke="#d0d0d0" stroke-width="3.4"/><path d="M455.7,386.5 L457.4,388.9 L460.1,390.8 L463.4,392.1 L466.9,392.8 L470.2,392.9 L473.1,392.4 L475.2,391.4 L476.3,390.2 L476.4,388.8 L475.6,387.4 M458.5,398.9 L459.8,401.2 L462.0,403.0 L464.7,404.2 L467.9,404.7 L471.2,404.6 L474.2,403.9 L476.7,402.7 L478.2,401.2 L478.7,399.7 L478.1,398.2 M459.6,409.5 L461.2,411.8 L463.5,413.7 L466.1,415.1 L468.9,415.8 L471.6,416.0 L474.1,415.5 L476.2,414.5 L477.6,413.3 L478.1,411.9 L477.8,410.5 M459.0,423.1 L460.9,425.4 L463.6,427.3 L466.7,428.6 L470.1,429.2 L473.2,429.2 L475.8,428.6 L477.7,427.6 L478.7,426.2 L478.9,424.7 L478.2,423.2 M460.8,433.8 L462.2,436.1 L464.5,437.9 L467.5,439.1 L471.0,439.7 L474.4,439.6 L477.5,439.0 L479.9,437.9 L481.4,436.5 L481.7,435.1 L480.9,433.7 M463.2,445.9 L464.6,448.4 L466.7,450.4 L469.3,451.8 L472.1,452.6 L475.0,452.7 L477.8,452.3 L480.1,451.3 L481.6,450.0 L482.3,448.6 L482.0,447.2 M462.8,458.6 L464.6,460.9 L467.2,462.6 L470.1,463.8 L473.1,464.4 L476.0,464.4 L478.5,463.8 L480.3,462.7 L481.4,461.2 L481.7,459.7 L481.3,458.2 M463.2,469.3 L464.8,471.6 L467.4,473.5 L470.6,474.9 L474.1,475.6 L477.5,475.7 L480.6,475.2 L482.8,474.2 L484.1,473.0" stroke="#f4f4f4" stroke-width="1.5" transform="translate(0,-0.7)"/><path d="M358.1,397.1 L360.2,396.9 L362.1,396.0 L363.9,394.5 L365.4,392.6 L366.4,390.5 L366.9,388.3 L366.9,386.5 L366.5,385.1 L365.6,384.3 L364.5,384.3 M366.5,399.9 L368.5,399.5 L370.4,398.6 L372.1,397.2 L373.4,395.6 L374.2,393.8 L374.6,392.1 L374.4,390.5 L373.8,389.3 L372.9,388.6 L371.7,388.3 M373.4,402.8 L375.4,402.7 L377.4,401.8 L379.2,400.4 L380.7,398.5 L381.8,396.3 L382.5,394.2 L382.6,392.2 L382.2,390.7 L381.5,389.8 L380.4,389.6 M382.5,405.2 L384.6,405.1 L386.7,404.4 L388.5,403.3 L390.1,401.8 L391.1,400.2 L391.7,398.5 L391.9,396.9 L391.5,395.6 L390.8,394.7 L389.8,394.3 M391.3,409.2 L393.3,409.3 L395.3,408.6 L397.2,407.2 L398.8,405.4 L400.0,403.2 L400.7,401.0 L400.9,398.9 L400.5,397.3 L399.8,396.3 L398.7,395.9 M398.8,410.6 L400.8,410.7 L402.7,410.2 L404.5,409.2" stroke="#707070" stroke-width="4.3"/><path d="M358.1,397.1 L360.2,396.9 L362.1,396.0 L363.9,394.5 L365.4,392.6 L366.4,390.5 L366.9,388.3 L366.9,386.5 L366.5,385.1 L365.6,384.3 L364.5,384.3 M366.5,399.9 L368.5,399.5 L370.4,398.6 L372.1,397.2 L373.4,395.6 L374.2,393.8 L374.6,392.1 L374.4,390.5 L373.8,389.3 L372.9,388.6 L371.7,388.3 M373.4,402.8 L375.4,402.7 L377.4,401.8 L379.2,400.4 L380.7,398.5 L381.8,396.3 L382.5,394.2 L382.6,392.2 L382.2,390.7 L381.5,389.8 L380.4,389.6 M382.5,405.2 L384.6,405.1 L386.7,404.4 L388.5,403.3 L390.1,401.8 L391.1,400.2 L391.7,398.5 L391.9,396.9 L391.5,395.6 L390.8,394.7 L389.8,394.3 M391.3,409.2 L393.3,409.3 L395.3,408.6 L397.2,407.2 L398.8,405.4 L400.0,403.2 L400.7,401.0 L400.9,398.9 L400.5,397.3 L399.8,396.3 L398.7,395.9 M398.8,410.6 L400.8,410.7 L402.7,410.2 L404.5,409.2" stroke="#d0d0d0" stroke-width="3.0"/><path d="M358.1,397.1 L360.2,396.9 L362.1,396.0 L363.9,394.5 L365.4,392.6 L366.4,390.5 L366.9,388.3 L366.9,386.5 L366.5,385.1 L365.6,384.3 L364.5,384.3 M366.5,399.9 L368.5,399.5 L370.4,398.6 L372.1,397.2 L373.4,395.6 L374.2,393.8 L374.6,392.1 L374.4,390.5 L373.8,389.3 L372.9,388.6 L371.7,388.3 M373.4,402.8 L375.4,402.7 L377.4,401.8 L379.2,400.4 L380.7,398.5 L381.8,396.3 L382.5,394.2 L382.6,392.2 L382.2,390.7 L381.5,389.8 L380.4,389.6 M382.5,405.2 L384.6,405.1 L386.7,404.4 L388.5,403.3 L390.1,401.8 L391.1,400.2 L391.7,398.5 L391.9,396.9 L391.5,395.6 L390.8,394.7 L389.8,394.3 M391.3,409.2 L393.3,409.3 L395.3,408.6 L397.2,407.2 L398.8,405.4 L400.0,403.2 L400.7,401.0 L400.9,398.9 L400.5,397.3 L399.8,396.3 L398.7,395.9 M398.8,410.6 L400.8,410.7 L402.7,410.2 L404.5,409.2" stroke="#f4f4f4" stroke-width="1.4" transform="translate(0,-0.7)"/><path d="M387.1,510.6 L388.8,511.3 L391.0,511.6 L393.2,511.4 L395.4,510.8 L397.3,509.8 L398.7,508.6 L399.6,507.4 L399.9,506.2 L399.5,505.2 L398.7,504.5 M391.3,515.9 L392.8,516.9 L394.7,517.3 L396.7,517.3 L398.8,516.8 L400.8,515.8 L402.4,514.6 L403.6,513.3 L404.2,512.0 L404.2,510.9 L403.5,510.2 M394.4,523.6 L396.3,524.5 L398.5,524.9 L400.8,524.8 L403.2,524.2 L405.2,523.4 L406.8,522.3 L407.9,521.1 L408.3,520.0 L408.1,519.1 L407.3,518.5 M400.2,530.7 L401.7,531.7 L403.6,532.3 L405.6,532.4" stroke="#707070" stroke-width="4.1"/><path d="M387.1,510.6 L388.8,511.3 L391.0,511.6 L393.2,511.4 L395.4,510.8 L397.3,509.8 L398.7,508.6 L399.6,507.4 L399.9,506.2 L399.5,505.2 L398.7,504.5 M391.3,515.9 L392.8,516.9 L394.7,517.3 L396.7,517.3 L398.8,516.8 L400.8,515.8 L402.4,514.6 L403.6,513.3 L404.2,512.0 L404.2,510.9 L403.5,510.2 M394.4,523.6 L396.3,524.5 L398.5,524.9 L400.8,524.8 L403.2,524.2 L405.2,523.4 L406.8,522.3 L407.9,521.1 L408.3,520.0 L408.1,519.1 L407.3,518.5 M400.2,530.7 L401.7,531.7 L403.6,532.3 L405.6,532.4" stroke="#d0d0d0" stroke-width="2.8"/><path d="M387.1,510.6 L388.8,511.3 L391.0,511.6 L393.2,511.4 L395.4,510.8 L397.3,509.8 L398.7,508.6 L399.6,507.4 L399.9,506.2 L399.5,505.2 L398.7,504.5 M391.3,515.9 L392.8,516.9 L394.7,517.3 L396.7,517.3 L398.8,516.8 L400.8,515.8 L402.4,514.6 L403.6,513.3 L404.2,512.0 L404.2,510.9 L403.5,510.2 M394.4,523.6 L396.3,524.5 L398.5,524.9 L400.8,524.8 L403.2,524.2 L405.2,523.4 L406.8,522.3 L407.9,521.1 L408.3,520.0 L408.1,519.1 L407.3,518.5 M400.2,530.7 L401.7,531.7 L403.6,532.3 L405.6,532.4" stroke="#f4f4f4" stroke-width="1.3" transform="translate(0,-0.7)"/><path d="M414.3,520.4 L416.0,520.8 L418.0,520.7 L420.0,520.1 L421.8,519.2 L423.4,518.1 L424.6,516.8 L425.3,515.5 L425.5,514.5 L425.2,513.7 L424.5,513.3 M419.4,526.1 L421.0,526.6 L422.9,526.6 L424.9,526.0 L426.8,525.0 L428.6,523.6 L430.1,522.1 L431.1,520.5 L431.5,519.1 L431.4,518.1 L430.6,517.6 M423.1,531.3 L424.8,531.7 L426.7,531.5 L428.8,530.8 L430.9,529.7 L432.6,528.4 L434.0,526.9 L434.9,525.4 L435.1,524.2 L434.9,523.3 L434.1,522.7" stroke="#707070" stroke-width="4.1"/><path d="M414.3,520.4 L416.0,520.8 L418.0,520.7 L420.0,520.1 L421.8,519.2 L423.4,518.1 L424.6,516.8 L425.3,515.5 L425.5,514.5 L425.2,513.7 L424.5,513.3 M419.4,526.1 L421.0,526.6 L422.9,526.6 L424.9,526.0 L426.8,525.0 L428.6,523.6 L430.1,522.1 L431.1,520.5 L431.5,519.1 L431.4,518.1 L430.6,517.6 M423.1,531.3 L424.8,531.7 L426.7,531.5 L428.8,530.8 L430.9,529.7 L432.6,528.4 L434.0,526.9 L434.9,525.4 L435.1,524.2 L434.9,523.3 L434.1,522.7" stroke="#d0d0d0" stroke-width="2.8"/><path d="M414.3,520.4 L416.0,520.8 L418.0,520.7 L420.0,520.1 L421.8,519.2 L423.4,518.1 L424.6,516.8 L425.3,515.5 L425.5,514.5 L425.2,513.7 L424.5,513.3 M419.4,526.1 L421.0,526.6 L422.9,526.6 L424.9,526.0 L426.8,525.0 L428.6,523.6 L430.1,522.1 L431.1,520.5 L431.5,519.1 L431.4,518.1 L430.6,517.6 M423.1,531.3 L424.8,531.7 L426.7,531.5 L428.8,530.8 L430.9,529.7 L432.6,528.4 L434.0,526.9 L434.9,525.4 L435.1,524.2 L434.9,523.3 L434.1,522.7" stroke="#f4f4f4" stroke-width="1.3" transform="translate(0,-0.7)"/></g><path d="M412,236 L414,222 L411,214 L416,224 L413,240" stroke="#e0a870" stroke-width="3.2" fill="none" opacity="0.8"/><path d="M409,209 L411,216 L408,224 L411,232 L409,240 L411,246 M405,211 L414,208 L417,212 M406,226 L414,224 M405,243 L412,241 L417,246 M408,247 L414,248" stroke="#3a3ad8" stroke-width="1.2" fill="none"/><path d="M411,442 L416,439 L419,446 L414,450 L420,454 L417,459 L423,462 M412,448 L410,452 M418,441 L423,445 M415,455 L421,452" stroke="#1a1ab8" stroke-width="2" fill="none"/><path d="M425,420 L425,428 M426,431 L424,440" stroke="#40d8e0" stroke-width="1.2" fill="none"/><g fill="none" stroke-linecap="round" stroke-linejoin="round"><path d="M64.4,39.7 L78.0,48.0 L81.0,73.0 L98.6,85.0" stroke="#7c7c7c" stroke-width="7.2"/><path d="M55.0,48.4 L65.4,41.1" stroke="#900000" stroke-width="2.6"/><path d="M53.0,45.6 L63.4,38.3" stroke="#900000" stroke-width="2.6"/><path d="M78.0,48.0 L92.0,34.0" stroke="#b07a9a" stroke-width="7.2"/><path d="M98.6,85.0 L108.0,85.0 L119.0,100.0" stroke="#7c7c7c" stroke-width="7.2"/><path d="M119.0,100.0 L121.0,114.6" stroke="#b07a9a" stroke-width="7.2"/><path d="M121.0,114.6 L102.0,116.0 L95.0,100.0 L98.6,85.0" stroke="#7c7c7c" stroke-width="7.2"/><path d="M92.0,101.0 L104.0,108.0" stroke="#6e6e6e" stroke-width="5.4"/><path d="M225.8,62.8 L229.5,43.4 L242.4,48.0 L259.0,51.7 L264.6,75.8" stroke="#7c7c7c" stroke-width="7.2"/><path d="M242.4,48.0 L245.0,34.0" stroke="#7c7c7c" stroke-width="7.2"/><path d="M256.0,37.0 L259.0,51.7" stroke="#b07a9a" stroke-width="7.2"/><path d="M263.5,77.1 L274.6,86.3" stroke="#900000" stroke-width="2.6"/><path d="M265.7,74.5 L276.8,83.7" stroke="#900000" stroke-width="2.6"/><path d="M264.6,75.8 L257.0,91.8 L260.5,113.6" stroke="#b07a9a" stroke-width="7.2"/><path d="M260.5,113.6 L282.4,110.0" stroke="#7c7c7c" stroke-width="7.2"/><path d="M280.7,110.3 L284.0,127.3" stroke="#900000" stroke-width="2.6"/><path d="M284.1,109.7 L287.4,126.7" stroke="#900000" stroke-width="2.6"/><path d="M247.0,105.2 L257.0,108.6 L274.0,145.5" stroke="#6e6e6e" stroke-width="7.2"/><path d="M274.0,145.5 L270.6,150.6 L253.8,118.7 L247.0,105.2" stroke="#7c7c7c" stroke-width="7.2"/><path d="M274.0,147.0 L290.8,149.0" stroke="#7c7c7c" stroke-width="7.2"/><path d="M290.8,149.0 L295.8,123.7" stroke="#b07a9a" stroke-width="7.2"/><path d="M290.8,149.0 L294.0,174.0" stroke="#7c7c7c" stroke-width="7.2"/><path d="M292.3,173.9 L290.7,195.9" stroke="#900000" stroke-width="2.6"/><path d="M295.7,174.1 L294.1,196.1" stroke="#900000" stroke-width="2.6"/><path d="M227.7,123.4 L237.8,130.1" stroke="#900000" stroke-width="2.6"/><path d="M229.5,120.6 L239.6,127.3" stroke="#900000" stroke-width="2.6"/><path d="M238.7,128.7 L253.8,122.0" stroke="#7c7c7c" stroke-width="7.2"/><path d="M238.7,128.7 L240.3,145.5" stroke="#b07a9a" stroke-width="7.2"/><path d="M77.0,149.4 L99.0,148.0 L110.9,168.5 L112.4,194.5 L124.0,210.0" stroke="#7c7c7c" stroke-width="7.2"/><path d="M77.0,149.4 L74.0,165.6" stroke="#b07a9a" stroke-width="7.2"/><path d="M124.0,211.7 L131.5,211.7" stroke="#900000" stroke-width="2.6"/><path d="M124.0,208.3 L131.5,208.3" stroke="#900000" stroke-width="2.6"/><path d="M112.4,194.5 L99.0,208.0 L100.8,231.0" stroke="#b07a9a" stroke-width="7.2"/><path d="M100.8,231.0 L102.8,237.0 L91.2,252.5" stroke="#7c7c7c" stroke-width="7.2"/><path d="M77.6,241.0 L91.2,252.5" stroke="#6e6e6e" stroke-width="7.2"/><path d="M91.2,252.5 L72.0,254.5" stroke="#b07a9a" stroke-width="7.2"/><path d="M95.0,270.0 L104.0,266.0 L102.0,252.0" stroke="#b07a9a" stroke-width="5.4"/><path d="M101.8,238.4 L112.0,245.4" stroke="#900000" stroke-width="2.6"/><path d="M103.8,235.6 L114.0,242.6" stroke="#900000" stroke-width="2.6"/><path d="M13.2,259.6 L24.8,263.6" stroke="#900000" stroke-width="2.6"/><path d="M14.4,256.4 L26.0,260.4" stroke="#900000" stroke-width="2.6"/><path d="M25.4,262.0 L44.7,254.4 L50.5,233.0 L68.0,237.0 L66.0,266.0" stroke="#7c7c7c" stroke-width="7.2"/><path d="M44.7,254.4 L52.5,275.7 L66.0,266.0" stroke="#b07a9a" stroke-width="7.2"/><path d="M171.0,167.4 L181.0,190.6 L198.3,175.0" stroke="#7c7c7c" stroke-width="7.2"/><path d="M181.0,190.6 L186.7,217.6 L200.2,240.8" stroke="#7c7c7c" stroke-width="7.2"/><path d="M200.0,242.5 L215.5,244.5" stroke="#900000" stroke-width="2.6"/><path d="M200.4,239.1 L215.9,241.1" stroke="#900000" stroke-width="2.6"/><path d="M186.7,217.6 L175.0,225.4 L181.0,246.6" stroke="#b07a9a" stroke-width="7.2"/><path d="M180.3,248.2 L193.7,254.0" stroke="#900000" stroke-width="2.6"/><path d="M181.7,245.0 L195.1,250.8" stroke="#900000" stroke-width="2.6"/><path d="M173.2,210.0 L159.7,231.0 L163.5,258.2" stroke="#7c7c7c" stroke-width="7.2"/><path d="M163.5,258.2 L150.0,268.0" stroke="#b07a9a" stroke-width="7.2"/><path d="M147.0,219.6 L155.0,241.0" stroke="#6e6e6e" stroke-width="7.2"/><path d="M64.4,39.7 L78.0,48.0 L81.0,73.0 L98.6,85.0" stroke="#c6c6c6" stroke-width="5.8"/><path d="M55.0,48.4 L65.4,41.1" stroke="#e00000" stroke-width="1.7"/><path d="M53.0,45.6 L63.4,38.3" stroke="#e00000" stroke-width="1.7"/><path d="M78.0,48.0 L92.0,34.0" stroke="#e6a6cf" stroke-width="5.8"/><path d="M98.6,85.0 L108.0,85.0 L119.0,100.0" stroke="#c6c6c6" stroke-width="5.8"/><path d="M119.0,100.0 L121.0,114.6" stroke="#e6a6cf" stroke-width="5.8"/><path d="M121.0,114.6 L102.0,116.0 L95.0,100.0 L98.6,85.0" stroke="#c6c6c6" stroke-width="5.8"/><path d="M92.0,101.0 L104.0,108.0" stroke="#a0a0a0" stroke-width="4.0"/><path d="M225.8,62.8 L229.5,43.4 L242.4,48.0 L259.0,51.7 L264.6,75.8" stroke="#c6c6c6" stroke-width="5.8"/><path d="M242.4,48.0 L245.0,34.0" stroke="#c6c6c6" stroke-width="5.8"/><path d="M256.0,37.0 L259.0,51.7" stroke="#e6a6cf" stroke-width="5.8"/><path d="M263.5,77.1 L274.6,86.3" stroke="#e00000" stroke-width="1.7"/><path d="M265.7,74.5 L276.8,83.7" stroke="#e00000" stroke-width="1.7"/><path d="M264.6,75.8 L257.0,91.8 L260.5,113.6" stroke="#e6a6cf" stroke-width="5.8"/><path d="M260.5,113.6 L282.4,110.0" stroke="#c6c6c6" stroke-width="5.8"/><path d="M280.7,110.3 L284.0,127.3" stroke="#e00000" stroke-width="1.7"/><path d="M284.1,109.7 L287.4,126.7" stroke="#e00000" stroke-width="1.7"/><path d="M247.0,105.2 L257.0,108.6 L274.0,145.5" stroke="#a0a0a0" stroke-width="5.8"/><path d="M274.0,145.5 L270.6,150.6 L253.8,118.7 L247.0,105.2" stroke="#c6c6c6" stroke-width="5.8"/><path d="M274.0,147.0 L290.8,149.0" stroke="#c6c6c6" stroke-width="5.8"/><path d="M290.8,149.0 L295.8,123.7" stroke="#e6a6cf" stroke-width="5.8"/><path d="M290.8,149.0 L294.0,174.0" stroke="#c6c6c6" stroke-width="5.8"/><path d="M292.3,173.9 L290.7,195.9" stroke="#e00000" stroke-width="1.7"/><path d="M295.7,174.1 L294.1,196.1" stroke="#e00000" stroke-width="1.7"/><path d="M227.7,123.4 L237.8,130.1" stroke="#e00000" stroke-width="1.7"/><path d="M229.5,120.6 L239.6,127.3" stroke="#e00000" stroke-width="1.7"/><path d="M238.7,128.7 L253.8,122.0" stroke="#c6c6c6" stroke-width="5.8"/><path d="M238.7,128.7 L240.3,145.5" stroke="#e6a6cf" stroke-width="5.8"/><path d="M77.0,149.4 L99.0,148.0 L110.9,168.5 L112.4,194.5 L124.0,210.0" stroke="#c6c6c6" stroke-width="5.8"/><path d="M77.0,149.4 L74.0,165.6" stroke="#e6a6cf" stroke-width="5.8"/><path d="M124.0,211.7 L131.5,211.7" stroke="#e00000" stroke-width="1.7"/><path d="M124.0,208.3 L131.5,208.3" stroke="#e00000" stroke-width="1.7"/><path d="M112.4,194.5 L99.0,208.0 L100.8,231.0" stroke="#e6a6cf" stroke-width="5.8"/><path d="M100.8,231.0 L102.8,237.0 L91.2,252.5" stroke="#c6c6c6" stroke-width="5.8"/><path d="M77.6,241.0 L91.2,252.5" stroke="#a0a0a0" stroke-width="5.8"/><path d="M91.2,252.5 L72.0,254.5" stroke="#e6a6cf" stroke-width="5.8"/><path d="M95.0,270.0 L104.0,266.0 L102.0,252.0" stroke="#e6a6cf" stroke-width="4.0"/><path d="M101.8,238.4 L112.0,245.4" stroke="#e00000" stroke-width="1.7"/><path d="M103.8,235.6 L114.0,242.6" stroke="#e00000" stroke-width="1.7"/><path d="M13.2,259.6 L24.8,263.6" stroke="#e00000" stroke-width="1.7"/><path d="M14.4,256.4 L26.0,260.4" stroke="#e00000" stroke-width="1.7"/><path d="M25.4,262.0 L44.7,254.4 L50.5,233.0 L68.0,237.0 L66.0,266.0" stroke="#c6c6c6" stroke-width="5.8"/><path d="M44.7,254.4 L52.5,275.7 L66.0,266.0" stroke="#e6a6cf" stroke-width="5.8"/><path d="M171.0,167.4 L181.0,190.6 L198.3,175.0" stroke="#c6c6c6" stroke-width="5.8"/><path d="M181.0,190.6 L186.7,217.6 L200.2,240.8" stroke="#c6c6c6" stroke-width="5.8"/><path d="M200.0,242.5 L215.5,244.5" stroke="#e00000" stroke-width="1.7"/><path d="M200.4,239.1 L215.9,241.1" stroke="#e00000" stroke-width="1.7"/><path d="M186.7,217.6 L175.0,225.4 L181.0,246.6" stroke="#e6a6cf" stroke-width="5.8"/><path d="M180.3,248.2 L193.7,254.0" stroke="#e00000" stroke-width="1.7"/><path d="M181.7,245.0 L195.1,250.8" stroke="#e00000" stroke-width="1.7"/><path d="M173.2,210.0 L159.7,231.0 L163.5,258.2" stroke="#c6c6c6" stroke-width="5.8"/><path d="M163.5,258.2 L150.0,268.0" stroke="#e6a6cf" stroke-width="5.8"/><path d="M147.0,219.6 L155.0,241.0" stroke="#a0a0a0" stroke-width="5.8"/><path d="M64.4,39.7 L78.0,48.0 L81.0,73.0 L98.6,85.0" stroke="#f2f2f2" stroke-width="1.7"/><path d="M78.0,48.0 L92.0,34.0" stroke="#f6d0e8" stroke-width="1.7"/><path d="M98.6,85.0 L108.0,85.0 L119.0,100.0" stroke="#f2f2f2" stroke-width="1.7"/><path d="M119.0,100.0 L121.0,114.6" stroke="#f6d0e8" stroke-width="1.7"/><path d="M121.0,114.6 L102.0,116.0 L95.0,100.0 L98.6,85.0" stroke="#f2f2f2" stroke-width="1.7"/><path d="M92.0,101.0 L104.0,108.0" stroke="#c8c8c8" stroke-width="1.2"/><path d="M225.8,62.8 L229.5,43.4 L242.4,48.0 L259.0,51.7 L264.6,75.8" stroke="#f2f2f2" stroke-width="1.7"/><path d="M242.4,48.0 L245.0,34.0" stroke="#f2f2f2" stroke-width="1.7"/><path d="M256.0,37.0 L259.0,51.7" stroke="#f6d0e8" stroke-width="1.7"/><path d="M264.6,75.8 L257.0,91.8 L260.5,113.6" stroke="#f6d0e8" stroke-width="1.7"/><path d="M260.5,113.6 L282.4,110.0" stroke="#f2f2f2" stroke-width="1.7"/><path d="M247.0,105.2 L257.0,108.6 L274.0,145.5" stroke="#c8c8c8" stroke-width="1.7"/><path d="M274.0,145.5 L270.6,150.6 L253.8,118.7 L247.0,105.2" stroke="#f2f2f2" stroke-width="1.7"/><path d="M274.0,147.0 L290.8,149.0" stroke="#f2f2f2" stroke-width="1.7"/><path d="M290.8,149.0 L295.8,123.7" stroke="#f6d0e8" stroke-width="1.7"/><path d="M290.8,149.0 L294.0,174.0" stroke="#f2f2f2" stroke-width="1.7"/><path d="M238.7,128.7 L253.8,122.0" stroke="#f2f2f2" stroke-width="1.7"/><path d="M238.7,128.7 L240.3,145.5" stroke="#f6d0e8" stroke-width="1.7"/><path d="M77.0,149.4 L99.0,148.0 L110.9,168.5 L112.4,194.5 L124.0,210.0" stroke="#f2f2f2" stroke-width="1.7"/><path d="M77.0,149.4 L74.0,165.6" stroke="#f6d0e8" stroke-width="1.7"/><path d="M112.4,194.5 L99.0,208.0 L100.8,231.0" stroke="#f6d0e8" stroke-width="1.7"/><path d="M100.8,231.0 L102.8,237.0 L91.2,252.5" stroke="#f2f2f2" stroke-width="1.7"/><path d="M77.6,241.0 L91.2,252.5" stroke="#c8c8c8" stroke-width="1.7"/><path d="M91.2,252.5 L72.0,254.5" stroke="#f6d0e8" stroke-width="1.7"/><path d="M95.0,270.0 L104.0,266.0 L102.0,252.0" stroke="#f6d0e8" stroke-width="1.2"/><path d="M25.4,262.0 L44.7,254.4 L50.5,233.0 L68.0,237.0 L66.0,266.0" stroke="#f2f2f2" stroke-width="1.7"/><path d="M44.7,254.4 L52.5,275.7 L66.0,266.0" stroke="#f6d0e8" stroke-width="1.7"/><path d="M171.0,167.4 L181.0,190.6 L198.3,175.0" stroke="#f2f2f2" stroke-width="1.7"/><path d="M181.0,190.6 L186.7,217.6 L200.2,240.8" stroke="#f2f2f2" stroke-width="1.7"/><path d="M186.7,217.6 L175.0,225.4 L181.0,246.6" stroke="#f6d0e8" stroke-width="1.7"/><path d="M173.2,210.0 L159.7,231.0 L163.5,258.2" stroke="#f2f2f2" stroke-width="1.7"/><path d="M163.5,258.2 L150.0,268.0" stroke="#f6d0e8" stroke-width="1.7"/><path d="M147.0,219.6 L155.0,241.0" stroke="#c8c8c8" stroke-width="1.7"/></g><path d="M79.0,85.0 L69.0,124.0" fill="none" stroke="#707070" stroke-width="1.3" stroke-dasharray="3,3"/><path d="M94.0,94.0 L85.6,127.5" fill="none" stroke="#707070" stroke-width="1.3" stroke-dasharray="3,3"/><path d="M98.6,127.5 L95.0,144.0" fill="none" stroke="#707070" stroke-width="1.3" stroke-dasharray="3,3"/><path d="M224.0,70.0 L212.8,111.0" fill="none" stroke="#707070" stroke-width="1.3" stroke-dasharray="3,3"/><path d="M240.6,109.0 L211.0,124.0" fill="none" stroke="#707070" stroke-width="1.3" stroke-dasharray="3,3"/><path d="M71.8,188.7 L68.0,231.0" fill="none" stroke="#707070" stroke-width="1.3" stroke-dasharray="3,3"/><path d="M131.8,179.0 L143.4,212.0" fill="none" stroke="#707070" stroke-width="1.3" stroke-dasharray="3,3"/><path d="M163.5,155.8 L173.2,208.0" fill="none" stroke="#707070" stroke-width="1.3" stroke-dasharray="3,3"/><g fill="none" stroke-linecap="round" stroke-linejoin="round"><path d="M66.8,130.3 L81.5,124.4 L90.3,142.0 L105.0,143.5" stroke="#00006e" stroke-width="7.6"/><path d="M69.7,139.0 L72.6,145.0" stroke="#a00000" stroke-width="7.6"/><path d="M66.8,130.3 L69.7,139.0" stroke="#00006e" stroke-width="7.6"/><path d="M106.5,124.4 L124.0,120.0 L137.4,139.0 L122.6,152.4 L106.5,143.5 L106.5,124.4" stroke="#00006e" stroke-width="7.6"/><path d="M99.0,118.5 L106.5,124.4" stroke="#a00000" stroke-width="7.6"/><path d="M122.6,152.4 L119.7,168.5 L110.9,171.5" stroke="#00006e" stroke-width="7.6"/><path d="M119.7,168.5 L127.0,177.4" stroke="#00006e" stroke-width="7.6"/><path d="M127.0,180.0 L128.5,192.0" stroke="#a00000" stroke-width="7.6"/><path d="M138.8,117.0 L131.5,171.5" stroke="#00006e" stroke-width="7.6"/><path d="M137.4,139.0 L158.0,134.7 L163.8,150.9 L152.0,159.7 L137.4,146.5" stroke="#00006e" stroke-width="7.6"/><path d="M147.6,128.8 L162.4,137.6" stroke="#00006e" stroke-width="7.6"/><path d="M158.0,134.7 L175.6,117.0 L191.8,131.8 L210.9,124.4 L210.9,111.2" stroke="#00006e" stroke-width="7.6"/><path d="M190.1,135.9 L188.6,155.2" stroke="#900000" stroke-width="2.6"/><path d="M193.5,136.1 L192.0,155.4" stroke="#900000" stroke-width="2.6"/><path d="M205.0,130.0 L213.8,158.2" stroke="#00006e" stroke-width="7.6"/><path d="M215.7,159.9 L223.7,161.4" stroke="#900000" stroke-width="2.6"/><path d="M216.3,156.5 L224.3,158.0" stroke="#900000" stroke-width="2.6"/><path d="M211.0,165.0 L205.0,180.3" stroke="#a00000" stroke-width="7.6"/><path d="M72.6,181.8 L84.4,159.7" stroke="#00006e" stroke-width="7.6"/><path d="M84.4,171.5 L88.8,153.8" stroke="#00006e" stroke-width="7.6"/><path d="M103.5,171.5 L102.0,156.8" stroke="#00006e" stroke-width="7.6"/><path d="M66.8,130.3 L81.5,124.4 L90.3,142.0 L105.0,143.5" stroke="#1212cc" stroke-width="6.2"/><path d="M69.7,139.0 L72.6,145.0" stroke="#e00000" stroke-width="6.2"/><path d="M66.8,130.3 L69.7,139.0" stroke="#1212cc" stroke-width="6.2"/><path d="M106.5,124.4 L124.0,120.0 L137.4,139.0 L122.6,152.4 L106.5,143.5 L106.5,124.4" stroke="#1212cc" stroke-width="6.2"/><path d="M99.0,118.5 L106.5,124.4" stroke="#e00000" stroke-width="6.2"/><path d="M122.6,152.4 L119.7,168.5 L110.9,171.5" stroke="#1212cc" stroke-width="6.2"/><path d="M119.7,168.5 L127.0,177.4" stroke="#1212cc" stroke-width="6.2"/><path d="M127.0,180.0 L128.5,192.0" stroke="#e00000" stroke-width="6.2"/><path d="M138.8,117.0 L131.5,171.5" stroke="#1212cc" stroke-width="6.2"/><path d="M137.4,139.0 L158.0,134.7 L163.8,150.9 L152.0,159.7 L137.4,146.5" stroke="#1212cc" stroke-width="6.2"/><path d="M147.6,128.8 L162.4,137.6" stroke="#1212cc" stroke-width="6.2"/><path d="M158.0,134.7 L175.6,117.0 L191.8,131.8 L210.9,124.4 L210.9,111.2" stroke="#1212cc" stroke-width="6.2"/><path d="M190.1,135.9 L188.6,155.2" stroke="#e00000" stroke-width="1.7"/><path d="M193.5,136.1 L192.0,155.4" stroke="#e00000" stroke-width="1.7"/><path d="M205.0,130.0 L213.8,158.2" stroke="#1212cc" stroke-width="6.2"/><path d="M215.7,159.9 L223.7,161.4" stroke="#e00000" stroke-width="1.7"/><path d="M216.3,156.5 L224.3,158.0" stroke="#e00000" stroke-width="1.7"/><path d="M211.0,165.0 L205.0,180.3" stroke="#e00000" stroke-width="6.2"/><path d="M72.6,181.8 L84.4,159.7" stroke="#1212cc" stroke-width="6.2"/><path d="M84.4,171.5 L88.8,153.8" stroke="#1212cc" stroke-width="6.2"/><path d="M103.5,171.5 L102.0,156.8" stroke="#1212cc" stroke-width="6.2"/><path d="M66.8,130.3 L81.5,124.4 L90.3,142.0 L105.0,143.5" stroke="#3434ee" stroke-width="1.9"/><path d="M69.7,139.0 L72.6,145.0" stroke="#ff4040" stroke-width="1.9"/><path d="M66.8,130.3 L69.7,139.0" stroke="#3434ee" stroke-width="1.9"/><path d="M106.5,124.4 L124.0,120.0 L137.4,139.0 L122.6,152.4 L106.5,143.5 L106.5,124.4" stroke="#3434ee" stroke-width="1.9"/><path d="M99.0,118.5 L106.5,124.4" stroke="#ff4040" stroke-width="1.9"/><path d="M122.6,152.4 L119.7,168.5 L110.9,171.5" stroke="#3434ee" stroke-width="1.9"/><path d="M119.7,168.5 L127.0,177.4" stroke="#3434ee" stroke-width="1.9"/><path d="M127.0,180.0 L128.5,192.0" stroke="#ff4040" stroke-width="1.9"/><path d="M138.8,117.0 L131.5,171.5" stroke="#3434ee" stroke-width="1.9"/><path d="M137.4,139.0 L158.0,134.7 L163.8,150.9 L152.0,159.7 L137.4,146.5" stroke="#3434ee" stroke-width="1.9"/><path d="M147.6,128.8 L162.4,137.6" stroke="#3434ee" stroke-width="1.9"/><path d="M158.0,134.7 L175.6,117.0 L191.8,131.8 L210.9,124.4 L210.9,111.2" stroke="#3434ee" stroke-width="1.9"/><path d="M205.0,130.0 L213.8,158.2" stroke="#3434ee" stroke-width="1.9"/><path d="M211.0,165.0 L205.0,180.3" stroke="#ff4040" stroke-width="1.9"/><path d="M72.6,181.8 L84.4,159.7" stroke="#3434ee" stroke-width="1.9"/><path d="M84.4,171.5 L88.8,153.8" stroke="#3434ee" stroke-width="1.9"/><path d="M103.5,171.5 L102.0,156.8" stroke="#3434ee" stroke-width="1.9"/></g><path d="M224.0,159.7 L240.6,144.0" fill="none" stroke="#1a1ad0" stroke-width="1.2"/><path d="M128.0,192.5 L106.6,235.0" fill="none" stroke="#1a1ad0" stroke-width="1.2"/><text x="63.2" y="62.6" font-size="16.4" font-weight="bold" stroke="#000" stroke-width="0.45" font-family='"Liberation Sans", sans-serif' textLength="33.6" lengthAdjust="spacingAndGlyphs">TRP388</text><text x="228.8" y="73.8" font-size="17.8" font-weight="bold" stroke="#000" stroke-width="0.45" font-family='"Liberation Sans", sans-serif' textLength="29.0" lengthAdjust="spacingAndGlyphs">ILE287</text><text x="259.2" y="104.8" font-size="16.4" font-weight="bold" stroke="#000" stroke-width="0.45" font-family='"Liberation Sans", sans-serif' textLength="34.6" lengthAdjust="spacingAndGlyphs">ASN288</text><text x="252.6" y="168.2" font-size="17.3" font-weight="bold" stroke="#000" stroke-width="0.45" font-family='"Liberation Sans", sans-serif' textLength="34.4" lengthAdjust="spacingAndGlyphs">PHE291</text><text x="80.7" y="196.2" font-size="18.4" font-weight="bold" stroke="#000" stroke-width="0.45" font-family='"Liberation Sans", sans-serif' textLength="34.5" lengthAdjust="spacingAndGlyphs">GLN161</text><text x="182.1" y="211.6" font-size="18.5" font-weight="bold" stroke="#000" stroke-width="0.45" font-family='"Liberation Sans", sans-serif' textLength="34.4" lengthAdjust="spacingAndGlyphs">VAL165</text><text x="19.8" y="245.5" font-size="18.8" font-weight="bold" stroke="#000" stroke-width="0.45" font-family='"Liberation Sans", sans-serif' textLength="35.4" lengthAdjust="spacingAndGlyphs">PRO141</text><text x="94.2" y="261.8" font-size="17.0" font-weight="bold" stroke="#000" stroke-width="0.45" font-family='"Liberation Sans", sans-serif' textLength="30.6" lengthAdjust="spacingAndGlyphs">HIS160</text><text x="147.2" y="258.0" font-size="17.1" font-weight="bold" stroke="#000" stroke-width="0.45" font-family='"Liberation Sans", sans-serif' textLength="31.6" lengthAdjust="spacingAndGlyphs">ILE164</text><g fill="none" stroke-linecap="round" stroke-linejoin="round"><path d="M38.8,311.5 L51.0,313.3" stroke="#900000" stroke-width="2.6"/><path d="M39.2,308.1 L51.4,309.9" stroke="#900000" stroke-width="2.6"/><path d="M37.7,315.7 L49.7,317.7" stroke="#900000" stroke-width="2.6"/><path d="M38.3,312.3 L50.3,314.3" stroke="#900000" stroke-width="2.6"/><path d="M51.2,311.6 L55.0,334.0 L73.7,344.5 L75.6,362.3 L64.3,377.4" stroke="#7c7c7c" stroke-width="7.4"/><path d="M60.0,328.0 L64.0,332.0" stroke="#6e6e6e" stroke-width="5.4"/><path d="M64.3,377.4 L41.8,384.9 L32.4,401.8 L45.5,414.9 L64.3,413.0 L70.0,392.4 L64.3,377.4" stroke="#7c7c7c" stroke-width="7.4"/><path d="M75.6,362.3 L90.6,369.8 L88.7,380.0" stroke="#7c7c7c" stroke-width="7.4"/><path d="M88.7,380.0 L86.0,388.0 L70.0,392.4" stroke="#b07a9a" stroke-width="7.4"/><path d="M98.3,315.2 L109.7,313.3" stroke="#900000" stroke-width="2.6"/><path d="M97.7,311.8 L109.1,309.9" stroke="#900000" stroke-width="2.6"/><path d="M109.4,311.6 L133.8,321.0 L152.5,300.4" stroke="#7c7c7c" stroke-width="7.4"/><path d="M133.8,321.0 L147.0,319.0" stroke="#7c7c7c" stroke-width="7.4"/><path d="M138.0,322.0 L143.0,326.0" stroke="#b07a9a" stroke-width="7.4"/><path d="M133.8,334.0 L141.3,347.3 L126.3,345.4" stroke="#7c7c7c" stroke-width="7.4"/><path d="M125.1,344.2 L119.4,349.8" stroke="#900000" stroke-width="2.6"/><path d="M127.5,346.6 L121.8,352.2" stroke="#900000" stroke-width="2.6"/><path d="M261.5,299.8 L270.9,307.3" stroke="#900000" stroke-width="2.6"/><path d="M263.7,297.2 L273.1,304.7" stroke="#900000" stroke-width="2.6"/><path d="M272.0,306.0 L266.3,319.0" stroke="#7c7c7c" stroke-width="7.4"/><path d="M266.3,319.0 L266.3,326.0" stroke="#b07a9a" stroke-width="7.4"/><path d="M266.3,330.0 L266.3,338.0 L249.4,343.5" stroke="#7c7c7c" stroke-width="7.4"/><path d="M262.0,345.0 L257.0,353.0" stroke="#a00000" stroke-width="7.4"/><path d="M182.0,362.3 L195.0,353.0" stroke="#b07a9a" stroke-width="7.4"/><path d="M195.0,353.0 L195.0,344.0" stroke="#7c7c7c" stroke-width="7.4"/><path d="M196.7,344.0 L196.7,338.0" stroke="#900000" stroke-width="2.6"/><path d="M193.3,344.0 L193.3,338.0" stroke="#900000" stroke-width="2.6"/><path d="M195.0,362.3 L225.0,369.8 L223.2,388.0" stroke="#7c7c7c" stroke-width="7.4"/><path d="M223.2,388.0 L223.2,392.3 L235.0,395.0" stroke="#b07a9a" stroke-width="7.4"/><path d="M235.0,395.0 L251.3,398.0 L272.0,403.6 L277.6,398.0" stroke="#7c7c7c" stroke-width="7.4"/><path d="M272.0,403.6 L275.0,415.0" stroke="#7c7c7c" stroke-width="7.4"/><path d="M245.9,401.0 L245.9,407.3" stroke="#900000" stroke-width="2.6"/><path d="M249.3,401.0 L249.3,407.3" stroke="#900000" stroke-width="2.6"/><path d="M256.0,450.3 L263.5,429.5" stroke="#b07a9a" stroke-width="7.4"/><path d="M263.5,429.5 L291.9,435.1" stroke="#7c7c7c" stroke-width="7.4"/><path d="M290.4,435.8 L292.3,439.7" stroke="#900000" stroke-width="2.6"/><path d="M293.4,434.4 L295.3,438.3" stroke="#900000" stroke-width="2.6"/><path d="M186.0,455.0 L210.5,459.7 L223.8,448.4 L244.6,456.9" stroke="#7c7c7c" stroke-width="7.4"/><path d="M216.0,446.5 L223.8,448.4" stroke="#6e6e6e" stroke-width="7.4"/><path d="M244.6,456.9 L256.0,450.3" stroke="#b07a9a" stroke-width="7.4"/><path d="M255.5,455.8 L258.2,460.5" stroke="#900000" stroke-width="2.6"/><path d="M258.5,454.2 L261.2,458.9" stroke="#900000" stroke-width="2.6"/><path d="M150.0,501.3 L167.0,495.7 L186.0,503.2 L186.0,518.4 L167.0,522.2 L152.0,516.5 L150.0,501.3" stroke="#7c7c7c" stroke-width="7.4"/><path d="M186.0,518.4 L204.9,524.0 L221.9,531.6" stroke="#7c7c7c" stroke-width="7.4"/><path d="M221.9,524.0 L221.9,531.6" stroke="#6e6e6e" stroke-width="7.4"/><path d="M221.9,531.6 L237.0,544.9" stroke="#b07a9a" stroke-width="7.4"/><path d="M104.5,476.7 L104.5,488.0" stroke="#a00000" stroke-width="7.4"/><path d="M115.8,474.9 L115.8,488.0" stroke="#a00000" stroke-width="7.4"/><path d="M104.5,488.0 L106.4,495.7 L119.6,499.4 L115.8,488.0" stroke="#7c7c7c" stroke-width="7.4"/><path d="M127.2,514.6 L129.0,527.8" stroke="#b07a9a" stroke-width="7.4"/><path d="M119.6,499.4 L127.2,514.6" stroke="#7c7c7c" stroke-width="7.4"/><path d="M40.2,488.0 L45.8,505.1" stroke="#b07a9a" stroke-width="7.4"/><path d="M45.8,505.1 L40.2,508.9 L40.2,522.0 L60.0,524.0" stroke="#7c7c7c" stroke-width="7.4"/><path d="M60.0,524.0 L80.0,526.0" stroke="#b07a9a" stroke-width="7.4"/><path d="M80.0,526.0 L110.0,528.8" stroke="#7c7c7c" stroke-width="7.4"/><path d="M46.1,516.5 L51.1,519.5" stroke="#900000" stroke-width="2.6"/><path d="M47.9,513.5 L52.9,516.5" stroke="#900000" stroke-width="2.6"/><path d="M38.8,311.5 L51.0,313.3" stroke="#e00000" stroke-width="1.7"/><path d="M39.2,308.1 L51.4,309.9" stroke="#e00000" stroke-width="1.7"/><path d="M37.7,315.7 L49.7,317.7" stroke="#e00000" stroke-width="1.7"/><path d="M38.3,312.3 L50.3,314.3" stroke="#e00000" stroke-width="1.7"/><path d="M51.2,311.6 L55.0,334.0 L73.7,344.5 L75.6,362.3 L64.3,377.4" stroke="#c6c6c6" stroke-width="6.0"/><path d="M60.0,328.0 L64.0,332.0" stroke="#a0a0a0" stroke-width="4.0"/><path d="M64.3,377.4 L41.8,384.9 L32.4,401.8 L45.5,414.9 L64.3,413.0 L70.0,392.4 L64.3,377.4" stroke="#c6c6c6" stroke-width="6.0"/><path d="M75.6,362.3 L90.6,369.8 L88.7,380.0" stroke="#c6c6c6" stroke-width="6.0"/><path d="M88.7,380.0 L86.0,388.0 L70.0,392.4" stroke="#e6a6cf" stroke-width="6.0"/><path d="M98.3,315.2 L109.7,313.3" stroke="#e00000" stroke-width="1.7"/><path d="M97.7,311.8 L109.1,309.9" stroke="#e00000" stroke-width="1.7"/><path d="M109.4,311.6 L133.8,321.0 L152.5,300.4" stroke="#c6c6c6" stroke-width="6.0"/><path d="M133.8,321.0 L147.0,319.0" stroke="#c6c6c6" stroke-width="6.0"/><path d="M138.0,322.0 L143.0,326.0" stroke="#e6a6cf" stroke-width="6.0"/><path d="M133.8,334.0 L141.3,347.3 L126.3,345.4" stroke="#c6c6c6" stroke-width="6.0"/><path d="M125.1,344.2 L119.4,349.8" stroke="#e00000" stroke-width="1.7"/><path d="M127.5,346.6 L121.8,352.2" stroke="#e00000" stroke-width="1.7"/><path d="M261.5,299.8 L270.9,307.3" stroke="#e00000" stroke-width="1.7"/><path d="M263.7,297.2 L273.1,304.7" stroke="#e00000" stroke-width="1.7"/><path d="M272.0,306.0 L266.3,319.0" stroke="#c6c6c6" stroke-width="6.0"/><path d="M266.3,319.0 L266.3,326.0" stroke="#e6a6cf" stroke-width="6.0"/><path d="M266.3,330.0 L266.3,338.0 L249.4,343.5" stroke="#c6c6c6" stroke-width="6.0"/><path d="M262.0,345.0 L257.0,353.0" stroke="#e00000" stroke-width="6.0"/><path d="M182.0,362.3 L195.0,353.0" stroke="#e6a6cf" stroke-width="6.0"/><path d="M195.0,353.0 L195.0,344.0" stroke="#c6c6c6" stroke-width="6.0"/><path d="M196.7,344.0 L196.7,338.0" stroke="#e00000" stroke-width="1.7"/><path d="M193.3,344.0 L193.3,338.0" stroke="#e00000" stroke-width="1.7"/><path d="M195.0,362.3 L225.0,369.8 L223.2,388.0" stroke="#c6c6c6" stroke-width="6.0"/><path d="M223.2,388.0 L223.2,392.3 L235.0,395.0" stroke="#e6a6cf" stroke-width="6.0"/><path d="M235.0,395.0 L251.3,398.0 L272.0,403.6 L277.6,398.0" stroke="#c6c6c6" stroke-width="6.0"/><path d="M272.0,403.6 L275.0,415.0" stroke="#c6c6c6" stroke-width="6.0"/><path d="M245.9,401.0 L245.9,407.3" stroke="#e00000" stroke-width="1.7"/><path d="M249.3,401.0 L249.3,407.3" stroke="#e00000" stroke-width="1.7"/><path d="M256.0,450.3 L263.5,429.5" stroke="#e6a6cf" stroke-width="6.0"/><path d="M263.5,429.5 L291.9,435.1" stroke="#c6c6c6" stroke-width="6.0"/><path d="M290.4,435.8 L292.3,439.7" stroke="#e00000" stroke-width="1.7"/><path d="M293.4,434.4 L295.3,438.3" stroke="#e00000" stroke-width="1.7"/><path d="M186.0,455.0 L210.5,459.7 L223.8,448.4 L244.6,456.9" stroke="#c6c6c6" stroke-width="6.0"/><path d="M216.0,446.5 L223.8,448.4" stroke="#a0a0a0" stroke-width="6.0"/><path d="M244.6,456.9 L256.0,450.3" stroke="#e6a6cf" stroke-width="6.0"/><path d="M255.5,455.8 L258.2,460.5" stroke="#e00000" stroke-width="1.7"/><path d="M258.5,454.2 L261.2,458.9" stroke="#e00000" stroke-width="1.7"/><path d="M150.0,501.3 L167.0,495.7 L186.0,503.2 L186.0,518.4 L167.0,522.2 L152.0,516.5 L150.0,501.3" stroke="#c6c6c6" stroke-width="6.0"/><path d="M186.0,518.4 L204.9,524.0 L221.9,531.6" stroke="#c6c6c6" stroke-width="6.0"/><path d="M221.9,524.0 L221.9,531.6" stroke="#a0a0a0" stroke-width="6.0"/><path d="M221.9,531.6 L237.0,544.9" stroke="#e6a6cf" stroke-width="6.0"/><path d="M104.5,476.7 L104.5,488.0" stroke="#e00000" stroke-width="6.0"/><path d="M115.8,474.9 L115.8,488.0" stroke="#e00000" stroke-width="6.0"/><path d="M104.5,488.0 L106.4,495.7 L119.6,499.4 L115.8,488.0" stroke="#c6c6c6" stroke-width="6.0"/><path d="M127.2,514.6 L129.0,527.8" stroke="#e6a6cf" stroke-width="6.0"/><path d="M119.6,499.4 L127.2,514.6" stroke="#c6c6c6" stroke-width="6.0"/><path d="M40.2,488.0 L45.8,505.1" stroke="#e6a6cf" stroke-width="6.0"/><path d="M45.8,505.1 L40.2,508.9 L40.2,522.0 L60.0,524.0" stroke="#c6c6c6" stroke-width="6.0"/><path d="M60.0,524.0 L80.0,526.0" stroke="#e6a6cf" stroke-width="6.0"/><path d="M80.0,526.0 L110.0,528.8" stroke="#c6c6c6" stroke-width="6.0"/><path d="M46.1,516.5 L51.1,519.5" stroke="#e00000" stroke-width="1.7"/><path d="M47.9,513.5 L52.9,516.5" stroke="#e00000" stroke-width="1.7"/><path d="M51.2,311.6 L55.0,334.0 L73.7,344.5 L75.6,362.3 L64.3,377.4" stroke="#f2f2f2" stroke-width="1.8"/><path d="M60.0,328.0 L64.0,332.0" stroke="#c8c8c8" stroke-width="1.2"/><path d="M64.3,377.4 L41.8,384.9 L32.4,401.8 L45.5,414.9 L64.3,413.0 L70.0,392.4 L64.3,377.4" stroke="#f2f2f2" stroke-width="1.8"/><path d="M75.6,362.3 L90.6,369.8 L88.7,380.0" stroke="#f2f2f2" stroke-width="1.8"/><path d="M88.7,380.0 L86.0,388.0 L70.0,392.4" stroke="#f6d0e8" stroke-width="1.8"/><path d="M109.4,311.6 L133.8,321.0 L152.5,300.4" stroke="#f2f2f2" stroke-width="1.8"/><path d="M133.8,321.0 L147.0,319.0" stroke="#f2f2f2" stroke-width="1.8"/><path d="M138.0,322.0 L143.0,326.0" stroke="#f6d0e8" stroke-width="1.8"/><path d="M133.8,334.0 L141.3,347.3 L126.3,345.4" stroke="#f2f2f2" stroke-width="1.8"/><path d="M272.0,306.0 L266.3,319.0" stroke="#f2f2f2" stroke-width="1.8"/><path d="M266.3,319.0 L266.3,326.0" stroke="#f6d0e8" stroke-width="1.8"/><path d="M266.3,330.0 L266.3,338.0 L249.4,343.5" stroke="#f2f2f2" stroke-width="1.8"/><path d="M262.0,345.0 L257.0,353.0" stroke="#ff4040" stroke-width="1.8"/><path d="M182.0,362.3 L195.0,353.0" stroke="#f6d0e8" stroke-width="1.8"/><path d="M195.0,353.0 L195.0,344.0" stroke="#f2f2f2" stroke-width="1.8"/><path d="M195.0,362.3 L225.0,369.8 L223.2,388.0" stroke="#f2f2f2" stroke-width="1.8"/><path d="M223.2,388.0 L223.2,392.3 L235.0,395.0" stroke="#f6d0e8" stroke-width="1.8"/><path d="M235.0,395.0 L251.3,398.0 L272.0,403.6 L277.6,398.0" stroke="#f2f2f2" stroke-width="1.8"/><path d="M272.0,403.6 L275.0,415.0" stroke="#f2f2f2" stroke-width="1.8"/><path d="M256.0,450.3 L263.5,429.5" stroke="#f6d0e8" stroke-width="1.8"/><path d="M263.5,429.5 L291.9,435.1" stroke="#f2f2f2" stroke-width="1.8"/><path d="M186.0,455.0 L210.5,459.7 L223.8,448.4 L244.6,456.9" stroke="#f2f2f2" stroke-width="1.8"/><path d="M216.0,446.5 L223.8,448.4" stroke="#c8c8c8" stroke-width="1.8"/><path d="M244.6,456.9 L256.0,450.3" stroke="#f6d0e8" stroke-width="1.8"/><path d="M150.0,501.3 L167.0,495.7 L186.0,503.2 L186.0,518.4 L167.0,522.2 L152.0,516.5 L150.0,501.3" stroke="#f2f2f2" stroke-width="1.8"/><path d="M186.0,518.4 L204.9,524.0 L221.9,531.6" stroke="#f2f2f2" stroke-width="1.8"/><path d="M221.9,524.0 L221.9,531.6" stroke="#c8c8c8" stroke-width="1.8"/><path d="M221.9,531.6 L237.0,544.9" stroke="#f6d0e8" stroke-width="1.8"/><path d="M104.5,476.7 L104.5,488.0" stroke="#ff4040" stroke-width="1.8"/><path d="M115.8,474.9 L115.8,488.0" stroke="#ff4040" stroke-width="1.8"/><path d="M104.5,488.0 L106.4,495.7 L119.6,499.4 L115.8,488.0" stroke="#f2f2f2" stroke-width="1.8"/><path d="M127.2,514.6 L129.0,527.8" stroke="#f6d0e8" stroke-width="1.8"/><path d="M119.6,499.4 L127.2,514.6" stroke="#f2f2f2" stroke-width="1.8"/><path d="M40.2,488.0 L45.8,505.1" stroke="#f6d0e8" stroke-width="1.8"/><path d="M45.8,505.1 L40.2,508.9 L40.2,522.0 L60.0,524.0" stroke="#f2f2f2" stroke-width="1.8"/><path d="M60.0,524.0 L80.0,526.0" stroke="#f6d0e8" stroke-width="1.8"/><path d="M80.0,526.0 L110.0,528.8" stroke="#f2f2f2" stroke-width="1.8"/></g><path d="M157.5,302.3 L183.0,316.0" fill="none" stroke="#707070" stroke-width="1.3" stroke-dasharray="3,3"/><path d="M208.0,327.0 L242.0,338.0" fill="none" stroke="#707070" stroke-width="1.3" stroke-dasharray="3,3"/><path d="M157.5,317.3 L171.0,332.0" fill="none" stroke="#707070" stroke-width="1.3" stroke-dasharray="3,3"/><path d="M70.4,423.8 L81.8,444.6" fill="none" stroke="#707070" stroke-width="1.3" stroke-dasharray="3,3"/><path d="M132.8,473.0 L146.0,497.5" fill="none" stroke="#707070" stroke-width="1.3" stroke-dasharray="3,3"/><path d="M148.0,461.6 L157.4,480.5" fill="none" stroke="#707070" stroke-width="1.3" stroke-dasharray="3,3"/><path d="M97.0,492.0 L95.0,520.0" fill="none" stroke="#707070" stroke-width="1.3" stroke-dasharray="3,3"/><path d="M204.9,420.0 L212.4,440.8" fill="none" stroke="#707070" stroke-width="1.3" stroke-dasharray="3,3"/><path d="M150.0,461.6 L163.2,490.0" fill="none" stroke="#707070" stroke-width="1.3" stroke-dasharray="3,3"/><path d="M119.2,330.0 L125.0,338.0" fill="none" stroke="#707070" stroke-width="1.3" stroke-dasharray="3,3"/><g fill="none" stroke-linecap="round" stroke-linejoin="round"><path d="M173.3,335.0 L186.6,316.0 L202.0,310.5 L204.8,323.0 L197.8,333.0 L181.0,341.3 L173.3,335.0" stroke="#7a3c00" stroke-width="6.6"/><path d="M194.8,334.2 L195.9,343.2" stroke="#900000" stroke-width="2.6"/><path d="M198.2,333.8 L199.3,342.8" stroke="#900000" stroke-width="2.6"/><path d="M180.0,345.4 L165.0,362.3 L176.3,377.3 L178.0,393.0 L197.6,404.7 L217.3,391.0" stroke="#7a3c00" stroke-width="7.4"/><path d="M197.6,404.7 L205.5,406.7" stroke="#7a3c00" stroke-width="7.4"/><path d="M178.0,393.0 L162.4,406.7 L166.3,426.3 L184.0,424.3 L195.7,410.6" stroke="#7a3c00" stroke-width="7.4"/><path d="M162.4,406.7 L154.5,393.0" stroke="#7a3c00" stroke-width="7.4"/><path d="M154.5,393.0 L160.4,379.2" stroke="#b07a9a" stroke-width="7.4"/><path d="M160.4,379.2 L172.0,377.3" stroke="#7a3c00" stroke-width="7.4"/><path d="M184.0,424.3 L187.0,433.0" stroke="#7a3c00" stroke-width="7.4"/><path d="M185.4,434.5 L188.4,444.5" stroke="#900000" stroke-width="2.6"/><path d="M188.6,433.5 L191.6,443.5" stroke="#900000" stroke-width="2.6"/><path d="M166.3,426.3 L146.7,440.0 L144.7,453.7 L127.0,465.5 L111.4,467.5 L114.0,480.0 L98.8,480.5" stroke="#7a3c00" stroke-width="7.4"/><path d="M150.6,406.7 L146.7,414.5" stroke="#7a3c00" stroke-width="7.4"/><path d="M142.0,399.3 L151.0,406.3" stroke="#900000" stroke-width="2.6"/><path d="M144.0,396.7 L153.0,403.7" stroke="#900000" stroke-width="2.6"/><path d="M146.7,414.5 L125.0,414.5 L121.0,430.2 L97.6,434.0" stroke="#7a3c00" stroke-width="7.4"/><path d="M151.1,420.5 L160.1,425.8" stroke="#900000" stroke-width="2.6"/><path d="M152.9,417.5 L161.9,422.8" stroke="#900000" stroke-width="2.6"/><path d="M97.6,434.0 L85.9,445.9 L81.8,446.5" stroke="#7a3c00" stroke-width="7.4"/><path d="M96.9,439.0 L114.0,463.5 L129.0,465.4 L146.0,454.0 L151.7,439.0 L159.3,429.5 L167.0,425.7 L182.0,431.3" stroke="#7a3c00" stroke-width="7.4"/><path d="M180.5,432.1 L186.3,443.5" stroke="#900000" stroke-width="2.6"/><path d="M183.5,430.5 L189.3,441.9" stroke="#900000" stroke-width="2.6"/><path d="M173.3,335.0 L186.6,316.0 L202.0,310.5 L204.8,323.0 L197.8,333.0 L181.0,341.3 L173.3,335.0" stroke="#e07a0c" stroke-width="5.2"/><path d="M194.8,334.2 L195.9,343.2" stroke="#e00000" stroke-width="1.7"/><path d="M198.2,333.8 L199.3,342.8" stroke="#e00000" stroke-width="1.7"/><path d="M180.0,345.4 L165.0,362.3 L176.3,377.3 L178.0,393.0 L197.6,404.7 L217.3,391.0" stroke="#e07a0c" stroke-width="6.0"/><path d="M197.6,404.7 L205.5,406.7" stroke="#e07a0c" stroke-width="6.0"/><path d="M178.0,393.0 L162.4,406.7 L166.3,426.3 L184.0,424.3 L195.7,410.6" stroke="#e07a0c" stroke-width="6.0"/><path d="M162.4,406.7 L154.5,393.0" stroke="#e07a0c" stroke-width="6.0"/><path d="M154.5,393.0 L160.4,379.2" stroke="#e6a6cf" stroke-width="6.0"/><path d="M160.4,379.2 L172.0,377.3" stroke="#e07a0c" stroke-width="6.0"/><path d="M184.0,424.3 L187.0,433.0" stroke="#e07a0c" stroke-width="6.0"/><path d="M185.4,434.5 L188.4,444.5" stroke="#e00000" stroke-width="1.7"/><path d="M188.6,433.5 L191.6,443.5" stroke="#e00000" stroke-width="1.7"/><path d="M166.3,426.3 L146.7,440.0 L144.7,453.7 L127.0,465.5 L111.4,467.5 L114.0,480.0 L98.8,480.5" stroke="#e07a0c" stroke-width="6.0"/><path d="M150.6,406.7 L146.7,414.5" stroke="#e07a0c" stroke-width="6.0"/><path d="M142.0,399.3 L151.0,406.3" stroke="#e00000" stroke-width="1.7"/><path d="M144.0,396.7 L153.0,403.7" stroke="#e00000" stroke-width="1.7"/><path d="M146.7,414.5 L125.0,414.5 L121.0,430.2 L97.6,434.0" stroke="#e07a0c" stroke-width="6.0"/><path d="M151.1,420.5 L160.1,425.8" stroke="#e00000" stroke-width="1.7"/><path d="M152.9,417.5 L161.9,422.8" stroke="#e00000" stroke-width="1.7"/><path d="M97.6,434.0 L85.9,445.9 L81.8,446.5" stroke="#e07a0c" stroke-width="6.0"/><path d="M96.9,439.0 L114.0,463.5 L129.0,465.4 L146.0,454.0 L151.7,439.0 L159.3,429.5 L167.0,425.7 L182.0,431.3" stroke="#e07a0c" stroke-width="6.0"/><path d="M180.5,432.1 L186.3,443.5" stroke="#e00000" stroke-width="1.7"/><path d="M183.5,430.5 L189.3,441.9" stroke="#e00000" stroke-width="1.7"/><path d="M173.3,335.0 L186.6,316.0 L202.0,310.5 L204.8,323.0 L197.8,333.0 L181.0,341.3 L173.3,335.0" stroke="#f09a38" stroke-width="1.6"/><path d="M180.0,345.4 L165.0,362.3 L176.3,377.3 L178.0,393.0 L197.6,404.7 L217.3,391.0" stroke="#f09a38" stroke-width="1.8"/><path d="M197.6,404.7 L205.5,406.7" stroke="#f09a38" stroke-width="1.8"/><path d="M178.0,393.0 L162.4,406.7 L166.3,426.3 L184.0,424.3 L195.7,410.6" stroke="#f09a38" stroke-width="1.8"/><path d="M162.4,406.7 L154.5,393.0" stroke="#f09a38" stroke-width="1.8"/><path d="M154.5,393.0 L160.4,379.2" stroke="#f6d0e8" stroke-width="1.8"/><path d="M160.4,379.2 L172.0,377.3" stroke="#f09a38" stroke-width="1.8"/><path d="M184.0,424.3 L187.0,433.0" stroke="#f09a38" stroke-width="1.8"/><path d="M166.3,426.3 L146.7,440.0 L144.7,453.7 L127.0,465.5 L111.4,467.5 L114.0,480.0 L98.8,480.5" stroke="#f09a38" stroke-width="1.8"/><path d="M150.6,406.7 L146.7,414.5" stroke="#f09a38" stroke-width="1.8"/><path d="M146.7,414.5 L125.0,414.5 L121.0,430.2 L97.6,434.0" stroke="#f09a38" stroke-width="1.8"/><path d="M97.6,434.0 L85.9,445.9 L81.8,446.5" stroke="#f09a38" stroke-width="1.8"/><path d="M96.9,439.0 L114.0,463.5 L129.0,465.4 L146.0,454.0 L151.7,439.0 L159.3,429.5 L167.0,425.7 L182.0,431.3" stroke="#f09a38" stroke-width="1.8"/></g><circle cx="97.6" cy="435" r="4" fill="#d00000"/><path d="M118.8,353.0 L160.4,377.3" fill="none" stroke="#1a1ad0" stroke-width="1.2"/><path d="M97.8,437.0 L115.8,473.0" fill="none" stroke="#1a1ad0" stroke-width="1.2"/><text x="24.2" y="364.0" font-size="16.7" font-weight="bold" stroke="#000" stroke-width="0.45" font-family='"Liberation Sans", sans-serif' textLength="54.0" lengthAdjust="spacingAndGlyphs">TRP388</text><text x="90.8" y="339.6" font-size="16.7" font-weight="bold" stroke="#000" stroke-width="0.45" font-family='"Liberation Sans", sans-serif' textLength="56.9" lengthAdjust="spacingAndGlyphs">PRO385</text><text x="231.8" y="334.8" font-size="16.4" font-weight="bold" stroke="#000" stroke-width="0.45" font-family='"Liberation Sans", sans-serif' textLength="54.0" lengthAdjust="spacingAndGlyphs">THR321</text><text x="194.2" y="379.8" font-size="15.2" font-weight="bold" stroke="#000" stroke-width="0.45" font-family='"Liberation Sans", sans-serif' textLength="55.0" lengthAdjust="spacingAndGlyphs">GLN161</text><text x="236.2" y="425.8" font-size="16.4" font-weight="bold" stroke="#000" stroke-width="0.45" font-family='"Liberation Sans", sans-serif' textLength="54.6" lengthAdjust="spacingAndGlyphs">VAL165</text><text x="212.6" y="476.6" font-size="16.8" font-weight="bold" stroke="#000" stroke-width="0.45" font-family='"Liberation Sans", sans-serif' textLength="47.9" lengthAdjust="spacingAndGlyphs">ILE164</text><text x="19.5" y="487.8" font-size="15.5" font-weight="bold" stroke="#000" stroke-width="0.45" font-family='"Liberation Sans", sans-serif' textLength="53.6" lengthAdjust="spacingAndGlyphs">TRP412</text><text x="82.9" y="514.4" font-size="16.8" font-weight="bold" stroke="#000" stroke-width="0.45" font-family='"Liberation Sans", sans-serif' textLength="54.5" lengthAdjust="spacingAndGlyphs">THR137</text><text x="174.8" y="522.8" font-size="15.3" font-weight="bold" stroke="#000" stroke-width="0.45" font-family='"Liberation Sans", sans-serif' textLength="46.9" lengthAdjust="spacingAndGlyphs">PHE26</text><g fill="none" stroke-linecap="round" stroke-linejoin="round"><path d="M628.6,168.1 L636.0,166.0" stroke="#b07a9a" stroke-width="6.4"/><path d="M636.0,166.0 L644.7,164.5 L652.0,175.3" stroke="#7c7c7c" stroke-width="6.4"/><path d="M652.0,175.3 L659.0,187.8" stroke="#b07a9a" stroke-width="6.4"/><path d="M645.2,169.1 L648.7,173.1" stroke="#900000" stroke-width="2.6"/><path d="M647.8,166.9 L651.3,170.9" stroke="#900000" stroke-width="2.6"/><path d="M614.4,188.3 L616.4,195.5" stroke="#900000" stroke-width="2.6"/><path d="M617.6,187.3 L619.6,194.5" stroke="#900000" stroke-width="2.6"/><path d="M659.0,189.6 L657.3,220.0 L671.6,204.0" stroke="#7c7c7c" stroke-width="6.4"/><path d="M671.6,204.0 L677.0,200.4" stroke="#b07a9a" stroke-width="6.4"/><path d="M655.6,221.7 L653.8,230.6" stroke="#900000" stroke-width="2.6"/><path d="M659.0,222.3 L657.2,231.2" stroke="#900000" stroke-width="2.6"/><path d="M670.0,187.3 L668.2,192.7" stroke="#900000" stroke-width="2.6"/><path d="M673.2,188.3 L671.4,193.7" stroke="#900000" stroke-width="2.6"/><path d="M664.2,240.5 L664.2,264.2 L671.4,282.4 L666.0,297.0" stroke="#7c7c7c" stroke-width="6.4"/><path d="M664.3,300.0 L664.3,313.3" stroke="#900000" stroke-width="2.6"/><path d="M667.7,300.0 L667.7,313.3" stroke="#900000" stroke-width="2.6"/><path d="M719.4,159.2 L720.0,166.0" stroke="#a00000" stroke-width="6.4"/><path d="M726.6,161.0 L719.4,173.5" stroke="#b07a9a" stroke-width="6.4"/><path d="M719.4,173.5 L715.9,195.0" stroke="#7c7c7c" stroke-width="6.4"/><path d="M714.4,199.2 L709.0,208.6" stroke="#900000" stroke-width="2.6"/><path d="M717.4,200.8 L712.0,210.2" stroke="#900000" stroke-width="2.6"/><path d="M760.7,214.8 L770.0,220.0" stroke="#6e6e6e" stroke-width="6.4"/><path d="M770.0,220.0 L780.4,225.5 L791.2,220.1" stroke="#7c7c7c" stroke-width="6.4"/><path d="M791.2,220.1 L802.0,198.6" stroke="#b07a9a" stroke-width="6.4"/><path d="M780.4,225.5 L773.2,248.8" stroke="#7c7c7c" stroke-width="6.4"/><path d="M791.2,220.1 L803.7,234.5" stroke="#7c7c7c" stroke-width="6.4"/><path d="M802.3,237.1 L798.7,242.5" stroke="#900000" stroke-width="2.6"/><path d="M805.1,238.9 L801.5,244.3" stroke="#900000" stroke-width="2.6"/><path d="M776.4,259.0 L785.0,259.0" stroke="#b07a9a" stroke-width="6.4"/><path d="M785.0,259.0 L791.0,259.0 L806.0,278.0" stroke="#7c7c7c" stroke-width="6.4"/><path d="M789.3,249.4 L789.3,255.0" stroke="#900000" stroke-width="2.6"/><path d="M792.7,249.4 L792.7,255.0" stroke="#900000" stroke-width="2.6"/><path d="M806.0,278.0 L812.8,300.3" stroke="#b07a9a" stroke-width="6.4"/><path d="M817.2,269.2 L823.7,262.7" stroke="#900000" stroke-width="2.6"/><path d="M814.8,266.8 L821.3,260.3" stroke="#900000" stroke-width="2.6"/><path d="M568.8,314.7 L567.0,327.8" stroke="#b07a9a" stroke-width="6.4"/><path d="M567.0,327.8 L580.0,339.0" stroke="#b07a9a" stroke-width="6.4"/><path d="M554.8,325.4 L562.2,331.0" stroke="#900000" stroke-width="2.6"/><path d="M556.8,322.6 L564.2,328.2" stroke="#900000" stroke-width="2.6"/><path d="M548.3,340.8 L572.5,331.5" stroke="#7c7c7c" stroke-width="6.4"/><path d="M544.8,345.0 L544.8,352.0" stroke="#900000" stroke-width="2.6"/><path d="M548.2,345.0 L548.2,352.0" stroke="#900000" stroke-width="2.6"/><path d="M628.4,355.7 L649.0,348.3 L665.7,355.7" stroke="#7c7c7c" stroke-width="6.4"/><path d="M665.7,355.7 L675.0,346.4 L689.0,348.3" stroke="#b07a9a" stroke-width="6.4"/><path d="M665.7,355.7 L665.7,381.8" stroke="#7c7c7c" stroke-width="6.4"/><path d="M664.3,384.4 L665.9,391.4" stroke="#900000" stroke-width="2.6"/><path d="M667.7,383.6 L669.3,390.6" stroke="#900000" stroke-width="2.6"/><path d="M628.4,355.7 L615.0,368.0 L615.4,389.2 L630.3,381.8 L636.0,363.0 L628.4,355.7" stroke="#7c7c7c" stroke-width="6.4"/><path d="M605.0,392.0 L594.9,396.7" stroke="#a00000" stroke-width="6.4"/><path d="M720.6,293.0 L732.7,285.8 L747.3,293.0 L747.3,310.0 L732.7,317.3 L720.6,310.0 L720.6,293.0" stroke="#7c7c7c" stroke-width="6.4"/><path d="M720.6,310.0 L706.0,327.0 L703.6,339.0 L686.7,348.8" stroke="#7c7c7c" stroke-width="6.4"/><path d="M686.7,348.8 L674.5,346.4" stroke="#b07a9a" stroke-width="6.4"/><path d="M688.5,353.8 L692.5,361.8" stroke="#900000" stroke-width="2.6"/><path d="M691.5,352.2 L695.5,360.2" stroke="#900000" stroke-width="2.6"/><path d="M660.0,353.7 L667.3,375.5" stroke="#7c7c7c" stroke-width="6.4"/><path d="M665.6,382.0 L665.6,394.9" stroke="#900000" stroke-width="2.6"/><path d="M669.0,382.0 L669.0,394.9" stroke="#900000" stroke-width="2.6"/><path d="M669.4,270.0 L669.4,294.2" stroke="#7c7c7c" stroke-width="6.4"/><path d="M665.3,299.8 L664.0,312.7" stroke="#900000" stroke-width="2.6"/><path d="M668.7,300.2 L667.4,313.1" stroke="#900000" stroke-width="2.6"/><path d="M678.8,279.3 L684.0,281.0" stroke="#b07a9a" stroke-width="6.4"/><path d="M628.6,168.1 L636.0,166.0" stroke="#e6a6cf" stroke-width="5.0"/><path d="M636.0,166.0 L644.7,164.5 L652.0,175.3" stroke="#c6c6c6" stroke-width="5.0"/><path d="M652.0,175.3 L659.0,187.8" stroke="#e6a6cf" stroke-width="5.0"/><path d="M645.2,169.1 L648.7,173.1" stroke="#e00000" stroke-width="1.7"/><path d="M647.8,166.9 L651.3,170.9" stroke="#e00000" stroke-width="1.7"/><path d="M614.4,188.3 L616.4,195.5" stroke="#e00000" stroke-width="1.7"/><path d="M617.6,187.3 L619.6,194.5" stroke="#e00000" stroke-width="1.7"/><path d="M659.0,189.6 L657.3,220.0 L671.6,204.0" stroke="#c6c6c6" stroke-width="5.0"/><path d="M671.6,204.0 L677.0,200.4" stroke="#e6a6cf" stroke-width="5.0"/><path d="M655.6,221.7 L653.8,230.6" stroke="#e00000" stroke-width="1.7"/><path d="M659.0,222.3 L657.2,231.2" stroke="#e00000" stroke-width="1.7"/><path d="M670.0,187.3 L668.2,192.7" stroke="#e00000" stroke-width="1.7"/><path d="M673.2,188.3 L671.4,193.7" stroke="#e00000" stroke-width="1.7"/><path d="M664.2,240.5 L664.2,264.2 L671.4,282.4 L666.0,297.0" stroke="#c6c6c6" stroke-width="5.0"/><path d="M664.3,300.0 L664.3,313.3" stroke="#e00000" stroke-width="1.7"/><path d="M667.7,300.0 L667.7,313.3" stroke="#e00000" stroke-width="1.7"/><path d="M719.4,159.2 L720.0,166.0" stroke="#e00000" stroke-width="5.0"/><path d="M726.6,161.0 L719.4,173.5" stroke="#e6a6cf" stroke-width="5.0"/><path d="M719.4,173.5 L715.9,195.0" stroke="#c6c6c6" stroke-width="5.0"/><path d="M714.4,199.2 L709.0,208.6" stroke="#e00000" stroke-width="1.7"/><path d="M717.4,200.8 L712.0,210.2" stroke="#e00000" stroke-width="1.7"/><path d="M760.7,214.8 L770.0,220.0" stroke="#a0a0a0" stroke-width="5.0"/><path d="M770.0,220.0 L780.4,225.5 L791.2,220.1" stroke="#c6c6c6" stroke-width="5.0"/><path d="M791.2,220.1 L802.0,198.6" stroke="#e6a6cf" stroke-width="5.0"/><path d="M780.4,225.5 L773.2,248.8" stroke="#c6c6c6" stroke-width="5.0"/><path d="M791.2,220.1 L803.7,234.5" stroke="#c6c6c6" stroke-width="5.0"/><path d="M802.3,237.1 L798.7,242.5" stroke="#e00000" stroke-width="1.7"/><path d="M805.1,238.9 L801.5,244.3" stroke="#e00000" stroke-width="1.7"/><path d="M776.4,259.0 L785.0,259.0" stroke="#e6a6cf" stroke-width="5.0"/><path d="M785.0,259.0 L791.0,259.0 L806.0,278.0" stroke="#c6c6c6" stroke-width="5.0"/><path d="M789.3,249.4 L789.3,255.0" stroke="#e00000" stroke-width="1.7"/><path d="M792.7,249.4 L792.7,255.0" stroke="#e00000" stroke-width="1.7"/><path d="M806.0,278.0 L812.8,300.3" stroke="#e6a6cf" stroke-width="5.0"/><path d="M817.2,269.2 L823.7,262.7" stroke="#e00000" stroke-width="1.7"/><path d="M814.8,266.8 L821.3,260.3" stroke="#e00000" stroke-width="1.7"/><path d="M568.8,314.7 L567.0,327.8" stroke="#e6a6cf" stroke-width="5.0"/><path d="M567.0,327.8 L580.0,339.0" stroke="#e6a6cf" stroke-width="5.0"/><path d="M554.8,325.4 L562.2,331.0" stroke="#e00000" stroke-width="1.7"/><path d="M556.8,322.6 L564.2,328.2" stroke="#e00000" stroke-width="1.7"/><path d="M548.3,340.8 L572.5,331.5" stroke="#c6c6c6" stroke-width="5.0"/><path d="M544.8,345.0 L544.8,352.0" stroke="#e00000" stroke-width="1.7"/><path d="M548.2,345.0 L548.2,352.0" stroke="#e00000" stroke-width="1.7"/><path d="M628.4,355.7 L649.0,348.3 L665.7,355.7" stroke="#c6c6c6" stroke-width="5.0"/><path d="M665.7,355.7 L675.0,346.4 L689.0,348.3" stroke="#e6a6cf" stroke-width="5.0"/><path d="M665.7,355.7 L665.7,381.8" stroke="#c6c6c6" stroke-width="5.0"/><path d="M664.3,384.4 L665.9,391.4" stroke="#e00000" stroke-width="1.7"/><path d="M667.7,383.6 L669.3,390.6" stroke="#e00000" stroke-width="1.7"/><path d="M628.4,355.7 L615.0,368.0 L615.4,389.2 L630.3,381.8 L636.0,363.0 L628.4,355.7" stroke="#c6c6c6" stroke-width="5.0"/><path d="M605.0,392.0 L594.9,396.7" stroke="#e00000" stroke-width="5.0"/><path d="M720.6,293.0 L732.7,285.8 L747.3,293.0 L747.3,310.0 L732.7,317.3 L720.6,310.0 L720.6,293.0" stroke="#c6c6c6" stroke-width="5.0"/><path d="M720.6,310.0 L706.0,327.0 L703.6,339.0 L686.7,348.8" stroke="#c6c6c6" stroke-width="5.0"/><path d="M686.7,348.8 L674.5,346.4" stroke="#e6a6cf" stroke-width="5.0"/><path d="M688.5,353.8 L692.5,361.8" stroke="#e00000" stroke-width="1.7"/><path d="M691.5,352.2 L695.5,360.2" stroke="#e00000" stroke-width="1.7"/><path d="M660.0,353.7 L667.3,375.5" stroke="#c6c6c6" stroke-width="5.0"/><path d="M665.6,382.0 L665.6,394.9" stroke="#e00000" stroke-width="1.7"/><path d="M669.0,382.0 L669.0,394.9" stroke="#e00000" stroke-width="1.7"/><path d="M669.4,270.0 L669.4,294.2" stroke="#c6c6c6" stroke-width="5.0"/><path d="M665.3,299.8 L664.0,312.7" stroke="#e00000" stroke-width="1.7"/><path d="M668.7,300.2 L667.4,313.1" stroke="#e00000" stroke-width="1.7"/><path d="M678.8,279.3 L684.0,281.0" stroke="#e6a6cf" stroke-width="5.0"/><path d="M628.6,168.1 L636.0,166.0" stroke="#f6d0e8" stroke-width="1.5"/><path d="M636.0,166.0 L644.7,164.5 L652.0,175.3" stroke="#f2f2f2" stroke-width="1.5"/><path d="M652.0,175.3 L659.0,187.8" stroke="#f6d0e8" stroke-width="1.5"/><path d="M659.0,189.6 L657.3,220.0 L671.6,204.0" stroke="#f2f2f2" stroke-width="1.5"/><path d="M671.6,204.0 L677.0,200.4" stroke="#f6d0e8" stroke-width="1.5"/><path d="M664.2,240.5 L664.2,264.2 L671.4,282.4 L666.0,297.0" stroke="#f2f2f2" stroke-width="1.5"/><path d="M719.4,159.2 L720.0,166.0" stroke="#ff4040" stroke-width="1.5"/><path d="M726.6,161.0 L719.4,173.5" stroke="#f6d0e8" stroke-width="1.5"/><path d="M719.4,173.5 L715.9,195.0" stroke="#f2f2f2" stroke-width="1.5"/><path d="M760.7,214.8 L770.0,220.0" stroke="#c8c8c8" stroke-width="1.5"/><path d="M770.0,220.0 L780.4,225.5 L791.2,220.1" stroke="#f2f2f2" stroke-width="1.5"/><path d="M791.2,220.1 L802.0,198.6" stroke="#f6d0e8" stroke-width="1.5"/><path d="M780.4,225.5 L773.2,248.8" stroke="#f2f2f2" stroke-width="1.5"/><path d="M791.2,220.1 L803.7,234.5" stroke="#f2f2f2" stroke-width="1.5"/><path d="M776.4,259.0 L785.0,259.0" stroke="#f6d0e8" stroke-width="1.5"/><path d="M785.0,259.0 L791.0,259.0 L806.0,278.0" stroke="#f2f2f2" stroke-width="1.5"/><path d="M806.0,278.0 L812.8,300.3" stroke="#f6d0e8" stroke-width="1.5"/><path d="M568.8,314.7 L567.0,327.8" stroke="#f6d0e8" stroke-width="1.5"/><path d="M567.0,327.8 L580.0,339.0" stroke="#f6d0e8" stroke-width="1.5"/><path d="M548.3,340.8 L572.5,331.5" stroke="#f2f2f2" stroke-width="1.5"/><path d="M628.4,355.7 L649.0,348.3 L665.7,355.7" stroke="#f2f2f2" stroke-width="1.5"/><path d="M665.7,355.7 L675.0,346.4 L689.0,348.3" stroke="#f6d0e8" stroke-width="1.5"/><path d="M665.7,355.7 L665.7,381.8" stroke="#f2f2f2" stroke-width="1.5"/><path d="M628.4,355.7 L615.0,368.0 L615.4,389.2 L630.3,381.8 L636.0,363.0 L628.4,355.7" stroke="#f2f2f2" stroke-width="1.5"/><path d="M605.0,392.0 L594.9,396.7" stroke="#ff4040" stroke-width="1.5"/><path d="M720.6,293.0 L732.7,285.8 L747.3,293.0 L747.3,310.0 L732.7,317.3 L720.6,310.0 L720.6,293.0" stroke="#f2f2f2" stroke-width="1.5"/><path d="M720.6,310.0 L706.0,327.0 L703.6,339.0 L686.7,348.8" stroke="#f2f2f2" stroke-width="1.5"/><path d="M686.7,348.8 L674.5,346.4" stroke="#f6d0e8" stroke-width="1.5"/><path d="M660.0,353.7 L667.3,375.5" stroke="#f2f2f2" stroke-width="1.5"/><path d="M669.4,270.0 L669.4,294.2" stroke="#f2f2f2" stroke-width="1.5"/><path d="M678.8,279.3 L684.0,281.0" stroke="#f6d0e8" stroke-width="1.5"/></g><path d="M759.0,218.3 L732.0,236.3" fill="none" stroke="#707070" stroke-width="1.3" stroke-dasharray="3,3"/><path d="M719.4,259.6 L719.4,290.0" fill="none" stroke="#707070" stroke-width="1.3" stroke-dasharray="3,3"/><path d="M710.5,205.8 L698.0,229.0" fill="none" stroke="#707070" stroke-width="1.3" stroke-dasharray="3,3"/><path d="M578.0,324.0 L602.4,305.4" fill="none" stroke="#707070" stroke-width="1.3" stroke-dasharray="3,3"/><path d="M630.3,327.8 L628.4,352.0" fill="none" stroke="#707070" stroke-width="1.3" stroke-dasharray="3,3"/><path d="M649.0,316.6 L649.0,348.3" fill="none" stroke="#707070" stroke-width="1.3" stroke-dasharray="3,3"/><path d="M664.8,271.2 L689.0,273.6" fill="none" stroke="#707070" stroke-width="1.3" stroke-dasharray="3,3"/><path d="M666.0,270.0 L680.0,279.0" fill="none" stroke="#707070" stroke-width="1.3" stroke-dasharray="3,3"/><g fill="none" stroke-linecap="round" stroke-linejoin="round"><path d="M615.0,289.6 L631.4,280.5 L647.8,297.0 L647.8,311.5 L631.4,322.4 L616.8,309.7 L615.0,289.6" stroke="#00006e" stroke-width="8.4"/><path d="M631.4,280.5 L633.2,266.0 L647.8,253.2 L664.2,266.0 L664.2,282.4 L647.8,297.0" stroke="#00006e" stroke-width="8.4"/><path d="M664.2,266.0 L678.7,253.2 L693.3,266.0 L695.1,282.4 L678.7,293.3 L664.2,282.4" stroke="#00006e" stroke-width="8.4"/><path d="M678.7,253.2 L678.7,233.2 L697.0,231.4 L704.2,249.6 L693.3,266.0" stroke="#00006e" stroke-width="8.4"/><path d="M704.2,249.6 L727.9,238.7 L715.0,218.7 L722.4,204.0" stroke="#00006e" stroke-width="8.4"/><path d="M727.9,240.0 L731.5,269.6" stroke="#00006e" stroke-width="8.4"/><path d="M647.8,253.2 L647.8,247.8" stroke="#00006e" stroke-width="8.4"/><path d="M678.7,230.0 L673.3,218.7" stroke="#a00000" stroke-width="8.4"/><path d="M602.3,273.3 L615.0,289.6" stroke="#00006e" stroke-width="8.4"/><path d="M607.7,298.8 L615.0,289.6" stroke="#00006e" stroke-width="8.4"/><path d="M616.3,308.1 L603.5,311.7" stroke="#900000" stroke-width="2.6"/><path d="M617.3,311.3 L604.5,314.9" stroke="#900000" stroke-width="2.6"/><path d="M677.0,297.2 L678.8,313.5" stroke="#900000" stroke-width="2.6"/><path d="M680.4,296.8 L682.2,313.1" stroke="#900000" stroke-width="2.6"/><path d="M686.0,211.4 L697.0,213.2" stroke="#a00000" stroke-width="8.4"/><path d="M697.0,213.2 L711.5,215.0" stroke="#00006e" stroke-width="8.4"/><path d="M725.9,244.0 L742.7,245.1" stroke="#900000" stroke-width="2.6"/><path d="M726.1,240.6 L742.9,241.7" stroke="#900000" stroke-width="2.6"/><path d="M615.0,289.6 L631.4,280.5 L647.8,297.0 L647.8,311.5 L631.4,322.4 L616.8,309.7 L615.0,289.6" stroke="#1212cc" stroke-width="7.0"/><path d="M631.4,280.5 L633.2,266.0 L647.8,253.2 L664.2,266.0 L664.2,282.4 L647.8,297.0" stroke="#1212cc" stroke-width="7.0"/><path d="M664.2,266.0 L678.7,253.2 L693.3,266.0 L695.1,282.4 L678.7,293.3 L664.2,282.4" stroke="#1212cc" stroke-width="7.0"/><path d="M678.7,253.2 L678.7,233.2 L697.0,231.4 L704.2,249.6 L693.3,266.0" stroke="#1212cc" stroke-width="7.0"/><path d="M704.2,249.6 L727.9,238.7 L715.0,218.7 L722.4,204.0" stroke="#1212cc" stroke-width="7.0"/><path d="M727.9,240.0 L731.5,269.6" stroke="#1212cc" stroke-width="7.0"/><path d="M647.8,253.2 L647.8,247.8" stroke="#1212cc" stroke-width="7.0"/><path d="M678.7,230.0 L673.3,218.7" stroke="#e00000" stroke-width="7.0"/><path d="M602.3,273.3 L615.0,289.6" stroke="#1212cc" stroke-width="7.0"/><path d="M607.7,298.8 L615.0,289.6" stroke="#1212cc" stroke-width="7.0"/><path d="M616.3,308.1 L603.5,311.7" stroke="#e00000" stroke-width="1.7"/><path d="M617.3,311.3 L604.5,314.9" stroke="#e00000" stroke-width="1.7"/><path d="M677.0,297.2 L678.8,313.5" stroke="#e00000" stroke-width="1.7"/><path d="M680.4,296.8 L682.2,313.1" stroke="#e00000" stroke-width="1.7"/><path d="M686.0,211.4 L697.0,213.2" stroke="#e00000" stroke-width="7.0"/><path d="M697.0,213.2 L711.5,215.0" stroke="#1212cc" stroke-width="7.0"/><path d="M725.9,244.0 L742.7,245.1" stroke="#e00000" stroke-width="1.7"/><path d="M726.1,240.6 L742.9,241.7" stroke="#e00000" stroke-width="1.7"/><path d="M615.0,289.6 L631.4,280.5 L647.8,297.0 L647.8,311.5 L631.4,322.4 L616.8,309.7 L615.0,289.6" stroke="#3434ee" stroke-width="2.1"/><path d="M631.4,280.5 L633.2,266.0 L647.8,253.2 L664.2,266.0 L664.2,282.4 L647.8,297.0" stroke="#3434ee" stroke-width="2.1"/><path d="M664.2,266.0 L678.7,253.2 L693.3,266.0 L695.1,282.4 L678.7,293.3 L664.2,282.4" stroke="#3434ee" stroke-width="2.1"/><path d="M678.7,253.2 L678.7,233.2 L697.0,231.4 L704.2,249.6 L693.3,266.0" stroke="#3434ee" stroke-width="2.1"/><path d="M704.2,249.6 L727.9,238.7 L715.0,218.7 L722.4,204.0" stroke="#3434ee" stroke-width="2.1"/><path d="M727.9,240.0 L731.5,269.6" stroke="#3434ee" stroke-width="2.1"/><path d="M647.8,253.2 L647.8,247.8" stroke="#3434ee" stroke-width="2.1"/><path d="M678.7,230.0 L673.3,218.7" stroke="#ff4040" stroke-width="2.1"/><path d="M602.3,273.3 L615.0,289.6" stroke="#3434ee" stroke-width="2.1"/><path d="M607.7,298.8 L615.0,289.6" stroke="#3434ee" stroke-width="2.1"/><path d="M686.0,211.4 L697.0,213.2" stroke="#ff4040" stroke-width="2.1"/><path d="M697.0,213.2 L711.5,215.0" stroke="#3434ee" stroke-width="2.1"/></g><path d="M659.0,189.6 L673.4,216.5" fill="none" stroke="#1a1ad0" stroke-width="1.2"/><path d="M657.3,234.4 L687.7,211.0" fill="none" stroke="#1a1ad0" stroke-width="1.2"/><path d="M686.0,179.0 L687.7,209.3" fill="none" stroke="#1a1ad0" stroke-width="1.2"/><path d="M742.8,243.4 L775.0,257.8" fill="none" stroke="#1a1ad0" stroke-width="1.2"/><text x="594.8" y="184.1" font-size="16.0" font-weight="bold" stroke="#000" stroke-width="0.45" font-family='"Liberation Sans", sans-serif' textLength="43.5" lengthAdjust="spacingAndGlyphs">ASN415</text><text x="655.7" y="180.5" font-size="16.0" font-weight="bold" stroke="#000" stroke-width="0.45" font-family='"Liberation Sans", sans-serif' textLength="42.9" lengthAdjust="spacingAndGlyphs">GLN283</text><text x="703.5" y="189.5" font-size="16.0" font-weight="bold" stroke="#000" stroke-width="0.45" font-family='"Liberation Sans", sans-serif' textLength="35.5" lengthAdjust="spacingAndGlyphs">THR30</text><text x="761.8" y="209.2" font-size="16.0" font-weight="bold" stroke="#000" stroke-width="0.45" font-family='"Liberation Sans", sans-serif' textLength="36.3" lengthAdjust="spacingAndGlyphs">ILE168</text><text x="620.7" y="245.8" font-size="14.7" font-weight="bold" stroke="#000" stroke-width="0.45" font-family='"Liberation Sans", sans-serif' textLength="40.0" lengthAdjust="spacingAndGlyphs">ASN288</text><text x="777.8" y="280.8" font-size="16.7" font-weight="bold" stroke="#000" stroke-width="0.45" font-family='"Liberation Sans", sans-serif' textLength="43.3" lengthAdjust="spacingAndGlyphs">ASN317</text><text x="697.8" y="325.6" font-size="16.6" font-weight="bold" stroke="#000" stroke-width="0.45" font-family='"Liberation Sans", sans-serif' textLength="42.0" lengthAdjust="spacingAndGlyphs">PHE291</text><text x="551.3" y="353.6" font-size="15.2" font-weight="bold" stroke="#000" stroke-width="0.45" font-family='"Liberation Sans", sans-serif' textLength="43.4" lengthAdjust="spacingAndGlyphs">GLN423</text><text x="603.5" y="377.8" font-size="16.4" font-weight="bold" stroke="#000" stroke-width="0.45" font-family='"Liberation Sans", sans-serif' textLength="40.6" lengthAdjust="spacingAndGlyphs">TYR292</text><g fill="none" stroke-linecap="round" stroke-linejoin="round"><path d="M644.5,471.4 L651.6,480.3" stroke="#900000" stroke-width="2.6"/><path d="M647.1,469.2 L654.2,478.1" stroke="#900000" stroke-width="2.6"/><path d="M652.9,479.2 L668.9,477.4" stroke="#7c7c7c" stroke-width="6.4"/><path d="M668.9,477.4 L674.2,475.6" stroke="#b07a9a" stroke-width="6.4"/><path d="M674.2,475.6 L676.0,493.4 L688.5,493.4" stroke="#7c7c7c" stroke-width="6.4"/><path d="M688.5,493.4 L698.3,495.5" stroke="#a00000" stroke-width="6.4"/><path d="M706.5,417.7 L715.4,418.6" stroke="#900000" stroke-width="2.6"/><path d="M706.9,414.3 L715.8,415.2" stroke="#900000" stroke-width="2.6"/><path d="M715.6,416.9 L719.1,434.7" stroke="#7c7c7c" stroke-width="6.4"/><path d="M719.1,434.7 L733.3,436.5" stroke="#b07a9a" stroke-width="6.4"/><path d="M719.1,434.7 L719.1,441.8 L728.0,443.6" stroke="#7c7c7c" stroke-width="6.4"/><path d="M719.1,441.8 L708.5,459.6" stroke="#b07a9a" stroke-width="6.4"/><path d="M716.4,485.9 L721.8,489.4" stroke="#900000" stroke-width="2.6"/><path d="M718.2,483.1 L723.6,486.6" stroke="#900000" stroke-width="2.6"/><path d="M707.8,493.2 L713.3,495.6" stroke="#900000" stroke-width="2.6"/><path d="M709.2,490.0 L714.7,492.4" stroke="#900000" stroke-width="2.6"/><path d="M722.7,497.0 L737.0,491.6" stroke="#7c7c7c" stroke-width="6.4"/><path d="M729.8,500.5 L733.0,510.0" stroke="#b07a9a" stroke-width="6.4"/><path d="M719.1,533.5 L729.9,535.3" stroke="#900000" stroke-width="2.6"/><path d="M719.7,530.1 L730.5,531.9" stroke="#900000" stroke-width="2.6"/><path d="M730.2,533.6 L741.0,547.9 L748.1,540.8" stroke="#7c7c7c" stroke-width="6.4"/><path d="M738.0,548.0 L745.0,553.0" stroke="#6e6e6e" stroke-width="6.4"/><path d="M597.7,516.5 L610.2,516.5" stroke="#900000" stroke-width="2.6"/><path d="M597.7,513.1 L610.2,513.1" stroke="#900000" stroke-width="2.6"/><path d="M610.2,514.8 L620.9,529.0" stroke="#7c7c7c" stroke-width="6.4"/><path d="M619.6,548.0 L630.4,542.5 L646.5,551.5 L648.3,565.8 L635.8,573.0 L621.4,567.6 L619.6,548.0" stroke="#7c7c7c" stroke-width="6.4"/><path d="M545.0,556.2 L553.9,565.2" stroke="#900000" stroke-width="2.6"/><path d="M547.4,553.8 L556.3,562.8" stroke="#900000" stroke-width="2.6"/><path d="M555.1,564.0 L558.7,567.6 L570.0,560.0" stroke="#7c7c7c" stroke-width="6.4"/><path d="M570.0,560.0 L574.8,551.5 L585.6,551.5" stroke="#b07a9a" stroke-width="6.4"/><path d="M585.6,551.5 L582.0,567.6" stroke="#6e6e6e" stroke-width="6.4"/><path d="M605.3,558.7 L600.0,567.6" stroke="#b07a9a" stroke-width="6.4"/><path d="M600.0,567.6 L598.1,578.0" stroke="#7c7c7c" stroke-width="6.4"/><path d="M596.4,578.0 L596.4,587.3" stroke="#900000" stroke-width="2.6"/><path d="M599.8,578.0 L599.8,587.3" stroke="#900000" stroke-width="2.6"/><path d="M637.6,562.3 L648.3,567.6" stroke="#6e6e6e" stroke-width="6.4"/><path d="M648.3,567.6 L655.5,580.2" stroke="#b07a9a" stroke-width="6.4"/><path d="M648.3,567.6 L664.4,555.0 L669.8,560.5" stroke="#7c7c7c" stroke-width="6.4"/><path d="M615.2,574.5 L622.4,578.1" stroke="#900000" stroke-width="2.6"/><path d="M616.8,571.5 L624.0,575.1" stroke="#900000" stroke-width="2.6"/><path d="M623.2,576.6 L646.5,571.2" stroke="#7c7c7c" stroke-width="6.4"/><path d="M758.9,537.2 L767.1,521.8 L783.1,525.4 L787.6,546.1 L776.8,555.1 L760.7,558.7 L758.9,537.2" stroke="#7c7c7c" stroke-width="6.4"/><path d="M762.0,540.0 L769.0,527.0 L781.0,530.0" stroke="#7c7c7c" stroke-width="3.4"/><path d="M760.7,558.7 L755.3,571.2 L766.0,587.4" stroke="#b07a9a" stroke-width="6.4"/><path d="M766.0,587.4 L776.8,583.8 L776.8,555.1" stroke="#7c7c7c" stroke-width="6.4"/><path d="M776.8,583.8 L789.4,598.1 L801.9,589.2 L812.7,601.7" stroke="#7c7c7c" stroke-width="6.4"/><path d="M813.9,602.9 L822.9,594.0" stroke="#900000" stroke-width="2.6"/><path d="M811.5,600.5 L820.5,591.6" stroke="#900000" stroke-width="2.6"/><path d="M708.7,567.6 L715.9,589.2 L739.2,573.0" stroke="#7c7c7c" stroke-width="7.4"/><path d="M715.9,589.2 L696.1,600.0" stroke="#7c7c7c" stroke-width="6.4"/><path d="M696.9,598.5 L686.2,593.0" stroke="#900000" stroke-width="2.6"/><path d="M695.3,601.5 L684.6,596.0" stroke="#900000" stroke-width="2.6"/><path d="M696.1,600.0 L692.6,612.5 L703.3,635.8" stroke="#7c7c7c" stroke-width="6.4"/><path d="M703.1,637.5 L717.5,639.3" stroke="#900000" stroke-width="2.6"/><path d="M703.5,634.1 L717.9,635.9" stroke="#900000" stroke-width="2.6"/><path d="M692.6,635.8 L698.0,632.0" stroke="#b07a9a" stroke-width="6.4"/><path d="M683.3,596.0 L689.1,599.5" stroke="#900000" stroke-width="2.6"/><path d="M685.1,593.0 L690.9,596.5" stroke="#900000" stroke-width="2.6"/><path d="M709.2,568.3 L716.5,588.3 L742.0,573.7" stroke="#7c7c7c" stroke-width="6.4"/><path d="M715.9,607.1 L717.7,617.9" stroke="#b07a9a" stroke-width="6.4"/><path d="M717.7,605.3 L726.6,610.7" stroke="#7c7c7c" stroke-width="6.4"/><path d="M728.1,611.5 L733.5,600.8" stroke="#900000" stroke-width="2.6"/><path d="M725.1,609.9 L730.5,599.2" stroke="#900000" stroke-width="2.6"/><path d="M726.6,610.7 L728.4,634.0 L741.0,634.0" stroke="#7c7c7c" stroke-width="6.4"/><path d="M741.0,634.0 L753.5,639.4" stroke="#b07a9a" stroke-width="6.4"/><path d="M728.4,634.0 L724.8,646.5" stroke="#7c7c7c" stroke-width="6.4"/><path d="M726.1,645.4 L719.0,636.5" stroke="#900000" stroke-width="2.6"/><path d="M723.5,647.6 L716.4,638.7" stroke="#900000" stroke-width="2.6"/><path d="M644.5,471.4 L651.6,480.3" stroke="#e00000" stroke-width="1.7"/><path d="M647.1,469.2 L654.2,478.1" stroke="#e00000" stroke-width="1.7"/><path d="M652.9,479.2 L668.9,477.4" stroke="#c6c6c6" stroke-width="5.0"/><path d="M668.9,477.4 L674.2,475.6" stroke="#e6a6cf" stroke-width="5.0"/><path d="M674.2,475.6 L676.0,493.4 L688.5,493.4" stroke="#c6c6c6" stroke-width="5.0"/><path d="M688.5,493.4 L698.3,495.5" stroke="#e00000" stroke-width="5.0"/><path d="M706.5,417.7 L715.4,418.6" stroke="#e00000" stroke-width="1.7"/><path d="M706.9,414.3 L715.8,415.2" stroke="#e00000" stroke-width="1.7"/><path d="M715.6,416.9 L719.1,434.7" stroke="#c6c6c6" stroke-width="5.0"/><path d="M719.1,434.7 L733.3,436.5" stroke="#e6a6cf" stroke-width="5.0"/><path d="M719.1,434.7 L719.1,441.8 L728.0,443.6" stroke="#c6c6c6" stroke-width="5.0"/><path d="M719.1,441.8 L708.5,459.6" stroke="#e6a6cf" stroke-width="5.0"/><path d="M716.4,485.9 L721.8,489.4" stroke="#e00000" stroke-width="1.7"/><path d="M718.2,483.1 L723.6,486.6" stroke="#e00000" stroke-width="1.7"/><path d="M707.8,493.2 L713.3,495.6" stroke="#e00000" stroke-width="1.7"/><path d="M709.2,490.0 L714.7,492.4" stroke="#e00000" stroke-width="1.7"/><path d="M722.7,497.0 L737.0,491.6" stroke="#c6c6c6" stroke-width="5.0"/><path d="M729.8,500.5 L733.0,510.0" stroke="#e6a6cf" stroke-width="5.0"/><path d="M719.1,533.5 L729.9,535.3" stroke="#e00000" stroke-width="1.7"/><path d="M719.7,530.1 L730.5,531.9" stroke="#e00000" stroke-width="1.7"/><path d="M730.2,533.6 L741.0,547.9 L748.1,540.8" stroke="#c6c6c6" stroke-width="5.0"/><path d="M738.0,548.0 L745.0,553.0" stroke="#a0a0a0" stroke-width="5.0"/><path d="M597.7,516.5 L610.2,516.5" stroke="#e00000" stroke-width="1.7"/><path d="M597.7,513.1 L610.2,513.1" stroke="#e00000" stroke-width="1.7"/><path d="M610.2,514.8 L620.9,529.0" stroke="#c6c6c6" stroke-width="5.0"/><path d="M619.6,548.0 L630.4,542.5 L646.5,551.5 L648.3,565.8 L635.8,573.0 L621.4,567.6 L619.6,548.0" stroke="#c6c6c6" stroke-width="5.0"/><path d="M545.0,556.2 L553.9,565.2" stroke="#e00000" stroke-width="1.7"/><path d="M547.4,553.8 L556.3,562.8" stroke="#e00000" stroke-width="1.7"/><path d="M555.1,564.0 L558.7,567.6 L570.0,560.0" stroke="#c6c6c6" stroke-width="5.0"/><path d="M570.0,560.0 L574.8,551.5 L585.6,551.5" stroke="#e6a6cf" stroke-width="5.0"/><path d="M585.6,551.5 L582.0,567.6" stroke="#a0a0a0" stroke-width="5.0"/><path d="M605.3,558.7 L600.0,567.6" stroke="#e6a6cf" stroke-width="5.0"/><path d="M600.0,567.6 L598.1,578.0" stroke="#c6c6c6" stroke-width="5.0"/><path d="M596.4,578.0 L596.4,587.3" stroke="#e00000" stroke-width="1.7"/><path d="M599.8,578.0 L599.8,587.3" stroke="#e00000" stroke-width="1.7"/><path d="M637.6,562.3 L648.3,567.6" stroke="#a0a0a0" stroke-width="5.0"/><path d="M648.3,567.6 L655.5,580.2" stroke="#e6a6cf" stroke-width="5.0"/><path d="M648.3,567.6 L664.4,555.0 L669.8,560.5" stroke="#c6c6c6" stroke-width="5.0"/><path d="M615.2,574.5 L622.4,578.1" stroke="#e00000" stroke-width="1.7"/><path d="M616.8,571.5 L624.0,575.1" stroke="#e00000" stroke-width="1.7"/><path d="M623.2,576.6 L646.5,571.2" stroke="#c6c6c6" stroke-width="5.0"/><path d="M758.9,537.2 L767.1,521.8 L783.1,525.4 L787.6,546.1 L776.8,555.1 L760.7,558.7 L758.9,537.2" stroke="#c6c6c6" stroke-width="5.0"/><path d="M762.0,540.0 L769.0,527.0 L781.0,530.0" stroke="#c6c6c6" stroke-width="2.0"/><path d="M760.7,558.7 L755.3,571.2 L766.0,587.4" stroke="#e6a6cf" stroke-width="5.0"/><path d="M766.0,587.4 L776.8,583.8 L776.8,555.1" stroke="#c6c6c6" stroke-width="5.0"/><path d="M776.8,583.8 L789.4,598.1 L801.9,589.2 L812.7,601.7" stroke="#c6c6c6" stroke-width="5.0"/><path d="M813.9,602.9 L822.9,594.0" stroke="#e00000" stroke-width="1.7"/><path d="M811.5,600.5 L820.5,591.6" stroke="#e00000" stroke-width="1.7"/><path d="M708.7,567.6 L715.9,589.2 L739.2,573.0" stroke="#c6c6c6" stroke-width="6.0"/><path d="M715.9,589.2 L696.1,600.0" stroke="#c6c6c6" stroke-width="5.0"/><path d="M696.9,598.5 L686.2,593.0" stroke="#e00000" stroke-width="1.7"/><path d="M695.3,601.5 L684.6,596.0" stroke="#e00000" stroke-width="1.7"/><path d="M696.1,600.0 L692.6,612.5 L703.3,635.8" stroke="#c6c6c6" stroke-width="5.0"/><path d="M703.1,637.5 L717.5,639.3" stroke="#e00000" stroke-width="1.7"/><path d="M703.5,634.1 L717.9,635.9" stroke="#e00000" stroke-width="1.7"/><path d="M692.6,635.8 L698.0,632.0" stroke="#e6a6cf" stroke-width="5.0"/><path d="M683.3,596.0 L689.1,599.5" stroke="#e00000" stroke-width="1.7"/><path d="M685.1,593.0 L690.9,596.5" stroke="#e00000" stroke-width="1.7"/><path d="M709.2,568.3 L716.5,588.3 L742.0,573.7" stroke="#c6c6c6" stroke-width="5.0"/><path d="M715.9,607.1 L717.7,617.9" stroke="#e6a6cf" stroke-width="5.0"/><path d="M717.7,605.3 L726.6,610.7" stroke="#c6c6c6" stroke-width="5.0"/><path d="M728.1,611.5 L733.5,600.8" stroke="#e00000" stroke-width="1.7"/><path d="M725.1,609.9 L730.5,599.2" stroke="#e00000" stroke-width="1.7"/><path d="M726.6,610.7 L728.4,634.0 L741.0,634.0" stroke="#c6c6c6" stroke-width="5.0"/><path d="M741.0,634.0 L753.5,639.4" stroke="#e6a6cf" stroke-width="5.0"/><path d="M728.4,634.0 L724.8,646.5" stroke="#c6c6c6" stroke-width="5.0"/><path d="M726.1,645.4 L719.0,636.5" stroke="#e00000" stroke-width="1.7"/><path d="M723.5,647.6 L716.4,638.7" stroke="#e00000" stroke-width="1.7"/><path d="M652.9,479.2 L668.9,477.4" stroke="#f2f2f2" stroke-width="1.5"/><path d="M668.9,477.4 L674.2,475.6" stroke="#f6d0e8" stroke-width="1.5"/><path d="M674.2,475.6 L676.0,493.4 L688.5,493.4" stroke="#f2f2f2" stroke-width="1.5"/><path d="M688.5,493.4 L698.3,495.5" stroke="#ff4040" stroke-width="1.5"/><path d="M715.6,416.9 L719.1,434.7" stroke="#f2f2f2" stroke-width="1.5"/><path d="M719.1,434.7 L733.3,436.5" stroke="#f6d0e8" stroke-width="1.5"/><path d="M719.1,434.7 L719.1,441.8 L728.0,443.6" stroke="#f2f2f2" stroke-width="1.5"/><path d="M719.1,441.8 L708.5,459.6" stroke="#f6d0e8" stroke-width="1.5"/><path d="M722.7,497.0 L737.0,491.6" stroke="#f2f2f2" stroke-width="1.5"/><path d="M729.8,500.5 L733.0,510.0" stroke="#f6d0e8" stroke-width="1.5"/><path d="M730.2,533.6 L741.0,547.9 L748.1,540.8" stroke="#f2f2f2" stroke-width="1.5"/><path d="M738.0,548.0 L745.0,553.0" stroke="#c8c8c8" stroke-width="1.5"/><path d="M610.2,514.8 L620.9,529.0" stroke="#f2f2f2" stroke-width="1.5"/><path d="M619.6,548.0 L630.4,542.5 L646.5,551.5 L648.3,565.8 L635.8,573.0 L621.4,567.6 L619.6,548.0" stroke="#f2f2f2" stroke-width="1.5"/><path d="M555.1,564.0 L558.7,567.6 L570.0,560.0" stroke="#f2f2f2" stroke-width="1.5"/><path d="M570.0,560.0 L574.8,551.5 L585.6,551.5" stroke="#f6d0e8" stroke-width="1.5"/><path d="M585.6,551.5 L582.0,567.6" stroke="#c8c8c8" stroke-width="1.5"/><path d="M605.3,558.7 L600.0,567.6" stroke="#f6d0e8" stroke-width="1.5"/><path d="M600.0,567.6 L598.1,578.0" stroke="#f2f2f2" stroke-width="1.5"/><path d="M637.6,562.3 L648.3,567.6" stroke="#c8c8c8" stroke-width="1.5"/><path d="M648.3,567.6 L655.5,580.2" stroke="#f6d0e8" stroke-width="1.5"/><path d="M648.3,567.6 L664.4,555.0 L669.8,560.5" stroke="#f2f2f2" stroke-width="1.5"/><path d="M623.2,576.6 L646.5,571.2" stroke="#f2f2f2" stroke-width="1.5"/><path d="M758.9,537.2 L767.1,521.8 L783.1,525.4 L787.6,546.1 L776.8,555.1 L760.7,558.7 L758.9,537.2" stroke="#f2f2f2" stroke-width="1.5"/><path d="M762.0,540.0 L769.0,527.0 L781.0,530.0" stroke="#f2f2f2" stroke-width="1.0"/><path d="M760.7,558.7 L755.3,571.2 L766.0,587.4" stroke="#f6d0e8" stroke-width="1.5"/><path d="M766.0,587.4 L776.8,583.8 L776.8,555.1" stroke="#f2f2f2" stroke-width="1.5"/><path d="M776.8,583.8 L789.4,598.1 L801.9,589.2 L812.7,601.7" stroke="#f2f2f2" stroke-width="1.5"/><path d="M708.7,567.6 L715.9,589.2 L739.2,573.0" stroke="#f2f2f2" stroke-width="1.8"/><path d="M715.9,589.2 L696.1,600.0" stroke="#f2f2f2" stroke-width="1.5"/><path d="M696.1,600.0 L692.6,612.5 L703.3,635.8" stroke="#f2f2f2" stroke-width="1.5"/><path d="M692.6,635.8 L698.0,632.0" stroke="#f6d0e8" stroke-width="1.5"/><path d="M709.2,568.3 L716.5,588.3 L742.0,573.7" stroke="#f2f2f2" stroke-width="1.5"/><path d="M715.9,607.1 L717.7,617.9" stroke="#f6d0e8" stroke-width="1.5"/><path d="M717.7,605.3 L726.6,610.7" stroke="#f2f2f2" stroke-width="1.5"/><path d="M726.6,610.7 L728.4,634.0 L741.0,634.0" stroke="#f2f2f2" stroke-width="1.5"/><path d="M741.0,634.0 L753.5,639.4" stroke="#f6d0e8" stroke-width="1.5"/><path d="M728.4,634.0 L724.8,646.5" stroke="#f2f2f2" stroke-width="1.5"/></g><path d="M679.6,498.7 L679.6,507.6" fill="none" stroke="#707070" stroke-width="1.3" stroke-dasharray="3,3"/><path d="M719.4,546.1 L741.0,551.5" fill="none" stroke="#707070" stroke-width="1.3" stroke-dasharray="3,3"/><path d="M719.4,548.0 L708.7,567.6" fill="none" stroke="#707070" stroke-width="1.3" stroke-dasharray="3,3"/><path d="M715.0,550.0 L710.0,565.0" fill="none" stroke="#707070" stroke-width="1.3" stroke-dasharray="3,3"/><g fill="none" stroke-linecap="round" stroke-linejoin="round"><path d="M634.6,510.0 L647.3,506.4 L656.4,515.5 L654.6,535.5 L643.7,542.8 L634.6,539.2 L629.1,521.0 L634.6,510.0" stroke="#006a78" stroke-width="7.8"/><path d="M629.1,521.0 L618.2,521.9" stroke="#a00000" stroke-width="7.8"/><path d="M656.4,524.6 L674.6,528.2 L680.0,510.0 L694.6,506.4 L703.7,522.8 L725.6,562.8" stroke="#006a78" stroke-width="7.8"/><path d="M725.6,562.8 L728.4,567.6" stroke="#a00000" stroke-width="7.8"/><path d="M697.8,495.1 L696.5,493.7" stroke="#a00000" stroke-width="7.8"/><path d="M685.3,491.6 L697.8,495.1" stroke="#7c7c7c" stroke-width="6.4"/><path d="M634.6,510.0 L647.3,506.4 L656.4,515.5 L654.6,535.5 L643.7,542.8 L634.6,539.2 L629.1,521.0 L634.6,510.0" stroke="#12c8d8" stroke-width="6.4"/><path d="M629.1,521.0 L618.2,521.9" stroke="#e00000" stroke-width="6.4"/><path d="M656.4,524.6 L674.6,528.2 L680.0,510.0 L694.6,506.4 L703.7,522.8 L725.6,562.8" stroke="#12c8d8" stroke-width="6.4"/><path d="M725.6,562.8 L728.4,567.6" stroke="#e00000" stroke-width="6.4"/><path d="M697.8,495.1 L696.5,493.7" stroke="#e00000" stroke-width="6.4"/><path d="M685.3,491.6 L697.8,495.1" stroke="#c6c6c6" stroke-width="5.0"/><path d="M634.6,510.0 L647.3,506.4 L656.4,515.5 L654.6,535.5 L643.7,542.8 L634.6,539.2 L629.1,521.0 L634.6,510.0" stroke="#60eaf4" stroke-width="1.9"/><path d="M629.1,521.0 L618.2,521.9" stroke="#ff4040" stroke-width="1.9"/><path d="M656.4,524.6 L674.6,528.2 L680.0,510.0 L694.6,506.4 L703.7,522.8 L725.6,562.8" stroke="#60eaf4" stroke-width="1.9"/><path d="M725.6,562.8 L728.4,567.6" stroke="#ff4040" stroke-width="1.9"/><path d="M697.8,495.1 L696.5,493.7" stroke="#ff4040" stroke-width="1.9"/><path d="M685.3,491.6 L697.8,495.1" stroke="#f2f2f2" stroke-width="1.5"/></g><circle cx="705.6" cy="528.2" r="3" fill="#c00000"/><circle cx="643" cy="523" r="2.2" fill="#e8e8e8" stroke="#888" stroke-width="0.6"/><path d="M643,524 L636,555" stroke="#40a040" stroke-width="0.8" stroke-dasharray="2,1.5" fill="none"/><path d="M708.5,459.6 L696.0,498.7" fill="none" stroke="#1a1ad0" stroke-width="1.2"/><path d="M717.3,486.2 L704.9,518.2 L729.8,502.2" fill="none" stroke="#1a1ad0" stroke-width="1.2"/><path d="M618.0,521.0 L607.0,556.9" fill="none" stroke="#1a1ad0" stroke-width="1.2"/><path d="M728.4,567.6 L755.3,571.2" fill="none" stroke="#1a1ad0" stroke-width="1.2"/><path d="M728.4,567.6 L748.1,542.5" fill="none" stroke="#1a1ad0" stroke-width="1.2"/><path d="M726.6,571.2 L715.9,605.3" fill="none" stroke="#1a1ad0" stroke-width="1.2"/><text x="697.1" y="436.3" font-size="17.1" font-weight="bold" stroke="#000" stroke-width="0.45" font-family='"Liberation Sans", sans-serif' textLength="38.7" lengthAdjust="spacingAndGlyphs">ASN415</text><text x="626.4" y="467.4" font-size="15.9" font-weight="bold" stroke="#000" stroke-width="0.45" font-family='"Liberation Sans", sans-serif' textLength="30.7" lengthAdjust="spacingAndGlyphs">THR30</text><text x="732.7" y="492.3" font-size="17.1" font-weight="bold" stroke="#000" stroke-width="0.45" font-family='"Liberation Sans", sans-serif' textLength="37.8" lengthAdjust="spacingAndGlyphs">GLN283</text><text x="575.7" y="513.7" font-size="15.9" font-weight="bold" stroke="#000" stroke-width="0.45" font-family='"Liberation Sans", sans-serif' textLength="36.9" lengthAdjust="spacingAndGlyphs">PHE291</text><text x="722.9" y="525.2" font-size="15.9" font-weight="bold" stroke="#000" stroke-width="0.45" font-family='"Liberation Sans", sans-serif' textLength="37.9" lengthAdjust="spacingAndGlyphs">GLN282</text><text x="559.8" y="566.5" font-size="16.0" font-weight="bold" stroke="#000" stroke-width="0.45" font-family='"Liberation Sans", sans-serif' textLength="37.2" lengthAdjust="spacingAndGlyphs">GLN172</text><text x="771.6" y="578.2" font-size="15.9" font-weight="bold" stroke="#000" stroke-width="0.45" font-family='"Liberation Sans", sans-serif' textLength="36.4" lengthAdjust="spacingAndGlyphs">TRP388</text><text x="668.2" y="588.0" font-size="17.1" font-weight="bold" stroke="#000" stroke-width="0.45" font-family='"Liberation Sans", sans-serif' textLength="36.6" lengthAdjust="spacingAndGlyphs">PHE379</text><text x="615.4" y="590.8" font-size="16.0" font-weight="bold" stroke="#000" stroke-width="0.45" font-family='"Liberation Sans", sans-serif' textLength="31.8" lengthAdjust="spacingAndGlyphs">ILE168</text><text x="659.2" y="630.2" font-size="17.3" font-weight="bold" stroke="#000" stroke-width="0.45" font-family='"Liberation Sans", sans-serif' textLength="32.3" lengthAdjust="spacingAndGlyphs">ILE164</text><text x="731.3" y="628.4" font-size="15.9" font-weight="bold" stroke="#000" stroke-width="0.45" font-family='"Liberation Sans", sans-serif' textLength="37.3" lengthAdjust="spacingAndGlyphs">GLN161</text>
<rect x="10.0" y="26.0" width="292" height="260" fill="none" stroke="#000" stroke-width="4"/>
<rect x="10.0" y="293.0" width="292" height="260" fill="none" stroke="#000" stroke-width="4"/>
<rect x="541.0" y="154.0" width="286" height="247" fill="none" stroke="#000" stroke-width="4"/>
<rect x="541.0" y="410.0" width="286" height="246" fill="none" stroke="#000" stroke-width="4"/>
<rect x="395.0" y="201.0" width="35.60000000000002" height="51.599999999999994" fill="none" stroke="#000" stroke-width="4"/>
<rect x="402.0" y="416.0" width="35.60000000000002" height="52.10000000000002" fill="none" stroke="#000" stroke-width="4"/>
<line x1="304" y1="27" x2="393" y2="199" stroke="#000" stroke-width="4.5" stroke-dasharray="14,5"/>
<line x1="304" y1="553" x2="395" y2="253" stroke="#000" stroke-width="4.5" stroke-dasharray="14,5"/>
<line x1="541" y1="155" x2="438" y2="417" stroke="#000" stroke-width="4.5" stroke-dasharray="14,5"/>
<line x1="438" y1="470" x2="538" y2="656" stroke="#000" stroke-width="4.5" stroke-dasharray="14,5"/>
<text x="249" y="275.5" font-size="35" font-weight="bold" stroke="#000" stroke-width="0.2" font-family='"Liberation Sans", sans-serif'>(A)</text>
<text x="249.5" y="544.5" font-size="34.5" font-weight="bold" stroke="#000" stroke-width="0.2" font-family='"Liberation Sans", sans-serif'>(B)</text>
<text x="779" y="390.5" font-size="35" font-weight="bold" stroke="#000" stroke-width="0.2" font-family='"Liberation Sans", sans-serif'>(C)</text>
<text x="778.5" y="644.5" font-size="35" font-weight="bold" stroke="#000" stroke-width="0.2" font-family='"Liberation Sans", sans-serif'>(D)</text>
</svg></body></html>
